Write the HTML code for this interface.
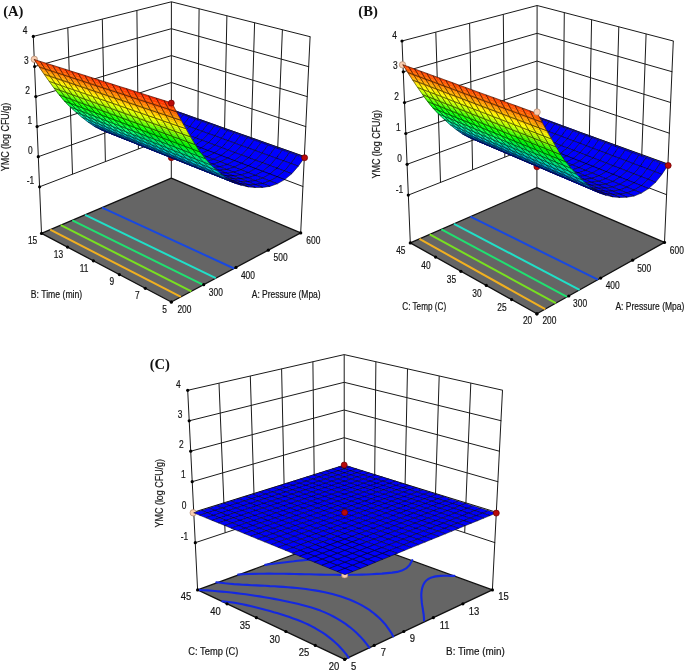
<!DOCTYPE html>
<html lang="en"><head><meta charset="utf-8"><title>Response surface plots</title>
<style>html,body{margin:0;padding:0;background:#fff}svg{display:block}</style></head>
<body>
<svg width="685" height="671" viewBox="0 0 685 671">
<rect width="685" height="671" fill="#fff"/>
<g id="plotA">
<polygon points="41.5,233.4 171.3,178.1 300.7,232.9 171.3,302" fill="#656565" stroke="#111" stroke-width="1.3" stroke-linejoin="round"/>
<line x1="50.2" y1="229.7" x2="180.9" y2="296.9" stroke="#f0b020" stroke-width="2.0"/>
<line x1="60.8" y1="225.2" x2="191.4" y2="291.3" stroke="#78e020" stroke-width="2.0"/>
<line x1="72.3" y1="220.3" x2="203.3" y2="284.9" stroke="#20e070" stroke-width="2.0"/>
<line x1="85.1" y1="214.8" x2="215.8" y2="278.2" stroke="#20e0c8" stroke-width="2.0"/>
<line x1="102.1" y1="207.6" x2="234.1" y2="268.5" stroke="#1848e0" stroke-width="2.0"/>
<path d="M171.3 109.9 L177.3 112 L183.3 114.2 L189.4 116.3 L195.5 118.5 L201.8 120.7 L208 122.9 L214.4 125.2 L220.8 127.5 L227.3 129.8 L233.9 132.1 L240.6 134.5 L247.3 136.9 L254.2 139.3 L261.1 141.8 L268 144.3 L275.1 146.8 L282.3 149.3 L289.5 151.9 L296.8 154.5 L304.3 157.1" fill="none" stroke="#0000ff" stroke-width="1.8" stroke-linecap="round" stroke-linejoin="round"/>
<path d="M33.3 36.4 L171.4 1.8 L310.1 36.7" fill="none" stroke="#1a1a1a" stroke-width="1.0" stroke-linecap="round" stroke-linejoin="round"/>
<path d="M34.6 66.5 L171.4 28.7 L308.7 66.7" fill="none" stroke="#1a1a1a" stroke-width="1.0" stroke-linecap="round" stroke-linejoin="round"/>
<path d="M35.8 96.6 L171.4 55.6 L307.2 96.6" fill="none" stroke="#1a1a1a" stroke-width="1.0" stroke-linecap="round" stroke-linejoin="round"/>
<path d="M37.1 126.6 L171.4 82.5 L305.8 126.6" fill="none" stroke="#1a1a1a" stroke-width="1.0" stroke-linecap="round" stroke-linejoin="round"/>
<path d="M38.3 156.7 L171.3 109.5 L304.4 156.5" fill="none" stroke="#1a1a1a" stroke-width="1.0" stroke-linecap="round" stroke-linejoin="round"/>
<path d="M39.6 186.8 L171.3 136.4 L302.9 186.5" fill="none" stroke="#1a1a1a" stroke-width="1.0" stroke-linecap="round" stroke-linejoin="round"/>
<line x1="41.5" y1="233.4" x2="33.3" y2="36.4" stroke="#1a1a1a" stroke-width="1.0"/>
<line x1="72.5" y1="174.2" x2="67.8" y2="27.8" stroke="#1a1a1a" stroke-width="1.0"/>
<line x1="105.4" y1="161.6" x2="102.3" y2="19.1" stroke="#1a1a1a" stroke-width="1.0"/>
<line x1="138.4" y1="149" x2="136.9" y2="10.4" stroke="#1a1a1a" stroke-width="1.0"/>
<line x1="171.3" y1="178.1" x2="171.4" y2="1.8" stroke="#1a1a1a" stroke-width="1.0"/>
<line x1="197.6" y1="146.4" x2="199.1" y2="8.8" stroke="#1a1a1a" stroke-width="1.0"/>
<line x1="224" y1="156.4" x2="226.9" y2="15.8" stroke="#1a1a1a" stroke-width="1.0"/>
<line x1="250.3" y1="166.4" x2="254.6" y2="22.7" stroke="#1a1a1a" stroke-width="1.0"/>
<line x1="276.6" y1="176.5" x2="282.4" y2="29.7" stroke="#1a1a1a" stroke-width="1.0"/>
<line x1="300.7" y1="232.9" x2="310.1" y2="36.7" stroke="#1a1a1a" stroke-width="1.0"/>
<circle cx="33.3" cy="36.4" r="1.6" fill="#000" stroke="none" stroke-width="0"/>
<circle cx="34.6" cy="66.5" r="1.6" fill="#000" stroke="none" stroke-width="0"/>
<circle cx="35.8" cy="96.6" r="1.6" fill="#000" stroke="none" stroke-width="0"/>
<circle cx="37.1" cy="126.6" r="1.6" fill="#000" stroke="none" stroke-width="0"/>
<circle cx="38.3" cy="156.7" r="1.6" fill="#000" stroke="none" stroke-width="0"/>
<circle cx="39.6" cy="186.8" r="1.6" fill="#000" stroke="none" stroke-width="0"/>
<circle cx="171.3" cy="302" r="1.6" fill="#000" stroke="none" stroke-width="0"/>
<circle cx="203.7" cy="284.7" r="1.6" fill="#000" stroke="none" stroke-width="0"/>
<circle cx="236" cy="267.4" r="1.6" fill="#000" stroke="none" stroke-width="0"/>
<circle cx="268.3" cy="250.2" r="1.6" fill="#000" stroke="none" stroke-width="0"/>
<circle cx="300.7" cy="232.9" r="1.6" fill="#000" stroke="none" stroke-width="0"/>
<circle cx="171.3" cy="302" r="1.6" fill="#000" stroke="none" stroke-width="0"/>
<circle cx="145.3" cy="288.3" r="1.6" fill="#000" stroke="none" stroke-width="0"/>
<circle cx="119.4" cy="274.6" r="1.6" fill="#000" stroke="none" stroke-width="0"/>
<circle cx="93.4" cy="260.8" r="1.6" fill="#000" stroke="none" stroke-width="0"/>
<circle cx="67.5" cy="247.1" r="1.6" fill="#000" stroke="none" stroke-width="0"/>
<circle cx="41.5" cy="233.4" r="1.6" fill="#000" stroke="none" stroke-width="0"/>
<circle cx="171.3" cy="157.7" r="3.0" fill="#b80a0a" stroke="#6a0000" stroke-width="0.7"/>
<circle cx="34.3" cy="59.3" r="3.2" fill="#f8cdb0" stroke="#a07860" stroke-width="0.6"/>
<g stroke-width="0.62" stroke-linejoin="round" stroke-opacity="0.8">
<polygon points="171.5,120.1 177.3,112.8 171.3,110.7 165.5,118" fill="#0000ff" stroke="#000"/>
<polygon points="165.1,126.6 171.5,120.1 165.5,118 159.1,124.4" fill="#0000ff" stroke="#000"/>
<polygon points="177.5,122.3 183.3,115 177.3,112.8 171.5,120.1" fill="#0000ff" stroke="#000"/>
<polygon points="158,131.6 165.1,126.6 159.1,124.4 152.1,129.3" fill="#0000ff" stroke="#000"/>
<polygon points="171.1,128.8 177.5,122.3 171.5,120.1 165.1,126.6" fill="#0000ff" stroke="#000"/>
<polygon points="183.6,124.5 189.4,117.1 183.3,115 177.5,122.3" fill="#0000ff" stroke="#000"/>
<polygon points="164,133.9 171.1,128.8 165.1,126.6 158,131.6" fill="#0000ff" stroke="#000"/>
<polygon points="177.1,131.1 183.6,124.5 177.5,122.3 171.1,128.8" fill="#0000ff" stroke="#000"/>
<polygon points="150.5,135 158,131.6 152.1,129.3 144.6,132.7" fill="#0000ff" stroke="#000"/>
<polygon points="189.7,126.7 195.5,119.3 189.4,117.1 183.6,124.5" fill="#0000ff" stroke="#000"/>
<polygon points="170,136.2 177.1,131.1 171.1,128.8 164,133.9" fill="#0000ff" stroke="#000"/>
<polygon points="183.2,133.3 189.7,126.7 183.6,124.5 177.1,131.1" fill="#0000ff" stroke="#000"/>
<polygon points="156.5,137.3 164,133.9 158,131.6 150.5,135" fill="#0000ff" stroke="#000"/>
<polygon points="195.9,129 201.8,121.5 195.5,119.3 189.7,126.7" fill="#0000ff" stroke="#000"/>
<polygon points="143,136.9 150.5,135 144.6,132.7 137.1,134.6" fill="#0000ff" stroke="#000"/>
<polygon points="176.2,138.5 183.2,133.3 177.1,131.1 170,136.2" fill="#0000ff" stroke="#000"/>
<polygon points="189.5,135.6 195.9,129 189.7,126.7 183.2,133.3" fill="#0000ff" stroke="#000"/>
<polygon points="162.6,139.6 170,136.2 164,133.9 156.5,137.3" fill="#0000ff" stroke="#000"/>
<polygon points="202.2,131.3 208,123.7 201.8,121.5 195.9,129" fill="#0000ff" stroke="#000"/>
<polygon points="149,139.3 156.5,137.3 150.5,135 143,136.9" fill="#0000ff" stroke="#000"/>
<polygon points="135.6,137.4 143,136.9 137.1,134.6 129.7,135.1" fill="#0000ff" stroke="#000"/>
<polygon points="182.4,140.8 189.5,135.6 183.2,133.3 176.2,138.5" fill="#0000ff" stroke="#000"/>
<polygon points="195.7,138 202.2,131.3 195.9,129 189.5,135.6" fill="#0000ff" stroke="#000"/>
<polygon points="168.7,142 176.2,138.5 170,136.2 162.6,139.6" fill="#0000ff" stroke="#000"/>
<polygon points="208.5,133.6 214.4,126 208,123.7 202.2,131.3" fill="#0000ff" stroke="#000"/>
<polygon points="155.1,141.6 162.6,139.6 156.5,137.3 149,139.3" fill="#0000ff" stroke="#000"/>
<polygon points="141.6,139.8 149,139.3 143,136.9 135.6,137.4" fill="#0000ff" stroke="#000"/>
<polygon points="188.6,143.2 195.7,138 189.5,135.6 182.4,140.8" fill="#0000ff" stroke="#000"/>
<polygon points="128.2,137.2 135.6,137.4 129.7,135.1 122.3,134.8" fill="#0000ff" stroke="#000"/>
<polygon points="202.1,140.3 208.5,133.6 202.2,131.3 195.7,138" fill="#0000ff" stroke="#000"/>
<polygon points="174.9,144.4 182.4,140.8 176.2,138.5 168.7,142" fill="#0000ff" stroke="#000"/>
<polygon points="215,135.9 220.8,128.3 214.4,126 208.5,133.6" fill="#0000ff" stroke="#000"/>
<polygon points="161.2,144 168.7,142 162.6,139.6 155.1,141.6" fill="#0000ff" stroke="#000"/>
<polygon points="147.6,142.2 155.1,141.6 149,139.3 141.6,139.8" fill="#0000ff" stroke="#000"/>
<polygon points="195,145.6 202.1,140.3 195.7,138 188.6,143.2" fill="#0000ff" stroke="#000"/>
<polygon points="134.2,139.5 141.6,139.8 135.6,137.4 128.2,137.2" fill="#0000ff" stroke="#000"/>
<polygon points="208.5,142.7 215,135.9 208.5,133.6 202.1,140.3" fill="#0000ff" stroke="#000"/>
<polygon points="181.2,146.8 188.6,143.2 182.4,140.8 174.9,144.4" fill="#0000ff" stroke="#000"/>
<polygon points="221.5,138.3 227.3,130.6 220.8,128.3 215,135.9" fill="#0000ff" stroke="#000"/>
<polygon points="167.4,146.4 174.9,144.4 168.7,142 161.2,144" fill="#0000ff" stroke="#000"/>
<polygon points="120.9,136.2 128.2,137.2 122.3,134.8 115,133.8" fill="#0000ff" stroke="#000"/>
<polygon points="153.8,144.6 161.2,144 155.1,141.6 147.6,142.2" fill="#0000ff" stroke="#000"/>
<polygon points="201.4,148 208.5,142.7 202.1,140.3 195,145.6" fill="#0000ff" stroke="#000"/>
<polygon points="140.3,141.9 147.6,142.2 141.6,139.8 134.2,139.5" fill="#0000ff" stroke="#000"/>
<polygon points="215,145.1 221.5,138.3 215,135.9 208.5,142.7" fill="#0000ff" stroke="#000"/>
<polygon points="187.5,149.3 195,145.6 188.6,143.2 181.2,146.8" fill="#0000ff" stroke="#000"/>
<polygon points="228,140.7 233.9,132.9 227.3,130.6 221.5,138.3" fill="#0000ff" stroke="#000"/>
<polygon points="173.7,148.9 181.2,146.8 174.9,144.4 167.4,146.4" fill="#0000ff" stroke="#000"/>
<polygon points="126.9,138.6 134.2,139.5 128.2,137.2 120.9,136.2" fill="#0000ff" stroke="#000"/>
<polygon points="160,147 167.4,146.4 161.2,144 153.8,144.6" fill="#0000ff" stroke="#000"/>
<polygon points="113.8,134.4 120.9,136.2 115,133.8 107.8,132" fill="#0000ff" stroke="#000"/>
<polygon points="207.9,150.5 215,145.1 208.5,142.7 201.4,148" fill="#0000ff" stroke="#000"/>
<polygon points="146.4,144.4 153.8,144.6 147.6,142.2 140.3,141.9" fill="#0000ff" stroke="#000"/>
<polygon points="221.6,147.6 228,140.7 221.5,138.3 215,145.1" fill="#0000ff" stroke="#000"/>
<polygon points="194,151.7 201.4,148 195,145.6 187.5,149.3" fill="#0000ff" stroke="#000"/>
<polygon points="234.7,143.1 240.6,135.3 233.9,132.9 228,140.7" fill="#0000ff" stroke="#000"/>
<polygon points="180,151.4 187.5,149.3 181.2,146.8 173.7,148.9" fill="#0000ff" stroke="#000"/>
<polygon points="133,141 140.3,141.9 134.2,139.5 126.9,138.6" fill="#0000ff" stroke="#000"/>
<polygon points="166.3,149.5 173.7,148.9 167.4,146.4 160,147" fill="#0000ff" stroke="#000"/>
<polygon points="119.8,136.7 126.9,138.6 120.9,136.2 113.8,134.4" fill="#0000ff" stroke="#000"/>
<polygon points="214.5,153 221.6,147.6 215,145.1 207.9,150.5" fill="#0000ff" stroke="#000"/>
<polygon points="152.6,146.8 160,147 153.8,144.6 146.4,144.4" fill="#0000ff" stroke="#000"/>
<polygon points="228.2,150.1 234.7,143.1 228,140.7 221.6,147.6" fill="#0000ff" stroke="#000"/>
<polygon points="106.8,132 109.1,132.9 103.2,130.5 100.8,129.6" fill="#0000ff" stroke="#0000ff" stroke-width="0.4"/>
<polygon points="109.1,132.9 111.5,133.6 105.5,131.3 103.2,130.5" fill="#0000ff" stroke="#0000ff" stroke-width="0.4"/>
<polygon points="111.5,133.6 113.8,134.4 107.8,132 105.5,131.3" fill="#0000ff" stroke="#0000ff" stroke-width="0.4"/>
<polygon points="106.8,132 113.8,134.4 107.8,132 100.8,129.6" fill="none" stroke="#000"/>
<polygon points="200.5,154.2 207.9,150.5 201.4,148 194,151.7" fill="#0000ff" stroke="#000"/>
<polygon points="241.4,145.6 247.3,137.7 240.6,135.3 234.7,143.1" fill="#0000ff" stroke="#000"/>
<polygon points="186.5,153.9 194,151.7 187.5,149.3 180,151.4" fill="#0000ff" stroke="#000"/>
<polygon points="139.1,143.4 146.4,144.4 140.3,141.9 133,141" fill="#0000ff" stroke="#000"/>
<polygon points="172.6,152 180,151.4 173.7,148.9 166.3,149.5" fill="#0000ff" stroke="#000"/>
<polygon points="125.9,139.2 133,141 126.9,138.6 119.8,136.7" fill="#0000ff" stroke="#000"/>
<polygon points="221.1,155.5 228.2,150.1 221.6,147.6 214.5,153" fill="#0000ff" stroke="#000"/>
<polygon points="158.9,149.3 166.3,149.5 160,147 152.6,146.8" fill="#0000ff" stroke="#000"/>
<polygon points="234.9,152.6 241.4,145.6 234.7,143.1 228.2,150.1" fill="#0000ff" stroke="#000"/>
<polygon points="112.8,134.4 115.1,135.3 109.1,132.9 106.8,132" fill="#0000ff" stroke="#0000ff" stroke-width="0.4"/>
<polygon points="115.1,135.3 117.5,136 111.5,133.6 109.1,132.9" fill="#0000ff" stroke="#0000ff" stroke-width="0.4"/>
<polygon points="117.5,136 119.8,136.7 113.8,134.4 111.5,133.6" fill="#0000ff" stroke="#0000ff" stroke-width="0.4"/>
<polygon points="112.8,134.4 119.8,136.7 113.8,134.4 106.8,132" fill="none" stroke="#000"/>
<polygon points="207,156.8 214.5,153 207.9,150.5 200.5,154.2" fill="#0000ff" stroke="#000"/>
<polygon points="248.2,148 254.2,140.1 247.3,137.7 241.4,145.6" fill="#0000ff" stroke="#000"/>
<polygon points="100.1,128.5 102.4,129.9 96.4,127.5 94.2,126.2" fill="#0043d4" stroke="#0043d4" stroke-width="0.4"/>
<polygon points="102.4,129.9 104.6,131 98.6,128.6 96.4,127.5" fill="#0027d4" stroke="#0027d4" stroke-width="0.4"/>
<polygon points="104.6,131 106.8,132 100.8,129.6 98.6,128.6" fill="#0011d4" stroke="#0011d4" stroke-width="0.4"/>
<polygon points="100.1,128.5 106.8,132 100.8,129.6 94.2,126.2" fill="none" stroke="#000"/>
<polygon points="193,156.4 200.5,154.2 194,151.7 186.5,153.9" fill="#0000ff" stroke="#000"/>
<polygon points="145.3,145.9 152.6,146.8 146.4,144.4 139.1,143.4" fill="#0000ff" stroke="#000"/>
<polygon points="179,154.5 186.5,153.9 180,151.4 172.6,152" fill="#0000ff" stroke="#000"/>
<polygon points="132,141.6 139.1,143.4 133,141 125.9,139.2" fill="#0000ff" stroke="#000"/>
<polygon points="227.8,158.1 234.9,152.6 228.2,150.1 221.1,155.5" fill="#0000ff" stroke="#000"/>
<polygon points="165.3,151.8 172.6,152 166.3,149.5 158.9,149.3" fill="#0000ff" stroke="#000"/>
<polygon points="241.7,155.1 248.2,148 241.4,145.6 234.9,152.6" fill="#0000ff" stroke="#000"/>
<polygon points="118.9,136.8 121.2,137.7 115.1,135.3 112.8,134.4" fill="#0000ff" stroke="#0000ff" stroke-width="0.4"/>
<polygon points="121.2,137.7 123.5,138.5 117.5,136 115.1,135.3" fill="#0000ff" stroke="#0000ff" stroke-width="0.4"/>
<polygon points="123.5,138.5 125.9,139.2 119.8,136.7 117.5,136" fill="#0000ff" stroke="#0000ff" stroke-width="0.4"/>
<polygon points="118.9,136.8 125.9,139.2 119.8,136.7 112.8,134.4" fill="none" stroke="#000"/>
<polygon points="213.7,159.3 221.1,155.5 214.5,153 207,156.8" fill="#0000ff" stroke="#000"/>
<polygon points="255.1,150.5 261.1,142.6 254.2,140.1 248.2,148" fill="#0000ff" stroke="#000"/>
<polygon points="106.2,130.9 108.4,132.3 102.4,129.9 100.1,128.5" fill="#0043d4" stroke="#0043d4" stroke-width="0.4"/>
<polygon points="108.4,132.3 110.6,133.4 104.6,131 102.4,129.9" fill="#0027d4" stroke="#0027d4" stroke-width="0.4"/>
<polygon points="110.6,133.4 112.8,134.4 106.8,132 104.6,131" fill="#0011d4" stroke="#0011d4" stroke-width="0.4"/>
<polygon points="106.2,130.9 112.8,134.4 106.8,132 100.1,128.5" fill="none" stroke="#000"/>
<polygon points="199.5,159 207,156.8 200.5,154.2 193,156.4" fill="#0000ff" stroke="#000"/>
<polygon points="151.6,148.4 158.9,149.3 152.6,146.8 145.3,145.9" fill="#0000ff" stroke="#000"/>
<polygon points="93.9,124.2 96,125.7 90,123.4 87.9,121.9" fill="#00a0d4" stroke="#00a0d4" stroke-width="0.4"/>
<polygon points="96,125.7 98.1,127.2 92.1,124.8 90,123.4" fill="#0083d4" stroke="#0083d4" stroke-width="0.4"/>
<polygon points="98.1,127.2 100.1,128.5 94.2,126.2 92.1,124.8" fill="#0063d4" stroke="#0063d4" stroke-width="0.4"/>
<polygon points="93.9,124.2 100.1,128.5 94.2,126.2 87.9,121.9" fill="none" stroke="#000"/>
<polygon points="185.6,157.1 193,156.4 186.5,153.9 179,154.5" fill="#0000ff" stroke="#000"/>
<polygon points="138.2,144.1 145.3,145.9 139.1,143.4 132,141.6" fill="#0000ff" stroke="#000"/>
<polygon points="234.6,160.7 241.7,155.1 234.9,152.6 227.8,158.1" fill="#0000ff" stroke="#000"/>
<polygon points="171.7,154.4 179,154.5 172.6,152 165.3,151.8" fill="#0000ff" stroke="#000"/>
<polygon points="248.6,157.7 255.1,150.5 248.2,148 241.7,155.1" fill="#0000ff" stroke="#000"/>
<polygon points="125,139.3 127.4,140.1 121.2,137.7 118.9,136.8" fill="#0000ff" stroke="#0000ff" stroke-width="0.4"/>
<polygon points="127.4,140.1 129.7,140.9 123.5,138.5 121.2,137.7" fill="#0000ff" stroke="#0000ff" stroke-width="0.4"/>
<polygon points="129.7,140.9 132,141.6 125.9,139.2 123.5,138.5" fill="#0000ff" stroke="#0000ff" stroke-width="0.4"/>
<polygon points="125,139.3 132,141.6 125.9,139.2 118.9,136.8" fill="none" stroke="#000"/>
<polygon points="220.4,161.9 227.8,158.1 221.1,155.5 213.7,159.3" fill="#0000ff" stroke="#000"/>
<polygon points="262.1,153.1 268,145.1 261.1,142.6 255.1,150.5" fill="#0000ff" stroke="#000"/>
<polygon points="112.3,133.4 114.5,134.7 108.4,132.3 106.2,130.9" fill="#0043d4" stroke="#0043d4" stroke-width="0.4"/>
<polygon points="114.5,134.7 116.7,135.8 110.6,133.4 108.4,132.3" fill="#0027d4" stroke="#0027d4" stroke-width="0.4"/>
<polygon points="116.7,135.8 118.9,136.8 112.8,134.4 110.6,133.4" fill="#0011d4" stroke="#0011d4" stroke-width="0.4"/>
<polygon points="112.3,133.4 118.9,136.8 112.8,134.4 106.2,130.9" fill="none" stroke="#000"/>
<polygon points="206.2,161.5 213.7,159.3 207,156.8 199.5,159" fill="#0000ff" stroke="#000"/>
<polygon points="158,150.9 165.3,151.8 158.9,149.3 151.6,148.4" fill="#0000ff" stroke="#000"/>
<polygon points="99.9,126.6 102,128.1 96,125.7 93.9,124.2" fill="#00a0d4" stroke="#00a0d4" stroke-width="0.4"/>
<polygon points="102,128.1 104.1,129.6 98.1,127.2 96,125.7" fill="#0083d4" stroke="#0083d4" stroke-width="0.4"/>
<polygon points="104.1,129.6 106.2,130.9 100.1,128.5 98.1,127.2" fill="#0063d4" stroke="#0063d4" stroke-width="0.4"/>
<polygon points="99.9,126.6 106.2,130.9 100.1,128.5 93.9,124.2" fill="none" stroke="#000"/>
<polygon points="192.1,159.7 199.5,159 193,156.4 185.6,157.1" fill="#0000ff" stroke="#000"/>
<polygon points="144.5,146.6 151.6,148.4 145.3,145.9 138.2,144.1" fill="#0000ff" stroke="#000"/>
<polygon points="87.7,119.5 89.8,121.2 83.8,118.8 81.8,117.2" fill="#00dfc4" stroke="#00dfc4" stroke-width="0.4"/>
<polygon points="89.8,121.2 91.8,122.8 85.9,120.4 83.8,118.8" fill="#00dad8" stroke="#00dad8" stroke-width="0.4"/>
<polygon points="91.8,122.8 93.9,124.2 87.9,121.9 85.9,120.4" fill="#00bcd5" stroke="#00bcd5" stroke-width="0.4"/>
<polygon points="87.7,119.5 93.9,124.2 87.9,121.9 81.8,117.2" fill="none" stroke="#000"/>
<polygon points="241.5,163.3 248.6,157.7 241.7,155.1 234.6,160.7" fill="#0000ff" stroke="#000"/>
<polygon points="178.2,156.9 185.6,157.1 179,154.5 171.7,154.4" fill="#0000ff" stroke="#000"/>
<polygon points="255.6,160.3 262.1,153.1 255.1,150.5 248.6,157.7" fill="#0000ff" stroke="#000"/>
<polygon points="131.3,141.7 133.6,142.6 127.4,140.1 125,139.3" fill="#0000ff" stroke="#0000ff" stroke-width="0.4"/>
<polygon points="133.6,142.6 135.9,143.4 129.7,140.9 127.4,140.1" fill="#0000ff" stroke="#0000ff" stroke-width="0.4"/>
<polygon points="135.9,143.4 138.2,144.1 132,141.6 129.7,140.9" fill="#0000ff" stroke="#0000ff" stroke-width="0.4"/>
<polygon points="131.3,141.7 138.2,144.1 132,141.6 125,139.3" fill="none" stroke="#000"/>
<polygon points="227.2,164.5 234.6,160.7 227.8,158.1 220.4,161.9" fill="#0000ff" stroke="#000"/>
<polygon points="269.2,155.7 275.1,147.6 268,145.1 262.1,153.1" fill="#0000ff" stroke="#000"/>
<polygon points="118.4,135.8 120.6,137.1 114.5,134.7 112.3,133.4" fill="#0043d4" stroke="#0043d4" stroke-width="0.4"/>
<polygon points="120.6,137.1 122.8,138.3 116.7,135.8 114.5,134.7" fill="#0027d4" stroke="#0027d4" stroke-width="0.4"/>
<polygon points="122.8,138.3 125,139.3 118.9,136.8 116.7,135.8" fill="#0011d4" stroke="#0011d4" stroke-width="0.4"/>
<polygon points="118.4,135.8 125,139.3 118.9,136.8 112.3,133.4" fill="none" stroke="#000"/>
<polygon points="212.9,164.2 220.4,161.9 213.7,159.3 206.2,161.5" fill="#0000ff" stroke="#000"/>
<polygon points="164.4,153.5 171.7,154.4 165.3,151.8 158,150.9" fill="#0000ff" stroke="#000"/>
<polygon points="106,129 108.1,130.5 102,128.1 99.9,126.6" fill="#00a0d4" stroke="#00a0d4" stroke-width="0.4"/>
<polygon points="108.1,130.5 110.2,132 104.1,129.6 102,128.1" fill="#0083d4" stroke="#0083d4" stroke-width="0.4"/>
<polygon points="110.2,132 112.3,133.4 106.2,130.9 104.1,129.6" fill="#0063d4" stroke="#0063d4" stroke-width="0.4"/>
<polygon points="106,129 112.3,133.4 106.2,130.9 99.9,126.6" fill="none" stroke="#000"/>
<polygon points="198.8,162.3 206.2,161.5 199.5,159 192.1,159.7" fill="#0000ff" stroke="#000"/>
<polygon points="150.9,149.2 158,150.9 151.6,148.4 144.5,146.6" fill="#0000ff" stroke="#000"/>
<polygon points="93.8,121.9 95.8,123.6 89.8,121.2 87.7,119.5" fill="#00dfc4" stroke="#00dfc4" stroke-width="0.4"/>
<polygon points="95.8,123.6 97.9,125.1 91.8,122.8 89.8,121.2" fill="#00dad8" stroke="#00dad8" stroke-width="0.4"/>
<polygon points="97.9,125.1 99.9,126.6 93.9,124.2 91.8,122.8" fill="#00bcd5" stroke="#00bcd5" stroke-width="0.4"/>
<polygon points="93.8,121.9 99.9,126.6 93.9,124.2 87.7,119.5" fill="none" stroke="#000"/>
<polygon points="248.5,165.9 255.6,160.3 248.6,157.7 241.5,163.3" fill="#0000ff" stroke="#000"/>
<polygon points="184.8,159.6 192.1,159.7 185.6,157.1 178.2,156.9" fill="#0000ff" stroke="#000"/>
<polygon points="262.7,162.9 269.2,155.7 262.1,153.1 255.6,160.3" fill="#0000ff" stroke="#000"/>
<polygon points="137.6,144.3 139.9,145.1 133.6,142.6 131.3,141.7" fill="#0000ff" stroke="#0000ff" stroke-width="0.4"/>
<polygon points="139.9,145.1 142.2,145.9 135.9,143.4 133.6,142.6" fill="#0000ff" stroke="#0000ff" stroke-width="0.4"/>
<polygon points="142.2,145.9 144.5,146.6 138.2,144.1 135.9,143.4" fill="#0000ff" stroke="#0000ff" stroke-width="0.4"/>
<polygon points="137.6,144.3 144.5,146.6 138.2,144.1 131.3,141.7" fill="none" stroke="#000"/>
<polygon points="234.1,167.2 241.5,163.3 234.6,160.7 227.2,164.5" fill="#0000ff" stroke="#000"/>
<polygon points="81.7,114.4 83.8,116.2 77.8,113.8 75.8,112.1" fill="#00ee92" stroke="#00ee92" stroke-width="0.4"/>
<polygon points="83.8,116.2 85.7,117.9 79.8,115.5 77.8,113.8" fill="#00e9a4" stroke="#00e9a4" stroke-width="0.4"/>
<polygon points="85.7,117.9 87.7,119.5 81.8,117.2 79.8,115.5" fill="#00e4b5" stroke="#00e4b5" stroke-width="0.4"/>
<polygon points="81.7,114.4 87.7,119.5 81.8,117.2 75.8,112.1" fill="none" stroke="#000"/>
<polygon points="276.3,158.3 282.3,150.1 275.1,147.6 269.2,155.7" fill="#0000ff" stroke="#000"/>
<polygon points="124.7,138.3 126.9,139.6 120.6,137.1 118.4,135.8" fill="#0043d4" stroke="#0043d4" stroke-width="0.4"/>
<polygon points="126.9,139.6 129.1,140.8 122.8,138.3 120.6,137.1" fill="#0027d4" stroke="#0027d4" stroke-width="0.4"/>
<polygon points="129.1,140.8 131.3,141.7 125,139.3 122.8,138.3" fill="#0011d4" stroke="#0011d4" stroke-width="0.4"/>
<polygon points="124.7,138.3 131.3,141.7 125,139.3 118.4,135.8" fill="none" stroke="#000"/>
<polygon points="219.8,166.8 227.2,164.5 220.4,161.9 212.9,164.2" fill="#0000ff" stroke="#000"/>
<polygon points="171,156.1 178.2,156.9 171.7,154.4 164.4,153.5" fill="#0000ff" stroke="#000"/>
<polygon points="112.2,131.5 114.3,133 108.1,130.5 106,129" fill="#00a0d4" stroke="#00a0d4" stroke-width="0.4"/>
<polygon points="114.3,133 116.4,134.4 110.2,132 108.1,130.5" fill="#0083d4" stroke="#0083d4" stroke-width="0.4"/>
<polygon points="116.4,134.4 118.4,135.8 112.3,133.4 110.2,132" fill="#0063d4" stroke="#0063d4" stroke-width="0.4"/>
<polygon points="112.2,131.5 118.4,135.8 112.3,133.4 106,129" fill="none" stroke="#000"/>
<polygon points="205.6,164.9 212.9,164.2 206.2,161.5 198.8,162.3" fill="#0000ff" stroke="#000"/>
<polygon points="157.4,151.7 164.4,153.5 158,150.9 150.9,149.2" fill="#0000ff" stroke="#000"/>
<polygon points="99.9,124.3 101.9,126 95.8,123.6 93.8,121.9" fill="#00dfc4" stroke="#00dfc4" stroke-width="0.4"/>
<polygon points="101.9,126 104,127.6 97.9,125.1 95.8,123.6" fill="#00dad8" stroke="#00dad8" stroke-width="0.4"/>
<polygon points="104,127.6 106,129 99.9,126.6 97.9,125.1" fill="#00bcd5" stroke="#00bcd5" stroke-width="0.4"/>
<polygon points="99.9,124.3 106,129 99.9,126.6 93.8,121.9" fill="none" stroke="#000"/>
<polygon points="255.6,168.6 262.7,162.9 255.6,160.3 248.5,165.9" fill="#0000ff" stroke="#000"/>
<polygon points="191.5,162.2 198.8,162.3 192.1,159.7 184.8,159.6" fill="#0000ff" stroke="#000"/>
<polygon points="269.8,165.5 276.3,158.3 269.2,155.7 262.7,162.9" fill="#0000ff" stroke="#000"/>
<polygon points="144,146.8 146.3,147.7 139.9,145.1 137.6,144.3" fill="#0000ff" stroke="#0000ff" stroke-width="0.4"/>
<polygon points="146.3,147.7 148.6,148.5 142.2,145.9 139.9,145.1" fill="#0000ff" stroke="#0000ff" stroke-width="0.4"/>
<polygon points="148.6,148.5 150.9,149.2 144.5,146.6 142.2,145.9" fill="#0000ff" stroke="#0000ff" stroke-width="0.4"/>
<polygon points="144,146.8 150.9,149.2 144.5,146.6 137.6,144.3" fill="none" stroke="#000"/>
<polygon points="241.1,169.9 248.5,165.9 241.5,163.3 234.1,167.2" fill="#0000ff" stroke="#000"/>
<polygon points="87.8,116.8 89.8,118.5 83.8,116.2 81.7,114.4" fill="#00ee92" stroke="#00ee92" stroke-width="0.4"/>
<polygon points="89.8,118.5 91.8,120.3 85.7,117.9 83.8,116.2" fill="#00e9a4" stroke="#00e9a4" stroke-width="0.4"/>
<polygon points="91.8,120.3 93.8,121.9 87.7,119.5 85.7,117.9" fill="#00e4b5" stroke="#00e4b5" stroke-width="0.4"/>
<polygon points="87.8,116.8 93.8,121.9 87.7,119.5 81.7,114.4" fill="none" stroke="#000"/>
<polygon points="283.6,160.9 289.5,152.7 282.3,150.1 276.3,158.3" fill="#0000ff" stroke="#000"/>
<polygon points="76,109.1 77.9,110.9 71.9,108.6 70,106.8" fill="#00fd57" stroke="#00fd57" stroke-width="0.4"/>
<polygon points="77.9,110.9 79.8,112.7 73.9,110.4 71.9,108.6" fill="#00f86c" stroke="#00f86c" stroke-width="0.4"/>
<polygon points="79.8,112.7 81.7,114.4 75.8,112.1 73.9,110.4" fill="#00f37f" stroke="#00f37f" stroke-width="0.4"/>
<polygon points="76,109.1 81.7,114.4 75.8,112.1 70,106.8" fill="none" stroke="#000"/>
<polygon points="131,140.8 133.2,142.2 126.9,139.6 124.7,138.3" fill="#0043d4" stroke="#0043d4" stroke-width="0.4"/>
<polygon points="133.2,142.2 135.4,143.3 129.1,140.8 126.9,139.6" fill="#0027d4" stroke="#0027d4" stroke-width="0.4"/>
<polygon points="135.4,143.3 137.6,144.3 131.3,141.7 129.1,140.8" fill="#0011d4" stroke="#0011d4" stroke-width="0.4"/>
<polygon points="131,140.8 137.6,144.3 131.3,141.7 124.7,138.3" fill="none" stroke="#000"/>
<polygon points="226.7,169.5 234.1,167.2 227.2,164.5 219.8,166.8" fill="#0000ff" stroke="#000"/>
<polygon points="177.6,158.7 184.8,159.6 178.2,156.9 171,156.1" fill="#0000ff" stroke="#000"/>
<polygon points="118.4,134 120.5,135.5 114.3,133 112.2,131.5" fill="#00a0d4" stroke="#00a0d4" stroke-width="0.4"/>
<polygon points="120.5,135.5 122.6,136.9 116.4,134.4 114.3,133" fill="#0083d4" stroke="#0083d4" stroke-width="0.4"/>
<polygon points="122.6,136.9 124.7,138.3 118.4,135.8 116.4,134.4" fill="#0063d4" stroke="#0063d4" stroke-width="0.4"/>
<polygon points="118.4,134 124.7,138.3 118.4,135.8 112.2,131.5" fill="none" stroke="#000"/>
<polygon points="212.4,167.6 219.8,166.8 212.9,164.2 205.6,164.9" fill="#0000ff" stroke="#000"/>
<polygon points="163.9,154.3 171,156.1 164.4,153.5 157.4,151.7" fill="#0000ff" stroke="#000"/>
<polygon points="106.1,126.8 108.1,128.4 101.9,126 99.9,124.3" fill="#00dfc4" stroke="#00dfc4" stroke-width="0.4"/>
<polygon points="108.1,128.4 110.2,130 104,127.6 101.9,126" fill="#00dad8" stroke="#00dad8" stroke-width="0.4"/>
<polygon points="110.2,130 112.2,131.5 106,129 104,127.6" fill="#00bcd5" stroke="#00bcd5" stroke-width="0.4"/>
<polygon points="106.1,126.8 112.2,131.5 106,129 99.9,124.3" fill="none" stroke="#000"/>
<polygon points="262.7,171.3 269.8,165.5 262.7,162.9 255.6,168.6" fill="#0000ff" stroke="#000"/>
<polygon points="198.3,164.9 205.6,164.9 198.8,162.3 191.5,162.2" fill="#0000ff" stroke="#000"/>
<polygon points="277,168.2 283.6,160.9 276.3,158.3 269.8,165.5" fill="#0000ff" stroke="#000"/>
<polygon points="150.4,149.4 152.8,150.3 146.3,147.7 144,146.8" fill="#0000ff" stroke="#0000ff" stroke-width="0.4"/>
<polygon points="152.8,150.3 155.1,151 148.6,148.5 146.3,147.7" fill="#0000ff" stroke="#0000ff" stroke-width="0.4"/>
<polygon points="155.1,151 157.4,151.7 150.9,149.2 148.6,148.5" fill="#0000ff" stroke="#0000ff" stroke-width="0.4"/>
<polygon points="150.4,149.4 157.4,151.7 150.9,149.2 144,146.8" fill="none" stroke="#000"/>
<polygon points="248.2,172.6 255.6,168.6 248.5,165.9 241.1,169.9" fill="#0000ff" stroke="#000"/>
<polygon points="93.9,119.2 95.9,120.9 89.8,118.5 87.8,116.8" fill="#00ee92" stroke="#00ee92" stroke-width="0.4"/>
<polygon points="95.9,120.9 97.9,122.7 91.8,120.3 89.8,118.5" fill="#00e9a4" stroke="#00e9a4" stroke-width="0.4"/>
<polygon points="97.9,122.7 99.9,124.3 93.8,121.9 91.8,120.3" fill="#00e4b5" stroke="#00e4b5" stroke-width="0.4"/>
<polygon points="93.9,119.2 99.9,124.3 93.8,121.9 87.8,116.8" fill="none" stroke="#000"/>
<polygon points="290.9,163.5 296.8,155.3 289.5,152.7 283.6,160.9" fill="#0000ff" stroke="#000"/>
<polygon points="82,111.4 84,113.2 77.9,110.9 76,109.1" fill="#00fd57" stroke="#00fd57" stroke-width="0.4"/>
<polygon points="84,113.2 85.9,115 79.8,112.7 77.9,110.9" fill="#00f86c" stroke="#00f86c" stroke-width="0.4"/>
<polygon points="85.9,115 87.8,116.8 81.7,114.4 79.8,112.7" fill="#00f37f" stroke="#00f37f" stroke-width="0.4"/>
<polygon points="82,111.4 87.8,116.8 81.7,114.4 76,109.1" fill="none" stroke="#000"/>
<polygon points="137.4,143.4 139.6,144.7 133.2,142.2 131,140.8" fill="#0043d4" stroke="#0043d4" stroke-width="0.4"/>
<polygon points="139.6,144.7 141.8,145.9 135.4,143.3 133.2,142.2" fill="#0027d4" stroke="#0027d4" stroke-width="0.4"/>
<polygon points="141.8,145.9 144,146.8 137.6,144.3 135.4,143.3" fill="#0011d4" stroke="#0011d4" stroke-width="0.4"/>
<polygon points="137.4,143.4 144,146.8 137.6,144.3 131,140.8" fill="none" stroke="#000"/>
<polygon points="233.7,172.2 241.1,169.9 234.1,167.2 226.7,169.5" fill="#0000ff" stroke="#000"/>
<polygon points="184.3,161.4 191.5,162.2 184.8,159.6 177.6,158.7" fill="#0000ff" stroke="#000"/>
<polygon points="70.4,103.3 72.3,105.3 66.3,103.1 64.4,101.1" fill="#00ff1a" stroke="#00ff1a" stroke-width="0.4"/>
<polygon points="72.3,105.3 74.1,107.2 68.1,105 66.3,103.1" fill="#00ff2e" stroke="#00ff2e" stroke-width="0.4"/>
<polygon points="74.1,107.2 76,109.1 70,106.8 68.1,105" fill="#00ff41" stroke="#00ff41" stroke-width="0.4"/>
<polygon points="70.4,103.3 76,109.1 70,106.8 64.4,101.1" fill="none" stroke="#000"/>
<polygon points="124.8,136.5 126.9,138 120.5,135.5 118.4,134" fill="#00a0d4" stroke="#00a0d4" stroke-width="0.4"/>
<polygon points="126.9,138 128.9,139.4 122.6,136.9 120.5,135.5" fill="#0083d4" stroke="#0083d4" stroke-width="0.4"/>
<polygon points="128.9,139.4 131,140.8 124.7,138.3 122.6,136.9" fill="#0063d4" stroke="#0063d4" stroke-width="0.4"/>
<polygon points="124.8,136.5 131,140.8 124.7,138.3 118.4,134" fill="none" stroke="#000"/>
<polygon points="219.3,170.3 226.7,169.5 219.8,166.8 212.4,167.6" fill="#0000ff" stroke="#000"/>
<polygon points="170.5,157 177.6,158.7 171,156.1 163.9,154.3" fill="#0000ff" stroke="#000"/>
<polygon points="112.3,129.2 114.4,130.9 108.1,128.4 106.1,126.8" fill="#00dfc4" stroke="#00dfc4" stroke-width="0.4"/>
<polygon points="114.4,130.9 116.4,132.5 110.2,130 108.1,128.4" fill="#00dad8" stroke="#00dad8" stroke-width="0.4"/>
<polygon points="116.4,132.5 118.4,134 112.2,131.5 110.2,130" fill="#00bcd5" stroke="#00bcd5" stroke-width="0.4"/>
<polygon points="112.3,129.2 118.4,134 112.2,131.5 106.1,126.8" fill="none" stroke="#000"/>
<polygon points="269.9,174 277,168.2 269.8,165.5 262.7,171.3" fill="#0000ff" stroke="#000"/>
<polygon points="205.1,167.6 212.4,167.6 205.6,164.9 198.3,164.9" fill="#0000ff" stroke="#000"/>
<polygon points="284.4,171 290.9,163.5 283.6,160.9 277,168.2" fill="#0000ff" stroke="#000"/>
<polygon points="157,152 159.3,152.9 152.8,150.3 150.4,149.4" fill="#0000ff" stroke="#0000ff" stroke-width="0.4"/>
<polygon points="159.3,152.9 161.6,153.6 155.1,151 152.8,150.3" fill="#0000ff" stroke="#0000ff" stroke-width="0.4"/>
<polygon points="161.6,153.6 163.9,154.3 157.4,151.7 155.1,151" fill="#0000ff" stroke="#0000ff" stroke-width="0.4"/>
<polygon points="157,152 163.9,154.3 157.4,151.7 150.4,149.4" fill="none" stroke="#000"/>
<polygon points="255.3,175.4 262.7,171.3 255.6,168.6 248.2,172.6" fill="#0000ff" stroke="#000"/>
<polygon points="100.1,121.6 102.1,123.4 95.9,120.9 93.9,119.2" fill="#00ee92" stroke="#00ee92" stroke-width="0.4"/>
<polygon points="102.1,123.4 104.1,125.1 97.9,122.7 95.9,120.9" fill="#00e9a4" stroke="#00e9a4" stroke-width="0.4"/>
<polygon points="104.1,125.1 106.1,126.8 99.9,124.3 97.9,122.7" fill="#00e4b5" stroke="#00e4b5" stroke-width="0.4"/>
<polygon points="100.1,121.6 106.1,126.8 99.9,124.3 93.9,119.2" fill="none" stroke="#000"/>
<polygon points="298.3,166.2 304.3,157.9 296.8,155.3 290.9,163.5" fill="#0000ff" stroke="#000"/>
<polygon points="88.2,113.7 90.1,115.6 84,113.2 82,111.4" fill="#00fd57" stroke="#00fd57" stroke-width="0.4"/>
<polygon points="90.1,115.6 92,117.4 85.9,115 84,113.2" fill="#00f86c" stroke="#00f86c" stroke-width="0.4"/>
<polygon points="92,117.4 93.9,119.2 87.8,116.8 85.9,115" fill="#00f37f" stroke="#00f37f" stroke-width="0.4"/>
<polygon points="88.2,113.7 93.9,119.2 87.8,116.8 82,111.4" fill="none" stroke="#000"/>
<polygon points="143.9,145.9 146.1,147.3 139.6,144.7 137.4,143.4" fill="#0043d4" stroke="#0043d4" stroke-width="0.4"/>
<polygon points="146.1,147.3 148.2,148.4 141.8,145.9 139.6,144.7" fill="#0027d4" stroke="#0027d4" stroke-width="0.4"/>
<polygon points="148.2,148.4 150.4,149.4 144,146.8 141.8,145.9" fill="#0011d4" stroke="#0011d4" stroke-width="0.4"/>
<polygon points="143.9,145.9 150.4,149.4 144,146.8 137.4,143.4" fill="none" stroke="#000"/>
<polygon points="240.7,175 248.2,172.6 241.1,169.9 233.7,172.2" fill="#0000ff" stroke="#000"/>
<polygon points="191,164.1 198.3,164.9 191.5,162.2 184.3,161.4" fill="#0000ff" stroke="#000"/>
<polygon points="76.4,105.6 78.3,107.6 72.3,105.3 70.4,103.3" fill="#00ff19" stroke="#00ff19" stroke-width="0.4"/>
<polygon points="78.3,107.6 80.2,109.5 74.1,107.2 72.3,105.3" fill="#00ff2d" stroke="#00ff2d" stroke-width="0.4"/>
<polygon points="80.2,109.5 82,111.4 76,109.1 74.1,107.2" fill="#00ff41" stroke="#00ff41" stroke-width="0.4"/>
<polygon points="76.4,105.6 82,111.4 76,109.1 70.4,103.3" fill="none" stroke="#000"/>
<polygon points="131.2,139 133.3,140.5 126.9,138 124.8,136.5" fill="#00a0d4" stroke="#00a0d4" stroke-width="0.4"/>
<polygon points="133.3,140.5 135.3,142 128.9,139.4 126.9,138" fill="#0083d4" stroke="#0083d4" stroke-width="0.4"/>
<polygon points="135.3,142 137.4,143.4 131,140.8 128.9,139.4" fill="#0063d4" stroke="#0063d4" stroke-width="0.4"/>
<polygon points="131.2,139 137.4,143.4 131,140.8 124.8,136.5" fill="none" stroke="#000"/>
<polygon points="65.1,97 66.9,99.3 60.9,97 59.1,94.8" fill="#23ff00" stroke="#23ff00" stroke-width="0.4"/>
<polygon points="66.9,99.3 68.6,101.3 62.6,99.1 60.9,97" fill="#0eff00" stroke="#0eff00" stroke-width="0.4"/>
<polygon points="68.6,101.3 70.4,103.3 64.4,101.1 62.6,99.1" fill="#00ff06" stroke="#00ff06" stroke-width="0.4"/>
<polygon points="65.1,97 70.4,103.3 64.4,101.1 59.1,94.8" fill="none" stroke="#000"/>
<polygon points="226.3,173.1 233.7,172.2 226.7,169.5 219.3,170.3" fill="#0000ff" stroke="#000"/>
<polygon points="177.2,159.6 184.3,161.4 177.6,158.7 170.5,157" fill="#0000ff" stroke="#000"/>
<polygon points="118.7,131.7 120.7,133.4 114.4,130.9 112.3,129.2" fill="#00dfc4" stroke="#00dfc4" stroke-width="0.4"/>
<polygon points="120.7,133.4 122.7,135 116.4,132.5 114.4,130.9" fill="#00dad8" stroke="#00dad8" stroke-width="0.4"/>
<polygon points="122.7,135 124.8,136.5 118.4,134 116.4,132.5" fill="#00bcd5" stroke="#00bcd5" stroke-width="0.4"/>
<polygon points="118.7,131.7 124.8,136.5 118.4,134 112.3,129.2" fill="none" stroke="#000"/>
<polygon points="277.3,176.8 284.4,171 277,168.2 269.9,174" fill="#0000ff" stroke="#000"/>
<polygon points="212,170.3 219.3,170.3 212.4,167.6 205.1,167.6" fill="#0000ff" stroke="#000"/>
<polygon points="291.8,173.7 298.3,166.2 290.9,163.5 284.4,171" fill="#0000ff" stroke="#000"/>
<polygon points="163.6,154.6 165.9,155.5 159.3,152.9 157,152" fill="#0000ff" stroke="#0000ff" stroke-width="0.4"/>
<polygon points="165.9,155.5 168.2,156.3 161.6,153.6 159.3,152.9" fill="#0000ff" stroke="#0000ff" stroke-width="0.4"/>
<polygon points="168.2,156.3 170.5,157 163.9,154.3 161.6,153.6" fill="#0000ff" stroke="#0000ff" stroke-width="0.4"/>
<polygon points="163.6,154.6 170.5,157 163.9,154.3 157,152" fill="none" stroke="#000"/>
<polygon points="262.6,178.1 269.9,174 262.7,171.3 255.3,175.4" fill="#0000ff" stroke="#000"/>
<polygon points="106.4,124 108.4,125.8 102.1,123.4 100.1,121.6" fill="#00ee92" stroke="#00ee92" stroke-width="0.4"/>
<polygon points="108.4,125.8 110.4,127.6 104.1,125.1 102.1,123.4" fill="#00e9a4" stroke="#00e9a4" stroke-width="0.4"/>
<polygon points="110.4,127.6 112.3,129.2 106.1,126.8 104.1,125.1" fill="#00e4b5" stroke="#00e4b5" stroke-width="0.4"/>
<polygon points="106.4,124 112.3,129.2 106.1,126.8 100.1,121.6" fill="none" stroke="#000"/>
<polygon points="94.4,116.1 96.3,118 90.1,115.6 88.2,113.7" fill="#00fd57" stroke="#00fd57" stroke-width="0.4"/>
<polygon points="96.3,118 98.2,119.8 92,117.4 90.1,115.6" fill="#00f86c" stroke="#00f86c" stroke-width="0.4"/>
<polygon points="98.2,119.8 100.1,121.6 93.9,119.2 92,117.4" fill="#00f37f" stroke="#00f37f" stroke-width="0.4"/>
<polygon points="94.4,116.1 100.1,121.6 93.9,119.2 88.2,113.7" fill="none" stroke="#000"/>
<polygon points="150.4,148.5 152.6,149.9 146.1,147.3 143.9,145.9" fill="#0043d4" stroke="#0043d4" stroke-width="0.4"/>
<polygon points="152.6,149.9 154.8,151 148.2,148.4 146.1,147.3" fill="#0027d4" stroke="#0027d4" stroke-width="0.4"/>
<polygon points="154.8,151 157,152 150.4,149.4 148.2,148.4" fill="#0011d4" stroke="#0011d4" stroke-width="0.4"/>
<polygon points="150.4,148.5 157,152 150.4,149.4 143.9,145.9" fill="none" stroke="#000"/>
<polygon points="247.9,177.8 255.3,175.4 248.2,172.6 240.7,175" fill="#0000ff" stroke="#000"/>
<polygon points="197.9,166.8 205.1,167.6 198.3,164.9 191,164.1" fill="#0000ff" stroke="#000"/>
<polygon points="82.6,107.9 84.4,109.9 78.3,107.6 76.4,105.6" fill="#00ff19" stroke="#00ff19" stroke-width="0.4"/>
<polygon points="84.4,109.9 86.3,111.9 80.2,109.5 78.3,107.6" fill="#00ff2d" stroke="#00ff2d" stroke-width="0.4"/>
<polygon points="86.3,111.9 88.2,113.7 82,111.4 80.2,109.5" fill="#00ff40" stroke="#00ff40" stroke-width="0.4"/>
<polygon points="82.6,107.9 88.2,113.7 82,111.4 76.4,105.6" fill="none" stroke="#000"/>
<polygon points="137.7,141.6 139.7,143.1 133.3,140.5 131.2,139" fill="#00a0d4" stroke="#00a0d4" stroke-width="0.4"/>
<polygon points="139.7,143.1 141.8,144.6 135.3,142 133.3,140.5" fill="#0083d4" stroke="#0083d4" stroke-width="0.4"/>
<polygon points="141.8,144.6 143.9,145.9 137.4,143.4 135.3,142" fill="#0063d4" stroke="#0063d4" stroke-width="0.4"/>
<polygon points="137.7,141.6 143.9,145.9 137.4,143.4 131.2,139" fill="none" stroke="#000"/>
<polygon points="71.2,99.2 72.9,101.5 66.9,99.3 65.1,97" fill="#24ff00" stroke="#24ff00" stroke-width="0.4"/>
<polygon points="72.9,101.5 74.7,103.6 68.6,101.3 66.9,99.3" fill="#0fff00" stroke="#0fff00" stroke-width="0.4"/>
<polygon points="74.7,103.6 76.4,105.6 70.4,103.3 68.6,101.3" fill="#00ff05" stroke="#00ff05" stroke-width="0.4"/>
<polygon points="71.2,99.2 76.4,105.6 70.4,103.3 65.1,97" fill="none" stroke="#000"/>
<polygon points="233.4,175.9 240.7,175 233.7,172.2 226.3,173.1" fill="#0000ff" stroke="#000"/>
<polygon points="184,162.3 191,164.1 184.3,161.4 177.2,159.6" fill="#0000ff" stroke="#000"/>
<polygon points="60.1,90.3 61.7,92.6 55.7,90.4 54,88.1" fill="#87ff00" stroke="#87ff00" stroke-width="0.4"/>
<polygon points="61.7,92.6 63.4,94.8 57.4,92.7 55.7,90.4" fill="#64ff00" stroke="#64ff00" stroke-width="0.4"/>
<polygon points="63.4,94.8 65.1,97 59.1,94.8 57.4,92.7" fill="#41ff00" stroke="#41ff00" stroke-width="0.4"/>
<polygon points="60.1,90.3 65.1,97 59.1,94.8 54,88.1" fill="none" stroke="#000"/>
<polygon points="125.1,134.3 127.1,135.9 120.7,133.4 118.7,131.7" fill="#00dfc4" stroke="#00dfc4" stroke-width="0.4"/>
<polygon points="127.1,135.9 129.2,137.5 122.7,135 120.7,133.4" fill="#00dad8" stroke="#00dad8" stroke-width="0.4"/>
<polygon points="129.2,137.5 131.2,139 124.8,136.5 122.7,135" fill="#00bcd5" stroke="#00bcd5" stroke-width="0.4"/>
<polygon points="125.1,134.3 131.2,139 124.8,136.5 118.7,131.7" fill="none" stroke="#000"/>
<polygon points="284.7,179.6 291.8,173.7 284.4,171 277.3,176.8" fill="#0000ff" stroke="#000"/>
<polygon points="219,173.1 226.3,173.1 219.3,170.3 212,170.3" fill="#0000ff" stroke="#000"/>
<polygon points="170.3,157.3 172.6,158.2 165.9,155.5 163.6,154.6" fill="#0000ff" stroke="#0000ff" stroke-width="0.4"/>
<polygon points="172.6,158.2 174.9,158.9 168.2,156.3 165.9,155.5" fill="#0000ff" stroke="#0000ff" stroke-width="0.4"/>
<polygon points="174.9,158.9 177.2,159.6 170.5,157 168.2,156.3" fill="#0000ff" stroke="#0000ff" stroke-width="0.4"/>
<polygon points="170.3,157.3 177.2,159.6 170.5,157 163.6,154.6" fill="none" stroke="#000"/>
<polygon points="269.9,181 277.3,176.8 269.9,174 262.6,178.1" fill="#0000ff" stroke="#000"/>
<polygon points="112.7,126.5 114.7,128.3 108.4,125.8 106.4,124" fill="#00ee92" stroke="#00ee92" stroke-width="0.4"/>
<polygon points="114.7,128.3 116.7,130.1 110.4,127.6 108.4,125.8" fill="#00e9a4" stroke="#00e9a4" stroke-width="0.4"/>
<polygon points="116.7,130.1 118.7,131.7 112.3,129.2 110.4,127.6" fill="#00e4b5" stroke="#00e4b5" stroke-width="0.4"/>
<polygon points="112.7,126.5 118.7,131.7 112.3,129.2 106.4,124" fill="none" stroke="#000"/>
<polygon points="100.6,118.5 102.6,120.4 96.3,118 94.4,116.1" fill="#00fd57" stroke="#00fd57" stroke-width="0.4"/>
<polygon points="102.6,120.4 104.5,122.3 98.2,119.8 96.3,118" fill="#00f86c" stroke="#00f86c" stroke-width="0.4"/>
<polygon points="104.5,122.3 106.4,124 100.1,121.6 98.2,119.8" fill="#00f37f" stroke="#00f37f" stroke-width="0.4"/>
<polygon points="100.6,118.5 106.4,124 100.1,121.6 94.4,116.1" fill="none" stroke="#000"/>
<polygon points="157.1,151.2 159.3,152.5 152.6,149.9 150.4,148.5" fill="#0043d4" stroke="#0043d4" stroke-width="0.4"/>
<polygon points="159.3,152.5 161.4,153.7 154.8,151 152.6,149.9" fill="#0027d4" stroke="#0027d4" stroke-width="0.4"/>
<polygon points="161.4,153.7 163.6,154.6 157,152 154.8,151" fill="#0011d4" stroke="#0011d4" stroke-width="0.4"/>
<polygon points="157.1,151.2 163.6,154.6 157,152 150.4,148.5" fill="none" stroke="#000"/>
<polygon points="255.2,180.6 262.6,178.1 255.3,175.4 247.9,177.8" fill="#0000ff" stroke="#000"/>
<polygon points="204.8,169.5 212,170.3 205.1,167.6 197.9,166.8" fill="#0000ff" stroke="#000"/>
<polygon points="88.8,110.2 90.7,112.3 84.4,109.9 82.6,107.9" fill="#00ff18" stroke="#00ff18" stroke-width="0.4"/>
<polygon points="90.7,112.3 92.5,114.2 86.3,111.9 84.4,109.9" fill="#00ff2d" stroke="#00ff2d" stroke-width="0.4"/>
<polygon points="92.5,114.2 94.4,116.1 88.2,113.7 86.3,111.9" fill="#00ff40" stroke="#00ff40" stroke-width="0.4"/>
<polygon points="88.8,110.2 94.4,116.1 88.2,113.7 82.6,107.9" fill="none" stroke="#000"/>
<polygon points="144.2,144.2 146.3,145.7 139.7,143.1 137.7,141.6" fill="#00a0d4" stroke="#00a0d4" stroke-width="0.4"/>
<polygon points="146.3,145.7 148.4,147.2 141.8,144.6 139.7,143.1" fill="#0083d4" stroke="#0083d4" stroke-width="0.4"/>
<polygon points="148.4,147.2 150.4,148.5 143.9,145.9 141.8,144.6" fill="#0063d4" stroke="#0063d4" stroke-width="0.4"/>
<polygon points="144.2,144.2 150.4,148.5 143.9,145.9 137.7,141.6" fill="none" stroke="#000"/>
<polygon points="77.3,101.5 79.1,103.8 72.9,101.5 71.2,99.2" fill="#25ff00" stroke="#25ff00" stroke-width="0.4"/>
<polygon points="79.1,103.8 80.8,105.9 74.7,103.6 72.9,101.5" fill="#0fff00" stroke="#0fff00" stroke-width="0.4"/>
<polygon points="80.8,105.9 82.6,107.9 76.4,105.6 74.7,103.6" fill="#00ff05" stroke="#00ff05" stroke-width="0.4"/>
<polygon points="77.3,101.5 82.6,107.9 76.4,105.6 71.2,99.2" fill="none" stroke="#000"/>
<polygon points="240.6,178.7 247.9,177.8 240.7,175 233.4,175.9" fill="#0000ff" stroke="#000"/>
<polygon points="190.9,165.1 197.9,166.8 191,164.1 184,162.3" fill="#0000ff" stroke="#000"/>
<polygon points="66.1,92.4 67.8,94.8 61.7,92.6 60.1,90.3" fill="#89ff00" stroke="#89ff00" stroke-width="0.4"/>
<polygon points="67.8,94.8 69.5,97.1 63.4,94.8 61.7,92.6" fill="#65ff00" stroke="#65ff00" stroke-width="0.4"/>
<polygon points="69.5,97.1 71.2,99.2 65.1,97 63.4,94.8" fill="#42ff00" stroke="#42ff00" stroke-width="0.4"/>
<polygon points="66.1,92.4 71.2,99.2 65.1,97 60.1,90.3" fill="none" stroke="#000"/>
<polygon points="55.1,83.3 56.7,85.7 50.7,83.6 49,81.2" fill="#e0ff00" stroke="#e0ff00" stroke-width="0.4"/>
<polygon points="56.7,85.7 58.4,88 52.4,85.9 50.7,83.6" fill="#c6ff00" stroke="#c6ff00" stroke-width="0.4"/>
<polygon points="58.4,88 60.1,90.3 54,88.1 52.4,85.9" fill="#abff00" stroke="#abff00" stroke-width="0.4"/>
<polygon points="55.1,83.3 60.1,90.3 54,88.1 49,81.2" fill="none" stroke="#000"/>
<polygon points="131.6,136.8 133.6,138.5 127.1,135.9 125.1,134.3" fill="#00dfc4" stroke="#00dfc4" stroke-width="0.4"/>
<polygon points="133.6,138.5 135.7,140.1 129.2,137.5 127.1,135.9" fill="#00dad8" stroke="#00dad8" stroke-width="0.4"/>
<polygon points="135.7,140.1 137.7,141.6 131.2,139 129.2,137.5" fill="#00bcd5" stroke="#00bcd5" stroke-width="0.4"/>
<polygon points="131.6,136.8 137.7,141.6 131.2,139 125.1,134.3" fill="none" stroke="#000"/>
<polygon points="226.1,175.9 233.4,175.9 226.3,173.1 219,173.1" fill="#0000ff" stroke="#000"/>
<polygon points="177.1,160 179.4,160.9 172.6,158.2 170.3,157.3" fill="#0000ff" stroke="#0000ff" stroke-width="0.4"/>
<polygon points="179.4,160.9 181.7,161.7 174.9,158.9 172.6,158.2" fill="#0000ff" stroke="#0000ff" stroke-width="0.4"/>
<polygon points="181.7,161.7 184,162.3 177.2,159.6 174.9,158.9" fill="#0000ff" stroke="#0000ff" stroke-width="0.4"/>
<polygon points="177.1,160 184,162.3 177.2,159.6 170.3,157.3" fill="none" stroke="#000"/>
<polygon points="277.3,183.8 284.7,179.6 277.3,176.8 269.9,181" fill="#0000ff" stroke="#000"/>
<polygon points="119.2,129 121.2,130.8 114.7,128.3 112.7,126.5" fill="#00ee92" stroke="#00ee92" stroke-width="0.4"/>
<polygon points="121.2,130.8 123.1,132.6 116.7,130.1 114.7,128.3" fill="#00e9a4" stroke="#00e9a4" stroke-width="0.4"/>
<polygon points="123.1,132.6 125.1,134.3 118.7,131.7 116.7,130.1" fill="#00e4b5" stroke="#00e4b5" stroke-width="0.4"/>
<polygon points="119.2,129 125.1,134.3 118.7,131.7 112.7,126.5" fill="none" stroke="#000"/>
<polygon points="107,121 108.9,122.9 102.6,120.4 100.6,118.5" fill="#00fd56" stroke="#00fd56" stroke-width="0.4"/>
<polygon points="108.9,122.9 110.8,124.7 104.5,122.3 102.6,120.4" fill="#00f86b" stroke="#00f86b" stroke-width="0.4"/>
<polygon points="110.8,124.7 112.7,126.5 106.4,124 104.5,122.3" fill="#00f37f" stroke="#00f37f" stroke-width="0.4"/>
<polygon points="107,121 112.7,126.5 106.4,124 100.6,118.5" fill="none" stroke="#000"/>
<polygon points="163.8,153.9 166,155.2 159.3,152.5 157.1,151.2" fill="#0043d4" stroke="#0043d4" stroke-width="0.4"/>
<polygon points="166,155.2 168.1,156.4 161.4,153.7 159.3,152.5" fill="#0027d4" stroke="#0027d4" stroke-width="0.4"/>
<polygon points="168.1,156.4 170.3,157.3 163.6,154.6 161.4,153.7" fill="#0011d4" stroke="#0011d4" stroke-width="0.4"/>
<polygon points="163.8,153.9 170.3,157.3 163.6,154.6 157.1,151.2" fill="none" stroke="#000"/>
<polygon points="262.5,183.5 269.9,181 262.6,178.1 255.2,180.6" fill="#0000ff" stroke="#000"/>
<polygon points="211.9,172.3 219,173.1 212,170.3 204.8,169.5" fill="#0000ff" stroke="#000"/>
<polygon points="95.1,112.6 97,114.6 90.7,112.3 88.8,110.2" fill="#00ff18" stroke="#00ff18" stroke-width="0.4"/>
<polygon points="97,114.6 98.8,116.6 92.5,114.2 90.7,112.3" fill="#00ff2c" stroke="#00ff2c" stroke-width="0.4"/>
<polygon points="98.8,116.6 100.6,118.5 94.4,116.1 92.5,114.2" fill="#00ff40" stroke="#00ff40" stroke-width="0.4"/>
<polygon points="95.1,112.6 100.6,118.5 94.4,116.1 88.8,110.2" fill="none" stroke="#000"/>
<polygon points="150.9,146.8 153,148.4 146.3,145.7 144.2,144.2" fill="#00a0d4" stroke="#00a0d4" stroke-width="0.4"/>
<polygon points="153,148.4 155,149.8 148.4,147.2 146.3,145.7" fill="#0083d4" stroke="#0083d4" stroke-width="0.4"/>
<polygon points="155,149.8 157.1,151.2 150.4,148.5 148.4,147.2" fill="#0063d4" stroke="#0063d4" stroke-width="0.4"/>
<polygon points="150.9,146.8 157.1,151.2 150.4,148.5 144.2,144.2" fill="none" stroke="#000"/>
<polygon points="83.5,103.8 85.3,106.1 79.1,103.8 77.3,101.5" fill="#25ff00" stroke="#25ff00" stroke-width="0.4"/>
<polygon points="85.3,106.1 87,108.2 80.8,105.9 79.1,103.8" fill="#10ff00" stroke="#10ff00" stroke-width="0.4"/>
<polygon points="87,108.2 88.8,110.2 82.6,107.9 80.8,105.9" fill="#00ff04" stroke="#00ff04" stroke-width="0.4"/>
<polygon points="83.5,103.8 88.8,110.2 82.6,107.9 77.3,101.5" fill="none" stroke="#000"/>
<polygon points="247.8,181.6 255.2,180.6 247.9,177.8 240.6,178.7" fill="#0000ff" stroke="#000"/>
<polygon points="197.8,167.8 204.8,169.5 197.9,166.8 190.9,165.1" fill="#0000ff" stroke="#000"/>
<polygon points="72.3,94.6 74,97 67.8,94.8 66.1,92.4" fill="#8aff00" stroke="#8aff00" stroke-width="0.4"/>
<polygon points="74,97 75.6,99.3 69.5,97.1 67.8,94.8" fill="#66ff00" stroke="#66ff00" stroke-width="0.4"/>
<polygon points="75.6,99.3 77.3,101.5 71.2,99.2 69.5,97.1" fill="#44ff00" stroke="#44ff00" stroke-width="0.4"/>
<polygon points="72.3,94.6 77.3,101.5 71.2,99.2 66.1,92.4" fill="none" stroke="#000"/>
<polygon points="61.1,85.4 62.8,87.8 56.7,85.7 55.1,83.3" fill="#e1ff00" stroke="#e1ff00" stroke-width="0.4"/>
<polygon points="62.8,87.8 64.5,90.1 58.4,88 56.7,85.7" fill="#c8ff00" stroke="#c8ff00" stroke-width="0.4"/>
<polygon points="64.5,90.1 66.1,92.4 60.1,90.3 58.4,88" fill="#acff00" stroke="#acff00" stroke-width="0.4"/>
<polygon points="61.1,85.4 66.1,92.4 60.1,90.3 55.1,83.3" fill="none" stroke="#000"/>
<polygon points="138.2,139.4 140.2,141.1 133.6,138.5 131.6,136.8" fill="#00dfc4" stroke="#00dfc4" stroke-width="0.4"/>
<polygon points="140.2,141.1 142.2,142.7 135.7,140.1 133.6,138.5" fill="#00dad8" stroke="#00dad8" stroke-width="0.4"/>
<polygon points="142.2,142.7 144.2,144.2 137.7,141.6 135.7,140.1" fill="#00bcd5" stroke="#00bcd5" stroke-width="0.4"/>
<polygon points="138.2,139.4 144.2,144.2 137.7,141.6 131.6,136.8" fill="none" stroke="#000"/>
<polygon points="50.1,76.2 51.7,78.6 45.7,76.6 44.1,74.2" fill="#ffce00" stroke="#ffce00" stroke-width="0.4"/>
<polygon points="51.7,78.6 53.4,81 47.4,78.9 45.7,76.6" fill="#ffea00" stroke="#ffea00" stroke-width="0.4"/>
<polygon points="53.4,81 55.1,83.3 49,81.2 47.4,78.9" fill="#faff00" stroke="#faff00" stroke-width="0.4"/>
<polygon points="50.1,76.2 55.1,83.3 49,81.2 44.1,74.2" fill="none" stroke="#000"/>
<polygon points="233.3,178.7 240.6,178.7 233.4,175.9 226.1,175.9" fill="#0000ff" stroke="#000"/>
<polygon points="184,162.8 186.3,163.6 179.4,160.9 177.1,160" fill="#0000ff" stroke="#0000ff" stroke-width="0.4"/>
<polygon points="186.3,163.6 188.6,164.4 181.7,161.7 179.4,160.9" fill="#0000ff" stroke="#0000ff" stroke-width="0.4"/>
<polygon points="188.6,164.4 190.9,165.1 184,162.3 181.7,161.7" fill="#0000ff" stroke="#0000ff" stroke-width="0.4"/>
<polygon points="184,162.8 190.9,165.1 184,162.3 177.1,160" fill="none" stroke="#000"/>
<polygon points="125.7,131.6 127.7,133.4 121.2,130.8 119.2,129" fill="#00ee92" stroke="#00ee92" stroke-width="0.4"/>
<polygon points="127.7,133.4 129.6,135.1 123.1,132.6 121.2,130.8" fill="#00e9a4" stroke="#00e9a4" stroke-width="0.4"/>
<polygon points="129.6,135.1 131.6,136.8 125.1,134.3 123.1,132.6" fill="#00e4b5" stroke="#00e4b5" stroke-width="0.4"/>
<polygon points="125.7,131.6 131.6,136.8 125.1,134.3 119.2,129" fill="none" stroke="#000"/>
<polygon points="113.5,123.4 115.4,125.4 108.9,122.9 107,121" fill="#00fd56" stroke="#00fd56" stroke-width="0.4"/>
<polygon points="115.4,125.4 117.3,127.2 110.8,124.7 108.9,122.9" fill="#00f86b" stroke="#00f86b" stroke-width="0.4"/>
<polygon points="117.3,127.2 119.2,129 112.7,126.5 110.8,124.7" fill="#00f37f" stroke="#00f37f" stroke-width="0.4"/>
<polygon points="113.5,123.4 119.2,129 112.7,126.5 107,121" fill="none" stroke="#000"/>
<polygon points="170.6,156.6 172.8,157.9 166,155.2 163.8,153.9" fill="#0043d4" stroke="#0043d4" stroke-width="0.4"/>
<polygon points="172.8,157.9 174.9,159.1 168.1,156.4 166,155.2" fill="#0027d4" stroke="#0027d4" stroke-width="0.4"/>
<polygon points="174.9,159.1 177.1,160 170.3,157.3 168.1,156.4" fill="#0011d4" stroke="#0011d4" stroke-width="0.4"/>
<polygon points="170.6,156.6 177.1,160 170.3,157.3 163.8,153.9" fill="none" stroke="#000"/>
<polygon points="269.9,186.4 277.3,183.8 269.9,181 262.5,183.5" fill="#0000ff" stroke="#000"/>
<polygon points="219,175.2 226.1,175.9 219,173.1 211.9,172.3" fill="#0000ff" stroke="#000"/>
<polygon points="101.5,115 103.3,117.1 97,114.6 95.1,112.6" fill="#00ff18" stroke="#00ff18" stroke-width="0.4"/>
<polygon points="103.3,117.1 105.2,119.1 98.8,116.6 97,114.6" fill="#00ff2c" stroke="#00ff2c" stroke-width="0.4"/>
<polygon points="105.2,119.1 107,121 100.6,118.5 98.8,116.6" fill="#00ff40" stroke="#00ff40" stroke-width="0.4"/>
<polygon points="101.5,115 107,121 100.6,118.5 95.1,112.6" fill="none" stroke="#000"/>
<polygon points="157.6,149.5 159.7,151 153,148.4 150.9,146.8" fill="#00a0d4" stroke="#00a0d4" stroke-width="0.4"/>
<polygon points="159.7,151 161.8,152.5 155,149.8 153,148.4" fill="#0083d4" stroke="#0083d4" stroke-width="0.4"/>
<polygon points="161.8,152.5 163.8,153.9 157.1,151.2 155,149.8" fill="#0063d4" stroke="#0063d4" stroke-width="0.4"/>
<polygon points="157.6,149.5 163.8,153.9 157.1,151.2 150.9,146.8" fill="none" stroke="#000"/>
<polygon points="89.8,106.1 91.6,108.4 85.3,106.1 83.5,103.8" fill="#26ff00" stroke="#26ff00" stroke-width="0.4"/>
<polygon points="91.6,108.4 93.3,110.5 87,108.2 85.3,106.1" fill="#11ff00" stroke="#11ff00" stroke-width="0.4"/>
<polygon points="93.3,110.5 95.1,112.6 88.8,110.2 87,108.2" fill="#00ff04" stroke="#00ff04" stroke-width="0.4"/>
<polygon points="89.8,106.1 95.1,112.6 88.8,110.2 83.5,103.8" fill="none" stroke="#000"/>
<polygon points="255.2,184.5 262.5,183.5 255.2,180.6 247.8,181.6" fill="#0000ff" stroke="#000"/>
<polygon points="204.9,170.7 211.9,172.3 204.8,169.5 197.8,167.8" fill="#0000ff" stroke="#000"/>
<polygon points="78.5,96.9 80.2,99.2 74,97 72.3,94.6" fill="#8bff00" stroke="#8bff00" stroke-width="0.4"/>
<polygon points="80.2,99.2 81.9,101.5 75.6,99.3 74,97" fill="#68ff00" stroke="#68ff00" stroke-width="0.4"/>
<polygon points="81.9,101.5 83.5,103.8 77.3,101.5 75.6,99.3" fill="#45ff00" stroke="#45ff00" stroke-width="0.4"/>
<polygon points="78.5,96.9 83.5,103.8 77.3,101.5 72.3,94.6" fill="none" stroke="#000"/>
<polygon points="67.3,87.6 69,89.9 62.8,87.8 61.1,85.4" fill="#e3ff00" stroke="#e3ff00" stroke-width="0.4"/>
<polygon points="69,89.9 70.6,92.3 64.5,90.1 62.8,87.8" fill="#c9ff00" stroke="#c9ff00" stroke-width="0.4"/>
<polygon points="70.6,92.3 72.3,94.6 66.1,92.4 64.5,90.1" fill="#aeff00" stroke="#aeff00" stroke-width="0.4"/>
<polygon points="67.3,87.6 72.3,94.6 66.1,92.4 61.1,85.4" fill="none" stroke="#000"/>
<polygon points="144.9,142 146.9,143.7 140.2,141.1 138.2,139.4" fill="#00dfc4" stroke="#00dfc4" stroke-width="0.4"/>
<polygon points="146.9,143.7 148.9,145.3 142.2,142.7 140.2,141.1" fill="#00dad8" stroke="#00dad8" stroke-width="0.4"/>
<polygon points="148.9,145.3 150.9,146.8 144.2,144.2 142.2,142.7" fill="#00bcd5" stroke="#00bcd5" stroke-width="0.4"/>
<polygon points="144.9,142 150.9,146.8 144.2,144.2 138.2,139.4" fill="none" stroke="#000"/>
<polygon points="56.2,78.3 57.8,80.7 51.7,78.6 50.1,76.2" fill="#ffcc00" stroke="#ffcc00" stroke-width="0.4"/>
<polygon points="57.8,80.7 59.5,83.1 53.4,81 51.7,78.6" fill="#ffe800" stroke="#ffe800" stroke-width="0.4"/>
<polygon points="59.5,83.1 61.1,85.4 55.1,83.3 53.4,81" fill="#fbff00" stroke="#fbff00" stroke-width="0.4"/>
<polygon points="56.2,78.3 61.1,85.4 55.1,83.3 50.1,76.2" fill="none" stroke="#000"/>
<polygon points="45.1,68.9 46.8,71.4 40.8,69.4 39.1,66.9" fill="#ff8100" stroke="#ff8100" stroke-width="0.4"/>
<polygon points="46.8,71.4 48.4,73.8 42.4,71.8 40.8,69.4" fill="#ff9900" stroke="#ff9900" stroke-width="0.4"/>
<polygon points="48.4,73.8 50.1,76.2 44.1,74.2 42.4,71.8" fill="#ffb200" stroke="#ffb200" stroke-width="0.4"/>
<polygon points="45.1,68.9 50.1,76.2 44.1,74.2 39.1,66.9" fill="none" stroke="#000"/>
<polygon points="240.6,181.6 247.8,181.6 240.6,178.7 233.3,178.7" fill="#0000ff" stroke="#000"/>
<polygon points="191,165.6 193.3,166.4 186.3,163.6 184,162.8" fill="#0000ff" stroke="#0000ff" stroke-width="0.4"/>
<polygon points="193.3,166.4 195.6,167.2 188.6,164.4 186.3,163.6" fill="#0000ff" stroke="#0000ff" stroke-width="0.4"/>
<polygon points="195.6,167.2 197.8,167.8 190.9,165.1 188.6,164.4" fill="#0000ff" stroke="#0000ff" stroke-width="0.4"/>
<polygon points="191,165.6 197.8,167.8 190.9,165.1 184,162.8" fill="none" stroke="#000"/>
<polygon points="132.3,134.2 134.3,136 127.7,133.4 125.7,131.6" fill="#00ee92" stroke="#00ee92" stroke-width="0.4"/>
<polygon points="134.3,136 136.2,137.7 129.6,135.1 127.7,133.4" fill="#00e9a4" stroke="#00e9a4" stroke-width="0.4"/>
<polygon points="136.2,137.7 138.2,139.4 131.6,136.8 129.6,135.1" fill="#00e4b5" stroke="#00e4b5" stroke-width="0.4"/>
<polygon points="132.3,134.2 138.2,139.4 131.6,136.8 125.7,131.6" fill="none" stroke="#000"/>
<polygon points="120,125.9 121.9,127.9 115.4,125.4 113.5,123.4" fill="#00fd56" stroke="#00fd56" stroke-width="0.4"/>
<polygon points="121.9,127.9 123.8,129.8 117.3,127.2 115.4,125.4" fill="#00f86b" stroke="#00f86b" stroke-width="0.4"/>
<polygon points="123.8,129.8 125.7,131.6 119.2,129 117.3,127.2" fill="#00f37f" stroke="#00f37f" stroke-width="0.4"/>
<polygon points="120,125.9 125.7,131.6 119.2,129 113.5,123.4" fill="none" stroke="#000"/>
<polygon points="177.5,159.3 179.7,160.7 172.8,157.9 170.6,156.6" fill="#0043d4" stroke="#0043d4" stroke-width="0.4"/>
<polygon points="179.7,160.7 181.8,161.8 174.9,159.1 172.8,157.9" fill="#0027d4" stroke="#0027d4" stroke-width="0.4"/>
<polygon points="181.8,161.8 184,162.8 177.1,160 174.9,159.1" fill="#0011d4" stroke="#0011d4" stroke-width="0.4"/>
<polygon points="177.5,159.3 184,162.8 177.1,160 170.6,156.6" fill="none" stroke="#000"/>
<polygon points="226.2,178 233.3,178.7 226.1,175.9 219,175.2" fill="#0000ff" stroke="#000"/>
<polygon points="107.9,117.4 109.8,119.5 103.3,117.1 101.5,115" fill="#00ff17" stroke="#00ff17" stroke-width="0.4"/>
<polygon points="109.8,119.5 111.6,121.5 105.2,119.1 103.3,117.1" fill="#00ff2c" stroke="#00ff2c" stroke-width="0.4"/>
<polygon points="111.6,121.5 113.5,123.4 107,121 105.2,119.1" fill="#00ff3f" stroke="#00ff3f" stroke-width="0.4"/>
<polygon points="107.9,117.4 113.5,123.4 107,121 101.5,115" fill="none" stroke="#000"/>
<polygon points="164.5,152.2 166.5,153.7 159.7,151 157.6,149.5" fill="#00a0d4" stroke="#00a0d4" stroke-width="0.4"/>
<polygon points="166.5,153.7 168.6,155.2 161.8,152.5 159.7,151" fill="#0083d4" stroke="#0083d4" stroke-width="0.4"/>
<polygon points="168.6,155.2 170.6,156.6 163.8,153.9 161.8,152.5" fill="#0063d4" stroke="#0063d4" stroke-width="0.4"/>
<polygon points="164.5,152.2 170.6,156.6 163.8,153.9 157.6,149.5" fill="none" stroke="#000"/>
<polygon points="96.2,108.4 98,110.7 91.6,108.4 89.8,106.1" fill="#26ff00" stroke="#26ff00" stroke-width="0.4"/>
<polygon points="98,110.7 99.7,112.9 93.3,110.5 91.6,108.4" fill="#11ff00" stroke="#11ff00" stroke-width="0.4"/>
<polygon points="99.7,112.9 101.5,115 95.1,112.6 93.3,110.5" fill="#00ff03" stroke="#00ff03" stroke-width="0.4"/>
<polygon points="96.2,108.4 101.5,115 95.1,112.6 89.8,106.1" fill="none" stroke="#000"/>
<polygon points="262.7,187.4 269.9,186.4 262.5,183.5 255.2,184.5" fill="#0000ff" stroke="#000"/>
<polygon points="212,173.5 219,175.2 211.9,172.3 204.9,170.7" fill="#0000ff" stroke="#000"/>
<polygon points="84.8,99.1 86.5,101.5 80.2,99.2 78.5,96.9" fill="#8dff00" stroke="#8dff00" stroke-width="0.4"/>
<polygon points="86.5,101.5 88.2,103.8 81.9,101.5 80.2,99.2" fill="#69ff00" stroke="#69ff00" stroke-width="0.4"/>
<polygon points="88.2,103.8 89.8,106.1 83.5,103.8 81.9,101.5" fill="#46ff00" stroke="#46ff00" stroke-width="0.4"/>
<polygon points="84.8,99.1 89.8,106.1 83.5,103.8 78.5,96.9" fill="none" stroke="#000"/>
<polygon points="73.6,89.7 75.2,92.1 69,89.9 67.3,87.6" fill="#e4ff00" stroke="#e4ff00" stroke-width="0.4"/>
<polygon points="75.2,92.1 76.9,94.5 70.6,92.3 69,89.9" fill="#caff00" stroke="#caff00" stroke-width="0.4"/>
<polygon points="76.9,94.5 78.5,96.9 72.3,94.6 70.6,92.3" fill="#afff00" stroke="#afff00" stroke-width="0.4"/>
<polygon points="73.6,89.7 78.5,96.9 72.3,94.6 67.3,87.6" fill="none" stroke="#000"/>
<polygon points="151.6,144.7 153.6,146.4 146.9,143.7 144.9,142" fill="#00dfc4" stroke="#00dfc4" stroke-width="0.4"/>
<polygon points="153.6,146.4 155.6,148 148.9,145.3 146.9,143.7" fill="#00dad8" stroke="#00dad8" stroke-width="0.4"/>
<polygon points="155.6,148 157.6,149.5 150.9,146.8 148.9,145.3" fill="#00bcd5" stroke="#00bcd5" stroke-width="0.4"/>
<polygon points="151.6,144.7 157.6,149.5 150.9,146.8 144.9,142" fill="none" stroke="#000"/>
<polygon points="62.3,80.3 64,82.8 57.8,80.7 56.2,78.3" fill="#ffca00" stroke="#ffca00" stroke-width="0.4"/>
<polygon points="64,82.8 65.7,85.2 59.5,83.1 57.8,80.7" fill="#ffe700" stroke="#ffe700" stroke-width="0.4"/>
<polygon points="65.7,85.2 67.3,87.6 61.1,85.4 59.5,83.1" fill="#fcff00" stroke="#fcff00" stroke-width="0.4"/>
<polygon points="62.3,80.3 67.3,87.6 61.1,85.4 56.2,78.3" fill="none" stroke="#000"/>
<polygon points="51.2,70.9 52.9,73.4 46.8,71.4 45.1,68.9" fill="#ff8000" stroke="#ff8000" stroke-width="0.4"/>
<polygon points="52.9,73.4 54.5,75.8 48.4,73.8 46.8,71.4" fill="#ff9800" stroke="#ff9800" stroke-width="0.4"/>
<polygon points="54.5,75.8 56.2,78.3 50.1,76.2 48.4,73.8" fill="#ffb000" stroke="#ffb000" stroke-width="0.4"/>
<polygon points="51.2,70.9 56.2,78.3 50.1,76.2 45.1,68.9" fill="none" stroke="#000"/>
<polygon points="248,184.6 255.2,184.5 247.8,181.6 240.6,181.6" fill="#0000ff" stroke="#000"/>
<polygon points="40.2,61.4 41.9,63.9 35.8,62 34.2,59.4" fill="#ff4300" stroke="#ff4300" stroke-width="0.4"/>
<polygon points="41.9,63.9 43.5,66.4 37.5,64.5 35.8,62" fill="#ff5600" stroke="#ff5600" stroke-width="0.4"/>
<polygon points="43.5,66.4 45.1,68.9 39.1,66.9 37.5,64.5" fill="#ff6a00" stroke="#ff6a00" stroke-width="0.4"/>
<polygon points="40.2,61.4 45.1,68.9 39.1,66.9 34.2,59.4" fill="none" stroke="#000"/>
<polygon points="198,168.4 200.3,169.2 193.3,166.4 191,165.6" fill="#0000ff" stroke="#0000ff" stroke-width="0.4"/>
<polygon points="200.3,169.2 202.6,170 195.6,167.2 193.3,166.4" fill="#0000ff" stroke="#0000ff" stroke-width="0.4"/>
<polygon points="202.6,170 204.9,170.7 197.8,167.8 195.6,167.2" fill="#0000ff" stroke="#0000ff" stroke-width="0.4"/>
<polygon points="198,168.4 204.9,170.7 197.8,167.8 191,165.6" fill="none" stroke="#000"/>
<polygon points="139,136.8 140.9,138.6 134.3,136 132.3,134.2" fill="#00ee92" stroke="#00ee92" stroke-width="0.4"/>
<polygon points="140.9,138.6 142.9,140.4 136.2,137.7 134.3,136" fill="#00e9a4" stroke="#00e9a4" stroke-width="0.4"/>
<polygon points="142.9,140.4 144.9,142 138.2,139.4 136.2,137.7" fill="#00e4b5" stroke="#00e4b5" stroke-width="0.4"/>
<polygon points="139,136.8 144.9,142 138.2,139.4 132.3,134.2" fill="none" stroke="#000"/>
<polygon points="126.6,128.5 128.5,130.4 121.9,127.9 120,125.9" fill="#00fd56" stroke="#00fd56" stroke-width="0.4"/>
<polygon points="128.5,130.4 130.4,132.4 123.8,129.8 121.9,127.9" fill="#00f86b" stroke="#00f86b" stroke-width="0.4"/>
<polygon points="130.4,132.4 132.3,134.2 125.7,131.6 123.8,129.8" fill="#00f37f" stroke="#00f37f" stroke-width="0.4"/>
<polygon points="126.6,128.5 132.3,134.2 125.7,131.6 120,125.9" fill="none" stroke="#000"/>
<polygon points="184.5,162.1 186.7,163.5 179.7,160.7 177.5,159.3" fill="#0043d4" stroke="#0043d4" stroke-width="0.4"/>
<polygon points="186.7,163.5 188.8,164.6 181.8,161.8 179.7,160.7" fill="#0027d4" stroke="#0027d4" stroke-width="0.4"/>
<polygon points="188.8,164.6 191,165.6 184,162.8 181.8,161.8" fill="#0011d4" stroke="#0011d4" stroke-width="0.4"/>
<polygon points="184.5,162.1 191,165.6 184,162.8 177.5,159.3" fill="none" stroke="#000"/>
<polygon points="233.5,180.9 240.6,181.6 233.3,178.7 226.2,178" fill="#0000ff" stroke="#000"/>
<polygon points="114.5,119.8 116.3,122 109.8,119.5 107.9,117.4" fill="#00ff17" stroke="#00ff17" stroke-width="0.4"/>
<polygon points="116.3,122 118.2,124 111.6,121.5 109.8,119.5" fill="#00ff2b" stroke="#00ff2b" stroke-width="0.4"/>
<polygon points="118.2,124 120,125.9 113.5,123.4 111.6,121.5" fill="#00ff3f" stroke="#00ff3f" stroke-width="0.4"/>
<polygon points="114.5,119.8 120,125.9 113.5,123.4 107.9,117.4" fill="none" stroke="#000"/>
<polygon points="171.4,155 173.4,156.5 166.5,153.7 164.5,152.2" fill="#00a0d4" stroke="#00a0d4" stroke-width="0.4"/>
<polygon points="173.4,156.5 175.5,157.9 168.6,155.2 166.5,153.7" fill="#0083d4" stroke="#0083d4" stroke-width="0.4"/>
<polygon points="175.5,157.9 177.5,159.3 170.6,156.6 168.6,155.2" fill="#0063d4" stroke="#0063d4" stroke-width="0.4"/>
<polygon points="171.4,155 177.5,159.3 170.6,156.6 164.5,152.2" fill="none" stroke="#000"/>
<polygon points="102.7,110.8 104.4,113.1 98,110.7 96.2,108.4" fill="#27ff00" stroke="#27ff00" stroke-width="0.4"/>
<polygon points="104.4,113.1 106.2,115.3 99.7,112.9 98,110.7" fill="#12ff00" stroke="#12ff00" stroke-width="0.4"/>
<polygon points="106.2,115.3 107.9,117.4 101.5,115 99.7,112.9" fill="#00ff03" stroke="#00ff03" stroke-width="0.4"/>
<polygon points="102.7,110.8 107.9,117.4 101.5,115 96.2,108.4" fill="none" stroke="#000"/>
<polygon points="219.3,176.4 226.2,178 219,175.2 212,173.5" fill="#0000ff" stroke="#000"/>
<polygon points="91.2,101.4 92.9,103.8 86.5,101.5 84.8,99.1" fill="#8eff00" stroke="#8eff00" stroke-width="0.4"/>
<polygon points="92.9,103.8 94.6,106.1 88.2,103.8 86.5,101.5" fill="#6aff00" stroke="#6aff00" stroke-width="0.4"/>
<polygon points="94.6,106.1 96.2,108.4 89.8,106.1 88.2,103.8" fill="#47ff00" stroke="#47ff00" stroke-width="0.4"/>
<polygon points="91.2,101.4 96.2,108.4 89.8,106.1 84.8,99.1" fill="none" stroke="#000"/>
<polygon points="79.9,91.9 81.6,94.3 75.2,92.1 73.6,89.7" fill="#e5ff00" stroke="#e5ff00" stroke-width="0.4"/>
<polygon points="81.6,94.3 83.2,96.7 76.9,94.5 75.2,92.1" fill="#cbff00" stroke="#cbff00" stroke-width="0.4"/>
<polygon points="83.2,96.7 84.8,99.1 78.5,96.9 76.9,94.5" fill="#b1ff00" stroke="#b1ff00" stroke-width="0.4"/>
<polygon points="79.9,91.9 84.8,99.1 78.5,96.9 73.6,89.7" fill="none" stroke="#000"/>
<polygon points="158.5,147.4 160.5,149.1 153.6,146.4 151.6,144.7" fill="#00dfc4" stroke="#00dfc4" stroke-width="0.4"/>
<polygon points="160.5,149.1 162.5,150.7 155.6,148 153.6,146.4" fill="#00dad8" stroke="#00dad8" stroke-width="0.4"/>
<polygon points="162.5,150.7 164.5,152.2 157.6,149.5 155.6,148" fill="#00bcd5" stroke="#00bcd5" stroke-width="0.4"/>
<polygon points="158.5,147.4 164.5,152.2 157.6,149.5 151.6,144.7" fill="none" stroke="#000"/>
<polygon points="68.6,82.4 70.3,84.9 64,82.8 62.3,80.3" fill="#ffc900" stroke="#ffc900" stroke-width="0.4"/>
<polygon points="70.3,84.9 71.9,87.3 65.7,85.2 64,82.8" fill="#ffe500" stroke="#ffe500" stroke-width="0.4"/>
<polygon points="71.9,87.3 73.6,89.7 67.3,87.6 65.7,85.2" fill="#feff00" stroke="#feff00" stroke-width="0.4"/>
<polygon points="68.6,82.4 73.6,89.7 67.3,87.6 62.3,80.3" fill="none" stroke="#000"/>
<polygon points="57.4,72.9 59.1,75.4 52.9,73.4 51.2,70.9" fill="#ff7e00" stroke="#ff7e00" stroke-width="0.4"/>
<polygon points="59.1,75.4 60.7,77.9 54.5,75.8 52.9,73.4" fill="#ff9600" stroke="#ff9600" stroke-width="0.4"/>
<polygon points="60.7,77.9 62.3,80.3 56.2,78.3 54.5,75.8" fill="#ffae00" stroke="#ffae00" stroke-width="0.4"/>
<polygon points="57.4,72.9 62.3,80.3 56.2,78.3 51.2,70.9" fill="none" stroke="#000"/>
<polygon points="255.5,187.5 262.7,187.4 255.2,184.5 248,184.6" fill="#0000ff" stroke="#000"/>
<polygon points="46.3,63.3 48,65.9 41.9,63.9 40.2,61.4" fill="#ff4100" stroke="#ff4100" stroke-width="0.4"/>
<polygon points="48,65.9 49.6,68.4 43.5,66.4 41.9,63.9" fill="#ff5500" stroke="#ff5500" stroke-width="0.4"/>
<polygon points="49.6,68.4 51.2,70.9 45.1,68.9 43.5,66.4" fill="#ff6900" stroke="#ff6900" stroke-width="0.4"/>
<polygon points="46.3,63.3 51.2,70.9 45.1,68.9 40.2,61.4" fill="none" stroke="#000"/>
<polygon points="205.2,171.2 207.5,172.1 200.3,169.2 198,168.4" fill="#0000ff" stroke="#0000ff" stroke-width="0.4"/>
<polygon points="207.5,172.1 209.8,172.8 202.6,170 200.3,169.2" fill="#0000ff" stroke="#0000ff" stroke-width="0.4"/>
<polygon points="209.8,172.8 212,173.5 204.9,170.7 202.6,170" fill="#0000ff" stroke="#0000ff" stroke-width="0.4"/>
<polygon points="205.2,171.2 212,173.5 204.9,170.7 198,168.4" fill="none" stroke="#000"/>
<polygon points="145.7,139.4 147.7,141.3 140.9,138.6 139,136.8" fill="#00ee92" stroke="#00ee92" stroke-width="0.4"/>
<polygon points="147.7,141.3 149.7,143 142.9,140.4 140.9,138.6" fill="#00e9a4" stroke="#00e9a4" stroke-width="0.4"/>
<polygon points="149.7,143 151.6,144.7 144.9,142 142.9,140.4" fill="#00e4b5" stroke="#00e4b5" stroke-width="0.4"/>
<polygon points="145.7,139.4 151.6,144.7 144.9,142 139,136.8" fill="none" stroke="#000"/>
<polygon points="133.3,131 135.2,133 128.5,130.4 126.6,128.5" fill="#00fd56" stroke="#00fd56" stroke-width="0.4"/>
<polygon points="135.2,133 137.1,135 130.4,132.4 128.5,130.4" fill="#00f86b" stroke="#00f86b" stroke-width="0.4"/>
<polygon points="137.1,135 139,136.8 132.3,134.2 130.4,132.4" fill="#00f37f" stroke="#00f37f" stroke-width="0.4"/>
<polygon points="133.3,131 139,136.8 132.3,134.2 126.6,128.5" fill="none" stroke="#000"/>
<polygon points="191.6,164.9 193.7,166.3 186.7,163.5 184.5,162.1" fill="#0043d4" stroke="#0043d4" stroke-width="0.4"/>
<polygon points="193.7,166.3 195.9,167.4 188.8,164.6 186.7,163.5" fill="#0027d4" stroke="#0027d4" stroke-width="0.4"/>
<polygon points="195.9,167.4 198,168.4 191,165.6 188.8,164.6" fill="#0011d4" stroke="#0011d4" stroke-width="0.4"/>
<polygon points="191.6,164.9 198,168.4 191,165.6 184.5,162.1" fill="none" stroke="#000"/>
<polygon points="240.9,183.9 248,184.6 240.6,181.6 233.5,180.9" fill="#0000ff" stroke="#000"/>
<polygon points="121.1,122.3 122.9,124.5 116.3,122 114.5,119.8" fill="#00ff16" stroke="#00ff16" stroke-width="0.4"/>
<polygon points="122.9,124.5 124.8,126.5 118.2,124 116.3,122" fill="#00ff2b" stroke="#00ff2b" stroke-width="0.4"/>
<polygon points="124.8,126.5 126.6,128.5 120,125.9 118.2,124" fill="#00ff3f" stroke="#00ff3f" stroke-width="0.4"/>
<polygon points="121.1,122.3 126.6,128.5 120,125.9 114.5,119.8" fill="none" stroke="#000"/>
<polygon points="178.4,157.7 180.4,159.3 173.4,156.5 171.4,155" fill="#00a0d4" stroke="#00a0d4" stroke-width="0.4"/>
<polygon points="180.4,159.3 182.5,160.7 175.5,157.9 173.4,156.5" fill="#0083d4" stroke="#0083d4" stroke-width="0.4"/>
<polygon points="182.5,160.7 184.5,162.1 177.5,159.3 175.5,157.9" fill="#0063d4" stroke="#0063d4" stroke-width="0.4"/>
<polygon points="178.4,157.7 184.5,162.1 177.5,159.3 171.4,155" fill="none" stroke="#000"/>
<polygon points="109.2,113.2 111,115.5 104.4,113.1 102.7,110.8" fill="#28ff00" stroke="#28ff00" stroke-width="0.4"/>
<polygon points="111,115.5 112.7,117.8 106.2,115.3 104.4,113.1" fill="#12ff00" stroke="#12ff00" stroke-width="0.4"/>
<polygon points="112.7,117.8 114.5,119.8 107.9,117.4 106.2,115.3" fill="#00ff02" stroke="#00ff02" stroke-width="0.4"/>
<polygon points="109.2,113.2 114.5,119.8 107.9,117.4 102.7,110.8" fill="none" stroke="#000"/>
<polygon points="226.6,179.3 233.5,180.9 226.2,178 219.3,176.4" fill="#0000ff" stroke="#000"/>
<polygon points="97.7,103.7 99.4,106.1 92.9,103.8 91.2,101.4" fill="#8fff00" stroke="#8fff00" stroke-width="0.4"/>
<polygon points="99.4,106.1 101,108.5 94.6,106.1 92.9,103.8" fill="#6cff00" stroke="#6cff00" stroke-width="0.4"/>
<polygon points="101,108.5 102.7,110.8 96.2,108.4 94.6,106.1" fill="#48ff00" stroke="#48ff00" stroke-width="0.4"/>
<polygon points="97.7,103.7 102.7,110.8 96.2,108.4 91.2,101.4" fill="none" stroke="#000"/>
<polygon points="86.3,94.2 88,96.6 81.6,94.3 79.9,91.9" fill="#e6ff00" stroke="#e6ff00" stroke-width="0.4"/>
<polygon points="88,96.6 89.6,99 83.2,96.7 81.6,94.3" fill="#ccff00" stroke="#ccff00" stroke-width="0.4"/>
<polygon points="89.6,99 91.2,101.4 84.8,99.1 83.2,96.7" fill="#b2ff00" stroke="#b2ff00" stroke-width="0.4"/>
<polygon points="86.3,94.2 91.2,101.4 84.8,99.1 79.9,91.9" fill="none" stroke="#000"/>
<polygon points="165.4,150.1 167.4,151.8 160.5,149.1 158.5,147.4" fill="#00dfc4" stroke="#00dfc4" stroke-width="0.4"/>
<polygon points="167.4,151.8 169.4,153.4 162.5,150.7 160.5,149.1" fill="#00dad8" stroke="#00dad8" stroke-width="0.4"/>
<polygon points="169.4,153.4 171.4,155 164.5,152.2 162.5,150.7" fill="#00bcd5" stroke="#00bcd5" stroke-width="0.4"/>
<polygon points="165.4,150.1 171.4,155 164.5,152.2 158.5,147.4" fill="none" stroke="#000"/>
<polygon points="74.9,84.6 76.6,87.1 70.3,84.9 68.6,82.4" fill="#ffc700" stroke="#ffc700" stroke-width="0.4"/>
<polygon points="76.6,87.1 78.3,89.5 71.9,87.3 70.3,84.9" fill="#ffe400" stroke="#ffe400" stroke-width="0.4"/>
<polygon points="78.3,89.5 79.9,91.9 73.6,89.7 71.9,87.3" fill="#ffff00" stroke="#ffff00" stroke-width="0.4"/>
<polygon points="74.9,84.6 79.9,91.9 73.6,89.7 68.6,82.4" fill="none" stroke="#000"/>
<polygon points="63.7,74.9 65.3,77.5 59.1,75.4 57.4,72.9" fill="#ff7d00" stroke="#ff7d00" stroke-width="0.4"/>
<polygon points="65.3,77.5 67,80 60.7,77.9 59.1,75.4" fill="#ff9500" stroke="#ff9500" stroke-width="0.4"/>
<polygon points="67,80 68.6,82.4 62.3,80.3 60.7,77.9" fill="#ffad00" stroke="#ffad00" stroke-width="0.4"/>
<polygon points="63.7,74.9 68.6,82.4 62.3,80.3 57.4,72.9" fill="none" stroke="#000"/>
<polygon points="212.4,174.1 214.7,175 207.5,172.1 205.2,171.2" fill="#0000ff" stroke="#0000ff" stroke-width="0.4"/>
<polygon points="214.7,175 217,175.7 209.8,172.8 207.5,172.1" fill="#0000ff" stroke="#0000ff" stroke-width="0.4"/>
<polygon points="217,175.7 219.3,176.4 212,173.5 209.8,172.8" fill="#0000ff" stroke="#0000ff" stroke-width="0.4"/>
<polygon points="212.4,174.1 219.3,176.4 212,173.5 205.2,171.2" fill="none" stroke="#000"/>
<polygon points="52.5,65.2 54.2,67.8 48,65.9 46.3,63.3" fill="#ff4000" stroke="#ff4000" stroke-width="0.4"/>
<polygon points="54.2,67.8 55.8,70.4 49.6,68.4 48,65.9" fill="#ff5400" stroke="#ff5400" stroke-width="0.4"/>
<polygon points="55.8,70.4 57.4,72.9 51.2,70.9 49.6,68.4" fill="#ff6700" stroke="#ff6700" stroke-width="0.4"/>
<polygon points="52.5,65.2 57.4,72.9 51.2,70.9 46.3,63.3" fill="none" stroke="#000"/>
<polygon points="152.6,142.1 154.6,143.9 147.7,141.3 145.7,139.4" fill="#00ee92" stroke="#00ee92" stroke-width="0.4"/>
<polygon points="154.6,143.9 156.5,145.7 149.7,143 147.7,141.3" fill="#00e9a4" stroke="#00e9a4" stroke-width="0.4"/>
<polygon points="156.5,145.7 158.5,147.4 151.6,144.7 149.7,143" fill="#00e4b5" stroke="#00e4b5" stroke-width="0.4"/>
<polygon points="152.6,142.1 158.5,147.4 151.6,144.7 145.7,139.4" fill="none" stroke="#000"/>
<polygon points="140.1,133.6 142,135.6 135.2,133 133.3,131" fill="#00fd55" stroke="#00fd55" stroke-width="0.4"/>
<polygon points="142,135.6 143.9,137.6 137.1,135 135.2,133" fill="#00f86b" stroke="#00f86b" stroke-width="0.4"/>
<polygon points="143.9,137.6 145.7,139.4 139,136.8 137.1,135" fill="#00f37f" stroke="#00f37f" stroke-width="0.4"/>
<polygon points="140.1,133.6 145.7,139.4 139,136.8 133.3,131" fill="none" stroke="#000"/>
<polygon points="198.7,167.8 200.9,169.1 193.7,166.3 191.6,164.9" fill="#0043d4" stroke="#0043d4" stroke-width="0.4"/>
<polygon points="200.9,169.1 203,170.3 195.9,167.4 193.7,166.3" fill="#0027d4" stroke="#0027d4" stroke-width="0.4"/>
<polygon points="203,170.3 205.2,171.2 198,168.4 195.9,167.4" fill="#0011d4" stroke="#0011d4" stroke-width="0.4"/>
<polygon points="198.7,167.8 205.2,171.2 198,168.4 191.6,164.9" fill="none" stroke="#000"/>
<polygon points="248.4,186.9 255.5,187.5 248,184.6 240.9,183.9" fill="#0000ff" stroke="#000"/>
<polygon points="127.8,124.8 129.6,127 122.9,124.5 121.1,122.3" fill="#00ff16" stroke="#00ff16" stroke-width="0.4"/>
<polygon points="129.6,127 131.5,129.1 124.8,126.5 122.9,124.5" fill="#00ff2b" stroke="#00ff2b" stroke-width="0.4"/>
<polygon points="131.5,129.1 133.3,131 126.6,128.5 124.8,126.5" fill="#00ff3e" stroke="#00ff3e" stroke-width="0.4"/>
<polygon points="127.8,124.8 133.3,131 126.6,128.5 121.1,122.3" fill="none" stroke="#000"/>
<polygon points="185.5,160.5 187.5,162.1 180.4,159.3 178.4,157.7" fill="#00a0d4" stroke="#00a0d4" stroke-width="0.4"/>
<polygon points="187.5,162.1 189.6,163.5 182.5,160.7 180.4,159.3" fill="#0083d4" stroke="#0083d4" stroke-width="0.4"/>
<polygon points="189.6,163.5 191.6,164.9 184.5,162.1 182.5,160.7" fill="#0063d4" stroke="#0063d4" stroke-width="0.4"/>
<polygon points="185.5,160.5 191.6,164.9 184.5,162.1 178.4,157.7" fill="none" stroke="#000"/>
<polygon points="115.9,115.6 117.6,118 111,115.5 109.2,113.2" fill="#28ff00" stroke="#28ff00" stroke-width="0.4"/>
<polygon points="117.6,118 119.4,120.2 112.7,117.8 111,115.5" fill="#13ff00" stroke="#13ff00" stroke-width="0.4"/>
<polygon points="119.4,120.2 121.1,122.3 114.5,119.8 112.7,117.8" fill="#00ff02" stroke="#00ff02" stroke-width="0.4"/>
<polygon points="115.9,115.6 121.1,122.3 114.5,119.8 109.2,113.2" fill="none" stroke="#000"/>
<polygon points="234,182.2 240.9,183.9 233.5,180.9 226.6,179.3" fill="#0000ff" stroke="#000"/>
<polygon points="104.3,106 106,108.5 99.4,106.1 97.7,103.7" fill="#91ff00" stroke="#91ff00" stroke-width="0.4"/>
<polygon points="106,108.5 107.6,110.9 101,108.5 99.4,106.1" fill="#6dff00" stroke="#6dff00" stroke-width="0.4"/>
<polygon points="107.6,110.9 109.2,113.2 102.7,110.8 101,108.5" fill="#49ff00" stroke="#49ff00" stroke-width="0.4"/>
<polygon points="104.3,106 109.2,113.2 102.7,110.8 97.7,103.7" fill="none" stroke="#000"/>
<polygon points="92.8,96.4 94.5,98.9 88,96.6 86.3,94.2" fill="#e8ff00" stroke="#e8ff00" stroke-width="0.4"/>
<polygon points="94.5,98.9 96.1,101.3 89.6,99 88,96.6" fill="#cdff00" stroke="#cdff00" stroke-width="0.4"/>
<polygon points="96.1,101.3 97.7,103.7 91.2,101.4 89.6,99" fill="#b3ff00" stroke="#b3ff00" stroke-width="0.4"/>
<polygon points="92.8,96.4 97.7,103.7 91.2,101.4 86.3,94.2" fill="none" stroke="#000"/>
<polygon points="172.4,152.9 174.4,154.6 167.4,151.8 165.4,150.1" fill="#00dfc4" stroke="#00dfc4" stroke-width="0.4"/>
<polygon points="174.4,154.6 176.4,156.2 169.4,153.4 167.4,151.8" fill="#00dad8" stroke="#00dad8" stroke-width="0.4"/>
<polygon points="176.4,156.2 178.4,157.7 171.4,155 169.4,153.4" fill="#00bcd5" stroke="#00bcd5" stroke-width="0.4"/>
<polygon points="172.4,152.9 178.4,157.7 171.4,155 165.4,150.1" fill="none" stroke="#000"/>
<polygon points="81.4,86.7 83,89.3 76.6,87.1 74.9,84.6" fill="#ffc600" stroke="#ffc600" stroke-width="0.4"/>
<polygon points="83,89.3 84.7,91.7 78.3,89.5 76.6,87.1" fill="#ffe200" stroke="#ffe200" stroke-width="0.4"/>
<polygon points="84.7,91.7 86.3,94.2 79.9,91.9 78.3,89.5" fill="#fffe00" stroke="#fffe00" stroke-width="0.4"/>
<polygon points="81.4,86.7 86.3,94.2 79.9,91.9 74.9,84.6" fill="none" stroke="#000"/>
<polygon points="70,77 71.7,79.6 65.3,77.5 63.7,74.9" fill="#ff7b00" stroke="#ff7b00" stroke-width="0.4"/>
<polygon points="71.7,79.6 73.3,82.1 67,80 65.3,77.5" fill="#ff9300" stroke="#ff9300" stroke-width="0.4"/>
<polygon points="73.3,82.1 74.9,84.6 68.6,82.4 67,80" fill="#ffab00" stroke="#ffab00" stroke-width="0.4"/>
<polygon points="70,77 74.9,84.6 68.6,82.4 63.7,74.9" fill="none" stroke="#000"/>
<polygon points="219.8,177 222,177.9 214.7,175 212.4,174.1" fill="#0000ff" stroke="#0000ff" stroke-width="0.4"/>
<polygon points="222,177.9 224.3,178.6 217,175.7 214.7,175" fill="#0000ff" stroke="#0000ff" stroke-width="0.4"/>
<polygon points="224.3,178.6 226.6,179.3 219.3,176.4 217,175.7" fill="#0000ff" stroke="#0000ff" stroke-width="0.4"/>
<polygon points="219.8,177 226.6,179.3 219.3,176.4 212.4,174.1" fill="none" stroke="#000"/>
<polygon points="58.8,67.2 60.4,69.8 54.2,67.8 52.5,65.2" fill="#ff3e00" stroke="#ff3e00" stroke-width="0.4"/>
<polygon points="60.4,69.8 62.1,72.4 55.8,70.4 54.2,67.8" fill="#ff5200" stroke="#ff5200" stroke-width="0.4"/>
<polygon points="62.1,72.4 63.7,74.9 57.4,72.9 55.8,70.4" fill="#ff6600" stroke="#ff6600" stroke-width="0.4"/>
<polygon points="58.8,67.2 63.7,74.9 57.4,72.9 52.5,65.2" fill="none" stroke="#000"/>
<polygon points="159.6,144.8 161.5,146.7 154.6,143.9 152.6,142.1" fill="#00ee92" stroke="#00ee92" stroke-width="0.4"/>
<polygon points="161.5,146.7 163.5,148.4 156.5,145.7 154.6,143.9" fill="#00e9a4" stroke="#00e9a4" stroke-width="0.4"/>
<polygon points="163.5,148.4 165.4,150.1 158.5,147.4 156.5,145.7" fill="#00e4b5" stroke="#00e4b5" stroke-width="0.4"/>
<polygon points="159.6,144.8 165.4,150.1 158.5,147.4 152.6,142.1" fill="none" stroke="#000"/>
<polygon points="147,136.3 148.9,138.3 142,135.6 140.1,133.6" fill="#00fd55" stroke="#00fd55" stroke-width="0.4"/>
<polygon points="148.9,138.3 150.7,140.3 143.9,137.6 142,135.6" fill="#00f86b" stroke="#00f86b" stroke-width="0.4"/>
<polygon points="150.7,140.3 152.6,142.1 145.7,139.4 143.9,137.6" fill="#00f37f" stroke="#00f37f" stroke-width="0.4"/>
<polygon points="147,136.3 152.6,142.1 145.7,139.4 140.1,133.6" fill="none" stroke="#000"/>
<polygon points="206,170.7 208.2,172 200.9,169.1 198.7,167.8" fill="#0043d4" stroke="#0043d4" stroke-width="0.4"/>
<polygon points="208.2,172 210.3,173.2 203,170.3 200.9,169.1" fill="#0027d4" stroke="#0027d4" stroke-width="0.4"/>
<polygon points="210.3,173.2 212.4,174.1 205.2,171.2 203,170.3" fill="#0011d4" stroke="#0011d4" stroke-width="0.4"/>
<polygon points="206,170.7 212.4,174.1 205.2,171.2 198.7,167.8" fill="none" stroke="#000"/>
<polygon points="134.6,127.4 136.4,129.6 129.6,127 127.8,124.8" fill="#00ff15" stroke="#00ff15" stroke-width="0.4"/>
<polygon points="136.4,129.6 138.3,131.6 131.5,129.1 129.6,127" fill="#00ff2a" stroke="#00ff2a" stroke-width="0.4"/>
<polygon points="138.3,131.6 140.1,133.6 133.3,131 131.5,129.1" fill="#00ff3e" stroke="#00ff3e" stroke-width="0.4"/>
<polygon points="134.6,127.4 140.1,133.6 133.3,131 127.8,124.8" fill="none" stroke="#000"/>
<polygon points="192.7,163.4 194.7,164.9 187.5,162.1 185.5,160.5" fill="#00a0d4" stroke="#00a0d4" stroke-width="0.4"/>
<polygon points="194.7,164.9 196.7,166.4 189.6,163.5 187.5,162.1" fill="#0083d4" stroke="#0083d4" stroke-width="0.4"/>
<polygon points="196.7,166.4 198.7,167.8 191.6,164.9 189.6,163.5" fill="#0063d4" stroke="#0063d4" stroke-width="0.4"/>
<polygon points="192.7,163.4 198.7,167.8 191.6,164.9 185.5,160.5" fill="none" stroke="#000"/>
<polygon points="122.6,118.1 124.4,120.5 117.6,118 115.9,115.6" fill="#29ff00" stroke="#29ff00" stroke-width="0.4"/>
<polygon points="124.4,120.5 126.1,122.7 119.4,120.2 117.6,118" fill="#13ff00" stroke="#13ff00" stroke-width="0.4"/>
<polygon points="126.1,122.7 127.8,124.8 121.1,122.3 119.4,120.2" fill="#00ff01" stroke="#00ff01" stroke-width="0.4"/>
<polygon points="122.6,118.1 127.8,124.8 121.1,122.3 115.9,115.6" fill="none" stroke="#000"/>
<polygon points="241.5,185.2 248.4,186.9 240.9,183.9 234,182.2" fill="#0000ff" stroke="#000"/>
<polygon points="111,108.4 112.6,110.9 106,108.5 104.3,106" fill="#92ff00" stroke="#92ff00" stroke-width="0.4"/>
<polygon points="112.6,110.9 114.3,113.3 107.6,110.9 106,108.5" fill="#6eff00" stroke="#6eff00" stroke-width="0.4"/>
<polygon points="114.3,113.3 115.9,115.6 109.2,113.2 107.6,110.9" fill="#4bff00" stroke="#4bff00" stroke-width="0.4"/>
<polygon points="111,108.4 115.9,115.6 109.2,113.2 104.3,106" fill="none" stroke="#000"/>
<polygon points="99.4,98.7 101,101.2 94.5,98.9 92.8,96.4" fill="#e9ff00" stroke="#e9ff00" stroke-width="0.4"/>
<polygon points="101,101.2 102.7,103.6 96.1,101.3 94.5,98.9" fill="#cfff00" stroke="#cfff00" stroke-width="0.4"/>
<polygon points="102.7,103.6 104.3,106 97.7,103.7 96.1,101.3" fill="#b4ff00" stroke="#b4ff00" stroke-width="0.4"/>
<polygon points="99.4,98.7 104.3,106 97.7,103.7 92.8,96.4" fill="none" stroke="#000"/>
<polygon points="179.5,155.7 181.5,157.4 174.4,154.6 172.4,152.9" fill="#00dfc4" stroke="#00dfc4" stroke-width="0.4"/>
<polygon points="181.5,157.4 183.5,159 176.4,156.2 174.4,154.6" fill="#00dad8" stroke="#00dad8" stroke-width="0.4"/>
<polygon points="183.5,159 185.5,160.5 178.4,157.7 176.4,156.2" fill="#00bcd5" stroke="#00bcd5" stroke-width="0.4"/>
<polygon points="179.5,155.7 185.5,160.5 178.4,157.7 172.4,152.9" fill="none" stroke="#000"/>
<polygon points="87.9,88.9 89.5,91.5 83,89.3 81.4,86.7" fill="#ffc400" stroke="#ffc400" stroke-width="0.4"/>
<polygon points="89.5,91.5 91.2,94 84.7,91.7 83,89.3" fill="#ffe100" stroke="#ffe100" stroke-width="0.4"/>
<polygon points="91.2,94 92.8,96.4 86.3,94.2 84.7,91.7" fill="#fffc00" stroke="#fffc00" stroke-width="0.4"/>
<polygon points="87.9,88.9 92.8,96.4 86.3,94.2 81.4,86.7" fill="none" stroke="#000"/>
<polygon points="76.5,79.1 78.1,81.7 71.7,79.6 70,77" fill="#ff7a00" stroke="#ff7a00" stroke-width="0.4"/>
<polygon points="78.1,81.7 79.7,84.2 73.3,82.1 71.7,79.6" fill="#ff9200" stroke="#ff9200" stroke-width="0.4"/>
<polygon points="79.7,84.2 81.4,86.7 74.9,84.6 73.3,82.1" fill="#ffa900" stroke="#ffa900" stroke-width="0.4"/>
<polygon points="76.5,79.1 81.4,86.7 74.9,84.6 70,77" fill="none" stroke="#000"/>
<polygon points="227.2,180 229.5,180.9 222,177.9 219.8,177" fill="#0000ff" stroke="#0000ff" stroke-width="0.4"/>
<polygon points="229.5,180.9 231.7,181.6 224.3,178.6 222,177.9" fill="#0000ff" stroke="#0000ff" stroke-width="0.4"/>
<polygon points="231.7,181.6 234,182.2 226.6,179.3 224.3,178.6" fill="#0000ff" stroke="#0000ff" stroke-width="0.4"/>
<polygon points="227.2,180 234,182.2 226.6,179.3 219.8,177" fill="none" stroke="#000"/>
<polygon points="65.2,69.2 66.8,71.9 60.4,69.8 58.8,67.2" fill="#ff3d00" stroke="#ff3d00" stroke-width="0.4"/>
<polygon points="66.8,71.9 68.4,74.5 62.1,72.4 60.4,69.8" fill="#ff5100" stroke="#ff5100" stroke-width="0.4"/>
<polygon points="68.4,74.5 70,77 63.7,74.9 62.1,72.4" fill="#ff6500" stroke="#ff6500" stroke-width="0.4"/>
<polygon points="65.2,69.2 70,77 63.7,74.9 58.8,67.2" fill="none" stroke="#000"/>
<polygon points="166.6,147.6 168.5,149.4 161.5,146.7 159.6,144.8" fill="#00ee92" stroke="#00ee92" stroke-width="0.4"/>
<polygon points="168.5,149.4 170.5,151.2 163.5,148.4 161.5,146.7" fill="#00e9a4" stroke="#00e9a4" stroke-width="0.4"/>
<polygon points="170.5,151.2 172.4,152.9 165.4,150.1 163.5,148.4" fill="#00e4b5" stroke="#00e4b5" stroke-width="0.4"/>
<polygon points="166.6,147.6 172.4,152.9 165.4,150.1 159.6,144.8" fill="none" stroke="#000"/>
<polygon points="153.9,138.9 155.8,141 148.9,138.3 147,136.3" fill="#00fd55" stroke="#00fd55" stroke-width="0.4"/>
<polygon points="155.8,141 157.7,143 150.7,140.3 148.9,138.3" fill="#00f86b" stroke="#00f86b" stroke-width="0.4"/>
<polygon points="157.7,143 159.6,144.8 152.6,142.1 150.7,140.3" fill="#00f37f" stroke="#00f37f" stroke-width="0.4"/>
<polygon points="153.9,138.9 159.6,144.8 152.6,142.1 147,136.3" fill="none" stroke="#000"/>
<polygon points="213.4,173.6 215.5,175 208.2,172 206,170.7" fill="#0043d4" stroke="#0043d4" stroke-width="0.4"/>
<polygon points="215.5,175 217.6,176.1 210.3,173.2 208.2,172" fill="#0027d4" stroke="#0027d4" stroke-width="0.4"/>
<polygon points="217.6,176.1 219.8,177 212.4,174.1 210.3,173.2" fill="#0011d4" stroke="#0011d4" stroke-width="0.4"/>
<polygon points="213.4,173.6 219.8,177 212.4,174.1 206,170.7" fill="none" stroke="#000"/>
<polygon points="141.5,130 143.3,132.2 136.4,129.6 134.6,127.4" fill="#00ff15" stroke="#00ff15" stroke-width="0.4"/>
<polygon points="143.3,132.2 145.2,134.3 138.3,131.6 136.4,129.6" fill="#00ff2a" stroke="#00ff2a" stroke-width="0.4"/>
<polygon points="145.2,134.3 147,136.3 140.1,133.6 138.3,131.6" fill="#00ff3e" stroke="#00ff3e" stroke-width="0.4"/>
<polygon points="141.5,130 147,136.3 140.1,133.6 134.6,127.4" fill="none" stroke="#000"/>
<polygon points="200,166.3 202,167.8 194.7,164.9 192.7,163.4" fill="#00a0d4" stroke="#00a0d4" stroke-width="0.4"/>
<polygon points="202,167.8 204,169.3 196.7,166.4 194.7,164.9" fill="#0083d4" stroke="#0083d4" stroke-width="0.4"/>
<polygon points="204,169.3 206,170.7 198.7,167.8 196.7,166.4" fill="#0063d4" stroke="#0063d4" stroke-width="0.4"/>
<polygon points="200,166.3 206,170.7 198.7,167.8 192.7,163.4" fill="none" stroke="#000"/>
<polygon points="129.4,120.6 131.2,123 124.4,120.5 122.6,118.1" fill="#2aff00" stroke="#2aff00" stroke-width="0.4"/>
<polygon points="131.2,123 132.9,125.3 126.1,122.7 124.4,120.5" fill="#14ff00" stroke="#14ff00" stroke-width="0.4"/>
<polygon points="132.9,125.3 134.6,127.4 127.8,124.8 126.1,122.7" fill="#00ff01" stroke="#00ff01" stroke-width="0.4"/>
<polygon points="129.4,120.6 134.6,127.4 127.8,124.8 122.6,118.1" fill="none" stroke="#000"/>
<polygon points="117.7,110.8 119.4,113.3 112.6,110.9 111,108.4" fill="#94ff00" stroke="#94ff00" stroke-width="0.4"/>
<polygon points="119.4,113.3 121,115.7 114.3,113.3 112.6,110.9" fill="#6fff00" stroke="#6fff00" stroke-width="0.4"/>
<polygon points="121,115.7 122.6,118.1 115.9,115.6 114.3,113.3" fill="#4cff00" stroke="#4cff00" stroke-width="0.4"/>
<polygon points="117.7,110.8 122.6,118.1 115.9,115.6 111,108.4" fill="none" stroke="#000"/>
<polygon points="106.1,101 107.7,103.5 101,101.2 99.4,98.7" fill="#eaff00" stroke="#eaff00" stroke-width="0.4"/>
<polygon points="107.7,103.5 109.3,106 102.7,103.6 101,101.2" fill="#d0ff00" stroke="#d0ff00" stroke-width="0.4"/>
<polygon points="109.3,106 111,108.4 104.3,106 102.7,103.6" fill="#b5ff00" stroke="#b5ff00" stroke-width="0.4"/>
<polygon points="106.1,101 111,108.4 104.3,106 99.4,98.7" fill="none" stroke="#000"/>
<polygon points="186.7,158.5 188.7,160.2 181.5,157.4 179.5,155.7" fill="#00dfc4" stroke="#00dfc4" stroke-width="0.4"/>
<polygon points="188.7,160.2 190.7,161.9 183.5,159 181.5,157.4" fill="#00dad8" stroke="#00dad8" stroke-width="0.4"/>
<polygon points="190.7,161.9 192.7,163.4 185.5,160.5 183.5,159" fill="#00bcd5" stroke="#00bcd5" stroke-width="0.4"/>
<polygon points="186.7,158.5 192.7,163.4 185.5,160.5 179.5,155.7" fill="none" stroke="#000"/>
<polygon points="94.5,91.2 96.1,93.7 89.5,91.5 87.9,88.9" fill="#ffc200" stroke="#ffc200" stroke-width="0.4"/>
<polygon points="96.1,93.7 97.8,96.2 91.2,94 89.5,91.5" fill="#ffdf00" stroke="#ffdf00" stroke-width="0.4"/>
<polygon points="97.8,96.2 99.4,98.7 92.8,96.4 91.2,94" fill="#fffb00" stroke="#fffb00" stroke-width="0.4"/>
<polygon points="94.5,91.2 99.4,98.7 92.8,96.4 87.9,88.9" fill="none" stroke="#000"/>
<polygon points="83,81.2 84.6,83.8 78.1,81.7 76.5,79.1" fill="#ff7800" stroke="#ff7800" stroke-width="0.4"/>
<polygon points="84.6,83.8 86.3,86.4 79.7,84.2 78.1,81.7" fill="#ff9000" stroke="#ff9000" stroke-width="0.4"/>
<polygon points="86.3,86.4 87.9,88.9 81.4,86.7 79.7,84.2" fill="#ffa800" stroke="#ffa800" stroke-width="0.4"/>
<polygon points="83,81.2 87.9,88.9 81.4,86.7 76.5,79.1" fill="none" stroke="#000"/>
<polygon points="234.7,183 237,183.9 229.5,180.9 227.2,180" fill="#0000ff" stroke="#0000ff" stroke-width="0.4"/>
<polygon points="237,183.9 239.3,184.6 231.7,181.6 229.5,180.9" fill="#0000ff" stroke="#0000ff" stroke-width="0.4"/>
<polygon points="239.3,184.6 241.5,185.2 234,182.2 231.7,181.6" fill="#0000ff" stroke="#0000ff" stroke-width="0.4"/>
<polygon points="234.7,183 241.5,185.2 234,182.2 227.2,180" fill="none" stroke="#000"/>
<polygon points="71.6,71.3 73.2,73.9 66.8,71.9 65.2,69.2" fill="#ff3b00" stroke="#ff3b00" stroke-width="0.4"/>
<polygon points="73.2,73.9 74.9,76.5 68.4,74.5 66.8,71.9" fill="#ff4f00" stroke="#ff4f00" stroke-width="0.4"/>
<polygon points="74.9,76.5 76.5,79.1 70,77 68.4,74.5" fill="#ff6300" stroke="#ff6300" stroke-width="0.4"/>
<polygon points="71.6,71.3 76.5,79.1 70,77 65.2,69.2" fill="none" stroke="#000"/>
<polygon points="173.7,150.4 175.7,152.2 168.5,149.4 166.6,147.6" fill="#00ee92" stroke="#00ee92" stroke-width="0.4"/>
<polygon points="175.7,152.2 177.6,154 170.5,151.2 168.5,149.4" fill="#00e9a4" stroke="#00e9a4" stroke-width="0.4"/>
<polygon points="177.6,154 179.5,155.7 172.4,152.9 170.5,151.2" fill="#00e4b5" stroke="#00e4b5" stroke-width="0.4"/>
<polygon points="173.7,150.4 179.5,155.7 172.4,152.9 166.6,147.6" fill="none" stroke="#000"/>
<polygon points="161,141.7 162.9,143.7 155.8,141 153.9,138.9" fill="#00fd55" stroke="#00fd55" stroke-width="0.4"/>
<polygon points="162.9,143.7 164.7,145.7 157.7,143 155.8,141" fill="#00f86b" stroke="#00f86b" stroke-width="0.4"/>
<polygon points="164.7,145.7 166.6,147.6 159.6,144.8 157.7,143" fill="#00f37f" stroke="#00f37f" stroke-width="0.4"/>
<polygon points="161,141.7 166.6,147.6 159.6,144.8 153.9,138.9" fill="none" stroke="#000"/>
<polygon points="220.8,176.6 223,177.9 215.5,175 213.4,173.6" fill="#0043d4" stroke="#0043d4" stroke-width="0.4"/>
<polygon points="223,177.9 225.1,179.1 217.6,176.1 215.5,175" fill="#0027d4" stroke="#0027d4" stroke-width="0.4"/>
<polygon points="225.1,179.1 227.2,180 219.8,177 217.6,176.1" fill="#0011d4" stroke="#0011d4" stroke-width="0.4"/>
<polygon points="220.8,176.6 227.2,180 219.8,177 213.4,173.6" fill="none" stroke="#000"/>
<polygon points="148.5,132.6 150.3,134.8 143.3,132.2 141.5,130" fill="#00ff15" stroke="#00ff15" stroke-width="0.4"/>
<polygon points="150.3,134.8 152.1,136.9 145.2,134.3 143.3,132.2" fill="#00ff2a" stroke="#00ff2a" stroke-width="0.4"/>
<polygon points="152.1,136.9 153.9,138.9 147,136.3 145.2,134.3" fill="#00ff3e" stroke="#00ff3e" stroke-width="0.4"/>
<polygon points="148.5,132.6 153.9,138.9 147,136.3 141.5,130" fill="none" stroke="#000"/>
<polygon points="207.4,169.2 209.4,170.7 202,167.8 200,166.3" fill="#00a0d4" stroke="#00a0d4" stroke-width="0.4"/>
<polygon points="209.4,170.7 211.4,172.2 204,169.3 202,167.8" fill="#0083d4" stroke="#0083d4" stroke-width="0.4"/>
<polygon points="211.4,172.2 213.4,173.6 206,170.7 204,169.3" fill="#0063d4" stroke="#0063d4" stroke-width="0.4"/>
<polygon points="207.4,169.2 213.4,173.6 206,170.7 200,166.3" fill="none" stroke="#000"/>
<polygon points="136.4,123.1 138.1,125.5 131.2,123 129.4,120.6" fill="#2aff00" stroke="#2aff00" stroke-width="0.4"/>
<polygon points="138.1,125.5 139.8,127.8 132.9,125.3 131.2,123" fill="#14ff00" stroke="#14ff00" stroke-width="0.4"/>
<polygon points="139.8,127.8 141.5,130 134.6,127.4 132.9,125.3" fill="#00ff00" stroke="#00ff00" stroke-width="0.4"/>
<polygon points="136.4,123.1 141.5,130 134.6,127.4 129.4,120.6" fill="none" stroke="#000"/>
<polygon points="124.5,113.3 126.2,115.8 119.4,113.3 117.7,110.8" fill="#95ff00" stroke="#95ff00" stroke-width="0.4"/>
<polygon points="126.2,115.8 127.8,118.2 121,115.7 119.4,113.3" fill="#71ff00" stroke="#71ff00" stroke-width="0.4"/>
<polygon points="127.8,118.2 129.4,120.6 122.6,118.1 121,115.7" fill="#4dff00" stroke="#4dff00" stroke-width="0.4"/>
<polygon points="124.5,113.3 129.4,120.6 122.6,118.1 117.7,110.8" fill="none" stroke="#000"/>
<polygon points="194.1,161.4 196,163.1 188.7,160.2 186.7,158.5" fill="#00dfc4" stroke="#00dfc4" stroke-width="0.4"/>
<polygon points="196,163.1 198,164.7 190.7,161.9 188.7,160.2" fill="#00dad8" stroke="#00dad8" stroke-width="0.4"/>
<polygon points="198,164.7 200,166.3 192.7,163.4 190.7,161.9" fill="#00bcd5" stroke="#00bcd5" stroke-width="0.4"/>
<polygon points="194.1,161.4 200,166.3 192.7,163.4 186.7,158.5" fill="none" stroke="#000"/>
<polygon points="112.8,103.3 114.5,105.9 107.7,103.5 106.1,101" fill="#ebff00" stroke="#ebff00" stroke-width="0.4"/>
<polygon points="114.5,105.9 116.1,108.3 109.3,106 107.7,103.5" fill="#d1ff00" stroke="#d1ff00" stroke-width="0.4"/>
<polygon points="116.1,108.3 117.7,110.8 111,108.4 109.3,106" fill="#b7ff00" stroke="#b7ff00" stroke-width="0.4"/>
<polygon points="112.8,103.3 117.7,110.8 111,108.4 106.1,101" fill="none" stroke="#000"/>
<polygon points="101.2,93.4 102.8,96 96.1,93.7 94.5,91.2" fill="#ffc100" stroke="#ffc100" stroke-width="0.4"/>
<polygon points="102.8,96 104.4,98.5 97.8,96.2 96.1,93.7" fill="#ffde00" stroke="#ffde00" stroke-width="0.4"/>
<polygon points="104.4,98.5 106.1,101 99.4,98.7 97.8,96.2" fill="#fffa00" stroke="#fffa00" stroke-width="0.4"/>
<polygon points="101.2,93.4 106.1,101 99.4,98.7 94.5,91.2" fill="none" stroke="#000"/>
<polygon points="89.6,83.4 91.2,86 84.6,83.8 83,81.2" fill="#ff7700" stroke="#ff7700" stroke-width="0.4"/>
<polygon points="91.2,86 92.9,88.6 86.3,86.4 84.6,83.8" fill="#ff8f00" stroke="#ff8f00" stroke-width="0.4"/>
<polygon points="92.9,88.6 94.5,91.2 87.9,88.9 86.3,86.4" fill="#ffa700" stroke="#ffa700" stroke-width="0.4"/>
<polygon points="89.6,83.4 94.5,91.2 87.9,88.9 83,81.2" fill="none" stroke="#000"/>
<polygon points="78.1,73.3 79.8,76 73.2,73.9 71.6,71.3" fill="#ff3a00" stroke="#ff3a00" stroke-width="0.4"/>
<polygon points="79.8,76 81.4,78.7 74.9,76.5 73.2,73.9" fill="#ff4e00" stroke="#ff4e00" stroke-width="0.4"/>
<polygon points="81.4,78.7 83,81.2 76.5,79.1 74.9,76.5" fill="#ff6200" stroke="#ff6200" stroke-width="0.4"/>
<polygon points="78.1,73.3 83,81.2 76.5,79.1 71.6,71.3" fill="none" stroke="#000"/>
<polygon points="181,153.2 182.9,155.1 175.7,152.2 173.7,150.4" fill="#00ee92" stroke="#00ee92" stroke-width="0.4"/>
<polygon points="182.9,155.1 184.8,156.8 177.6,154 175.7,152.2" fill="#00e9a4" stroke="#00e9a4" stroke-width="0.4"/>
<polygon points="184.8,156.8 186.7,158.5 179.5,155.7 177.6,154" fill="#00e4b5" stroke="#00e4b5" stroke-width="0.4"/>
<polygon points="181,153.2 186.7,158.5 179.5,155.7 173.7,150.4" fill="none" stroke="#000"/>
<polygon points="168.2,144.4 170,146.5 162.9,143.7 161,141.7" fill="#00fd55" stroke="#00fd55" stroke-width="0.4"/>
<polygon points="170,146.5 171.9,148.5 164.7,145.7 162.9,143.7" fill="#00f86b" stroke="#00f86b" stroke-width="0.4"/>
<polygon points="171.9,148.5 173.7,150.4 166.6,147.6 164.7,145.7" fill="#00f37f" stroke="#00f37f" stroke-width="0.4"/>
<polygon points="168.2,144.4 173.7,150.4 166.6,147.6 161,141.7" fill="none" stroke="#000"/>
<polygon points="228.4,179.6 230.5,180.9 223,177.9 220.8,176.6" fill="#0043d4" stroke="#0043d4" stroke-width="0.4"/>
<polygon points="230.5,180.9 232.6,182.1 225.1,179.1 223,177.9" fill="#0027d4" stroke="#0027d4" stroke-width="0.4"/>
<polygon points="232.6,182.1 234.7,183 227.2,180 225.1,179.1" fill="#0011d4" stroke="#0011d4" stroke-width="0.4"/>
<polygon points="228.4,179.6 234.7,183 227.2,180 220.8,176.6" fill="none" stroke="#000"/>
<polygon points="155.6,135.2 157.4,137.5 150.3,134.8 148.5,132.6" fill="#00ff14" stroke="#00ff14" stroke-width="0.4"/>
<polygon points="157.4,137.5 159.2,139.6 152.1,136.9 150.3,134.8" fill="#00ff29" stroke="#00ff29" stroke-width="0.4"/>
<polygon points="159.2,139.6 161,141.7 153.9,138.9 152.1,136.9" fill="#00ff3d" stroke="#00ff3d" stroke-width="0.4"/>
<polygon points="155.6,135.2 161,141.7 153.9,138.9 148.5,132.6" fill="none" stroke="#000"/>
<polygon points="214.8,172.2 216.8,173.7 209.4,170.7 207.4,169.2" fill="#00a0d4" stroke="#00a0d4" stroke-width="0.4"/>
<polygon points="216.8,173.7 218.8,175.2 211.4,172.2 209.4,170.7" fill="#0083d4" stroke="#0083d4" stroke-width="0.4"/>
<polygon points="218.8,175.2 220.8,176.6 213.4,173.6 211.4,172.2" fill="#0063d4" stroke="#0063d4" stroke-width="0.4"/>
<polygon points="214.8,172.2 220.8,176.6 213.4,173.6 207.4,169.2" fill="none" stroke="#000"/>
<polygon points="143.4,125.7 145.1,128.1 138.1,125.5 136.4,123.1" fill="#2bff00" stroke="#2bff00" stroke-width="0.4"/>
<polygon points="145.1,128.1 146.8,130.4 139.8,127.8 138.1,125.5" fill="#15ff00" stroke="#15ff00" stroke-width="0.4"/>
<polygon points="146.8,130.4 148.5,132.6 141.5,130 139.8,127.8" fill="#00ff00" stroke="#00ff00" stroke-width="0.4"/>
<polygon points="143.4,125.7 148.5,132.6 141.5,130 136.4,123.1" fill="none" stroke="#000"/>
<polygon points="131.5,115.7 133.1,118.3 126.2,115.8 124.5,113.3" fill="#96ff00" stroke="#96ff00" stroke-width="0.4"/>
<polygon points="133.1,118.3 134.7,120.7 127.8,118.2 126.2,115.8" fill="#72ff00" stroke="#72ff00" stroke-width="0.4"/>
<polygon points="134.7,120.7 136.4,123.1 129.4,120.6 127.8,118.2" fill="#4eff00" stroke="#4eff00" stroke-width="0.4"/>
<polygon points="131.5,115.7 136.4,123.1 129.4,120.6 124.5,113.3" fill="none" stroke="#000"/>
<polygon points="201.5,164.3 203.4,166 196,163.1 194.1,161.4" fill="#00dfc4" stroke="#00dfc4" stroke-width="0.4"/>
<polygon points="203.4,166 205.4,167.7 198,164.7 196,163.1" fill="#00dad8" stroke="#00dad8" stroke-width="0.4"/>
<polygon points="205.4,167.7 207.4,169.2 200,166.3 198,164.7" fill="#00bcd5" stroke="#00bcd5" stroke-width="0.4"/>
<polygon points="201.5,164.3 207.4,169.2 200,166.3 194.1,161.4" fill="none" stroke="#000"/>
<polygon points="119.7,105.7 121.3,108.3 114.5,105.9 112.8,103.3" fill="#edff00" stroke="#edff00" stroke-width="0.4"/>
<polygon points="121.3,108.3 122.9,110.8 116.1,108.3 114.5,105.9" fill="#d2ff00" stroke="#d2ff00" stroke-width="0.4"/>
<polygon points="122.9,110.8 124.5,113.3 117.7,110.8 116.1,108.3" fill="#b8ff00" stroke="#b8ff00" stroke-width="0.4"/>
<polygon points="119.7,105.7 124.5,113.3 117.7,110.8 112.8,103.3" fill="none" stroke="#000"/>
<polygon points="107.9,95.7 109.6,98.3 102.8,96 101.2,93.4" fill="#ffbf00" stroke="#ffbf00" stroke-width="0.4"/>
<polygon points="109.6,98.3 111.2,100.8 104.4,98.5 102.8,96" fill="#ffdc00" stroke="#ffdc00" stroke-width="0.4"/>
<polygon points="111.2,100.8 112.8,103.3 106.1,101 104.4,98.5" fill="#fff800" stroke="#fff800" stroke-width="0.4"/>
<polygon points="107.9,95.7 112.8,103.3 106.1,101 101.2,93.4" fill="none" stroke="#000"/>
<polygon points="96.3,85.6 97.9,88.2 91.2,86 89.6,83.4" fill="#ff7500" stroke="#ff7500" stroke-width="0.4"/>
<polygon points="97.9,88.2 99.5,90.8 92.9,88.6 91.2,86" fill="#ff8d00" stroke="#ff8d00" stroke-width="0.4"/>
<polygon points="99.5,90.8 101.2,93.4 94.5,91.2 92.9,88.6" fill="#ffa500" stroke="#ffa500" stroke-width="0.4"/>
<polygon points="96.3,85.6 101.2,93.4 94.5,91.2 89.6,83.4" fill="none" stroke="#000"/>
<polygon points="84.8,75.4 86.4,78.1 79.8,76 78.1,73.3" fill="#ff3800" stroke="#ff3800" stroke-width="0.4"/>
<polygon points="86.4,78.1 88,80.8 81.4,78.7 79.8,76" fill="#ff4d00" stroke="#ff4d00" stroke-width="0.4"/>
<polygon points="88,80.8 89.6,83.4 83,81.2 81.4,78.7" fill="#ff6100" stroke="#ff6100" stroke-width="0.4"/>
<polygon points="84.8,75.4 89.6,83.4 83,81.2 78.1,73.3" fill="none" stroke="#000"/>
<polygon points="188.3,156.1 190.2,157.9 182.9,155.1 181,153.2" fill="#00ee92" stroke="#00ee92" stroke-width="0.4"/>
<polygon points="190.2,157.9 192.1,159.7 184.8,156.8 182.9,155.1" fill="#00e9a4" stroke="#00e9a4" stroke-width="0.4"/>
<polygon points="192.1,159.7 194.1,161.4 186.7,158.5 184.8,156.8" fill="#00e4b5" stroke="#00e4b5" stroke-width="0.4"/>
<polygon points="188.3,156.1 194.1,161.4 186.7,158.5 181,153.2" fill="none" stroke="#000"/>
<polygon points="175.4,147.2 177.3,149.3 170,146.5 168.2,144.4" fill="#00fd54" stroke="#00fd54" stroke-width="0.4"/>
<polygon points="177.3,149.3 179.1,151.3 171.9,148.5 170,146.5" fill="#00f86a" stroke="#00f86a" stroke-width="0.4"/>
<polygon points="179.1,151.3 181,153.2 173.7,150.4 171.9,148.5" fill="#00f37f" stroke="#00f37f" stroke-width="0.4"/>
<polygon points="175.4,147.2 181,153.2 173.7,150.4 168.2,144.4" fill="none" stroke="#000"/>
<polygon points="162.7,137.9 164.6,140.2 157.4,137.5 155.6,135.2" fill="#00ff14" stroke="#00ff14" stroke-width="0.4"/>
<polygon points="164.6,140.2 166.4,142.3 159.2,139.6 157.4,137.5" fill="#00ff29" stroke="#00ff29" stroke-width="0.4"/>
<polygon points="166.4,142.3 168.2,144.4 161,141.7 159.2,139.6" fill="#00ff3d" stroke="#00ff3d" stroke-width="0.4"/>
<polygon points="162.7,137.9 168.2,144.4 161,141.7 155.6,135.2" fill="none" stroke="#000"/>
<polygon points="222.4,175.2 224.4,176.7 216.8,173.7 214.8,172.2" fill="#00a0d4" stroke="#00a0d4" stroke-width="0.4"/>
<polygon points="224.4,176.7 226.4,178.2 218.8,175.2 216.8,173.7" fill="#0083d4" stroke="#0083d4" stroke-width="0.4"/>
<polygon points="226.4,178.2 228.4,179.6 220.8,176.6 218.8,175.2" fill="#0063d4" stroke="#0063d4" stroke-width="0.4"/>
<polygon points="222.4,175.2 228.4,179.6 220.8,176.6 214.8,172.2" fill="none" stroke="#000"/>
<polygon points="150.5,128.3 152.2,130.7 145.1,128.1 143.4,125.7" fill="#2cff00" stroke="#2cff00" stroke-width="0.4"/>
<polygon points="152.2,130.7 153.9,133.1 146.8,130.4 145.1,128.1" fill="#16ff00" stroke="#16ff00" stroke-width="0.4"/>
<polygon points="153.9,133.1 155.6,135.2 148.5,132.6 146.8,130.4" fill="#01ff00" stroke="#01ff00" stroke-width="0.4"/>
<polygon points="150.5,128.3 155.6,135.2 148.5,132.6 143.4,125.7" fill="none" stroke="#000"/>
<polygon points="138.5,118.2 140.1,120.8 133.1,118.3 131.5,115.7" fill="#98ff00" stroke="#98ff00" stroke-width="0.4"/>
<polygon points="140.1,120.8 141.7,123.3 134.7,120.7 133.1,118.3" fill="#73ff00" stroke="#73ff00" stroke-width="0.4"/>
<polygon points="141.7,123.3 143.4,125.7 136.4,123.1 134.7,120.7" fill="#4fff00" stroke="#4fff00" stroke-width="0.4"/>
<polygon points="138.5,118.2 143.4,125.7 136.4,123.1 131.5,115.7" fill="none" stroke="#000"/>
<polygon points="209,167.3 210.9,169 203.4,166 201.5,164.3" fill="#00dfc4" stroke="#00dfc4" stroke-width="0.4"/>
<polygon points="210.9,169 212.9,170.6 205.4,167.7 203.4,166" fill="#00dad8" stroke="#00dad8" stroke-width="0.4"/>
<polygon points="212.9,170.6 214.8,172.2 207.4,169.2 205.4,167.7" fill="#00bcd5" stroke="#00bcd5" stroke-width="0.4"/>
<polygon points="209,167.3 214.8,172.2 207.4,169.2 201.5,164.3" fill="none" stroke="#000"/>
<polygon points="126.6,108.1 128.2,110.7 121.3,108.3 119.7,105.7" fill="#eeff00" stroke="#eeff00" stroke-width="0.4"/>
<polygon points="128.2,110.7 129.9,113.2 122.9,110.8 121.3,108.3" fill="#d3ff00" stroke="#d3ff00" stroke-width="0.4"/>
<polygon points="129.9,113.2 131.5,115.7 124.5,113.3 122.9,110.8" fill="#b9ff00" stroke="#b9ff00" stroke-width="0.4"/>
<polygon points="126.6,108.1 131.5,115.7 124.5,113.3 119.7,105.7" fill="none" stroke="#000"/>
<polygon points="114.8,98 116.4,100.6 109.6,98.3 107.9,95.7" fill="#ffbe00" stroke="#ffbe00" stroke-width="0.4"/>
<polygon points="116.4,100.6 118.1,103.2 111.2,100.8 109.6,98.3" fill="#ffda00" stroke="#ffda00" stroke-width="0.4"/>
<polygon points="118.1,103.2 119.7,105.7 112.8,103.3 111.2,100.8" fill="#fff700" stroke="#fff700" stroke-width="0.4"/>
<polygon points="114.8,98 119.7,105.7 112.8,103.3 107.9,95.7" fill="none" stroke="#000"/>
<polygon points="103.1,87.8 104.7,90.5 97.9,88.2 96.3,85.6" fill="#ff7400" stroke="#ff7400" stroke-width="0.4"/>
<polygon points="104.7,90.5 106.3,93.1 99.5,90.8 97.9,88.2" fill="#ff8c00" stroke="#ff8c00" stroke-width="0.4"/>
<polygon points="106.3,93.1 107.9,95.7 101.2,93.4 99.5,90.8" fill="#ffa400" stroke="#ffa400" stroke-width="0.4"/>
<polygon points="103.1,87.8 107.9,95.7 101.2,93.4 96.3,85.6" fill="none" stroke="#000"/>
<polygon points="91.5,77.6 93.1,80.3 86.4,78.1 84.8,75.4" fill="#ff3700" stroke="#ff3700" stroke-width="0.4"/>
<polygon points="93.1,80.3 94.7,83 88,80.8 86.4,78.1" fill="#ff4b00" stroke="#ff4b00" stroke-width="0.4"/>
<polygon points="94.7,83 96.3,85.6 89.6,83.4 88,80.8" fill="#ff5f00" stroke="#ff5f00" stroke-width="0.4"/>
<polygon points="91.5,77.6 96.3,85.6 89.6,83.4 84.8,75.4" fill="none" stroke="#000"/>
<polygon points="195.7,159 197.6,160.8 190.2,157.9 188.3,156.1" fill="#00ee92" stroke="#00ee92" stroke-width="0.4"/>
<polygon points="197.6,160.8 199.6,162.6 192.1,159.7 190.2,157.9" fill="#00e9a4" stroke="#00e9a4" stroke-width="0.4"/>
<polygon points="199.6,162.6 201.5,164.3 194.1,161.4 192.1,159.7" fill="#00e4b5" stroke="#00e4b5" stroke-width="0.4"/>
<polygon points="195.7,159 201.5,164.3 194.1,161.4 188.3,156.1" fill="none" stroke="#000"/>
<polygon points="182.8,150 184.6,152.1 177.3,149.3 175.4,147.2" fill="#00fe54" stroke="#00fe54" stroke-width="0.4"/>
<polygon points="184.6,152.1 186.5,154.2 179.1,151.3 177.3,149.3" fill="#00f86a" stroke="#00f86a" stroke-width="0.4"/>
<polygon points="186.5,154.2 188.3,156.1 181,153.2 179.1,151.3" fill="#00f37f" stroke="#00f37f" stroke-width="0.4"/>
<polygon points="182.8,150 188.3,156.1 181,153.2 175.4,147.2" fill="none" stroke="#000"/>
<polygon points="170,140.7 171.8,142.9 164.6,140.2 162.7,137.9" fill="#00ff13" stroke="#00ff13" stroke-width="0.4"/>
<polygon points="171.8,142.9 173.6,145.1 166.4,142.3 164.6,140.2" fill="#00ff29" stroke="#00ff29" stroke-width="0.4"/>
<polygon points="173.6,145.1 175.4,147.2 168.2,144.4 166.4,142.3" fill="#00ff3d" stroke="#00ff3d" stroke-width="0.4"/>
<polygon points="170,140.7 175.4,147.2 168.2,144.4 162.7,137.9" fill="none" stroke="#000"/>
<polygon points="157.7,130.9 159.4,133.4 152.2,130.7 150.5,128.3" fill="#2dff00" stroke="#2dff00" stroke-width="0.4"/>
<polygon points="159.4,133.4 161.1,135.7 153.9,133.1 152.2,130.7" fill="#16ff00" stroke="#16ff00" stroke-width="0.4"/>
<polygon points="161.1,135.7 162.7,137.9 155.6,135.2 153.9,133.1" fill="#01ff00" stroke="#01ff00" stroke-width="0.4"/>
<polygon points="157.7,130.9 162.7,137.9 155.6,135.2 150.5,128.3" fill="none" stroke="#000"/>
<polygon points="145.6,120.8 147.2,123.3 140.1,120.8 138.5,118.2" fill="#99ff00" stroke="#99ff00" stroke-width="0.4"/>
<polygon points="147.2,123.3 148.9,125.8 141.7,123.3 140.1,120.8" fill="#74ff00" stroke="#74ff00" stroke-width="0.4"/>
<polygon points="148.9,125.8 150.5,128.3 143.4,125.7 141.7,123.3" fill="#50ff00" stroke="#50ff00" stroke-width="0.4"/>
<polygon points="145.6,120.8 150.5,128.3 143.4,125.7 138.5,118.2" fill="none" stroke="#000"/>
<polygon points="216.6,170.3 218.5,172 210.9,169 209,167.3" fill="#00dfc4" stroke="#00dfc4" stroke-width="0.4"/>
<polygon points="218.5,172 220.5,173.6 212.9,170.6 210.9,169" fill="#00dad8" stroke="#00dad8" stroke-width="0.4"/>
<polygon points="220.5,173.6 222.4,175.2 214.8,172.2 212.9,170.6" fill="#00bcd5" stroke="#00bcd5" stroke-width="0.4"/>
<polygon points="216.6,170.3 222.4,175.2 214.8,172.2 209,167.3" fill="none" stroke="#000"/>
<polygon points="133.7,110.6 135.3,113.1 128.2,110.7 126.6,108.1" fill="#efff00" stroke="#efff00" stroke-width="0.4"/>
<polygon points="135.3,113.1 136.9,115.7 129.9,113.2 128.2,110.7" fill="#d4ff00" stroke="#d4ff00" stroke-width="0.4"/>
<polygon points="136.9,115.7 138.5,118.2 131.5,115.7 129.9,113.2" fill="#baff00" stroke="#baff00" stroke-width="0.4"/>
<polygon points="133.7,110.6 138.5,118.2 131.5,115.7 126.6,108.1" fill="none" stroke="#000"/>
<polygon points="121.8,100.3 123.4,103 116.4,100.6 114.8,98" fill="#ffbc00" stroke="#ffbc00" stroke-width="0.4"/>
<polygon points="123.4,103 125,105.6 118.1,103.2 116.4,100.6" fill="#ffd900" stroke="#ffd900" stroke-width="0.4"/>
<polygon points="125,105.6 126.6,108.1 119.7,105.7 118.1,103.2" fill="#fff600" stroke="#fff600" stroke-width="0.4"/>
<polygon points="121.8,100.3 126.6,108.1 119.7,105.7 114.8,98" fill="none" stroke="#000"/>
<polygon points="110,90.1 111.6,92.7 104.7,90.5 103.1,87.8" fill="#ff7200" stroke="#ff7200" stroke-width="0.4"/>
<polygon points="111.6,92.7 113.2,95.4 106.3,93.1 104.7,90.5" fill="#ff8a00" stroke="#ff8a00" stroke-width="0.4"/>
<polygon points="113.2,95.4 114.8,98 107.9,95.7 106.3,93.1" fill="#ffa200" stroke="#ffa200" stroke-width="0.4"/>
<polygon points="110,90.1 114.8,98 107.9,95.7 103.1,87.8" fill="none" stroke="#000"/>
<polygon points="98.3,79.7 99.9,82.5 93.1,80.3 91.5,77.6" fill="#ff3500" stroke="#ff3500" stroke-width="0.4"/>
<polygon points="99.9,82.5 101.5,85.2 94.7,83 93.1,80.3" fill="#ff4a00" stroke="#ff4a00" stroke-width="0.4"/>
<polygon points="101.5,85.2 103.1,87.8 96.3,85.6 94.7,83" fill="#ff5e00" stroke="#ff5e00" stroke-width="0.4"/>
<polygon points="98.3,79.7 103.1,87.8 96.3,85.6 91.5,77.6" fill="none" stroke="#000"/>
<polygon points="203.3,161.9 205.2,163.8 197.6,160.8 195.7,159" fill="#00ee92" stroke="#00ee92" stroke-width="0.4"/>
<polygon points="205.2,163.8 207.1,165.6 199.6,162.6 197.6,160.8" fill="#00e9a4" stroke="#00e9a4" stroke-width="0.4"/>
<polygon points="207.1,165.6 209,167.3 201.5,164.3 199.6,162.6" fill="#00e4b5" stroke="#00e4b5" stroke-width="0.4"/>
<polygon points="203.3,161.9 209,167.3 201.5,164.3 195.7,159" fill="none" stroke="#000"/>
<polygon points="190.2,152.9 192.1,155 184.6,152.1 182.8,150" fill="#00fe54" stroke="#00fe54" stroke-width="0.4"/>
<polygon points="192.1,155 193.9,157.1 186.5,154.2 184.6,152.1" fill="#00f86a" stroke="#00f86a" stroke-width="0.4"/>
<polygon points="193.9,157.1 195.7,159 188.3,156.1 186.5,154.2" fill="#00f37f" stroke="#00f37f" stroke-width="0.4"/>
<polygon points="190.2,152.9 195.7,159 188.3,156.1 182.8,150" fill="none" stroke="#000"/>
<polygon points="177.4,143.4 179.2,145.7 171.8,142.9 170,140.7" fill="#00ff13" stroke="#00ff13" stroke-width="0.4"/>
<polygon points="179.2,145.7 181,147.9 173.6,145.1 171.8,142.9" fill="#00ff28" stroke="#00ff28" stroke-width="0.4"/>
<polygon points="181,147.9 182.8,150 175.4,147.2 173.6,145.1" fill="#00ff3d" stroke="#00ff3d" stroke-width="0.4"/>
<polygon points="177.4,143.4 182.8,150 175.4,147.2 170,140.7" fill="none" stroke="#000"/>
<polygon points="165,133.6 166.7,136.1 159.4,133.4 157.7,130.9" fill="#2eff00" stroke="#2eff00" stroke-width="0.4"/>
<polygon points="166.7,136.1 168.3,138.4 161.1,135.7 159.4,133.4" fill="#17ff00" stroke="#17ff00" stroke-width="0.4"/>
<polygon points="168.3,138.4 170,140.7 162.7,137.9 161.1,135.7" fill="#02ff00" stroke="#02ff00" stroke-width="0.4"/>
<polygon points="165,133.6 170,140.7 162.7,137.9 157.7,130.9" fill="none" stroke="#000"/>
<polygon points="152.8,123.3 154.4,125.9 147.2,123.3 145.6,120.8" fill="#9bff00" stroke="#9bff00" stroke-width="0.4"/>
<polygon points="154.4,125.9 156.1,128.4 148.9,125.8 147.2,123.3" fill="#76ff00" stroke="#76ff00" stroke-width="0.4"/>
<polygon points="156.1,128.4 157.7,130.9 150.5,128.3 148.9,125.8" fill="#52ff00" stroke="#52ff00" stroke-width="0.4"/>
<polygon points="152.8,123.3 157.7,130.9 150.5,128.3 145.6,120.8" fill="none" stroke="#000"/>
<polygon points="140.8,113 142.4,115.6 135.3,113.1 133.7,110.6" fill="#f0ff00" stroke="#f0ff00" stroke-width="0.4"/>
<polygon points="142.4,115.6 144,118.2 136.9,115.7 135.3,113.1" fill="#d6ff00" stroke="#d6ff00" stroke-width="0.4"/>
<polygon points="144,118.2 145.6,120.8 138.5,118.2 136.9,115.7" fill="#bbff00" stroke="#bbff00" stroke-width="0.4"/>
<polygon points="140.8,113 145.6,120.8 138.5,118.2 133.7,110.6" fill="none" stroke="#000"/>
<polygon points="128.8,102.7 130.5,105.4 123.4,103 121.8,100.3" fill="#ffba00" stroke="#ffba00" stroke-width="0.4"/>
<polygon points="130.5,105.4 132.1,108 125,105.6 123.4,103" fill="#ffd700" stroke="#ffd700" stroke-width="0.4"/>
<polygon points="132.1,108 133.7,110.6 126.6,108.1 125,105.6" fill="#fff400" stroke="#fff400" stroke-width="0.4"/>
<polygon points="128.8,102.7 133.7,110.6 126.6,108.1 121.8,100.3" fill="none" stroke="#000"/>
<polygon points="117,92.3 118.6,95 111.6,92.7 110,90.1" fill="#ff7000" stroke="#ff7000" stroke-width="0.4"/>
<polygon points="118.6,95 120.2,97.7 113.2,95.4 111.6,92.7" fill="#ff8900" stroke="#ff8900" stroke-width="0.4"/>
<polygon points="120.2,97.7 121.8,100.3 114.8,98 113.2,95.4" fill="#ffa100" stroke="#ffa100" stroke-width="0.4"/>
<polygon points="117,92.3 121.8,100.3 114.8,98 110,90.1" fill="none" stroke="#000"/>
<polygon points="105.2,81.9 106.8,84.7 99.9,82.5 98.3,79.7" fill="#ff3400" stroke="#ff3400" stroke-width="0.4"/>
<polygon points="106.8,84.7 108.4,87.4 101.5,85.2 99.9,82.5" fill="#ff4800" stroke="#ff4800" stroke-width="0.4"/>
<polygon points="108.4,87.4 110,90.1 103.1,87.8 101.5,85.2" fill="#ff5d00" stroke="#ff5d00" stroke-width="0.4"/>
<polygon points="105.2,81.9 110,90.1 103.1,87.8 98.3,79.7" fill="none" stroke="#000"/>
<polygon points="210.9,164.9 212.8,166.8 205.2,163.8 203.3,161.9" fill="#00ee92" stroke="#00ee92" stroke-width="0.4"/>
<polygon points="212.8,166.8 214.7,168.6 207.1,165.6 205.2,163.8" fill="#00e9a4" stroke="#00e9a4" stroke-width="0.4"/>
<polygon points="214.7,168.6 216.6,170.3 209,167.3 207.1,165.6" fill="#00e4b5" stroke="#00e4b5" stroke-width="0.4"/>
<polygon points="210.9,164.9 216.6,170.3 209,167.3 203.3,161.9" fill="none" stroke="#000"/>
<polygon points="197.8,155.8 199.6,157.9 192.1,155 190.2,152.9" fill="#00fe54" stroke="#00fe54" stroke-width="0.4"/>
<polygon points="199.6,157.9 201.4,160 193.9,157.1 192.1,155" fill="#00f86a" stroke="#00f86a" stroke-width="0.4"/>
<polygon points="201.4,160 203.3,161.9 195.7,159 193.9,157.1" fill="#00f37f" stroke="#00f37f" stroke-width="0.4"/>
<polygon points="197.8,155.8 203.3,161.9 195.7,159 190.2,152.9" fill="none" stroke="#000"/>
<polygon points="184.9,146.2 186.7,148.5 179.2,145.7 177.4,143.4" fill="#00ff13" stroke="#00ff13" stroke-width="0.4"/>
<polygon points="186.7,148.5 188.4,150.7 181,147.9 179.2,145.7" fill="#00ff28" stroke="#00ff28" stroke-width="0.4"/>
<polygon points="188.4,150.7 190.2,152.9 182.8,150 181,147.9" fill="#00ff3c" stroke="#00ff3c" stroke-width="0.4"/>
<polygon points="184.9,146.2 190.2,152.9 182.8,150 177.4,143.4" fill="none" stroke="#000"/>
<polygon points="172.4,136.3 174,138.8 166.7,136.1 165,133.6" fill="#2fff00" stroke="#2fff00" stroke-width="0.4"/>
<polygon points="174,138.8 175.7,141.2 168.3,138.4 166.7,136.1" fill="#17ff00" stroke="#17ff00" stroke-width="0.4"/>
<polygon points="175.7,141.2 177.4,143.4 170,140.7 168.3,138.4" fill="#02ff00" stroke="#02ff00" stroke-width="0.4"/>
<polygon points="172.4,136.3 177.4,143.4 170,140.7 165,133.6" fill="none" stroke="#000"/>
<polygon points="160.2,125.9 161.8,128.6 154.4,125.9 152.8,123.3" fill="#9cff00" stroke="#9cff00" stroke-width="0.4"/>
<polygon points="161.8,128.6 163.4,131.1 156.1,128.4 154.4,125.9" fill="#77ff00" stroke="#77ff00" stroke-width="0.4"/>
<polygon points="163.4,131.1 165,133.6 157.7,130.9 156.1,128.4" fill="#53ff00" stroke="#53ff00" stroke-width="0.4"/>
<polygon points="160.2,125.9 165,133.6 157.7,130.9 152.8,123.3" fill="none" stroke="#000"/>
<polygon points="148,115.6 149.6,118.2 142.4,115.6 140.8,113" fill="#f2ff00" stroke="#f2ff00" stroke-width="0.4"/>
<polygon points="149.6,118.2 151.2,120.8 144,118.2 142.4,115.6" fill="#d7ff00" stroke="#d7ff00" stroke-width="0.4"/>
<polygon points="151.2,120.8 152.8,123.3 145.6,120.8 144,118.2" fill="#bcff00" stroke="#bcff00" stroke-width="0.4"/>
<polygon points="148,115.6 152.8,123.3 145.6,120.8 140.8,113" fill="none" stroke="#000"/>
<polygon points="136,105.1 137.6,107.8 130.5,105.4 128.8,102.7" fill="#ffb900" stroke="#ffb900" stroke-width="0.4"/>
<polygon points="137.6,107.8 139.2,110.5 132.1,108 130.5,105.4" fill="#ffd600" stroke="#ffd600" stroke-width="0.4"/>
<polygon points="139.2,110.5 140.8,113 133.7,110.6 132.1,108" fill="#fff300" stroke="#fff300" stroke-width="0.4"/>
<polygon points="136,105.1 140.8,113 133.7,110.6 128.8,102.7" fill="none" stroke="#000"/>
<polygon points="124,94.6 125.6,97.4 118.6,95 117,92.3" fill="#ff6f00" stroke="#ff6f00" stroke-width="0.4"/>
<polygon points="125.6,97.4 127.2,100.1 120.2,97.7 118.6,95" fill="#ff8700" stroke="#ff8700" stroke-width="0.4"/>
<polygon points="127.2,100.1 128.8,102.7 121.8,100.3 120.2,97.7" fill="#ff9f00" stroke="#ff9f00" stroke-width="0.4"/>
<polygon points="124,94.6 128.8,102.7 121.8,100.3 117,92.3" fill="none" stroke="#000"/>
<polygon points="112.2,84.1 113.8,86.9 106.8,84.7 105.2,81.9" fill="#ff3300" stroke="#ff3300" stroke-width="0.4"/>
<polygon points="113.8,86.9 115.4,89.6 108.4,87.4 106.8,84.7" fill="#ff4700" stroke="#ff4700" stroke-width="0.4"/>
<polygon points="115.4,89.6 117,92.3 110,90.1 108.4,87.4" fill="#ff5b00" stroke="#ff5b00" stroke-width="0.4"/>
<polygon points="112.2,84.1 117,92.3 110,90.1 105.2,81.9" fill="none" stroke="#000"/>
<polygon points="205.4,158.7 207.3,160.9 199.6,157.9 197.8,155.8" fill="#00fe54" stroke="#00fe54" stroke-width="0.4"/>
<polygon points="207.3,160.9 209.1,163 201.4,160 199.6,157.9" fill="#00f86a" stroke="#00f86a" stroke-width="0.4"/>
<polygon points="209.1,163 210.9,164.9 203.3,161.9 201.4,160" fill="#00f37f" stroke="#00f37f" stroke-width="0.4"/>
<polygon points="205.4,158.7 210.9,164.9 203.3,161.9 197.8,155.8" fill="none" stroke="#000"/>
<polygon points="192.5,149.1 194.2,151.4 186.7,148.5 184.9,146.2" fill="#00ff12" stroke="#00ff12" stroke-width="0.4"/>
<polygon points="194.2,151.4 196,153.6 188.4,150.7 186.7,148.5" fill="#00ff27" stroke="#00ff27" stroke-width="0.4"/>
<polygon points="196,153.6 197.8,155.8 190.2,152.9 188.4,150.7" fill="#00ff3c" stroke="#00ff3c" stroke-width="0.4"/>
<polygon points="192.5,149.1 197.8,155.8 190.2,152.9 184.9,146.2" fill="none" stroke="#000"/>
<polygon points="179.9,139 181.5,141.6 174,138.8 172.4,136.3" fill="#30ff00" stroke="#30ff00" stroke-width="0.4"/>
<polygon points="181.5,141.6 183.2,144 175.7,141.2 174,138.8" fill="#18ff00" stroke="#18ff00" stroke-width="0.4"/>
<polygon points="183.2,144 184.9,146.2 177.4,143.4 175.7,141.2" fill="#03ff00" stroke="#03ff00" stroke-width="0.4"/>
<polygon points="179.9,139 184.9,146.2 177.4,143.4 172.4,136.3" fill="none" stroke="#000"/>
<polygon points="167.6,128.6 169.2,131.2 161.8,128.6 160.2,125.9" fill="#9dff00" stroke="#9dff00" stroke-width="0.4"/>
<polygon points="169.2,131.2 170.8,133.8 163.4,131.1 161.8,128.6" fill="#78ff00" stroke="#78ff00" stroke-width="0.4"/>
<polygon points="170.8,133.8 172.4,136.3 165,133.6 163.4,131.1" fill="#54ff00" stroke="#54ff00" stroke-width="0.4"/>
<polygon points="167.6,128.6 172.4,136.3 165,133.6 160.2,125.9" fill="none" stroke="#000"/>
<polygon points="155.4,118.1 157,120.7 149.6,118.2 148,115.6" fill="#f3ff00" stroke="#f3ff00" stroke-width="0.4"/>
<polygon points="157,120.7 158.6,123.4 151.2,120.8 149.6,118.2" fill="#d8ff00" stroke="#d8ff00" stroke-width="0.4"/>
<polygon points="158.6,123.4 160.2,125.9 152.8,123.3 151.2,120.8" fill="#bdff00" stroke="#bdff00" stroke-width="0.4"/>
<polygon points="155.4,118.1 160.2,125.9 152.8,123.3 148,115.6" fill="none" stroke="#000"/>
<polygon points="143.3,107.6 144.9,110.3 137.6,107.8 136,105.1" fill="#ffb700" stroke="#ffb700" stroke-width="0.4"/>
<polygon points="144.9,110.3 146.5,112.9 139.2,110.5 137.6,107.8" fill="#ffd400" stroke="#ffd400" stroke-width="0.4"/>
<polygon points="146.5,112.9 148,115.6 140.8,113 139.2,110.5" fill="#fff100" stroke="#fff100" stroke-width="0.4"/>
<polygon points="143.3,107.6 148,115.6 140.8,113 136,105.1" fill="none" stroke="#000"/>
<polygon points="131.2,97 132.8,99.8 125.6,97.4 124,94.6" fill="#ff6d00" stroke="#ff6d00" stroke-width="0.4"/>
<polygon points="132.8,99.8 134.4,102.5 127.2,100.1 125.6,97.4" fill="#ff8600" stroke="#ff8600" stroke-width="0.4"/>
<polygon points="134.4,102.5 136,105.1 128.8,102.7 127.2,100.1" fill="#ff9e00" stroke="#ff9e00" stroke-width="0.4"/>
<polygon points="131.2,97 136,105.1 128.8,102.7 124,94.6" fill="none" stroke="#000"/>
<polygon points="119.3,86.4 120.9,89.2 113.8,86.9 112.2,84.1" fill="#ff3100" stroke="#ff3100" stroke-width="0.4"/>
<polygon points="120.9,89.2 122.5,91.9 115.4,89.6 113.8,86.9" fill="#ff4600" stroke="#ff4600" stroke-width="0.4"/>
<polygon points="122.5,91.9 124,94.6 117,92.3 115.4,89.6" fill="#ff5a00" stroke="#ff5a00" stroke-width="0.4"/>
<polygon points="119.3,86.4 124,94.6 117,92.3 112.2,84.1" fill="none" stroke="#000"/>
<polygon points="200.1,152 201.9,154.3 194.2,151.4 192.5,149.1" fill="#00ff12" stroke="#00ff12" stroke-width="0.4"/>
<polygon points="201.9,154.3 203.7,156.5 196,153.6 194.2,151.4" fill="#00ff27" stroke="#00ff27" stroke-width="0.4"/>
<polygon points="203.7,156.5 205.4,158.7 197.8,155.8 196,153.6" fill="#00ff3c" stroke="#00ff3c" stroke-width="0.4"/>
<polygon points="200.1,152 205.4,158.7 197.8,155.8 192.5,149.1" fill="none" stroke="#000"/>
<polygon points="187.5,141.8 189.1,144.4 181.5,141.6 179.9,139" fill="#31ff00" stroke="#31ff00" stroke-width="0.4"/>
<polygon points="189.1,144.4 190.8,146.8 183.2,144 181.5,141.6" fill="#18ff00" stroke="#18ff00" stroke-width="0.4"/>
<polygon points="190.8,146.8 192.5,149.1 184.9,146.2 183.2,144" fill="#03ff00" stroke="#03ff00" stroke-width="0.4"/>
<polygon points="187.5,141.8 192.5,149.1 184.9,146.2 179.9,139" fill="none" stroke="#000"/>
<polygon points="175.1,131.3 176.7,133.9 169.2,131.2 167.6,128.6" fill="#9fff00" stroke="#9fff00" stroke-width="0.4"/>
<polygon points="176.7,133.9 178.3,136.5 170.8,133.8 169.2,131.2" fill="#7aff00" stroke="#7aff00" stroke-width="0.4"/>
<polygon points="178.3,136.5 179.9,139 172.4,136.3 170.8,133.8" fill="#55ff00" stroke="#55ff00" stroke-width="0.4"/>
<polygon points="175.1,131.3 179.9,139 172.4,136.3 167.6,128.6" fill="none" stroke="#000"/>
<polygon points="162.8,120.7 164.4,123.3 157,120.7 155.4,118.1" fill="#f4ff00" stroke="#f4ff00" stroke-width="0.4"/>
<polygon points="164.4,123.3 166,126 158.6,123.4 157,120.7" fill="#d9ff00" stroke="#d9ff00" stroke-width="0.4"/>
<polygon points="166,126 167.6,128.6 160.2,125.9 158.6,123.4" fill="#beff00" stroke="#beff00" stroke-width="0.4"/>
<polygon points="162.8,120.7 167.6,128.6 160.2,125.9 155.4,118.1" fill="none" stroke="#000"/>
<polygon points="150.6,110.1 152.2,112.8 144.9,110.3 143.3,107.6" fill="#ffb600" stroke="#ffb600" stroke-width="0.4"/>
<polygon points="152.2,112.8 153.8,115.5 146.5,112.9 144.9,110.3" fill="#ffd300" stroke="#ffd300" stroke-width="0.4"/>
<polygon points="153.8,115.5 155.4,118.1 148,115.6 146.5,112.9" fill="#fff000" stroke="#fff000" stroke-width="0.4"/>
<polygon points="150.6,110.1 155.4,118.1 148,115.6 143.3,107.6" fill="none" stroke="#000"/>
<polygon points="138.5,99.4 140.1,102.2 132.8,99.8 131.2,97" fill="#ff6c00" stroke="#ff6c00" stroke-width="0.4"/>
<polygon points="140.1,102.2 141.7,104.9 134.4,102.5 132.8,99.8" fill="#ff8400" stroke="#ff8400" stroke-width="0.4"/>
<polygon points="141.7,104.9 143.3,107.6 136,105.1 134.4,102.5" fill="#ff9d00" stroke="#ff9d00" stroke-width="0.4"/>
<polygon points="138.5,99.4 143.3,107.6 136,105.1 131.2,97" fill="none" stroke="#000"/>
<polygon points="126.5,88.6 128.1,91.5 120.9,89.2 119.3,86.4" fill="#ff3000" stroke="#ff3000" stroke-width="0.4"/>
<polygon points="128.1,91.5 129.7,94.2 122.5,91.9 120.9,89.2" fill="#ff4400" stroke="#ff4400" stroke-width="0.4"/>
<polygon points="129.7,94.2 131.2,97 124,94.6 122.5,91.9" fill="#ff5800" stroke="#ff5800" stroke-width="0.4"/>
<polygon points="126.5,88.6 131.2,97 124,94.6 119.3,86.4" fill="none" stroke="#000"/>
<polygon points="195.2,144.6 196.8,147.2 189.1,144.4 187.5,141.8" fill="#32ff00" stroke="#32ff00" stroke-width="0.4"/>
<polygon points="196.8,147.2 198.5,149.7 190.8,146.8 189.1,144.4" fill="#19ff00" stroke="#19ff00" stroke-width="0.4"/>
<polygon points="198.5,149.7 200.1,152 192.5,149.1 190.8,146.8" fill="#04ff00" stroke="#04ff00" stroke-width="0.4"/>
<polygon points="195.2,144.6 200.1,152 192.5,149.1 187.5,141.8" fill="none" stroke="#000"/>
<polygon points="182.7,134 184.3,136.7 176.7,133.9 175.1,131.3" fill="#a0ff00" stroke="#a0ff00" stroke-width="0.4"/>
<polygon points="184.3,136.7 185.9,139.3 178.3,136.5 176.7,133.9" fill="#7bff00" stroke="#7bff00" stroke-width="0.4"/>
<polygon points="185.9,139.3 187.5,141.8 179.9,139 178.3,136.5" fill="#56ff00" stroke="#56ff00" stroke-width="0.4"/>
<polygon points="182.7,134 187.5,141.8 179.9,139 175.1,131.3" fill="none" stroke="#000"/>
<polygon points="170.4,123.3 172,126 164.4,123.3 162.8,120.7" fill="#f5ff00" stroke="#f5ff00" stroke-width="0.4"/>
<polygon points="172,126 173.5,128.6 166,126 164.4,123.3" fill="#daff00" stroke="#daff00" stroke-width="0.4"/>
<polygon points="173.5,128.6 175.1,131.3 167.6,128.6 166,126" fill="#bfff00" stroke="#bfff00" stroke-width="0.4"/>
<polygon points="170.4,123.3 175.1,131.3 167.6,128.6 162.8,120.7" fill="none" stroke="#000"/>
<polygon points="158.1,112.6 159.7,115.3 152.2,112.8 150.6,110.1" fill="#ffb400" stroke="#ffb400" stroke-width="0.4"/>
<polygon points="159.7,115.3 161.3,118 153.8,115.5 152.2,112.8" fill="#ffd100" stroke="#ffd100" stroke-width="0.4"/>
<polygon points="161.3,118 162.8,120.7 155.4,118.1 153.8,115.5" fill="#ffee00" stroke="#ffee00" stroke-width="0.4"/>
<polygon points="158.1,112.6 162.8,120.7 155.4,118.1 150.6,110.1" fill="none" stroke="#000"/>
<polygon points="145.9,101.8 147.5,104.6 140.1,102.2 138.5,99.4" fill="#ff6a00" stroke="#ff6a00" stroke-width="0.4"/>
<polygon points="147.5,104.6 149.1,107.3 141.7,104.9 140.1,102.2" fill="#ff8300" stroke="#ff8300" stroke-width="0.4"/>
<polygon points="149.1,107.3 150.6,110.1 143.3,107.6 141.7,104.9" fill="#ff9b00" stroke="#ff9b00" stroke-width="0.4"/>
<polygon points="145.9,101.8 150.6,110.1 143.3,107.6 138.5,99.4" fill="none" stroke="#000"/>
<polygon points="133.8,90.9 135.4,93.8 128.1,91.5 126.5,88.6" fill="#ff2e00" stroke="#ff2e00" stroke-width="0.4"/>
<polygon points="135.4,93.8 136.9,96.6 129.7,94.2 128.1,91.5" fill="#ff4300" stroke="#ff4300" stroke-width="0.4"/>
<polygon points="136.9,96.6 138.5,99.4 131.2,97 129.7,94.2" fill="#ff5700" stroke="#ff5700" stroke-width="0.4"/>
<polygon points="133.8,90.9 138.5,99.4 131.2,97 126.5,88.6" fill="none" stroke="#000"/>
<polygon points="190.5,136.8 192.1,139.4 184.3,136.7 182.7,134" fill="#a2ff00" stroke="#a2ff00" stroke-width="0.4"/>
<polygon points="192.1,139.4 193.6,142.1 185.9,139.3 184.3,136.7" fill="#7cff00" stroke="#7cff00" stroke-width="0.4"/>
<polygon points="193.6,142.1 195.2,144.6 187.5,141.8 185.9,139.3" fill="#57ff00" stroke="#57ff00" stroke-width="0.4"/>
<polygon points="190.5,136.8 195.2,144.6 187.5,141.8 182.7,134" fill="none" stroke="#000"/>
<polygon points="178,126 179.6,128.7 172,126 170.4,123.3" fill="#f7ff00" stroke="#f7ff00" stroke-width="0.4"/>
<polygon points="179.6,128.7 181.2,131.3 173.5,128.6 172,126" fill="#dbff00" stroke="#dbff00" stroke-width="0.4"/>
<polygon points="181.2,131.3 182.7,134 175.1,131.3 173.5,128.6" fill="#c0ff00" stroke="#c0ff00" stroke-width="0.4"/>
<polygon points="178,126 182.7,134 175.1,131.3 170.4,123.3" fill="none" stroke="#000"/>
<polygon points="165.7,115.1 167.2,117.9 159.7,115.3 158.1,112.6" fill="#ffb200" stroke="#ffb200" stroke-width="0.4"/>
<polygon points="167.2,117.9 168.8,120.6 161.3,118 159.7,115.3" fill="#ffd000" stroke="#ffd000" stroke-width="0.4"/>
<polygon points="168.8,120.6 170.4,123.3 162.8,120.7 161.3,118" fill="#ffed00" stroke="#ffed00" stroke-width="0.4"/>
<polygon points="165.7,115.1 170.4,123.3 162.8,120.7 158.1,112.6" fill="none" stroke="#000"/>
<polygon points="153.4,104.2 155,107.1 147.5,104.6 145.9,101.8" fill="#ff6900" stroke="#ff6900" stroke-width="0.4"/>
<polygon points="155,107.1 156.5,109.8 149.1,107.3 147.5,104.6" fill="#ff8100" stroke="#ff8100" stroke-width="0.4"/>
<polygon points="156.5,109.8 158.1,112.6 150.6,110.1 149.1,107.3" fill="#ff9a00" stroke="#ff9a00" stroke-width="0.4"/>
<polygon points="153.4,104.2 158.1,112.6 150.6,110.1 145.9,101.8" fill="none" stroke="#000"/>
<polygon points="141.2,93.3 142.8,96.2 135.4,93.8 133.8,90.9" fill="#ff2d00" stroke="#ff2d00" stroke-width="0.4"/>
<polygon points="142.8,96.2 144.3,99 136.9,96.6 135.4,93.8" fill="#ff4100" stroke="#ff4100" stroke-width="0.4"/>
<polygon points="144.3,99 145.9,101.8 138.5,99.4 136.9,96.6" fill="#ff5600" stroke="#ff5600" stroke-width="0.4"/>
<polygon points="141.2,93.3 145.9,101.8 138.5,99.4 133.8,90.9" fill="none" stroke="#000"/>
<polygon points="185.8,128.6 187.4,131.4 179.6,128.7 178,126" fill="#f8ff00" stroke="#f8ff00" stroke-width="0.4"/>
<polygon points="187.4,131.4 188.9,134.1 181.2,131.3 179.6,128.7" fill="#ddff00" stroke="#ddff00" stroke-width="0.4"/>
<polygon points="188.9,134.1 190.5,136.8 182.7,134 181.2,131.3" fill="#c1ff00" stroke="#c1ff00" stroke-width="0.4"/>
<polygon points="185.8,128.6 190.5,136.8 182.7,134 178,126" fill="none" stroke="#000"/>
<polygon points="173.4,117.7 174.9,120.5 167.2,117.9 165.7,115.1" fill="#ffb100" stroke="#ffb100" stroke-width="0.4"/>
<polygon points="174.9,120.5 176.5,123.3 168.8,120.6 167.2,117.9" fill="#ffce00" stroke="#ffce00" stroke-width="0.4"/>
<polygon points="176.5,123.3 178,126 170.4,123.3 168.8,120.6" fill="#ffec00" stroke="#ffec00" stroke-width="0.4"/>
<polygon points="173.4,117.7 178,126 170.4,123.3 165.7,115.1" fill="none" stroke="#000"/>
<polygon points="161,106.7 162.6,109.6 155,107.1 153.4,104.2" fill="#ff6800" stroke="#ff6800" stroke-width="0.4"/>
<polygon points="162.6,109.6 164.1,112.4 156.5,109.8 155,107.1" fill="#ff8000" stroke="#ff8000" stroke-width="0.4"/>
<polygon points="164.1,112.4 165.7,115.1 158.1,112.6 156.5,109.8" fill="#ff9800" stroke="#ff9800" stroke-width="0.4"/>
<polygon points="161,106.7 165.7,115.1 158.1,112.6 153.4,104.2" fill="none" stroke="#000"/>
<polygon points="148.7,95.7 150.3,98.6 142.8,96.2 141.2,93.3" fill="#ff2b00" stroke="#ff2b00" stroke-width="0.4"/>
<polygon points="150.3,98.6 151.8,101.4 144.3,99 142.8,96.2" fill="#ff4000" stroke="#ff4000" stroke-width="0.4"/>
<polygon points="151.8,101.4 153.4,104.2 145.9,101.8 144.3,99" fill="#ff5400" stroke="#ff5400" stroke-width="0.4"/>
<polygon points="148.7,95.7 153.4,104.2 145.9,101.8 141.2,93.3" fill="none" stroke="#000"/>
<polygon points="181.2,120.3 182.7,123.2 174.9,120.5 173.4,117.7" fill="#ffaf00" stroke="#ffaf00" stroke-width="0.4"/>
<polygon points="182.7,123.2 184.3,125.9 176.5,123.3 174.9,120.5" fill="#ffcd00" stroke="#ffcd00" stroke-width="0.4"/>
<polygon points="184.3,125.9 185.8,128.6 178,126 176.5,123.3" fill="#ffea00" stroke="#ffea00" stroke-width="0.4"/>
<polygon points="181.2,120.3 185.8,128.6 178,126 173.4,117.7" fill="none" stroke="#000"/>
<polygon points="168.7,109.2 170.3,112.1 162.6,109.6 161,106.7" fill="#ff6600" stroke="#ff6600" stroke-width="0.4"/>
<polygon points="170.3,112.1 171.8,114.9 164.1,112.4 162.6,109.6" fill="#ff7e00" stroke="#ff7e00" stroke-width="0.4"/>
<polygon points="171.8,114.9 173.4,117.7 165.7,115.1 164.1,112.4" fill="#ff9700" stroke="#ff9700" stroke-width="0.4"/>
<polygon points="168.7,109.2 173.4,117.7 165.7,115.1 161,106.7" fill="none" stroke="#000"/>
<polygon points="156.3,98.1 157.9,101 150.3,98.6 148.7,95.7" fill="#ff2a00" stroke="#ff2a00" stroke-width="0.4"/>
<polygon points="157.9,101 159.4,103.9 151.8,101.4 150.3,98.6" fill="#ff3f00" stroke="#ff3f00" stroke-width="0.4"/>
<polygon points="159.4,103.9 161,106.7 153.4,104.2 151.8,101.4" fill="#ff5300" stroke="#ff5300" stroke-width="0.4"/>
<polygon points="156.3,98.1 161,106.7 153.4,104.2 148.7,95.7" fill="none" stroke="#000"/>
<polygon points="176.5,111.8 178.1,114.7 170.3,112.1 168.7,109.2" fill="#ff6500" stroke="#ff6500" stroke-width="0.4"/>
<polygon points="178.1,114.7 179.6,117.5 171.8,114.9 170.3,112.1" fill="#ff7d00" stroke="#ff7d00" stroke-width="0.4"/>
<polygon points="179.6,117.5 181.2,120.3 173.4,117.7 171.8,114.9" fill="#ff9600" stroke="#ff9600" stroke-width="0.4"/>
<polygon points="176.5,111.8 181.2,120.3 173.4,117.7 168.7,109.2" fill="none" stroke="#000"/>
<polygon points="164.1,100.5 165.6,103.5 157.9,101 156.3,98.1" fill="#ff2a00" stroke="#ff2a00" stroke-width="0.4"/>
<polygon points="165.6,103.5 167.2,106.4 159.4,103.9 157.9,101" fill="#ff3d00" stroke="#ff3d00" stroke-width="0.4"/>
<polygon points="167.2,106.4 168.7,109.2 161,106.7 159.4,103.9" fill="#ff5200" stroke="#ff5200" stroke-width="0.4"/>
<polygon points="164.1,100.5 168.7,109.2 161,106.7 156.3,98.1" fill="none" stroke="#000"/>
<polygon points="171.9,103 173.5,106 165.6,103.5 164.1,100.5" fill="#ff2a00" stroke="#ff2a00" stroke-width="0.4"/>
<polygon points="173.5,106 175,108.9 167.2,106.4 165.6,103.5" fill="#ff3c00" stroke="#ff3c00" stroke-width="0.4"/>
<polygon points="175,108.9 176.5,111.8 168.7,109.2 167.2,106.4" fill="#ff5000" stroke="#ff5000" stroke-width="0.4"/>
<polygon points="171.9,103 176.5,111.8 168.7,109.2 164.1,100.5" fill="none" stroke="#000"/>
</g>
<circle cx="171.3" cy="103.1" r="3.0" fill="#b80a0a" stroke="#6a0000" stroke-width="0.7"/>
<circle cx="304.6" cy="157.7" r="3.0" fill="#b80a0a" stroke="#6a0000" stroke-width="0.7"/>
</g>
<g id="plotB">
<polygon points="410.3,242.9 536.9,187.6 664.5,242.4 536.9,313.8" fill="#656565" stroke="#111" stroke-width="1.3" stroke-linejoin="round"/>
<line x1="419.5" y1="238.9" x2="545.2" y2="309.2" stroke="#f0b020" stroke-width="2.0"/>
<line x1="429.7" y1="234.4" x2="555.8" y2="303.2" stroke="#78e020" stroke-width="2.0"/>
<line x1="441.4" y1="229.3" x2="567" y2="296.9" stroke="#20e070" stroke-width="2.0"/>
<line x1="454" y1="223.8" x2="579.6" y2="289.9" stroke="#20e0c8" stroke-width="2.0"/>
<line x1="470.4" y1="216.6" x2="597.9" y2="279.7" stroke="#1848e0" stroke-width="2.0"/>
<path d="M537.1 116.9 L542.9 119.1 L548.8 121.2 L554.8 123.4 L560.8 125.7 L566.9 127.9 L573.1 130.2 L579.3 132.5 L585.7 134.8 L592.1 137.1 L598.5 139.5 L605.1 141.9 L611.7 144.3 L618.4 146.8 L625.2 149.3 L632 151.8 L639 154.4 L646 157 L653.2 159.6 L660.4 162.2 L667.7 164.9" fill="none" stroke="#0000ff" stroke-width="1.8" stroke-linecap="round" stroke-linejoin="round"/>
<path d="M402 41 L537.1 5.5 L673.3 41" fill="none" stroke="#1a1a1a" stroke-width="1.0" stroke-linecap="round" stroke-linejoin="round"/>
<path d="M403.3 71.8 L537.1 33.3 L672 71.7" fill="none" stroke="#1a1a1a" stroke-width="1.0" stroke-linecap="round" stroke-linejoin="round"/>
<path d="M404.5 102.6 L537 61.1 L670.6 102.5" fill="none" stroke="#1a1a1a" stroke-width="1.0" stroke-linecap="round" stroke-linejoin="round"/>
<path d="M405.8 133.5 L537 88.9 L669.3 133.2" fill="none" stroke="#1a1a1a" stroke-width="1.0" stroke-linecap="round" stroke-linejoin="round"/>
<path d="M407.1 164.3 L537 116.7 L667.9 164" fill="none" stroke="#1a1a1a" stroke-width="1.0" stroke-linecap="round" stroke-linejoin="round"/>
<path d="M408.3 195.1 L536.9 144.5 L666.6 194.7" fill="none" stroke="#1a1a1a" stroke-width="1.0" stroke-linecap="round" stroke-linejoin="round"/>
<line x1="410.3" y1="242.9" x2="402" y2="41" stroke="#1a1a1a" stroke-width="1.0"/>
<line x1="440.5" y1="182.5" x2="435.8" y2="32.1" stroke="#1a1a1a" stroke-width="1.0"/>
<line x1="472.6" y1="169.8" x2="469.6" y2="23.2" stroke="#1a1a1a" stroke-width="1.0"/>
<line x1="504.8" y1="157.2" x2="503.3" y2="14.4" stroke="#1a1a1a" stroke-width="1.0"/>
<line x1="536.9" y1="187.6" x2="537.1" y2="5.5" stroke="#1a1a1a" stroke-width="1.0"/>
<line x1="562.9" y1="154.6" x2="564.3" y2="12.6" stroke="#1a1a1a" stroke-width="1.0"/>
<line x1="588.8" y1="164.6" x2="591.6" y2="19.7" stroke="#1a1a1a" stroke-width="1.0"/>
<line x1="614.7" y1="174.6" x2="618.8" y2="26.8" stroke="#1a1a1a" stroke-width="1.0"/>
<line x1="640.7" y1="184.7" x2="646.1" y2="33.9" stroke="#1a1a1a" stroke-width="1.0"/>
<line x1="664.5" y1="242.4" x2="673.3" y2="41" stroke="#1a1a1a" stroke-width="1.0"/>
<circle cx="402" cy="41" r="1.6" fill="#000" stroke="none" stroke-width="0"/>
<circle cx="403.3" cy="71.8" r="1.6" fill="#000" stroke="none" stroke-width="0"/>
<circle cx="404.5" cy="102.6" r="1.6" fill="#000" stroke="none" stroke-width="0"/>
<circle cx="405.8" cy="133.5" r="1.6" fill="#000" stroke="none" stroke-width="0"/>
<circle cx="407.1" cy="164.3" r="1.6" fill="#000" stroke="none" stroke-width="0"/>
<circle cx="408.3" cy="195.1" r="1.6" fill="#000" stroke="none" stroke-width="0"/>
<circle cx="536.9" cy="313.8" r="1.6" fill="#000" stroke="none" stroke-width="0"/>
<circle cx="568.8" cy="296" r="1.6" fill="#000" stroke="none" stroke-width="0"/>
<circle cx="600.7" cy="278.1" r="1.6" fill="#000" stroke="none" stroke-width="0"/>
<circle cx="632.6" cy="260.2" r="1.6" fill="#000" stroke="none" stroke-width="0"/>
<circle cx="664.5" cy="242.4" r="1.6" fill="#000" stroke="none" stroke-width="0"/>
<circle cx="536.9" cy="313.8" r="1.6" fill="#000" stroke="none" stroke-width="0"/>
<circle cx="511.6" cy="299.6" r="1.6" fill="#000" stroke="none" stroke-width="0"/>
<circle cx="486.3" cy="285.4" r="1.6" fill="#000" stroke="none" stroke-width="0"/>
<circle cx="460.9" cy="271.3" r="1.6" fill="#000" stroke="none" stroke-width="0"/>
<circle cx="435.6" cy="257.1" r="1.6" fill="#000" stroke="none" stroke-width="0"/>
<circle cx="410.3" cy="242.9" r="1.6" fill="#000" stroke="none" stroke-width="0"/>
<circle cx="536.9" cy="166.8" r="3.0" fill="#b80a0a" stroke="#6a0000" stroke-width="0.7"/>
<circle cx="402.5" cy="64.8" r="3.2" fill="#f8cdb0" stroke="#a07860" stroke-width="0.6"/>
<g stroke-width="0.62" stroke-linejoin="round" stroke-opacity="0.8">
<polygon points="537.3,127.3 542.9,119.9 537.1,117.7 531.5,125.1" fill="#0000ff" stroke="#000"/>
<polygon points="531.1,133.9 537.3,127.3 531.5,125.1 525.3,131.6" fill="#0000ff" stroke="#000"/>
<polygon points="543.2,129.5 548.8,122 542.9,119.9 537.3,127.3" fill="#0000ff" stroke="#000"/>
<polygon points="524.2,139 531.1,133.9 525.3,131.6 518.4,136.7" fill="#0000ff" stroke="#000"/>
<polygon points="537,136.1 543.2,129.5 537.3,127.3 531.1,133.9" fill="#0000ff" stroke="#000"/>
<polygon points="549.1,131.8 554.8,124.2 548.8,122 543.2,129.5" fill="#0000ff" stroke="#000"/>
<polygon points="530.1,141.3 537,136.1 531.1,133.9 524.2,139" fill="#0000ff" stroke="#000"/>
<polygon points="517,142.5 524.2,139 518.4,136.7 511.2,140.2" fill="#0000ff" stroke="#000"/>
<polygon points="542.9,138.5 549.1,131.8 543.2,129.5 537,136.1" fill="#0000ff" stroke="#000"/>
<polygon points="555.2,134 560.8,126.5 554.8,124.2 549.1,131.8" fill="#0000ff" stroke="#000"/>
<polygon points="536,143.7 542.9,138.5 537,136.1 530.1,141.3" fill="#0000ff" stroke="#000"/>
<polygon points="522.9,144.9 530.1,141.3 524.2,139 517,142.5" fill="#0000ff" stroke="#000"/>
<polygon points="548.9,140.8 555.2,134 549.1,131.8 542.9,138.5" fill="#0000ff" stroke="#000"/>
<polygon points="509.7,144.6 517,142.5 511.2,140.2 503.9,142.2" fill="#0000ff" stroke="#000"/>
<polygon points="561.3,136.3 566.9,128.7 560.8,126.5 555.2,134" fill="#0000ff" stroke="#000"/>
<polygon points="542,146.1 548.9,140.8 542.9,138.5 536,143.7" fill="#0000ff" stroke="#000"/>
<polygon points="528.8,147.3 536,143.7 530.1,141.3 522.9,144.9" fill="#0000ff" stroke="#000"/>
<polygon points="555,143.2 561.3,136.3 555.2,134 548.9,140.8" fill="#0000ff" stroke="#000"/>
<polygon points="515.5,147 522.9,144.9 517,142.5 509.7,144.6" fill="#0000ff" stroke="#000"/>
<polygon points="567.4,138.7 573.1,131 566.9,128.7 561.3,136.3" fill="#0000ff" stroke="#000"/>
<polygon points="502.4,145.1 509.7,144.6 503.9,142.2 496.6,142.7" fill="#0000ff" stroke="#000"/>
<polygon points="548.1,148.5 555,143.2 548.9,140.8 542,146.1" fill="#0000ff" stroke="#000"/>
<polygon points="534.8,149.8 542,146.1 536,143.7 528.8,147.3" fill="#0000ff" stroke="#000"/>
<polygon points="561.2,145.6 567.4,138.7 561.3,136.3 555,143.2" fill="#0000ff" stroke="#000"/>
<polygon points="521.5,149.4 528.8,147.3 522.9,144.9 515.5,147" fill="#0000ff" stroke="#000"/>
<polygon points="573.6,141 579.3,133.3 573.1,131 567.4,138.7" fill="#0000ff" stroke="#000"/>
<polygon points="508.3,147.6 515.5,147 509.7,144.6 502.4,145.1" fill="#0000ff" stroke="#000"/>
<polygon points="495.2,144.8 502.4,145.1 496.6,142.7 489.4,142.4" fill="#0000ff" stroke="#000"/>
<polygon points="554.3,151 561.2,145.6 555,143.2 548.1,148.5" fill="#0000ff" stroke="#000"/>
<polygon points="540.9,152.2 548.1,148.5 542,146.1 534.8,149.8" fill="#0000ff" stroke="#000"/>
<polygon points="567.4,148 573.6,141 567.4,138.7 561.2,145.6" fill="#0000ff" stroke="#000"/>
<polygon points="527.5,151.9 534.8,149.8 528.8,147.3 521.5,149.4" fill="#0000ff" stroke="#000"/>
<polygon points="580,143.4 585.7,135.6 579.3,133.3 573.6,141" fill="#0000ff" stroke="#000"/>
<polygon points="514.2,150 521.5,149.4 515.5,147 508.3,147.6" fill="#0000ff" stroke="#000"/>
<polygon points="501.1,147.3 508.3,147.6 502.4,145.1 495.2,144.8" fill="#0000ff" stroke="#000"/>
<polygon points="560.5,153.4 567.4,148 561.2,145.6 554.3,151" fill="#0000ff" stroke="#000"/>
<polygon points="547,154.7 554.3,151 548.1,148.5 540.9,152.2" fill="#0000ff" stroke="#000"/>
<polygon points="573.7,150.4 580,143.4 573.6,141 567.4,148" fill="#0000ff" stroke="#000"/>
<polygon points="488.1,143.8 495.2,144.8 489.4,142.4 482.2,141.4" fill="#0000ff" stroke="#000"/>
<polygon points="533.6,154.4 540.9,152.2 534.8,149.8 527.5,151.9" fill="#0000ff" stroke="#000"/>
<polygon points="586.3,145.8 592.1,137.9 585.7,135.6 580,143.4" fill="#0000ff" stroke="#000"/>
<polygon points="520.2,152.6 527.5,151.9 521.5,149.4 514.2,150" fill="#0000ff" stroke="#000"/>
<polygon points="507,149.8 514.2,150 508.3,147.6 501.1,147.3" fill="#0000ff" stroke="#000"/>
<polygon points="566.8,156 573.7,150.4 567.4,148 560.5,153.4" fill="#0000ff" stroke="#000"/>
<polygon points="553.3,157.3 560.5,153.4 554.3,151 547,154.7" fill="#0000ff" stroke="#000"/>
<polygon points="580.1,152.9 586.3,145.8 580,143.4 573.7,150.4" fill="#0000ff" stroke="#000"/>
<polygon points="493.9,146.3 501.1,147.3 495.2,144.8 488.1,143.8" fill="#0000ff" stroke="#000"/>
<polygon points="539.7,157 547,154.7 540.9,152.2 533.6,154.4" fill="#0000ff" stroke="#000"/>
<polygon points="592.8,148.3 598.5,140.3 592.1,137.9 586.3,145.8" fill="#0000ff" stroke="#000"/>
<polygon points="481.1,142 488.1,143.8 482.2,141.4 475.3,139.5" fill="#0000ff" stroke="#000"/>
<polygon points="526.3,155.1 533.6,154.4 527.5,151.9 520.2,152.6" fill="#0000ff" stroke="#000"/>
<polygon points="513,152.3 520.2,152.6 514.2,150 507,149.8" fill="#0000ff" stroke="#000"/>
<polygon points="573.2,158.5 580.1,152.9 573.7,150.4 566.8,156" fill="#0000ff" stroke="#000"/>
<polygon points="559.6,159.8 566.8,156 560.5,153.4 553.3,157.3" fill="#0000ff" stroke="#000"/>
<polygon points="586.5,155.4 592.8,148.3 586.3,145.8 580.1,152.9" fill="#0000ff" stroke="#000"/>
<polygon points="499.9,148.9 507,149.8 501.1,147.3 493.9,146.3" fill="#0000ff" stroke="#000"/>
<polygon points="545.9,159.5 553.3,157.3 547,154.7 539.7,157" fill="#0000ff" stroke="#000"/>
<polygon points="599.3,150.7 605.1,142.7 598.5,140.3 592.8,148.3" fill="#0000ff" stroke="#000"/>
<polygon points="487,144.5 493.9,146.3 488.1,143.8 481.1,142" fill="#0000ff" stroke="#000"/>
<polygon points="532.4,157.7 539.7,157 533.6,154.4 526.3,155.1" fill="#0000ff" stroke="#000"/>
<polygon points="474.3,139.6 476.6,140.5 470.7,138 468.4,137.1" fill="#0000ff" stroke="#0000ff" stroke-width="0.4"/>
<polygon points="476.6,140.5 478.8,141.2 473,138.8 470.7,138" fill="#0000ff" stroke="#0000ff" stroke-width="0.4"/>
<polygon points="478.8,141.2 481.1,142 475.3,139.5 473,138.8" fill="#0000ff" stroke="#0000ff" stroke-width="0.4"/>
<polygon points="474.3,139.6 481.1,142 475.3,139.5 468.4,137.1" fill="none" stroke="#000"/>
<polygon points="519.1,154.9 526.3,155.1 520.2,152.6 513,152.3" fill="#0000ff" stroke="#000"/>
<polygon points="579.6,161.1 586.5,155.4 580.1,152.9 573.2,158.5" fill="#0000ff" stroke="#000"/>
<polygon points="565.9,162.4 573.2,158.5 566.8,156 559.6,159.8" fill="#0000ff" stroke="#000"/>
<polygon points="593.1,158 599.3,150.7 592.8,148.3 586.5,155.4" fill="#0000ff" stroke="#000"/>
<polygon points="505.9,151.4 513,152.3 507,149.8 499.9,148.9" fill="#0000ff" stroke="#000"/>
<polygon points="552.2,162.1 559.6,159.8 553.3,157.3 545.9,159.5" fill="#0000ff" stroke="#000"/>
<polygon points="605.9,153.2 611.7,145.1 605.1,142.7 599.3,150.7" fill="#0000ff" stroke="#000"/>
<polygon points="492.9,147 499.9,148.9 493.9,146.3 487,144.5" fill="#0000ff" stroke="#000"/>
<polygon points="538.7,160.3 545.9,159.5 539.7,157 532.4,157.7" fill="#0000ff" stroke="#000"/>
<polygon points="480.1,142.1 482.4,143 476.6,140.5 474.3,139.6" fill="#0000ff" stroke="#0000ff" stroke-width="0.4"/>
<polygon points="482.4,143 484.7,143.8 478.8,141.2 476.6,140.5" fill="#0000ff" stroke="#0000ff" stroke-width="0.4"/>
<polygon points="484.7,143.8 487,144.5 481.1,142 478.8,141.2" fill="#0000ff" stroke="#0000ff" stroke-width="0.4"/>
<polygon points="480.1,142.1 487,144.5 481.1,142 474.3,139.6" fill="none" stroke="#000"/>
<polygon points="525.3,157.5 532.4,157.7 526.3,155.1 519.1,154.9" fill="#0000ff" stroke="#000"/>
<polygon points="467.8,136.1 470,137.4 464.1,135 462,133.6" fill="#003cd4" stroke="#003cd4" stroke-width="0.4"/>
<polygon points="470,137.4 472.1,138.6 466.3,136.1 464.1,135" fill="#0023d4" stroke="#0023d4" stroke-width="0.4"/>
<polygon points="472.1,138.6 474.3,139.6 468.4,137.1 466.3,136.1" fill="#000dd4" stroke="#000dd4" stroke-width="0.4"/>
<polygon points="467.8,136.1 474.3,139.6 468.4,137.1 462,133.6" fill="none" stroke="#000"/>
<polygon points="586.1,163.7 593.1,158 586.5,155.4 579.6,161.1" fill="#0000ff" stroke="#000"/>
<polygon points="572.4,165 579.6,161.1 573.2,158.5 565.9,162.4" fill="#0000ff" stroke="#000"/>
<polygon points="599.7,160.5 605.9,153.2 599.3,150.7 593.1,158" fill="#0000ff" stroke="#000"/>
<polygon points="512,154 519.1,154.9 513,152.3 505.9,151.4" fill="#0000ff" stroke="#000"/>
<polygon points="558.6,164.8 565.9,162.4 559.6,159.8 552.2,162.1" fill="#0000ff" stroke="#000"/>
<polygon points="612.6,155.8 618.4,147.6 611.7,145.1 605.9,153.2" fill="#0000ff" stroke="#000"/>
<polygon points="499,149.6 505.9,151.4 499.9,148.9 492.9,147" fill="#0000ff" stroke="#000"/>
<polygon points="545,162.9 552.2,162.1 545.9,159.5 538.7,160.3" fill="#0000ff" stroke="#000"/>
<polygon points="486.1,144.6 488.4,145.5 482.4,143 480.1,142.1" fill="#0000ff" stroke="#0000ff" stroke-width="0.4"/>
<polygon points="488.4,145.5 490.7,146.3 484.7,143.8 482.4,143" fill="#0000ff" stroke="#0000ff" stroke-width="0.4"/>
<polygon points="490.7,146.3 492.9,147 487,144.5 484.7,143.8" fill="#0000ff" stroke="#0000ff" stroke-width="0.4"/>
<polygon points="486.1,144.6 492.9,147 487,144.5 480.1,142.1" fill="none" stroke="#000"/>
<polygon points="531.5,160.1 538.7,160.3 532.4,157.7 525.3,157.5" fill="#0000ff" stroke="#000"/>
<polygon points="473.7,138.6 475.9,140 470,137.4 467.8,136.1" fill="#003bd4" stroke="#003bd4" stroke-width="0.4"/>
<polygon points="475.9,140 478,141.1 472.1,138.6 470,137.4" fill="#0022d4" stroke="#0022d4" stroke-width="0.4"/>
<polygon points="478,141.1 480.1,142.1 474.3,139.6 472.1,138.6" fill="#000cd4" stroke="#000cd4" stroke-width="0.4"/>
<polygon points="473.7,138.6 480.1,142.1 474.3,139.6 467.8,136.1" fill="none" stroke="#000"/>
<polygon points="592.8,166.3 599.7,160.5 593.1,158 586.1,163.7" fill="#0000ff" stroke="#000"/>
<polygon points="578.9,167.7 586.1,163.7 579.6,161.1 572.4,165" fill="#0000ff" stroke="#000"/>
<polygon points="606.3,163.1 612.6,155.8 605.9,153.2 599.7,160.5" fill="#0000ff" stroke="#000"/>
<polygon points="518.1,156.6 525.3,157.5 519.1,154.9 512,154" fill="#0000ff" stroke="#000"/>
<polygon points="461.7,131.7 463.7,133.3 457.9,130.8 455.9,129.3" fill="#009ad4" stroke="#009ad4" stroke-width="0.4"/>
<polygon points="463.7,133.3 465.8,134.7 459.9,132.3 457.9,130.8" fill="#007cd4" stroke="#007cd4" stroke-width="0.4"/>
<polygon points="465.8,134.7 467.8,136.1 462,133.6 459.9,132.3" fill="#005cd4" stroke="#005cd4" stroke-width="0.4"/>
<polygon points="461.7,131.7 467.8,136.1 462,133.6 455.9,129.3" fill="none" stroke="#000"/>
<polygon points="565.1,167.4 572.4,165 565.9,162.4 558.6,164.8" fill="#0000ff" stroke="#000"/>
<polygon points="619.4,158.3 625.2,150.1 618.4,147.6 612.6,155.8" fill="#0000ff" stroke="#000"/>
<polygon points="505.1,152.2 512,154 505.9,151.4 499,149.6" fill="#0000ff" stroke="#000"/>
<polygon points="551.4,165.6 558.6,164.8 552.2,162.1 545,162.9" fill="#0000ff" stroke="#000"/>
<polygon points="492.1,147.2 494.4,148.1 488.4,145.5 486.1,144.6" fill="#0000ff" stroke="#0000ff" stroke-width="0.4"/>
<polygon points="494.4,148.1 496.7,148.8 490.7,146.3 488.4,145.5" fill="#0000ff" stroke="#0000ff" stroke-width="0.4"/>
<polygon points="496.7,148.8 499,149.6 492.9,147 490.7,146.3" fill="#0000ff" stroke="#0000ff" stroke-width="0.4"/>
<polygon points="492.1,147.2 499,149.6 492.9,147 486.1,144.6" fill="none" stroke="#000"/>
<polygon points="537.8,162.8 545,162.9 538.7,160.3 531.5,160.1" fill="#0000ff" stroke="#000"/>
<polygon points="479.6,141.1 481.8,142.5 475.9,140 473.7,138.6" fill="#003ad4" stroke="#003ad4" stroke-width="0.4"/>
<polygon points="481.8,142.5 484,143.6 478,141.1 475.9,140" fill="#0021d4" stroke="#0021d4" stroke-width="0.4"/>
<polygon points="484,143.6 486.1,144.6 480.1,142.1 478,141.1" fill="#000bd4" stroke="#000bd4" stroke-width="0.4"/>
<polygon points="479.6,141.1 486.1,144.6 480.1,142.1 473.7,138.6" fill="none" stroke="#000"/>
<polygon points="599.4,169 606.3,163.1 599.7,160.5 592.8,166.3" fill="#0000ff" stroke="#000"/>
<polygon points="585.5,170.4 592.8,166.3 586.1,163.7 578.9,167.7" fill="#0000ff" stroke="#000"/>
<polygon points="613.1,165.8 619.4,158.3 612.6,155.8 606.3,163.1" fill="#0000ff" stroke="#000"/>
<polygon points="524.4,159.2 531.5,160.1 525.3,157.5 518.1,156.6" fill="#0000ff" stroke="#000"/>
<polygon points="467.6,134.2 469.6,135.8 463.7,133.3 461.7,131.7" fill="#0099d4" stroke="#0099d4" stroke-width="0.4"/>
<polygon points="469.6,135.8 471.7,137.2 465.8,134.7 463.7,133.3" fill="#007bd4" stroke="#007bd4" stroke-width="0.4"/>
<polygon points="471.7,137.2 473.7,138.6 467.8,136.1 465.8,134.7" fill="#005bd4" stroke="#005bd4" stroke-width="0.4"/>
<polygon points="467.6,134.2 473.7,138.6 467.8,136.1 461.7,131.7" fill="none" stroke="#000"/>
<polygon points="571.6,170.1 578.9,167.7 572.4,165 565.1,167.4" fill="#0000ff" stroke="#000"/>
<polygon points="626.3,160.9 632,152.6 625.2,150.1 619.4,158.3" fill="#0000ff" stroke="#000"/>
<polygon points="511.2,154.8 518.1,156.6 512,154 505.1,152.2" fill="#0000ff" stroke="#000"/>
<polygon points="455.7,126.9 457.7,128.6 451.9,126.2 449.9,124.5" fill="#00dec8" stroke="#00dec8" stroke-width="0.4"/>
<polygon points="457.7,128.6 459.7,130.2 453.9,127.8 451.9,126.2" fill="#00d4d9" stroke="#00d4d9" stroke-width="0.4"/>
<polygon points="459.7,130.2 461.7,131.7 455.9,129.3 453.9,127.8" fill="#00b5d4" stroke="#00b5d4" stroke-width="0.4"/>
<polygon points="455.7,126.9 461.7,131.7 455.9,129.3 449.9,124.5" fill="none" stroke="#000"/>
<polygon points="557.8,168.3 565.1,167.4 558.6,164.8 551.4,165.6" fill="#0000ff" stroke="#000"/>
<polygon points="498.2,149.8 500.5,150.7 494.4,148.1 492.1,147.2" fill="#0000ff" stroke="#0000ff" stroke-width="0.4"/>
<polygon points="500.5,150.7 502.8,151.4 496.7,148.8 494.4,148.1" fill="#0000ff" stroke="#0000ff" stroke-width="0.4"/>
<polygon points="502.8,151.4 505.1,152.2 499,149.6 496.7,148.8" fill="#0000ff" stroke="#0000ff" stroke-width="0.4"/>
<polygon points="498.2,149.8 505.1,152.2 499,149.6 492.1,147.2" fill="none" stroke="#000"/>
<polygon points="544.2,165.5 551.4,165.6 545,162.9 537.8,162.8" fill="#0000ff" stroke="#000"/>
<polygon points="485.7,143.7 487.8,145.1 481.8,142.5 479.6,141.1" fill="#0039d4" stroke="#0039d4" stroke-width="0.4"/>
<polygon points="487.8,145.1 490,146.2 484,143.6 481.8,142.5" fill="#0020d4" stroke="#0020d4" stroke-width="0.4"/>
<polygon points="490,146.2 492.1,147.2 486.1,144.6 484,143.6" fill="#000ad4" stroke="#000ad4" stroke-width="0.4"/>
<polygon points="485.7,143.7 492.1,147.2 486.1,144.6 479.6,141.1" fill="none" stroke="#000"/>
<polygon points="606.2,171.7 613.1,165.8 606.3,163.1 599.4,169" fill="#0000ff" stroke="#000"/>
<polygon points="592.2,173.1 599.4,169 592.8,166.3 585.5,170.4" fill="#0000ff" stroke="#000"/>
<polygon points="620,168.4 626.3,160.9 619.4,158.3 613.1,165.8" fill="#0000ff" stroke="#000"/>
<polygon points="530.7,161.9 537.8,162.8 531.5,160.1 524.4,159.2" fill="#0000ff" stroke="#000"/>
<polygon points="473.6,136.7 475.6,138.3 469.6,135.8 467.6,134.2" fill="#0098d4" stroke="#0098d4" stroke-width="0.4"/>
<polygon points="475.6,138.3 477.6,139.8 471.7,137.2 469.6,135.8" fill="#007ad4" stroke="#007ad4" stroke-width="0.4"/>
<polygon points="477.6,139.8 479.6,141.1 473.7,138.6 471.7,137.2" fill="#005ad4" stroke="#005ad4" stroke-width="0.4"/>
<polygon points="473.6,136.7 479.6,141.1 473.7,138.6 467.6,134.2" fill="none" stroke="#000"/>
<polygon points="578.2,172.9 585.5,170.4 578.9,167.7 571.6,170.1" fill="#0000ff" stroke="#000"/>
<polygon points="633.2,163.6 639,155.2 632,152.6 626.3,160.9" fill="#0000ff" stroke="#000"/>
<polygon points="517.5,157.5 524.4,159.2 518.1,156.6 511.2,154.8" fill="#0000ff" stroke="#000"/>
<polygon points="461.6,129.4 463.6,131.1 457.7,128.6 455.7,126.9" fill="#00dec8" stroke="#00dec8" stroke-width="0.4"/>
<polygon points="463.6,131.1 465.6,132.7 459.7,130.2 457.7,128.6" fill="#00d3d9" stroke="#00d3d9" stroke-width="0.4"/>
<polygon points="465.6,132.7 467.6,134.2 461.7,131.7 459.7,130.2" fill="#00b4d4" stroke="#00b4d4" stroke-width="0.4"/>
<polygon points="461.6,129.4 467.6,134.2 461.7,131.7 455.7,126.9" fill="none" stroke="#000"/>
<polygon points="564.4,171 571.6,170.1 565.1,167.4 557.8,168.3" fill="#0000ff" stroke="#000"/>
<polygon points="449.9,121.7 451.9,123.5 446,121.1 444.1,119.3" fill="#00ec97" stroke="#00ec97" stroke-width="0.4"/>
<polygon points="451.9,123.5 453.8,125.3 448,122.8 446,121.1" fill="#00e7a9" stroke="#00e7a9" stroke-width="0.4"/>
<polygon points="453.8,125.3 455.7,126.9 449.9,124.5 448,122.8" fill="#00e3b9" stroke="#00e3b9" stroke-width="0.4"/>
<polygon points="449.9,121.7 455.7,126.9 449.9,124.5 444.1,119.3" fill="none" stroke="#000"/>
<polygon points="504.4,152.4 506.7,153.3 500.5,150.7 498.2,149.8" fill="#0000ff" stroke="#0000ff" stroke-width="0.4"/>
<polygon points="506.7,153.3 509,154.1 502.8,151.4 500.5,150.7" fill="#0000ff" stroke="#0000ff" stroke-width="0.4"/>
<polygon points="509,154.1 511.2,154.8 505.1,152.2 502.8,151.4" fill="#0000ff" stroke="#0000ff" stroke-width="0.4"/>
<polygon points="504.4,152.4 511.2,154.8 505.1,152.2 498.2,149.8" fill="none" stroke="#000"/>
<polygon points="550.7,168.2 557.8,168.3 551.4,165.6 544.2,165.5" fill="#0000ff" stroke="#000"/>
<polygon points="491.8,146.3 494,147.6 487.8,145.1 485.7,143.7" fill="#0038d4" stroke="#0038d4" stroke-width="0.4"/>
<polygon points="494,147.6 496.1,148.8 490,146.2 487.8,145.1" fill="#001fd4" stroke="#001fd4" stroke-width="0.4"/>
<polygon points="496.1,148.8 498.2,149.8 492.1,147.2 490,146.2" fill="#0009d4" stroke="#0009d4" stroke-width="0.4"/>
<polygon points="491.8,146.3 498.2,149.8 492.1,147.2 485.7,143.7" fill="none" stroke="#000"/>
<polygon points="613.1,174.4 620,168.4 613.1,165.8 606.2,171.7" fill="#0000ff" stroke="#000"/>
<polygon points="599,175.9 606.2,171.7 599.4,169 592.2,173.1" fill="#0000ff" stroke="#000"/>
<polygon points="626.9,171.1 633.2,163.6 626.3,160.9 620,168.4" fill="#0000ff" stroke="#000"/>
<polygon points="537.1,164.6 544.2,165.5 537.8,162.8 530.7,161.9" fill="#0000ff" stroke="#000"/>
<polygon points="479.6,139.3 481.6,140.8 475.6,138.3 473.6,136.7" fill="#0097d4" stroke="#0097d4" stroke-width="0.4"/>
<polygon points="481.6,140.8 483.7,142.3 477.6,139.8 475.6,138.3" fill="#0079d4" stroke="#0079d4" stroke-width="0.4"/>
<polygon points="483.7,142.3 485.7,143.7 479.6,141.1 477.6,139.8" fill="#0059d4" stroke="#0059d4" stroke-width="0.4"/>
<polygon points="479.6,139.3 485.7,143.7 479.6,141.1 473.6,136.7" fill="none" stroke="#000"/>
<polygon points="584.9,175.6 592.2,173.1 585.5,170.4 578.2,172.9" fill="#0000ff" stroke="#000"/>
<polygon points="640.3,166.2 646,157.8 639,155.2 633.2,163.6" fill="#0000ff" stroke="#000"/>
<polygon points="523.8,160.1 530.7,161.9 524.4,159.2 517.5,157.5" fill="#0000ff" stroke="#000"/>
<polygon points="467.6,131.9 469.6,133.6 463.6,131.1 461.6,129.4" fill="#00ddc9" stroke="#00ddc9" stroke-width="0.4"/>
<polygon points="469.6,133.6 471.6,135.2 465.6,132.7 463.6,131.1" fill="#00d2d9" stroke="#00d2d9" stroke-width="0.4"/>
<polygon points="471.6,135.2 473.6,136.7 467.6,134.2 465.6,132.7" fill="#00b3d4" stroke="#00b3d4" stroke-width="0.4"/>
<polygon points="467.6,131.9 473.6,136.7 467.6,134.2 461.6,129.4" fill="none" stroke="#000"/>
<polygon points="571,173.8 578.2,172.9 571.6,170.1 564.4,171" fill="#0000ff" stroke="#000"/>
<polygon points="455.8,124.2 457.8,126 451.9,123.5 449.9,121.7" fill="#00ec98" stroke="#00ec98" stroke-width="0.4"/>
<polygon points="457.8,126 459.7,127.7 453.8,125.3 451.9,123.5" fill="#00e7a9" stroke="#00e7a9" stroke-width="0.4"/>
<polygon points="459.7,127.7 461.6,129.4 455.7,126.9 453.8,125.3" fill="#00e2b9" stroke="#00e2b9" stroke-width="0.4"/>
<polygon points="455.8,124.2 461.6,129.4 455.7,126.9 449.9,121.7" fill="none" stroke="#000"/>
<polygon points="510.7,155.1 513,156 506.7,153.3 504.4,152.4" fill="#0000ff" stroke="#0000ff" stroke-width="0.4"/>
<polygon points="513,156 515.2,156.7 509,154.1 506.7,153.3" fill="#0000ff" stroke="#0000ff" stroke-width="0.4"/>
<polygon points="515.2,156.7 517.5,157.5 511.2,154.8 509,154.1" fill="#0000ff" stroke="#0000ff" stroke-width="0.4"/>
<polygon points="510.7,155.1 517.5,157.5 511.2,154.8 504.4,152.4" fill="none" stroke="#000"/>
<polygon points="557.2,171 564.4,171 557.8,168.3 550.7,168.2" fill="#0000ff" stroke="#000"/>
<polygon points="444.2,116.2 446.1,118.1 440.3,115.7 438.3,113.8" fill="#00fb5d" stroke="#00fb5d" stroke-width="0.4"/>
<polygon points="446.1,118.1 448,119.9 442.2,117.5 440.3,115.7" fill="#00f671" stroke="#00f671" stroke-width="0.4"/>
<polygon points="448,119.9 449.9,121.7 444.1,119.3 442.2,117.5" fill="#00f185" stroke="#00f185" stroke-width="0.4"/>
<polygon points="444.2,116.2 449.9,121.7 444.1,119.3 438.3,113.8" fill="none" stroke="#000"/>
<polygon points="498,148.9 500.1,150.3 494,147.6 491.8,146.3" fill="#0037d4" stroke="#0037d4" stroke-width="0.4"/>
<polygon points="500.1,150.3 502.3,151.4 496.1,148.8 494,147.6" fill="#001ed4" stroke="#001ed4" stroke-width="0.4"/>
<polygon points="502.3,151.4 504.4,152.4 498.2,149.8 496.1,148.8" fill="#0008d4" stroke="#0008d4" stroke-width="0.4"/>
<polygon points="498,148.9 504.4,152.4 498.2,149.8 491.8,146.3" fill="none" stroke="#000"/>
<polygon points="620,177.2 626.9,171.1 620,168.4 613.1,174.4" fill="#0000ff" stroke="#000"/>
<polygon points="605.8,178.6 613.1,174.4 606.2,171.7 599,175.9" fill="#0000ff" stroke="#000"/>
<polygon points="633.9,173.9 640.3,166.2 633.2,163.6 626.9,171.1" fill="#0000ff" stroke="#000"/>
<polygon points="543.6,167.4 550.7,168.2 544.2,165.5 537.1,164.6" fill="#0000ff" stroke="#000"/>
<polygon points="485.7,141.9 487.8,143.4 481.6,140.8 479.6,139.3" fill="#0097d4" stroke="#0097d4" stroke-width="0.4"/>
<polygon points="487.8,143.4 489.8,144.9 483.7,142.3 481.6,140.8" fill="#0078d4" stroke="#0078d4" stroke-width="0.4"/>
<polygon points="489.8,144.9 491.8,146.3 485.7,143.7 483.7,142.3" fill="#0058d4" stroke="#0058d4" stroke-width="0.4"/>
<polygon points="485.7,141.9 491.8,146.3 485.7,143.7 479.6,139.3" fill="none" stroke="#000"/>
<polygon points="591.7,178.4 599,175.9 592.2,173.1 584.9,175.6" fill="#0000ff" stroke="#000"/>
<polygon points="647.4,168.9 653.2,160.4 646,157.8 640.3,166.2" fill="#0000ff" stroke="#000"/>
<polygon points="530.2,162.9 537.1,164.6 530.7,161.9 523.8,160.1" fill="#0000ff" stroke="#000"/>
<polygon points="473.7,134.5 475.7,136.2 469.6,133.6 467.6,131.9" fill="#00ddc9" stroke="#00ddc9" stroke-width="0.4"/>
<polygon points="475.7,136.2 477.6,137.8 471.6,135.2 469.6,133.6" fill="#00d1d9" stroke="#00d1d9" stroke-width="0.4"/>
<polygon points="477.6,137.8 479.6,139.3 473.6,136.7 471.6,135.2" fill="#00b2d4" stroke="#00b2d4" stroke-width="0.4"/>
<polygon points="473.7,134.5 479.6,139.3 473.6,136.7 467.6,131.9" fill="none" stroke="#000"/>
<polygon points="577.7,176.6 584.9,175.6 578.2,172.9 571,173.8" fill="#0000ff" stroke="#000"/>
<polygon points="461.8,126.7 463.7,128.5 457.8,126 455.8,124.2" fill="#00ec98" stroke="#00ec98" stroke-width="0.4"/>
<polygon points="463.7,128.5 465.7,130.2 459.7,127.7 457.8,126" fill="#00e7a9" stroke="#00e7a9" stroke-width="0.4"/>
<polygon points="465.7,130.2 467.6,131.9 461.6,129.4 459.7,127.7" fill="#00e2ba" stroke="#00e2ba" stroke-width="0.4"/>
<polygon points="461.8,126.7 467.6,131.9 461.6,129.4 455.8,124.2" fill="none" stroke="#000"/>
<polygon points="517,157.8 519.3,158.7 513,156 510.7,155.1" fill="#0000ff" stroke="#0000ff" stroke-width="0.4"/>
<polygon points="519.3,158.7 521.5,159.4 515.2,156.7 513,156" fill="#0000ff" stroke="#0000ff" stroke-width="0.4"/>
<polygon points="521.5,159.4 523.8,160.1 517.5,157.5 515.2,156.7" fill="#0000ff" stroke="#0000ff" stroke-width="0.4"/>
<polygon points="517,157.8 523.8,160.1 517.5,157.5 510.7,155.1" fill="none" stroke="#000"/>
<polygon points="563.8,173.8 571,173.8 564.4,171 557.2,171" fill="#0000ff" stroke="#000"/>
<polygon points="450.1,118.6 452,120.5 446.1,118.1 444.2,116.2" fill="#00fb5d" stroke="#00fb5d" stroke-width="0.4"/>
<polygon points="452,120.5 453.9,122.4 448,119.9 446.1,118.1" fill="#00f672" stroke="#00f672" stroke-width="0.4"/>
<polygon points="453.9,122.4 455.8,124.2 449.9,121.7 448,119.9" fill="#00f185" stroke="#00f185" stroke-width="0.4"/>
<polygon points="450.1,118.6 455.8,124.2 449.9,121.7 444.2,116.2" fill="none" stroke="#000"/>
<polygon points="438.6,110.3 440.5,112.3 434.6,110 432.8,107.9" fill="#00ff1e" stroke="#00ff1e" stroke-width="0.4"/>
<polygon points="440.5,112.3 442.3,114.3 436.5,111.9 434.6,110" fill="#00ff32" stroke="#00ff32" stroke-width="0.4"/>
<polygon points="442.3,114.3 444.2,116.2 438.3,113.8 436.5,111.9" fill="#00ff47" stroke="#00ff47" stroke-width="0.4"/>
<polygon points="438.6,110.3 444.2,116.2 438.3,113.8 432.8,107.9" fill="none" stroke="#000"/>
<polygon points="504.2,151.6 506.4,152.9 500.1,150.3 498,148.9" fill="#0036d4" stroke="#0036d4" stroke-width="0.4"/>
<polygon points="506.4,152.9 508.5,154.1 502.3,151.4 500.1,150.3" fill="#001dd4" stroke="#001dd4" stroke-width="0.4"/>
<polygon points="508.5,154.1 510.7,155.1 504.4,152.4 502.3,151.4" fill="#0007d4" stroke="#0007d4" stroke-width="0.4"/>
<polygon points="504.2,151.6 510.7,155.1 504.4,152.4 498,148.9" fill="none" stroke="#000"/>
<polygon points="627,180 633.9,173.9 626.9,171.1 620,177.2" fill="#0000ff" stroke="#000"/>
<polygon points="612.8,181.5 620,177.2 613.1,174.4 605.8,178.6" fill="#0000ff" stroke="#000"/>
<polygon points="641.1,176.6 647.4,168.9 640.3,166.2 633.9,173.9" fill="#0000ff" stroke="#000"/>
<polygon points="550.1,170.2 557.2,171 550.7,168.2 543.6,167.4" fill="#0000ff" stroke="#000"/>
<polygon points="491.9,144.5 494,146 487.8,143.4 485.7,141.9" fill="#0096d4" stroke="#0096d4" stroke-width="0.4"/>
<polygon points="494,146 496,147.5 489.8,144.9 487.8,143.4" fill="#0077d4" stroke="#0077d4" stroke-width="0.4"/>
<polygon points="496,147.5 498,148.9 491.8,146.3 489.8,144.9" fill="#0057d4" stroke="#0057d4" stroke-width="0.4"/>
<polygon points="491.9,144.5 498,148.9 491.8,146.3 485.7,141.9" fill="none" stroke="#000"/>
<polygon points="598.5,181.3 605.8,178.6 599,175.9 591.7,178.4" fill="#0000ff" stroke="#000"/>
<polygon points="654.6,171.6 660.4,163 653.2,160.4 647.4,168.9" fill="#0000ff" stroke="#000"/>
<polygon points="536.7,165.6 543.6,167.4 537.1,164.6 530.2,162.9" fill="#0000ff" stroke="#000"/>
<polygon points="479.8,137 481.8,138.7 475.7,136.2 473.7,134.5" fill="#00ddca" stroke="#00ddca" stroke-width="0.4"/>
<polygon points="481.8,138.7 483.8,140.3 477.6,137.8 475.7,136.2" fill="#00d0d8" stroke="#00d0d8" stroke-width="0.4"/>
<polygon points="483.8,140.3 485.7,141.9 479.6,139.3 477.6,137.8" fill="#00b1d4" stroke="#00b1d4" stroke-width="0.4"/>
<polygon points="479.8,137 485.7,141.9 479.6,139.3 473.7,134.5" fill="none" stroke="#000"/>
<polygon points="584.5,179.4 591.7,178.4 584.9,175.6 577.7,176.6" fill="#0000ff" stroke="#000"/>
<polygon points="467.9,129.2 469.8,131 463.7,128.5 461.8,126.7" fill="#00ec98" stroke="#00ec98" stroke-width="0.4"/>
<polygon points="469.8,131 471.7,132.8 465.7,130.2 463.7,128.5" fill="#00e7aa" stroke="#00e7aa" stroke-width="0.4"/>
<polygon points="471.7,132.8 473.7,134.5 467.6,131.9 465.7,130.2" fill="#00e2ba" stroke="#00e2ba" stroke-width="0.4"/>
<polygon points="467.9,129.2 473.7,134.5 467.6,131.9 461.8,126.7" fill="none" stroke="#000"/>
<polygon points="523.4,160.5 525.7,161.4 519.3,158.7 517,157.8" fill="#0000ff" stroke="#0000ff" stroke-width="0.4"/>
<polygon points="525.7,161.4 528,162.2 521.5,159.4 519.3,158.7" fill="#0000ff" stroke="#0000ff" stroke-width="0.4"/>
<polygon points="528,162.2 530.2,162.9 523.8,160.1 521.5,159.4" fill="#0000ff" stroke="#0000ff" stroke-width="0.4"/>
<polygon points="523.4,160.5 530.2,162.9 523.8,160.1 517,157.8" fill="none" stroke="#000"/>
<polygon points="570.5,176.6 577.7,176.6 571,173.8 563.8,173.8" fill="#0000ff" stroke="#000"/>
<polygon points="456.1,121.1 458,123 452,120.5 450.1,118.6" fill="#00fb5e" stroke="#00fb5e" stroke-width="0.4"/>
<polygon points="458,123 459.9,124.9 453.9,122.4 452,120.5" fill="#00f672" stroke="#00f672" stroke-width="0.4"/>
<polygon points="459.9,124.9 461.8,126.7 455.8,124.2 453.9,122.4" fill="#00f186" stroke="#00f186" stroke-width="0.4"/>
<polygon points="456.1,121.1 461.8,126.7 455.8,124.2 450.1,118.6" fill="none" stroke="#000"/>
<polygon points="444.5,112.7 446.4,114.8 440.5,112.3 438.6,110.3" fill="#00ff1f" stroke="#00ff1f" stroke-width="0.4"/>
<polygon points="446.4,114.8 448.3,116.7 442.3,114.3 440.5,112.3" fill="#00ff33" stroke="#00ff33" stroke-width="0.4"/>
<polygon points="448.3,116.7 450.1,118.6 444.2,116.2 442.3,114.3" fill="#00ff47" stroke="#00ff47" stroke-width="0.4"/>
<polygon points="444.5,112.7 450.1,118.6 444.2,116.2 438.6,110.3" fill="none" stroke="#000"/>
<polygon points="510.6,154.3 512.7,155.6 506.4,152.9 504.2,151.6" fill="#0035d4" stroke="#0035d4" stroke-width="0.4"/>
<polygon points="512.7,155.6 514.9,156.8 508.5,154.1 506.4,152.9" fill="#001dd4" stroke="#001dd4" stroke-width="0.4"/>
<polygon points="514.9,156.8 517,157.8 510.7,155.1 508.5,154.1" fill="#0007d4" stroke="#0007d4" stroke-width="0.4"/>
<polygon points="510.6,154.3 517,157.8 510.7,155.1 504.2,151.6" fill="none" stroke="#000"/>
<polygon points="634.1,182.8 641.1,176.6 633.9,173.9 627,180" fill="#0000ff" stroke="#000"/>
<polygon points="619.8,184.3 627,180 620,177.2 612.8,181.5" fill="#0000ff" stroke="#000"/>
<polygon points="648.3,179.4 654.6,171.6 647.4,168.9 641.1,176.6" fill="#0000ff" stroke="#000"/>
<polygon points="433.3,103.8 435.1,106.1 429.3,103.7 427.5,101.4" fill="#1fff00" stroke="#1fff00" stroke-width="0.4"/>
<polygon points="435.1,106.1 436.9,108.2 431,105.9 429.3,103.7" fill="#0aff00" stroke="#0aff00" stroke-width="0.4"/>
<polygon points="436.9,108.2 438.6,110.3 432.8,107.9 431,105.9" fill="#00ff0a" stroke="#00ff0a" stroke-width="0.4"/>
<polygon points="433.3,103.8 438.6,110.3 432.8,107.9 427.5,101.4" fill="none" stroke="#000"/>
<polygon points="556.8,173 563.8,173.8 557.2,171 550.1,170.2" fill="#0000ff" stroke="#000"/>
<polygon points="498.2,147.1 500.2,148.7 494,146 491.9,144.5" fill="#0095d4" stroke="#0095d4" stroke-width="0.4"/>
<polygon points="500.2,148.7 502.2,150.2 496,147.5 494,146" fill="#0076d4" stroke="#0076d4" stroke-width="0.4"/>
<polygon points="502.2,150.2 504.2,151.6 498,148.9 496,147.5" fill="#0056d4" stroke="#0056d4" stroke-width="0.4"/>
<polygon points="498.2,147.1 504.2,151.6 498,148.9 491.9,144.5" fill="none" stroke="#000"/>
<polygon points="605.5,184.2 612.8,181.5 605.8,178.6 598.5,181.3" fill="#0000ff" stroke="#000"/>
<polygon points="543.3,168.4 550.1,170.2 543.6,167.4 536.7,165.6" fill="#0000ff" stroke="#000"/>
<polygon points="661.9,174.4 667.7,165.7 660.4,163 654.6,171.6" fill="#0000ff" stroke="#000"/>
<polygon points="486,139.6 488,141.3 481.8,138.7 479.8,137" fill="#00ddca" stroke="#00ddca" stroke-width="0.4"/>
<polygon points="488,141.3 490,143 483.8,140.3 481.8,138.7" fill="#00cfd8" stroke="#00cfd8" stroke-width="0.4"/>
<polygon points="490,143 491.9,144.5 485.7,141.9 483.8,140.3" fill="#00b0d4" stroke="#00b0d4" stroke-width="0.4"/>
<polygon points="486,139.6 491.9,144.5 485.7,141.9 479.8,137" fill="none" stroke="#000"/>
<polygon points="591.3,182.3 598.5,181.3 591.7,178.4 584.5,179.4" fill="#0000ff" stroke="#000"/>
<polygon points="474,131.7 475.9,133.6 469.8,131 467.9,129.2" fill="#00ec99" stroke="#00ec99" stroke-width="0.4"/>
<polygon points="475.9,133.6 477.9,135.3 471.7,132.8 469.8,131" fill="#00e7aa" stroke="#00e7aa" stroke-width="0.4"/>
<polygon points="477.9,135.3 479.8,137 473.7,134.5 471.7,132.8" fill="#00e2ba" stroke="#00e2ba" stroke-width="0.4"/>
<polygon points="474,131.7 479.8,137 473.7,134.5 467.9,129.2" fill="none" stroke="#000"/>
<polygon points="529.9,163.3 532.2,164.1 525.7,161.4 523.4,160.5" fill="#0000ff" stroke="#0000ff" stroke-width="0.4"/>
<polygon points="532.2,164.1 534.4,164.9 528,162.2 525.7,161.4" fill="#0000ff" stroke="#0000ff" stroke-width="0.4"/>
<polygon points="534.4,164.9 536.7,165.6 530.2,162.9 528,162.2" fill="#0000ff" stroke="#0000ff" stroke-width="0.4"/>
<polygon points="529.9,163.3 536.7,165.6 530.2,162.9 523.4,160.5" fill="none" stroke="#000"/>
<polygon points="577.3,179.5 584.5,179.4 577.7,176.6 570.5,176.6" fill="#0000ff" stroke="#000"/>
<polygon points="462.2,123.6 464.1,125.5 458,123 456.1,121.1" fill="#00fb5e" stroke="#00fb5e" stroke-width="0.4"/>
<polygon points="464.1,125.5 466,127.4 459.9,124.9 458,123" fill="#00f673" stroke="#00f673" stroke-width="0.4"/>
<polygon points="466,127.4 467.9,129.2 461.8,126.7 459.9,124.9" fill="#00f186" stroke="#00f186" stroke-width="0.4"/>
<polygon points="462.2,123.6 467.9,129.2 461.8,126.7 456.1,121.1" fill="none" stroke="#000"/>
<polygon points="450.5,115.1 452.4,117.2 446.4,114.8 444.5,112.7" fill="#00ff1f" stroke="#00ff1f" stroke-width="0.4"/>
<polygon points="452.4,117.2 454.3,119.2 448.3,116.7 446.4,114.8" fill="#00ff33" stroke="#00ff33" stroke-width="0.4"/>
<polygon points="454.3,119.2 456.1,121.1 450.1,118.6 448.3,116.7" fill="#00ff48" stroke="#00ff48" stroke-width="0.4"/>
<polygon points="450.5,115.1 456.1,121.1 450.1,118.6 444.5,112.7" fill="none" stroke="#000"/>
<polygon points="517,157 519.2,158.4 512.7,155.6 510.6,154.3" fill="#0034d4" stroke="#0034d4" stroke-width="0.4"/>
<polygon points="519.2,158.4 521.3,159.5 514.9,156.8 512.7,155.6" fill="#001cd4" stroke="#001cd4" stroke-width="0.4"/>
<polygon points="521.3,159.5 523.4,160.5 517,157.8 514.9,156.8" fill="#0006d4" stroke="#0006d4" stroke-width="0.4"/>
<polygon points="517,157 523.4,160.5 517,157.8 510.6,154.3" fill="none" stroke="#000"/>
<polygon points="641.3,185.7 648.3,179.4 641.1,176.6 634.1,182.8" fill="#0000ff" stroke="#000"/>
<polygon points="626.9,187.2 634.1,182.8 627,180 619.8,184.3" fill="#0000ff" stroke="#000"/>
<polygon points="655.6,182.3 661.9,174.4 654.6,171.6 648.3,179.4" fill="#0000ff" stroke="#000"/>
<polygon points="439.3,106.1 441,108.5 435.1,106.1 433.3,103.8" fill="#1fff00" stroke="#1fff00" stroke-width="0.4"/>
<polygon points="441,108.5 442.8,110.6 436.9,108.2 435.1,106.1" fill="#0aff00" stroke="#0aff00" stroke-width="0.4"/>
<polygon points="442.8,110.6 444.5,112.7 438.6,110.3 436.9,108.2" fill="#00ff0a" stroke="#00ff0a" stroke-width="0.4"/>
<polygon points="439.3,106.1 444.5,112.7 438.6,110.3 433.3,103.8" fill="none" stroke="#000"/>
<polygon points="563.5,175.8 570.5,176.6 563.8,173.8 556.8,173" fill="#0000ff" stroke="#000"/>
<polygon points="428.4,96.8 430,99.2 424.2,96.9 422.5,94.5" fill="#81ff00" stroke="#81ff00" stroke-width="0.4"/>
<polygon points="430,99.2 431.7,101.5 425.8,99.2 424.2,96.9" fill="#5eff00" stroke="#5eff00" stroke-width="0.4"/>
<polygon points="431.7,101.5 433.3,103.8 427.5,101.4 425.8,99.2" fill="#3bff00" stroke="#3bff00" stroke-width="0.4"/>
<polygon points="428.4,96.8 433.3,103.8 427.5,101.4 422.5,94.5" fill="none" stroke="#000"/>
<polygon points="504.6,149.8 506.6,151.4 500.2,148.7 498.2,147.1" fill="#0094d4" stroke="#0094d4" stroke-width="0.4"/>
<polygon points="506.6,151.4 508.6,152.9 502.2,150.2 500.2,148.7" fill="#0075d4" stroke="#0075d4" stroke-width="0.4"/>
<polygon points="508.6,152.9 510.6,154.3 504.2,151.6 502.2,150.2" fill="#0055d4" stroke="#0055d4" stroke-width="0.4"/>
<polygon points="504.6,149.8 510.6,154.3 504.2,151.6 498.2,147.1" fill="none" stroke="#000"/>
<polygon points="612.5,187.1 619.8,184.3 612.8,181.5 605.5,184.2" fill="#0000ff" stroke="#000"/>
<polygon points="549.9,171.3 556.8,173 550.1,170.2 543.3,168.4" fill="#0000ff" stroke="#000"/>
<polygon points="492.3,142.3 494.3,144 488,141.3 486,139.6" fill="#00ddca" stroke="#00ddca" stroke-width="0.4"/>
<polygon points="494.3,144 496.2,145.6 490,143 488,141.3" fill="#00ced8" stroke="#00ced8" stroke-width="0.4"/>
<polygon points="496.2,145.6 498.2,147.1 491.9,144.5 490,143" fill="#00afd4" stroke="#00afd4" stroke-width="0.4"/>
<polygon points="492.3,142.3 498.2,147.1 491.9,144.5 486,139.6" fill="none" stroke="#000"/>
<polygon points="598.3,185.2 605.5,184.2 598.5,181.3 591.3,182.3" fill="#0000ff" stroke="#000"/>
<polygon points="480.2,134.3 482.2,136.2 475.9,133.6 474,131.7" fill="#00ec99" stroke="#00ec99" stroke-width="0.4"/>
<polygon points="482.2,136.2 484.1,137.9 477.9,135.3 475.9,133.6" fill="#00e7ab" stroke="#00e7ab" stroke-width="0.4"/>
<polygon points="484.1,137.9 486,139.6 479.8,137 477.9,135.3" fill="#00e2bb" stroke="#00e2bb" stroke-width="0.4"/>
<polygon points="480.2,134.3 486,139.6 479.8,137 474,131.7" fill="none" stroke="#000"/>
<polygon points="536.5,166.1 538.8,166.9 532.2,164.1 529.9,163.3" fill="#0000ff" stroke="#0000ff" stroke-width="0.4"/>
<polygon points="538.8,166.9 541,167.7 534.4,164.9 532.2,164.1" fill="#0000ff" stroke="#0000ff" stroke-width="0.4"/>
<polygon points="541,167.7 543.3,168.4 536.7,165.6 534.4,164.9" fill="#0000ff" stroke="#0000ff" stroke-width="0.4"/>
<polygon points="536.5,166.1 543.3,168.4 536.7,165.6 529.9,163.3" fill="none" stroke="#000"/>
<polygon points="584.2,182.4 591.3,182.3 584.5,179.4 577.3,179.5" fill="#0000ff" stroke="#000"/>
<polygon points="468.3,126.1 470.2,128 464.1,125.5 462.2,123.6" fill="#00fb5f" stroke="#00fb5f" stroke-width="0.4"/>
<polygon points="470.2,128 472.1,129.9 466,127.4 464.1,125.5" fill="#00f673" stroke="#00f673" stroke-width="0.4"/>
<polygon points="472.1,129.9 474,131.7 467.9,129.2 466,127.4" fill="#00f186" stroke="#00f186" stroke-width="0.4"/>
<polygon points="468.3,126.1 474,131.7 467.9,129.2 462.2,123.6" fill="none" stroke="#000"/>
<polygon points="523.5,159.8 525.7,161.1 519.2,158.4 517,157" fill="#0033d4" stroke="#0033d4" stroke-width="0.4"/>
<polygon points="525.7,161.1 527.8,162.3 521.3,159.5 519.2,158.4" fill="#001bd4" stroke="#001bd4" stroke-width="0.4"/>
<polygon points="527.8,162.3 529.9,163.3 523.4,160.5 521.3,159.5" fill="#0005d4" stroke="#0005d4" stroke-width="0.4"/>
<polygon points="523.5,159.8 529.9,163.3 523.4,160.5 517,157" fill="none" stroke="#000"/>
<polygon points="456.6,117.6 458.5,119.7 452.4,117.2 450.5,115.1" fill="#00ff1f" stroke="#00ff1f" stroke-width="0.4"/>
<polygon points="458.5,119.7 460.3,121.7 454.3,119.2 452.4,117.2" fill="#00ff33" stroke="#00ff33" stroke-width="0.4"/>
<polygon points="460.3,121.7 462.2,123.6 456.1,121.1 454.3,119.2" fill="#00ff48" stroke="#00ff48" stroke-width="0.4"/>
<polygon points="456.6,117.6 462.2,123.6 456.1,121.1 450.5,115.1" fill="none" stroke="#000"/>
<polygon points="648.6,188.6 655.6,182.3 648.3,179.4 641.3,185.7" fill="#0000ff" stroke="#000"/>
<polygon points="634.1,190.2 641.3,185.7 634.1,182.8 626.9,187.2" fill="#0000ff" stroke="#000"/>
<polygon points="445.3,108.5 447.1,110.9 441,108.5 439.3,106.1" fill="#1fff00" stroke="#1fff00" stroke-width="0.4"/>
<polygon points="447.1,110.9 448.8,113 442.8,110.6 441,108.5" fill="#09ff00" stroke="#09ff00" stroke-width="0.4"/>
<polygon points="448.8,113 450.5,115.1 444.5,112.7 442.8,110.6" fill="#00ff0b" stroke="#00ff0b" stroke-width="0.4"/>
<polygon points="445.3,108.5 450.5,115.1 444.5,112.7 439.3,106.1" fill="none" stroke="#000"/>
<polygon points="570.3,178.7 577.3,179.5 570.5,176.6 563.5,175.8" fill="#0000ff" stroke="#000"/>
<polygon points="434.3,99.1 436,101.5 430,99.2 428.4,96.8" fill="#81ff00" stroke="#81ff00" stroke-width="0.4"/>
<polygon points="436,101.5 437.6,103.9 431.7,101.5 430,99.2" fill="#5dff00" stroke="#5dff00" stroke-width="0.4"/>
<polygon points="437.6,103.9 439.3,106.1 433.3,103.8 431.7,101.5" fill="#3bff00" stroke="#3bff00" stroke-width="0.4"/>
<polygon points="434.3,99.1 439.3,106.1 433.3,103.8 428.4,96.8" fill="none" stroke="#000"/>
<polygon points="511,152.5 513,154.1 506.6,151.4 504.6,149.8" fill="#0093d4" stroke="#0093d4" stroke-width="0.4"/>
<polygon points="513,154.1 515,155.6 508.6,152.9 506.6,151.4" fill="#0074d4" stroke="#0074d4" stroke-width="0.4"/>
<polygon points="515,155.6 517,157 510.6,154.3 508.6,152.9" fill="#0054d4" stroke="#0054d4" stroke-width="0.4"/>
<polygon points="511,152.5 517,157 510.6,154.3 504.6,149.8" fill="none" stroke="#000"/>
<polygon points="619.7,190 626.9,187.2 619.8,184.3 612.5,187.1" fill="#0000ff" stroke="#000"/>
<polygon points="423.4,89.6 425.1,92 419.2,89.7 417.5,87.3" fill="#ddff00" stroke="#ddff00" stroke-width="0.4"/>
<polygon points="425.1,92 426.7,94.4 420.9,92.1 419.2,89.7" fill="#c3ff00" stroke="#c3ff00" stroke-width="0.4"/>
<polygon points="426.7,94.4 428.4,96.8 422.5,94.5 420.9,92.1" fill="#a5ff00" stroke="#a5ff00" stroke-width="0.4"/>
<polygon points="423.4,89.6 428.4,96.8 422.5,94.5 417.5,87.3" fill="none" stroke="#000"/>
<polygon points="556.6,174.1 563.5,175.8 556.8,173 549.9,171.3" fill="#0000ff" stroke="#000"/>
<polygon points="498.6,144.9 500.6,146.6 494.3,144 492.3,142.3" fill="#00ddcb" stroke="#00ddcb" stroke-width="0.4"/>
<polygon points="500.6,146.6 502.6,148.3 496.2,145.6 494.3,144" fill="#00cdd8" stroke="#00cdd8" stroke-width="0.4"/>
<polygon points="502.6,148.3 504.6,149.8 498.2,147.1 496.2,145.6" fill="#00afd4" stroke="#00afd4" stroke-width="0.4"/>
<polygon points="498.6,144.9 504.6,149.8 498.2,147.1 492.3,142.3" fill="none" stroke="#000"/>
<polygon points="605.4,188.1 612.5,187.1 605.5,184.2 598.3,185.2" fill="#0000ff" stroke="#000"/>
<polygon points="486.5,136.9 488.4,138.8 482.2,136.2 480.2,134.3" fill="#00ec9a" stroke="#00ec9a" stroke-width="0.4"/>
<polygon points="488.4,138.8 490.4,140.5 484.1,137.9 482.2,136.2" fill="#00e7ab" stroke="#00e7ab" stroke-width="0.4"/>
<polygon points="490.4,140.5 492.3,142.3 486,139.6 484.1,137.9" fill="#00e2bb" stroke="#00e2bb" stroke-width="0.4"/>
<polygon points="486.5,136.9 492.3,142.3 486,139.6 480.2,134.3" fill="none" stroke="#000"/>
<polygon points="543.2,168.9 545.4,169.8 538.8,166.9 536.5,166.1" fill="#0000ff" stroke="#0000ff" stroke-width="0.4"/>
<polygon points="545.4,169.8 547.7,170.5 541,167.7 538.8,166.9" fill="#0000ff" stroke="#0000ff" stroke-width="0.4"/>
<polygon points="547.7,170.5 549.9,171.3 543.3,168.4 541,167.7" fill="#0000ff" stroke="#0000ff" stroke-width="0.4"/>
<polygon points="543.2,168.9 549.9,171.3 543.3,168.4 536.5,166.1" fill="none" stroke="#000"/>
<polygon points="591.2,185.3 598.3,185.2 591.3,182.3 584.2,182.4" fill="#0000ff" stroke="#000"/>
<polygon points="474.5,128.7 476.4,130.6 470.2,128 468.3,126.1" fill="#00fb5f" stroke="#00fb5f" stroke-width="0.4"/>
<polygon points="476.4,130.6 478.3,132.5 472.1,129.9 470.2,128" fill="#00f674" stroke="#00f674" stroke-width="0.4"/>
<polygon points="478.3,132.5 480.2,134.3 474,131.7 472.1,129.9" fill="#00f187" stroke="#00f187" stroke-width="0.4"/>
<polygon points="474.5,128.7 480.2,134.3 474,131.7 468.3,126.1" fill="none" stroke="#000"/>
<polygon points="530.1,162.6 532.2,163.9 525.7,161.1 523.5,159.8" fill="#0032d4" stroke="#0032d4" stroke-width="0.4"/>
<polygon points="532.2,163.9 534.4,165.1 527.8,162.3 525.7,161.1" fill="#001ad4" stroke="#001ad4" stroke-width="0.4"/>
<polygon points="534.4,165.1 536.5,166.1 529.9,163.3 527.8,162.3" fill="#0004d4" stroke="#0004d4" stroke-width="0.4"/>
<polygon points="530.1,162.6 536.5,166.1 529.9,163.3 523.5,159.8" fill="none" stroke="#000"/>
<polygon points="462.8,120.1 464.6,122.2 458.5,119.7 456.6,117.6" fill="#00ff20" stroke="#00ff20" stroke-width="0.4"/>
<polygon points="464.6,122.2 466.5,124.2 460.3,121.7 458.5,119.7" fill="#00ff34" stroke="#00ff34" stroke-width="0.4"/>
<polygon points="466.5,124.2 468.3,126.1 462.2,123.6 460.3,121.7" fill="#00ff49" stroke="#00ff49" stroke-width="0.4"/>
<polygon points="462.8,120.1 468.3,126.1 462.2,123.6 456.6,117.6" fill="none" stroke="#000"/>
<polygon points="641.4,193.1 648.6,188.6 641.3,185.7 634.1,190.2" fill="#0000ff" stroke="#000"/>
<polygon points="451.4,111 453.1,113.3 447.1,110.9 445.3,108.5" fill="#1eff00" stroke="#1eff00" stroke-width="0.4"/>
<polygon points="453.1,113.3 454.9,115.5 448.8,113 447.1,110.9" fill="#09ff00" stroke="#09ff00" stroke-width="0.4"/>
<polygon points="454.9,115.5 456.6,117.6 450.5,115.1 448.8,113" fill="#00ff0b" stroke="#00ff0b" stroke-width="0.4"/>
<polygon points="451.4,111 456.6,117.6 450.5,115.1 445.3,108.5" fill="none" stroke="#000"/>
<polygon points="577.2,181.7 584.2,182.4 577.3,179.5 570.3,178.7" fill="#0000ff" stroke="#000"/>
<polygon points="440.3,101.5 442,103.9 436,101.5 434.3,99.1" fill="#81ff00" stroke="#81ff00" stroke-width="0.4"/>
<polygon points="442,103.9 443.6,106.3 437.6,103.9 436,101.5" fill="#5dff00" stroke="#5dff00" stroke-width="0.4"/>
<polygon points="443.6,106.3 445.3,108.5 439.3,106.1 437.6,103.9" fill="#3aff00" stroke="#3aff00" stroke-width="0.4"/>
<polygon points="440.3,101.5 445.3,108.5 439.3,106.1 434.3,99.1" fill="none" stroke="#000"/>
<polygon points="517.5,155.3 519.5,156.9 513,154.1 511,152.5" fill="#0093d4" stroke="#0093d4" stroke-width="0.4"/>
<polygon points="519.5,156.9 521.5,158.4 515,155.6 513,154.1" fill="#0073d4" stroke="#0073d4" stroke-width="0.4"/>
<polygon points="521.5,158.4 523.5,159.8 517,157 515,155.6" fill="#0053d4" stroke="#0053d4" stroke-width="0.4"/>
<polygon points="517.5,155.3 523.5,159.8 517,157 511,152.5" fill="none" stroke="#000"/>
<polygon points="626.9,193 634.1,190.2 626.9,187.2 619.7,190" fill="#0000ff" stroke="#000"/>
<polygon points="429.4,91.9 431,94.3 425.1,92 423.4,89.6" fill="#dcff00" stroke="#dcff00" stroke-width="0.4"/>
<polygon points="431,94.3 432.7,96.7 426.7,94.4 425.1,92" fill="#c2ff00" stroke="#c2ff00" stroke-width="0.4"/>
<polygon points="432.7,96.7 434.3,99.1 428.4,96.8 426.7,94.4" fill="#a5ff00" stroke="#a5ff00" stroke-width="0.4"/>
<polygon points="429.4,91.9 434.3,99.1 428.4,96.8 423.4,89.6" fill="none" stroke="#000"/>
<polygon points="418.5,82.2 420.1,84.7 414.3,82.4 412.6,80" fill="#ffd000" stroke="#ffd000" stroke-width="0.4"/>
<polygon points="420.1,84.7 421.8,87.2 415.9,84.9 414.3,82.4" fill="#ffed00" stroke="#ffed00" stroke-width="0.4"/>
<polygon points="421.8,87.2 423.4,89.6 417.5,87.3 415.9,84.9" fill="#f7ff00" stroke="#f7ff00" stroke-width="0.4"/>
<polygon points="418.5,82.2 423.4,89.6 417.5,87.3 412.6,80" fill="none" stroke="#000"/>
<polygon points="563.5,177 570.3,178.7 563.5,175.8 556.6,174.1" fill="#0000ff" stroke="#000"/>
<polygon points="505.1,147.6 507.1,149.3 500.6,146.6 498.6,144.9" fill="#00ddcc" stroke="#00ddcc" stroke-width="0.4"/>
<polygon points="507.1,149.3 509,151 502.6,148.3 500.6,146.6" fill="#00ccd8" stroke="#00ccd8" stroke-width="0.4"/>
<polygon points="509,151 511,152.5 504.6,149.8 502.6,148.3" fill="#00aed4" stroke="#00aed4" stroke-width="0.4"/>
<polygon points="505.1,147.6 511,152.5 504.6,149.8 498.6,144.9" fill="none" stroke="#000"/>
<polygon points="612.5,191.1 619.7,190 612.5,187.1 605.4,188.1" fill="#0000ff" stroke="#000"/>
<polygon points="492.9,139.6 494.8,141.4 488.4,138.8 486.5,136.9" fill="#00ec9a" stroke="#00ec9a" stroke-width="0.4"/>
<polygon points="494.8,141.4 496.7,143.2 490.4,140.5 488.4,138.8" fill="#00e7ab" stroke="#00e7ab" stroke-width="0.4"/>
<polygon points="496.7,143.2 498.6,144.9 492.3,142.3 490.4,140.5" fill="#00e2bc" stroke="#00e2bc" stroke-width="0.4"/>
<polygon points="492.9,139.6 498.6,144.9 492.3,142.3 486.5,136.9" fill="none" stroke="#000"/>
<polygon points="549.9,171.8 552.2,172.7 545.4,169.8 543.2,168.9" fill="#0000ff" stroke="#0000ff" stroke-width="0.4"/>
<polygon points="552.2,172.7 554.4,173.4 547.7,170.5 545.4,169.8" fill="#0000ff" stroke="#0000ff" stroke-width="0.4"/>
<polygon points="554.4,173.4 556.6,174.1 549.9,171.3 547.7,170.5" fill="#0000ff" stroke="#0000ff" stroke-width="0.4"/>
<polygon points="549.9,171.8 556.6,174.1 549.9,171.3 543.2,168.9" fill="none" stroke="#000"/>
<polygon points="598.3,188.3 605.4,188.1 598.3,185.2 591.2,185.3" fill="#0000ff" stroke="#000"/>
<polygon points="480.8,131.3 482.7,133.2 476.4,130.6 474.5,128.7" fill="#00fb5f" stroke="#00fb5f" stroke-width="0.4"/>
<polygon points="482.7,133.2 484.6,135.1 478.3,132.5 476.4,130.6" fill="#00f674" stroke="#00f674" stroke-width="0.4"/>
<polygon points="484.6,135.1 486.5,136.9 480.2,134.3 478.3,132.5" fill="#00f187" stroke="#00f187" stroke-width="0.4"/>
<polygon points="480.8,131.3 486.5,136.9 480.2,134.3 474.5,128.7" fill="none" stroke="#000"/>
<polygon points="536.8,165.4 538.9,166.8 532.2,163.9 530.1,162.6" fill="#0032d4" stroke="#0032d4" stroke-width="0.4"/>
<polygon points="538.9,166.8 541,167.9 534.4,165.1 532.2,163.9" fill="#0019d4" stroke="#0019d4" stroke-width="0.4"/>
<polygon points="541,167.9 543.2,168.9 536.5,166.1 534.4,165.1" fill="#0003d4" stroke="#0003d4" stroke-width="0.4"/>
<polygon points="536.8,165.4 543.2,168.9 536.5,166.1 530.1,162.6" fill="none" stroke="#000"/>
<polygon points="469,122.6 470.9,124.7 464.6,122.2 462.8,120.1" fill="#00ff20" stroke="#00ff20" stroke-width="0.4"/>
<polygon points="470.9,124.7 472.7,126.7 466.5,124.2 464.6,122.2" fill="#00ff34" stroke="#00ff34" stroke-width="0.4"/>
<polygon points="472.7,126.7 474.5,128.7 468.3,126.1 466.5,124.2" fill="#00ff49" stroke="#00ff49" stroke-width="0.4"/>
<polygon points="469,122.6 474.5,128.7 468.3,126.1 462.8,120.1" fill="none" stroke="#000"/>
<polygon points="457.5,113.4 459.3,115.8 453.1,113.3 451.4,111" fill="#1eff00" stroke="#1eff00" stroke-width="0.4"/>
<polygon points="459.3,115.8 461,118 454.9,115.5 453.1,113.3" fill="#09ff00" stroke="#09ff00" stroke-width="0.4"/>
<polygon points="461,118 462.8,120.1 456.6,117.6 454.9,115.5" fill="#00ff0b" stroke="#00ff0b" stroke-width="0.4"/>
<polygon points="457.5,113.4 462.8,120.1 456.6,117.6 451.4,111" fill="none" stroke="#000"/>
<polygon points="584.2,184.6 591.2,185.3 584.2,182.4 577.2,181.7" fill="#0000ff" stroke="#000"/>
<polygon points="446.4,103.9 448.1,106.3 442,103.9 440.3,101.5" fill="#80ff00" stroke="#80ff00" stroke-width="0.4"/>
<polygon points="448.1,106.3 449.7,108.7 443.6,106.3 442,103.9" fill="#5dff00" stroke="#5dff00" stroke-width="0.4"/>
<polygon points="449.7,108.7 451.4,111 445.3,108.5 443.6,106.3" fill="#3aff00" stroke="#3aff00" stroke-width="0.4"/>
<polygon points="446.4,103.9 451.4,111 445.3,108.5 440.3,101.5" fill="none" stroke="#000"/>
<polygon points="524.1,158.1 526.1,159.6 519.5,156.9 517.5,155.3" fill="#0092d4" stroke="#0092d4" stroke-width="0.4"/>
<polygon points="526.1,159.6 528.1,161.2 521.5,158.4 519.5,156.9" fill="#0072d4" stroke="#0072d4" stroke-width="0.4"/>
<polygon points="528.1,161.2 530.1,162.6 523.5,159.8 521.5,158.4" fill="#0052d4" stroke="#0052d4" stroke-width="0.4"/>
<polygon points="524.1,158.1 530.1,162.6 523.5,159.8 517.5,155.3" fill="none" stroke="#000"/>
<polygon points="634.2,196 641.4,193.1 634.1,190.2 626.9,193" fill="#0000ff" stroke="#000"/>
<polygon points="435.4,94.2 437.1,96.6 431,94.3 429.4,91.9" fill="#dcff00" stroke="#dcff00" stroke-width="0.4"/>
<polygon points="437.1,96.6 438.7,99.1 432.7,96.7 431,94.3" fill="#c2ff00" stroke="#c2ff00" stroke-width="0.4"/>
<polygon points="438.7,99.1 440.3,101.5 434.3,99.1 432.7,96.7" fill="#a5ff00" stroke="#a5ff00" stroke-width="0.4"/>
<polygon points="435.4,94.2 440.3,101.5 434.3,99.1 429.4,91.9" fill="none" stroke="#000"/>
<polygon points="424.5,84.4 426.1,87 420.1,84.7 418.5,82.2" fill="#ffd100" stroke="#ffd100" stroke-width="0.4"/>
<polygon points="426.1,87 427.7,89.4 421.8,87.2 420.1,84.7" fill="#ffed00" stroke="#ffed00" stroke-width="0.4"/>
<polygon points="427.7,89.4 429.4,91.9 423.4,89.6 421.8,87.2" fill="#f6ff00" stroke="#f6ff00" stroke-width="0.4"/>
<polygon points="424.5,84.4 429.4,91.9 423.4,89.6 418.5,82.2" fill="none" stroke="#000"/>
<polygon points="413.6,74.6 415.2,77.2 409.3,75 407.7,72.4" fill="#ff8300" stroke="#ff8300" stroke-width="0.4"/>
<polygon points="415.2,77.2 416.9,79.7 411,77.5 409.3,75" fill="#ff9b00" stroke="#ff9b00" stroke-width="0.4"/>
<polygon points="416.9,79.7 418.5,82.2 412.6,80 411,77.5" fill="#ffb400" stroke="#ffb400" stroke-width="0.4"/>
<polygon points="413.6,74.6 418.5,82.2 412.6,80 407.7,72.4" fill="none" stroke="#000"/>
<polygon points="570.4,180 577.2,181.7 570.3,178.7 563.5,177" fill="#0000ff" stroke="#000"/>
<polygon points="511.6,150.4 513.6,152.1 507.1,149.3 505.1,147.6" fill="#00ddcc" stroke="#00ddcc" stroke-width="0.4"/>
<polygon points="513.6,152.1 515.6,153.7 509,151 507.1,149.3" fill="#00ccd8" stroke="#00ccd8" stroke-width="0.4"/>
<polygon points="515.6,153.7 517.5,155.3 511,152.5 509,151" fill="#00add4" stroke="#00add4" stroke-width="0.4"/>
<polygon points="511.6,150.4 517.5,155.3 511,152.5 505.1,147.6" fill="none" stroke="#000"/>
<polygon points="619.7,194.2 626.9,193 619.7,190 612.5,191.1" fill="#0000ff" stroke="#000"/>
<polygon points="499.3,142.3 501.3,144.1 494.8,141.4 492.9,139.6" fill="#00eb9b" stroke="#00eb9b" stroke-width="0.4"/>
<polygon points="501.3,144.1 503.2,145.9 496.7,143.2 494.8,141.4" fill="#00e6ac" stroke="#00e6ac" stroke-width="0.4"/>
<polygon points="503.2,145.9 505.1,147.6 498.6,144.9 496.7,143.2" fill="#00e2bc" stroke="#00e2bc" stroke-width="0.4"/>
<polygon points="499.3,142.3 505.1,147.6 498.6,144.9 492.9,139.6" fill="none" stroke="#000"/>
<polygon points="556.7,174.7 559,175.6 552.2,172.7 549.9,171.8" fill="#0000ff" stroke="#0000ff" stroke-width="0.4"/>
<polygon points="559,175.6 561.2,176.3 554.4,173.4 552.2,172.7" fill="#0000ff" stroke="#0000ff" stroke-width="0.4"/>
<polygon points="561.2,176.3 563.5,177 556.6,174.1 554.4,173.4" fill="#0000ff" stroke="#0000ff" stroke-width="0.4"/>
<polygon points="556.7,174.7 563.5,177 556.6,174.1 549.9,171.8" fill="none" stroke="#000"/>
<polygon points="605.4,191.3 612.5,191.1 605.4,188.1 598.3,188.3" fill="#0000ff" stroke="#000"/>
<polygon points="487.2,133.9 489.1,135.8 482.7,133.2 480.8,131.3" fill="#00fb60" stroke="#00fb60" stroke-width="0.4"/>
<polygon points="489.1,135.8 491,137.7 484.6,135.1 482.7,133.2" fill="#00f674" stroke="#00f674" stroke-width="0.4"/>
<polygon points="491,137.7 492.9,139.6 486.5,136.9 484.6,135.1" fill="#00f188" stroke="#00f188" stroke-width="0.4"/>
<polygon points="487.2,133.9 492.9,139.6 486.5,136.9 480.8,131.3" fill="none" stroke="#000"/>
<polygon points="543.5,168.3 545.7,169.6 538.9,166.8 536.8,165.4" fill="#0031d4" stroke="#0031d4" stroke-width="0.4"/>
<polygon points="545.7,169.6 547.8,170.8 541,167.9 538.9,166.8" fill="#0018d4" stroke="#0018d4" stroke-width="0.4"/>
<polygon points="547.8,170.8 549.9,171.8 543.2,168.9 541,167.9" fill="#0002d4" stroke="#0002d4" stroke-width="0.4"/>
<polygon points="543.5,168.3 549.9,171.8 543.2,168.9 536.8,165.4" fill="none" stroke="#000"/>
<polygon points="475.3,125.1 477.2,127.3 470.9,124.7 469,122.6" fill="#00ff20" stroke="#00ff20" stroke-width="0.4"/>
<polygon points="477.2,127.3 479,129.3 472.7,126.7 470.9,124.7" fill="#00ff34" stroke="#00ff34" stroke-width="0.4"/>
<polygon points="479,129.3 480.8,131.3 474.5,128.7 472.7,126.7" fill="#00ff4a" stroke="#00ff4a" stroke-width="0.4"/>
<polygon points="475.3,125.1 480.8,131.3 474.5,128.7 469,122.6" fill="none" stroke="#000"/>
<polygon points="463.8,115.9 465.5,118.3 459.3,115.8 457.5,113.4" fill="#1eff00" stroke="#1eff00" stroke-width="0.4"/>
<polygon points="465.5,118.3 467.3,120.5 461,118 459.3,115.8" fill="#08ff00" stroke="#08ff00" stroke-width="0.4"/>
<polygon points="467.3,120.5 469,122.6 462.8,120.1 461,118" fill="#00ff0c" stroke="#00ff0c" stroke-width="0.4"/>
<polygon points="463.8,115.9 469,122.6 462.8,120.1 457.5,113.4" fill="none" stroke="#000"/>
<polygon points="591.3,187.6 598.3,188.3 591.2,185.3 584.2,184.6" fill="#0000ff" stroke="#000"/>
<polygon points="452.6,106.3 454.3,108.8 448.1,106.3 446.4,103.9" fill="#80ff00" stroke="#80ff00" stroke-width="0.4"/>
<polygon points="454.3,108.8 455.9,111.1 449.7,108.7 448.1,106.3" fill="#5cff00" stroke="#5cff00" stroke-width="0.4"/>
<polygon points="455.9,111.1 457.5,113.4 451.4,111 449.7,108.7" fill="#39ff00" stroke="#39ff00" stroke-width="0.4"/>
<polygon points="452.6,106.3 457.5,113.4 451.4,111 446.4,103.9" fill="none" stroke="#000"/>
<polygon points="530.8,160.9 532.8,162.5 526.1,159.6 524.1,158.1" fill="#0091d4" stroke="#0091d4" stroke-width="0.4"/>
<polygon points="532.8,162.5 534.8,164 528.1,161.2 526.1,159.6" fill="#0071d4" stroke="#0071d4" stroke-width="0.4"/>
<polygon points="534.8,164 536.8,165.4 530.1,162.6 528.1,161.2" fill="#0051d4" stroke="#0051d4" stroke-width="0.4"/>
<polygon points="530.8,160.9 536.8,165.4 530.1,162.6 524.1,158.1" fill="none" stroke="#000"/>
<polygon points="441.5,96.5 443.2,99 437.1,96.6 435.4,94.2" fill="#dcff00" stroke="#dcff00" stroke-width="0.4"/>
<polygon points="443.2,99 444.8,101.5 438.7,99.1 437.1,96.6" fill="#c2ff00" stroke="#c2ff00" stroke-width="0.4"/>
<polygon points="444.8,101.5 446.4,103.9 440.3,101.5 438.7,99.1" fill="#a4ff00" stroke="#a4ff00" stroke-width="0.4"/>
<polygon points="441.5,96.5 446.4,103.9 440.3,101.5 435.4,94.2" fill="none" stroke="#000"/>
<polygon points="430.5,86.7 432.1,89.3 426.1,87 424.5,84.4" fill="#ffd100" stroke="#ffd100" stroke-width="0.4"/>
<polygon points="432.1,89.3 433.8,91.7 427.7,89.4 426.1,87" fill="#ffed00" stroke="#ffed00" stroke-width="0.4"/>
<polygon points="433.8,91.7 435.4,94.2 429.4,91.9 427.7,89.4" fill="#f6ff00" stroke="#f6ff00" stroke-width="0.4"/>
<polygon points="430.5,86.7 435.4,94.2 429.4,91.9 424.5,84.4" fill="none" stroke="#000"/>
<polygon points="419.6,76.8 421.2,79.4 415.2,77.2 413.6,74.6" fill="#ff8300" stroke="#ff8300" stroke-width="0.4"/>
<polygon points="421.2,79.4 422.8,81.9 416.9,79.7 415.2,77.2" fill="#ff9b00" stroke="#ff9b00" stroke-width="0.4"/>
<polygon points="422.8,81.9 424.5,84.4 418.5,82.2 416.9,79.7" fill="#ffb400" stroke="#ffb400" stroke-width="0.4"/>
<polygon points="419.6,76.8 424.5,84.4 418.5,82.2 413.6,74.6" fill="none" stroke="#000"/>
<polygon points="577.4,182.9 584.2,184.6 577.2,181.7 570.4,180" fill="#0000ff" stroke="#000"/>
<polygon points="408.7,66.8 410.4,69.4 404.5,67.3 402.8,64.7" fill="#ff4300" stroke="#ff4300" stroke-width="0.4"/>
<polygon points="410.4,69.4 412,72 406.1,69.9 404.5,67.3" fill="#ff5700" stroke="#ff5700" stroke-width="0.4"/>
<polygon points="412,72 413.6,74.6 407.7,72.4 406.1,69.9" fill="#ff6b00" stroke="#ff6b00" stroke-width="0.4"/>
<polygon points="408.7,66.8 413.6,74.6 407.7,72.4 402.8,64.7" fill="none" stroke="#000"/>
<polygon points="518.2,153.1 520.2,154.9 513.6,152.1 511.6,150.4" fill="#00dccd" stroke="#00dccd" stroke-width="0.4"/>
<polygon points="520.2,154.9 522.2,156.5 515.6,153.7 513.6,152.1" fill="#00cbd8" stroke="#00cbd8" stroke-width="0.4"/>
<polygon points="522.2,156.5 524.1,158.1 517.5,155.3 515.6,153.7" fill="#00acd4" stroke="#00acd4" stroke-width="0.4"/>
<polygon points="518.2,153.1 524.1,158.1 517.5,155.3 511.6,150.4" fill="none" stroke="#000"/>
<polygon points="627.1,197.2 634.2,196 626.9,193 619.7,194.2" fill="#0000ff" stroke="#000"/>
<polygon points="505.9,145 507.8,146.8 501.3,144.1 499.3,142.3" fill="#00eb9b" stroke="#00eb9b" stroke-width="0.4"/>
<polygon points="507.8,146.8 509.7,148.6 503.2,145.9 501.3,144.1" fill="#00e6ac" stroke="#00e6ac" stroke-width="0.4"/>
<polygon points="509.7,148.6 511.6,150.4 505.1,147.6 503.2,145.9" fill="#00e1bc" stroke="#00e1bc" stroke-width="0.4"/>
<polygon points="505.9,145 511.6,150.4 505.1,147.6 499.3,142.3" fill="none" stroke="#000"/>
<polygon points="563.7,177.6 565.9,178.5 559,175.6 556.7,174.7" fill="#0000ff" stroke="#0000ff" stroke-width="0.4"/>
<polygon points="565.9,178.5 568.2,179.3 561.2,176.3 559,175.6" fill="#0000ff" stroke="#0000ff" stroke-width="0.4"/>
<polygon points="568.2,179.3 570.4,180 563.5,177 561.2,176.3" fill="#0000ff" stroke="#0000ff" stroke-width="0.4"/>
<polygon points="563.7,177.6 570.4,180 563.5,177 556.7,174.7" fill="none" stroke="#000"/>
<polygon points="612.7,194.4 619.7,194.2 612.5,191.1 605.4,191.3" fill="#0000ff" stroke="#000"/>
<polygon points="493.7,136.5 495.6,138.5 489.1,135.8 487.2,133.9" fill="#00fb60" stroke="#00fb60" stroke-width="0.4"/>
<polygon points="495.6,138.5 497.5,140.4 491,137.7 489.1,135.8" fill="#00f575" stroke="#00f575" stroke-width="0.4"/>
<polygon points="497.5,140.4 499.3,142.3 492.9,139.6 491,137.7" fill="#00f088" stroke="#00f088" stroke-width="0.4"/>
<polygon points="493.7,136.5 499.3,142.3 492.9,139.6 487.2,133.9" fill="none" stroke="#000"/>
<polygon points="550.4,171.2 552.5,172.6 545.7,169.6 543.5,168.3" fill="#0030d4" stroke="#0030d4" stroke-width="0.4"/>
<polygon points="552.5,172.6 554.6,173.7 547.8,170.8 545.7,169.6" fill="#0017d4" stroke="#0017d4" stroke-width="0.4"/>
<polygon points="554.6,173.7 556.7,174.7 549.9,171.8 547.8,170.8" fill="#0001d4" stroke="#0001d4" stroke-width="0.4"/>
<polygon points="550.4,171.2 556.7,174.7 549.9,171.8 543.5,168.3" fill="none" stroke="#000"/>
<polygon points="481.7,127.7 483.6,129.9 477.2,127.3 475.3,125.1" fill="#00ff21" stroke="#00ff21" stroke-width="0.4"/>
<polygon points="483.6,129.9 485.4,131.9 479,129.3 477.2,127.3" fill="#00ff35" stroke="#00ff35" stroke-width="0.4"/>
<polygon points="485.4,131.9 487.2,133.9 480.8,131.3 479,129.3" fill="#00ff4a" stroke="#00ff4a" stroke-width="0.4"/>
<polygon points="481.7,127.7 487.2,133.9 480.8,131.3 475.3,125.1" fill="none" stroke="#000"/>
<polygon points="598.4,190.7 605.4,191.3 598.3,188.3 591.3,187.6" fill="#0000ff" stroke="#000"/>
<polygon points="470.1,118.5 471.9,120.8 465.5,118.3 463.8,115.9" fill="#1dff00" stroke="#1dff00" stroke-width="0.4"/>
<polygon points="471.9,120.8 473.6,123.1 467.3,120.5 465.5,118.3" fill="#08ff00" stroke="#08ff00" stroke-width="0.4"/>
<polygon points="473.6,123.1 475.3,125.1 469,122.6 467.3,120.5" fill="#00ff0c" stroke="#00ff0c" stroke-width="0.4"/>
<polygon points="470.1,118.5 475.3,125.1 469,122.6 463.8,115.9" fill="none" stroke="#000"/>
<polygon points="458.9,108.8 460.5,111.2 454.3,108.8 452.6,106.3" fill="#80ff00" stroke="#80ff00" stroke-width="0.4"/>
<polygon points="460.5,111.2 462.2,113.6 455.9,111.1 454.3,108.8" fill="#5cff00" stroke="#5cff00" stroke-width="0.4"/>
<polygon points="462.2,113.6 463.8,115.9 457.5,113.4 455.9,111.1" fill="#39ff00" stroke="#39ff00" stroke-width="0.4"/>
<polygon points="458.9,108.8 463.8,115.9 457.5,113.4 452.6,106.3" fill="none" stroke="#000"/>
<polygon points="537.6,163.8 539.6,165.3 532.8,162.5 530.8,160.9" fill="#0090d4" stroke="#0090d4" stroke-width="0.4"/>
<polygon points="539.6,165.3 541.6,166.9 534.8,164 532.8,162.5" fill="#0070d4" stroke="#0070d4" stroke-width="0.4"/>
<polygon points="541.6,166.9 543.5,168.3 536.8,165.4 534.8,164" fill="#0050d4" stroke="#0050d4" stroke-width="0.4"/>
<polygon points="537.6,163.8 543.5,168.3 536.8,165.4 530.8,160.9" fill="none" stroke="#000"/>
<polygon points="447.7,98.9 449.3,101.4 443.2,99 441.5,96.5" fill="#dcff00" stroke="#dcff00" stroke-width="0.4"/>
<polygon points="449.3,101.4 451,103.9 444.8,101.5 443.2,99" fill="#c2ff00" stroke="#c2ff00" stroke-width="0.4"/>
<polygon points="451,103.9 452.6,106.3 446.4,103.9 444.8,101.5" fill="#a4ff00" stroke="#a4ff00" stroke-width="0.4"/>
<polygon points="447.7,98.9 452.6,106.3 446.4,103.9 441.5,96.5" fill="none" stroke="#000"/>
<polygon points="436.6,89 438.2,91.6 432.1,89.3 430.5,86.7" fill="#ffd100" stroke="#ffd100" stroke-width="0.4"/>
<polygon points="438.2,91.6 439.9,94.1 433.8,91.7 432.1,89.3" fill="#ffed00" stroke="#ffed00" stroke-width="0.4"/>
<polygon points="439.9,94.1 441.5,96.5 435.4,94.2 433.8,91.7" fill="#f6ff00" stroke="#f6ff00" stroke-width="0.4"/>
<polygon points="436.6,89 441.5,96.5 435.4,94.2 430.5,86.7" fill="none" stroke="#000"/>
<polygon points="425.6,79.1 427.2,81.7 421.2,79.4 419.6,76.8" fill="#ff8300" stroke="#ff8300" stroke-width="0.4"/>
<polygon points="427.2,81.7 428.9,84.2 422.8,81.9 421.2,79.4" fill="#ff9b00" stroke="#ff9b00" stroke-width="0.4"/>
<polygon points="428.9,84.2 430.5,86.7 424.5,84.4 422.8,81.9" fill="#ffb400" stroke="#ffb400" stroke-width="0.4"/>
<polygon points="425.6,79.1 430.5,86.7 424.5,84.4 419.6,76.8" fill="none" stroke="#000"/>
<polygon points="584.5,186 591.3,187.6 584.2,184.6 577.4,182.9" fill="#0000ff" stroke="#000"/>
<polygon points="414.7,69 416.3,71.6 410.4,69.4 408.7,66.8" fill="#ff4300" stroke="#ff4300" stroke-width="0.4"/>
<polygon points="416.3,71.6 418,74.2 412,72 410.4,69.4" fill="#ff5700" stroke="#ff5700" stroke-width="0.4"/>
<polygon points="418,74.2 419.6,76.8 413.6,74.6 412,72" fill="#ff6b00" stroke="#ff6b00" stroke-width="0.4"/>
<polygon points="414.7,69 419.6,76.8 413.6,74.6 408.7,66.8" fill="none" stroke="#000"/>
<polygon points="524.9,155.9 526.9,157.7 520.2,154.9 518.2,153.1" fill="#00dcce" stroke="#00dcce" stroke-width="0.4"/>
<polygon points="526.9,157.7 528.9,159.3 522.2,156.5 520.2,154.9" fill="#00cad7" stroke="#00cad7" stroke-width="0.4"/>
<polygon points="528.9,159.3 530.8,160.9 524.1,158.1 522.2,156.5" fill="#00abd4" stroke="#00abd4" stroke-width="0.4"/>
<polygon points="524.9,155.9 530.8,160.9 524.1,158.1 518.2,153.1" fill="none" stroke="#000"/>
<polygon points="512.5,147.7 514.4,149.6 507.8,146.8 505.9,145" fill="#00eb9b" stroke="#00eb9b" stroke-width="0.4"/>
<polygon points="514.4,149.6 516.3,151.4 509.7,148.6 507.8,146.8" fill="#00e6ad" stroke="#00e6ad" stroke-width="0.4"/>
<polygon points="516.3,151.4 518.2,153.1 511.6,150.4 509.7,148.6" fill="#00e1bd" stroke="#00e1bd" stroke-width="0.4"/>
<polygon points="512.5,147.7 518.2,153.1 511.6,150.4 505.9,145" fill="none" stroke="#000"/>
<polygon points="570.7,180.6 572.9,181.5 565.9,178.5 563.7,177.6" fill="#0000ff" stroke="#0000ff" stroke-width="0.4"/>
<polygon points="572.9,181.5 575.2,182.3 568.2,179.3 565.9,178.5" fill="#0000ff" stroke="#0000ff" stroke-width="0.4"/>
<polygon points="575.2,182.3 577.4,182.9 570.4,180 568.2,179.3" fill="#0000ff" stroke="#0000ff" stroke-width="0.4"/>
<polygon points="570.7,180.6 577.4,182.9 570.4,180 563.7,177.6" fill="none" stroke="#000"/>
<polygon points="620,197.5 627.1,197.2 619.7,194.2 612.7,194.4" fill="#0000ff" stroke="#000"/>
<polygon points="500.3,139.2 502.1,141.2 495.6,138.5 493.7,136.5" fill="#00fb61" stroke="#00fb61" stroke-width="0.4"/>
<polygon points="502.1,141.2 504,143.1 497.5,140.4 495.6,138.5" fill="#00f575" stroke="#00f575" stroke-width="0.4"/>
<polygon points="504,143.1 505.9,145 499.3,142.3 497.5,140.4" fill="#00f089" stroke="#00f089" stroke-width="0.4"/>
<polygon points="500.3,139.2 505.9,145 499.3,142.3 493.7,136.5" fill="none" stroke="#000"/>
<polygon points="557.3,174.1 559.5,175.5 552.5,172.6 550.4,171.2" fill="#002fd4" stroke="#002fd4" stroke-width="0.4"/>
<polygon points="559.5,175.5 561.6,176.7 554.6,173.7 552.5,172.6" fill="#0017d4" stroke="#0017d4" stroke-width="0.4"/>
<polygon points="561.6,176.7 563.7,177.6 556.7,174.7 554.6,173.7" fill="#0000d4" stroke="#0000d4" stroke-width="0.4"/>
<polygon points="557.3,174.1 563.7,177.6 556.7,174.7 550.4,171.2" fill="none" stroke="#000"/>
<polygon points="488.2,130.4 490.1,132.5 483.6,129.9 481.7,127.7" fill="#00ff21" stroke="#00ff21" stroke-width="0.4"/>
<polygon points="490.1,132.5 491.9,134.6 485.4,131.9 483.6,129.9" fill="#00ff35" stroke="#00ff35" stroke-width="0.4"/>
<polygon points="491.9,134.6 493.7,136.5 487.2,133.9 485.4,131.9" fill="#00ff4b" stroke="#00ff4b" stroke-width="0.4"/>
<polygon points="488.2,130.4 493.7,136.5 487.2,133.9 481.7,127.7" fill="none" stroke="#000"/>
<polygon points="605.7,193.7 612.7,194.4 605.4,191.3 598.4,190.7" fill="#0000ff" stroke="#000"/>
<polygon points="476.5,121 478.3,123.4 471.9,120.8 470.1,118.5" fill="#1dff00" stroke="#1dff00" stroke-width="0.4"/>
<polygon points="478.3,123.4 480,125.6 473.6,123.1 471.9,120.8" fill="#08ff00" stroke="#08ff00" stroke-width="0.4"/>
<polygon points="480,125.6 481.7,127.7 475.3,125.1 473.6,123.1" fill="#00ff0c" stroke="#00ff0c" stroke-width="0.4"/>
<polygon points="476.5,121 481.7,127.7 475.3,125.1 470.1,118.5" fill="none" stroke="#000"/>
<polygon points="465.2,111.2 466.8,113.7 460.5,111.2 458.9,108.8" fill="#7fff00" stroke="#7fff00" stroke-width="0.4"/>
<polygon points="466.8,113.7 468.5,116.1 462.2,113.6 460.5,111.2" fill="#5bff00" stroke="#5bff00" stroke-width="0.4"/>
<polygon points="468.5,116.1 470.1,118.5 463.8,115.9 462.2,113.6" fill="#38ff00" stroke="#38ff00" stroke-width="0.4"/>
<polygon points="465.2,111.2 470.1,118.5 463.8,115.9 458.9,108.8" fill="none" stroke="#000"/>
<polygon points="544.4,166.7 546.4,168.2 539.6,165.3 537.6,163.8" fill="#008fd4" stroke="#008fd4" stroke-width="0.4"/>
<polygon points="546.4,168.2 548.4,169.8 541.6,166.9 539.6,165.3" fill="#006fd4" stroke="#006fd4" stroke-width="0.4"/>
<polygon points="548.4,169.8 550.4,171.2 543.5,168.3 541.6,166.9" fill="#004fd4" stroke="#004fd4" stroke-width="0.4"/>
<polygon points="544.4,166.7 550.4,171.2 543.5,168.3 537.6,163.8" fill="none" stroke="#000"/>
<polygon points="454,101.4 455.6,103.8 449.3,101.4 447.7,98.9" fill="#dcff00" stroke="#dcff00" stroke-width="0.4"/>
<polygon points="455.6,103.8 457.2,106.3 451,103.9 449.3,101.4" fill="#c2ff00" stroke="#c2ff00" stroke-width="0.4"/>
<polygon points="457.2,106.3 458.9,108.8 452.6,106.3 451,103.9" fill="#a3ff00" stroke="#a3ff00" stroke-width="0.4"/>
<polygon points="454,101.4 458.9,108.8 452.6,106.3 447.7,98.9" fill="none" stroke="#000"/>
<polygon points="442.8,91.4 444.4,93.9 438.2,91.6 436.6,89" fill="#ffd100" stroke="#ffd100" stroke-width="0.4"/>
<polygon points="444.4,93.9 446.1,96.5 439.9,94.1 438.2,91.6" fill="#ffee00" stroke="#ffee00" stroke-width="0.4"/>
<polygon points="446.1,96.5 447.7,98.9 441.5,96.5 439.9,94.1" fill="#f6ff00" stroke="#f6ff00" stroke-width="0.4"/>
<polygon points="442.8,91.4 447.7,98.9 441.5,96.5 436.6,89" fill="none" stroke="#000"/>
<polygon points="431.7,81.3 433.4,83.9 427.2,81.7 425.6,79.1" fill="#ff8300" stroke="#ff8300" stroke-width="0.4"/>
<polygon points="433.4,83.9 435,86.5 428.9,84.2 427.2,81.7" fill="#ff9b00" stroke="#ff9b00" stroke-width="0.4"/>
<polygon points="435,86.5 436.6,89 430.5,86.7 428.9,84.2" fill="#ffb500" stroke="#ffb500" stroke-width="0.4"/>
<polygon points="431.7,81.3 436.6,89 430.5,86.7 425.6,79.1" fill="none" stroke="#000"/>
<polygon points="591.7,189 598.4,190.7 591.3,187.6 584.5,186" fill="#0000ff" stroke="#000"/>
<polygon points="420.8,71.2 422.4,73.8 416.3,71.6 414.7,69" fill="#ff4300" stroke="#ff4300" stroke-width="0.4"/>
<polygon points="422.4,73.8 424,76.5 418,74.2 416.3,71.6" fill="#ff5700" stroke="#ff5700" stroke-width="0.4"/>
<polygon points="424,76.5 425.6,79.1 419.6,76.8 418,74.2" fill="#ff6b00" stroke="#ff6b00" stroke-width="0.4"/>
<polygon points="420.8,71.2 425.6,79.1 419.6,76.8 414.7,69" fill="none" stroke="#000"/>
<polygon points="531.7,158.8 533.7,160.5 526.9,157.7 524.9,155.9" fill="#00dcce" stroke="#00dcce" stroke-width="0.4"/>
<polygon points="533.7,160.5 535.6,162.2 528.9,159.3 526.9,157.7" fill="#00c9d7" stroke="#00c9d7" stroke-width="0.4"/>
<polygon points="535.6,162.2 537.6,163.8 530.8,160.9 528.9,159.3" fill="#00abd4" stroke="#00abd4" stroke-width="0.4"/>
<polygon points="531.7,158.8 537.6,163.8 530.8,160.9 524.9,155.9" fill="none" stroke="#000"/>
<polygon points="519.2,150.5 521.2,152.4 514.4,149.6 512.5,147.7" fill="#00eb9c" stroke="#00eb9c" stroke-width="0.4"/>
<polygon points="521.2,152.4 523.1,154.2 516.3,151.4 514.4,149.6" fill="#00e6ad" stroke="#00e6ad" stroke-width="0.4"/>
<polygon points="523.1,154.2 524.9,155.9 518.2,153.1 516.3,151.4" fill="#00e1bd" stroke="#00e1bd" stroke-width="0.4"/>
<polygon points="519.2,150.5 524.9,155.9 518.2,153.1 512.5,147.7" fill="none" stroke="#000"/>
<polygon points="577.8,183.6 580,184.5 572.9,181.5 570.7,180.6" fill="#0000ff" stroke="#0000ff" stroke-width="0.4"/>
<polygon points="580,184.5 582.3,185.3 575.2,182.3 572.9,181.5" fill="#0000ff" stroke="#0000ff" stroke-width="0.4"/>
<polygon points="582.3,185.3 584.5,186 577.4,182.9 575.2,182.3" fill="#0000ff" stroke="#0000ff" stroke-width="0.4"/>
<polygon points="577.8,183.6 584.5,186 577.4,182.9 570.7,180.6" fill="none" stroke="#000"/>
<polygon points="506.9,141.9 508.8,143.9 502.1,141.2 500.3,139.2" fill="#00fa61" stroke="#00fa61" stroke-width="0.4"/>
<polygon points="508.8,143.9 510.7,145.9 504,143.1 502.1,141.2" fill="#00f576" stroke="#00f576" stroke-width="0.4"/>
<polygon points="510.7,145.9 512.5,147.7 505.9,145 504,143.1" fill="#00f089" stroke="#00f089" stroke-width="0.4"/>
<polygon points="506.9,141.9 512.5,147.7 505.9,145 500.3,139.2" fill="none" stroke="#000"/>
<polygon points="564.4,177.1 566.5,178.5 559.5,175.5 557.3,174.1" fill="#002ed4" stroke="#002ed4" stroke-width="0.4"/>
<polygon points="566.5,178.5 568.6,179.7 561.6,176.7 559.5,175.5" fill="#0016d4" stroke="#0016d4" stroke-width="0.4"/>
<polygon points="568.6,179.7 570.7,180.6 563.7,177.6 561.6,176.7" fill="#0000ff" stroke="#0000ff" stroke-width="0.4"/>
<polygon points="564.4,177.1 570.7,180.6 563.7,177.6 557.3,174.1" fill="none" stroke="#000"/>
<polygon points="494.8,133 496.6,135.2 490.1,132.5 488.2,130.4" fill="#00ff21" stroke="#00ff21" stroke-width="0.4"/>
<polygon points="496.6,135.2 498.4,137.3 491.9,134.6 490.1,132.5" fill="#00ff36" stroke="#00ff36" stroke-width="0.4"/>
<polygon points="498.4,137.3 500.3,139.2 493.7,136.5 491.9,134.6" fill="#00ff4b" stroke="#00ff4b" stroke-width="0.4"/>
<polygon points="494.8,133 500.3,139.2 493.7,136.5 488.2,130.4" fill="none" stroke="#000"/>
<polygon points="613.1,196.9 620,197.5 612.7,194.4 605.7,193.7" fill="#0000ff" stroke="#000"/>
<polygon points="483,123.6 484.8,126 478.3,123.4 476.5,121" fill="#1dff00" stroke="#1dff00" stroke-width="0.4"/>
<polygon points="484.8,126 486.5,128.3 480,125.6 478.3,123.4" fill="#08ff00" stroke="#08ff00" stroke-width="0.4"/>
<polygon points="486.5,128.3 488.2,130.4 481.7,127.7 480,125.6" fill="#00ff0d" stroke="#00ff0d" stroke-width="0.4"/>
<polygon points="483,123.6 488.2,130.4 481.7,127.7 476.5,121" fill="none" stroke="#000"/>
<polygon points="471.6,113.8 473.3,116.3 466.8,113.7 465.2,111.2" fill="#7fff00" stroke="#7fff00" stroke-width="0.4"/>
<polygon points="473.3,116.3 474.9,118.7 468.5,116.1 466.8,113.7" fill="#5bff00" stroke="#5bff00" stroke-width="0.4"/>
<polygon points="474.9,118.7 476.5,121 470.1,118.5 468.5,116.1" fill="#38ff00" stroke="#38ff00" stroke-width="0.4"/>
<polygon points="471.6,113.8 476.5,121 470.1,118.5 465.2,111.2" fill="none" stroke="#000"/>
<polygon points="551.4,169.6 553.4,171.2 546.4,168.2 544.4,166.7" fill="#008fd4" stroke="#008fd4" stroke-width="0.4"/>
<polygon points="553.4,171.2 555.4,172.7 548.4,169.8 546.4,168.2" fill="#006ed4" stroke="#006ed4" stroke-width="0.4"/>
<polygon points="555.4,172.7 557.3,174.1 550.4,171.2 548.4,169.8" fill="#004dd4" stroke="#004dd4" stroke-width="0.4"/>
<polygon points="551.4,169.6 557.3,174.1 550.4,171.2 544.4,166.7" fill="none" stroke="#000"/>
<polygon points="460.3,103.8 462,106.3 455.6,103.8 454,101.4" fill="#dbff00" stroke="#dbff00" stroke-width="0.4"/>
<polygon points="462,106.3 463.6,108.8 457.2,106.3 455.6,103.8" fill="#c1ff00" stroke="#c1ff00" stroke-width="0.4"/>
<polygon points="463.6,108.8 465.2,111.2 458.9,108.8 457.2,106.3" fill="#a3ff00" stroke="#a3ff00" stroke-width="0.4"/>
<polygon points="460.3,103.8 465.2,111.2 458.9,108.8 454,101.4" fill="none" stroke="#000"/>
<polygon points="449.1,93.8 450.7,96.3 444.4,93.9 442.8,91.4" fill="#ffd100" stroke="#ffd100" stroke-width="0.4"/>
<polygon points="450.7,96.3 452.3,98.9 446.1,96.5 444.4,93.9" fill="#ffee00" stroke="#ffee00" stroke-width="0.4"/>
<polygon points="452.3,98.9 454,101.4 447.7,98.9 446.1,96.5" fill="#f6ff00" stroke="#f6ff00" stroke-width="0.4"/>
<polygon points="449.1,93.8 454,101.4 447.7,98.9 442.8,91.4" fill="none" stroke="#000"/>
<polygon points="437.9,83.6 439.6,86.3 433.4,83.9 431.7,81.3" fill="#ff8300" stroke="#ff8300" stroke-width="0.4"/>
<polygon points="439.6,86.3 441.2,88.8 435,86.5 433.4,83.9" fill="#ff9b00" stroke="#ff9b00" stroke-width="0.4"/>
<polygon points="441.2,88.8 442.8,91.4 436.6,89 435,86.5" fill="#ffb500" stroke="#ffb500" stroke-width="0.4"/>
<polygon points="437.9,83.6 442.8,91.4 436.6,89 431.7,81.3" fill="none" stroke="#000"/>
<polygon points="598.9,192.1 605.7,193.7 598.4,190.7 591.7,189" fill="#0000ff" stroke="#000"/>
<polygon points="426.9,73.4 428.5,76.1 422.4,73.8 420.8,71.2" fill="#ff4300" stroke="#ff4300" stroke-width="0.4"/>
<polygon points="428.5,76.1 430.1,78.7 424,76.5 422.4,73.8" fill="#ff5700" stroke="#ff5700" stroke-width="0.4"/>
<polygon points="430.1,78.7 431.7,81.3 425.6,79.1 424,76.5" fill="#ff6c00" stroke="#ff6c00" stroke-width="0.4"/>
<polygon points="426.9,73.4 431.7,81.3 425.6,79.1 420.8,71.2" fill="none" stroke="#000"/>
<polygon points="538.6,161.7 540.6,163.4 533.7,160.5 531.7,158.8" fill="#00dccf" stroke="#00dccf" stroke-width="0.4"/>
<polygon points="540.6,163.4 542.5,165.1 535.6,162.2 533.7,160.5" fill="#00c8d7" stroke="#00c8d7" stroke-width="0.4"/>
<polygon points="542.5,165.1 544.4,166.7 537.6,163.8 535.6,162.2" fill="#00aad4" stroke="#00aad4" stroke-width="0.4"/>
<polygon points="538.6,161.7 544.4,166.7 537.6,163.8 531.7,158.8" fill="none" stroke="#000"/>
<polygon points="526.1,153.3 528,155.2 521.2,152.4 519.2,150.5" fill="#00eb9c" stroke="#00eb9c" stroke-width="0.4"/>
<polygon points="528,155.2 529.9,157 523.1,154.2 521.2,152.4" fill="#00e6ae" stroke="#00e6ae" stroke-width="0.4"/>
<polygon points="529.9,157 531.7,158.8 524.9,155.9 523.1,154.2" fill="#00e1be" stroke="#00e1be" stroke-width="0.4"/>
<polygon points="526.1,153.3 531.7,158.8 524.9,155.9 519.2,150.5" fill="none" stroke="#000"/>
<polygon points="585,186.7 587.2,187.6 580,184.5 577.8,183.6" fill="#0000ff" stroke="#0000ff" stroke-width="0.4"/>
<polygon points="587.2,187.6 589.5,188.3 582.3,185.3 580,184.5" fill="#0000ff" stroke="#0000ff" stroke-width="0.4"/>
<polygon points="589.5,188.3 591.7,189 584.5,186 582.3,185.3" fill="#0000ff" stroke="#0000ff" stroke-width="0.4"/>
<polygon points="585,186.7 591.7,189 584.5,186 577.8,183.6" fill="none" stroke="#000"/>
<polygon points="513.6,144.7 515.5,146.7 508.8,143.9 506.9,141.9" fill="#00fa62" stroke="#00fa62" stroke-width="0.4"/>
<polygon points="515.5,146.7 517.4,148.6 510.7,145.9 508.8,143.9" fill="#00f576" stroke="#00f576" stroke-width="0.4"/>
<polygon points="517.4,148.6 519.2,150.5 512.5,147.7 510.7,145.9" fill="#00f089" stroke="#00f089" stroke-width="0.4"/>
<polygon points="513.6,144.7 519.2,150.5 512.5,147.7 506.9,141.9" fill="none" stroke="#000"/>
<polygon points="571.5,180.1 573.6,181.5 566.5,178.5 564.4,177.1" fill="#002dd4" stroke="#002dd4" stroke-width="0.4"/>
<polygon points="573.6,181.5 575.7,182.7 568.6,179.7 566.5,178.5" fill="#0015d4" stroke="#0015d4" stroke-width="0.4"/>
<polygon points="575.7,182.7 577.8,183.6 570.7,180.6 568.6,179.7" fill="#0000ff" stroke="#0000ff" stroke-width="0.4"/>
<polygon points="571.5,180.1 577.8,183.6 570.7,180.6 564.4,177.1" fill="none" stroke="#000"/>
<polygon points="501.4,135.7 503.3,137.9 496.6,135.2 494.8,133" fill="#00ff22" stroke="#00ff22" stroke-width="0.4"/>
<polygon points="503.3,137.9 505.1,140 498.4,137.3 496.6,135.2" fill="#00ff36" stroke="#00ff36" stroke-width="0.4"/>
<polygon points="505.1,140 506.9,141.9 500.3,139.2 498.4,137.3" fill="#00ff4c" stroke="#00ff4c" stroke-width="0.4"/>
<polygon points="501.4,135.7 506.9,141.9 500.3,139.2 494.8,133" fill="none" stroke="#000"/>
<polygon points="489.6,126.2 491.4,128.7 484.8,126 483,123.6" fill="#1dff00" stroke="#1dff00" stroke-width="0.4"/>
<polygon points="491.4,128.7 493.1,130.9 486.5,128.3 484.8,126" fill="#07ff00" stroke="#07ff00" stroke-width="0.4"/>
<polygon points="493.1,130.9 494.8,133 488.2,130.4 486.5,128.3" fill="#00ff0d" stroke="#00ff0d" stroke-width="0.4"/>
<polygon points="489.6,126.2 494.8,133 488.2,130.4 483,123.6" fill="none" stroke="#000"/>
<polygon points="478.1,116.3 479.8,118.8 473.3,116.3 471.6,113.8" fill="#7eff00" stroke="#7eff00" stroke-width="0.4"/>
<polygon points="479.8,118.8 481.4,121.3 474.9,118.7 473.3,116.3" fill="#5bff00" stroke="#5bff00" stroke-width="0.4"/>
<polygon points="481.4,121.3 483,123.6 476.5,121 474.9,118.7" fill="#37ff00" stroke="#37ff00" stroke-width="0.4"/>
<polygon points="478.1,116.3 483,123.6 476.5,121 471.6,113.8" fill="none" stroke="#000"/>
<polygon points="558.5,172.6 560.4,174.2 553.4,171.2 551.4,169.6" fill="#008ed4" stroke="#008ed4" stroke-width="0.4"/>
<polygon points="560.4,174.2 562.4,175.7 555.4,172.7 553.4,171.2" fill="#006dd4" stroke="#006dd4" stroke-width="0.4"/>
<polygon points="562.4,175.7 564.4,177.1 557.3,174.1 555.4,172.7" fill="#004cd4" stroke="#004cd4" stroke-width="0.4"/>
<polygon points="558.5,172.6 564.4,177.1 557.3,174.1 551.4,169.6" fill="none" stroke="#000"/>
<polygon points="466.8,106.3 468.4,108.8 462,106.3 460.3,103.8" fill="#dbff00" stroke="#dbff00" stroke-width="0.4"/>
<polygon points="468.4,108.8 470,111.3 463.6,108.8 462,106.3" fill="#c1ff00" stroke="#c1ff00" stroke-width="0.4"/>
<polygon points="470,111.3 471.6,113.8 465.2,111.2 463.6,108.8" fill="#a3ff00" stroke="#a3ff00" stroke-width="0.4"/>
<polygon points="466.8,106.3 471.6,113.8 465.2,111.2 460.3,103.8" fill="none" stroke="#000"/>
<polygon points="455.5,96.2 457.1,98.8 450.7,96.3 449.1,93.8" fill="#ffd100" stroke="#ffd100" stroke-width="0.4"/>
<polygon points="457.1,98.8 458.7,101.3 452.3,98.9 450.7,96.3" fill="#ffee00" stroke="#ffee00" stroke-width="0.4"/>
<polygon points="458.7,101.3 460.3,103.8 454,101.4 452.3,98.9" fill="#f5ff00" stroke="#f5ff00" stroke-width="0.4"/>
<polygon points="455.5,96.2 460.3,103.8 454,101.4 449.1,93.8" fill="none" stroke="#000"/>
<polygon points="444.2,86 445.9,88.6 439.6,86.3 437.9,83.6" fill="#ff8300" stroke="#ff8300" stroke-width="0.4"/>
<polygon points="445.9,88.6 447.5,91.2 441.2,88.8 439.6,86.3" fill="#ff9b00" stroke="#ff9b00" stroke-width="0.4"/>
<polygon points="447.5,91.2 449.1,93.8 442.8,91.4 441.2,88.8" fill="#ffb500" stroke="#ffb500" stroke-width="0.4"/>
<polygon points="444.2,86 449.1,93.8 442.8,91.4 437.9,83.6" fill="none" stroke="#000"/>
<polygon points="606.3,195.3 613.1,196.9 605.7,193.7 598.9,192.1" fill="#0000ff" stroke="#000"/>
<polygon points="433.1,75.7 434.7,78.4 428.5,76.1 426.9,73.4" fill="#ff4300" stroke="#ff4300" stroke-width="0.4"/>
<polygon points="434.7,78.4 436.3,81 430.1,78.7 428.5,76.1" fill="#ff5800" stroke="#ff5800" stroke-width="0.4"/>
<polygon points="436.3,81 437.9,83.6 431.7,81.3 430.1,78.7" fill="#ff6c00" stroke="#ff6c00" stroke-width="0.4"/>
<polygon points="433.1,75.7 437.9,83.6 431.7,81.3 426.9,73.4" fill="none" stroke="#000"/>
<polygon points="545.6,164.6 547.5,166.3 540.6,163.4 538.6,161.7" fill="#00dcd0" stroke="#00dcd0" stroke-width="0.4"/>
<polygon points="547.5,166.3 549.5,168 542.5,165.1 540.6,163.4" fill="#00c7d7" stroke="#00c7d7" stroke-width="0.4"/>
<polygon points="549.5,168 551.4,169.6 544.4,166.7 542.5,165.1" fill="#00a9d4" stroke="#00a9d4" stroke-width="0.4"/>
<polygon points="545.6,164.6 551.4,169.6 544.4,166.7 538.6,161.7" fill="none" stroke="#000"/>
<polygon points="533,156.2 534.9,158.1 528,155.2 526.1,153.3" fill="#00eb9d" stroke="#00eb9d" stroke-width="0.4"/>
<polygon points="534.9,158.1 536.7,159.9 529.9,157 528,155.2" fill="#00e6ae" stroke="#00e6ae" stroke-width="0.4"/>
<polygon points="536.7,159.9 538.6,161.7 531.7,158.8 529.9,157" fill="#00e1be" stroke="#00e1be" stroke-width="0.4"/>
<polygon points="533,156.2 538.6,161.7 531.7,158.8 526.1,153.3" fill="none" stroke="#000"/>
<polygon points="592.3,189.8 594.5,190.7 587.2,187.6 585,186.7" fill="#0000ff" stroke="#0000ff" stroke-width="0.4"/>
<polygon points="594.5,190.7 596.7,191.4 589.5,188.3 587.2,187.6" fill="#0000ff" stroke="#0000ff" stroke-width="0.4"/>
<polygon points="596.7,191.4 598.9,192.1 591.7,189 589.5,188.3" fill="#0000ff" stroke="#0000ff" stroke-width="0.4"/>
<polygon points="592.3,189.8 598.9,192.1 591.7,189 585,186.7" fill="none" stroke="#000"/>
<polygon points="520.5,147.5 522.3,149.5 515.5,146.7 513.6,144.7" fill="#00fa62" stroke="#00fa62" stroke-width="0.4"/>
<polygon points="522.3,149.5 524.2,151.5 517.4,148.6 515.5,146.7" fill="#00f577" stroke="#00f577" stroke-width="0.4"/>
<polygon points="524.2,151.5 526.1,153.3 519.2,150.5 517.4,148.6" fill="#00f08a" stroke="#00f08a" stroke-width="0.4"/>
<polygon points="520.5,147.5 526.1,153.3 519.2,150.5 513.6,144.7" fill="none" stroke="#000"/>
<polygon points="578.7,183.2 580.8,184.6 573.6,181.5 571.5,180.1" fill="#002dd4" stroke="#002dd4" stroke-width="0.4"/>
<polygon points="580.8,184.6 582.9,185.8 575.7,182.7 573.6,181.5" fill="#0014d4" stroke="#0014d4" stroke-width="0.4"/>
<polygon points="582.9,185.8 585,186.7 577.8,183.6 575.7,182.7" fill="#0000ff" stroke="#0000ff" stroke-width="0.4"/>
<polygon points="578.7,183.2 585,186.7 577.8,183.6 571.5,180.1" fill="none" stroke="#000"/>
<polygon points="508.2,138.5 510,140.7 503.3,137.9 501.4,135.7" fill="#00ff22" stroke="#00ff22" stroke-width="0.4"/>
<polygon points="510,140.7 511.8,142.7 505.1,140 503.3,137.9" fill="#00ff36" stroke="#00ff36" stroke-width="0.4"/>
<polygon points="511.8,142.7 513.6,144.7 506.9,141.9 505.1,140" fill="#00ff4c" stroke="#00ff4c" stroke-width="0.4"/>
<polygon points="508.2,138.5 513.6,144.7 506.9,141.9 501.4,135.7" fill="none" stroke="#000"/>
<polygon points="496.3,128.9 498,131.3 491.4,128.7 489.6,126.2" fill="#1cff00" stroke="#1cff00" stroke-width="0.4"/>
<polygon points="498,131.3 499.7,133.6 493.1,130.9 491.4,128.7" fill="#07ff00" stroke="#07ff00" stroke-width="0.4"/>
<polygon points="499.7,133.6 501.4,135.7 494.8,133 493.1,130.9" fill="#00ff0d" stroke="#00ff0d" stroke-width="0.4"/>
<polygon points="496.3,128.9 501.4,135.7 494.8,133 489.6,126.2" fill="none" stroke="#000"/>
<polygon points="484.7,118.9 486.4,121.4 479.8,118.8 478.1,116.3" fill="#7eff00" stroke="#7eff00" stroke-width="0.4"/>
<polygon points="486.4,121.4 488,123.9 481.4,121.3 479.8,118.8" fill="#5aff00" stroke="#5aff00" stroke-width="0.4"/>
<polygon points="488,123.9 489.6,126.2 483,123.6 481.4,121.3" fill="#37ff00" stroke="#37ff00" stroke-width="0.4"/>
<polygon points="484.7,118.9 489.6,126.2 483,123.6 478.1,116.3" fill="none" stroke="#000"/>
<polygon points="565.6,175.6 567.6,177.2 560.4,174.2 558.5,172.6" fill="#008dd4" stroke="#008dd4" stroke-width="0.4"/>
<polygon points="567.6,177.2 569.5,178.7 562.4,175.7 560.4,174.2" fill="#006cd4" stroke="#006cd4" stroke-width="0.4"/>
<polygon points="569.5,178.7 571.5,180.1 564.4,177.1 562.4,175.7" fill="#004bd4" stroke="#004bd4" stroke-width="0.4"/>
<polygon points="565.6,175.6 571.5,180.1 564.4,177.1 558.5,172.6" fill="none" stroke="#000"/>
<polygon points="473.3,108.8 474.9,111.3 468.4,108.8 466.8,106.3" fill="#dbff00" stroke="#dbff00" stroke-width="0.4"/>
<polygon points="474.9,111.3 476.5,113.8 470,111.3 468.4,108.8" fill="#c1ff00" stroke="#c1ff00" stroke-width="0.4"/>
<polygon points="476.5,113.8 478.1,116.3 471.6,113.8 470,111.3" fill="#a2ff00" stroke="#a2ff00" stroke-width="0.4"/>
<polygon points="473.3,108.8 478.1,116.3 471.6,113.8 466.8,106.3" fill="none" stroke="#000"/>
<polygon points="461.9,98.6 463.5,101.2 457.1,98.8 455.5,96.2" fill="#ffd200" stroke="#ffd200" stroke-width="0.4"/>
<polygon points="463.5,101.2 465.2,103.8 458.7,101.3 457.1,98.8" fill="#ffee00" stroke="#ffee00" stroke-width="0.4"/>
<polygon points="465.2,103.8 466.8,106.3 460.3,103.8 458.7,101.3" fill="#f5ff00" stroke="#f5ff00" stroke-width="0.4"/>
<polygon points="461.9,98.6 466.8,106.3 460.3,103.8 455.5,96.2" fill="none" stroke="#000"/>
<polygon points="450.6,88.3 452.2,91 445.9,88.6 444.2,86" fill="#ff8400" stroke="#ff8400" stroke-width="0.4"/>
<polygon points="452.2,91 453.8,93.6 447.5,91.2 445.9,88.6" fill="#ff9b00" stroke="#ff9b00" stroke-width="0.4"/>
<polygon points="453.8,93.6 455.5,96.2 449.1,93.8 447.5,91.2" fill="#ffb500" stroke="#ffb500" stroke-width="0.4"/>
<polygon points="450.6,88.3 455.5,96.2 449.1,93.8 444.2,86" fill="none" stroke="#000"/>
<polygon points="439.4,77.9 441,80.7 434.7,78.4 433.1,75.7" fill="#ff4300" stroke="#ff4300" stroke-width="0.4"/>
<polygon points="441,80.7 442.6,83.3 436.3,81 434.7,78.4" fill="#ff5800" stroke="#ff5800" stroke-width="0.4"/>
<polygon points="442.6,83.3 444.2,86 437.9,83.6 436.3,81" fill="#ff6c00" stroke="#ff6c00" stroke-width="0.4"/>
<polygon points="439.4,77.9 444.2,86 437.9,83.6 433.1,75.7" fill="none" stroke="#000"/>
<polygon points="552.7,167.6 554.6,169.3 547.5,166.3 545.6,164.6" fill="#00dcd0" stroke="#00dcd0" stroke-width="0.4"/>
<polygon points="554.6,169.3 556.5,171 549.5,168 547.5,166.3" fill="#00c6d7" stroke="#00c6d7" stroke-width="0.4"/>
<polygon points="556.5,171 558.5,172.6 551.4,169.6 549.5,168" fill="#00a8d4" stroke="#00a8d4" stroke-width="0.4"/>
<polygon points="552.7,167.6 558.5,172.6 551.4,169.6 545.6,164.6" fill="none" stroke="#000"/>
<polygon points="540,159.1 541.8,161 534.9,158.1 533,156.2" fill="#00eb9d" stroke="#00eb9d" stroke-width="0.4"/>
<polygon points="541.8,161 543.7,162.8 536.7,159.9 534.9,158.1" fill="#00e6ae" stroke="#00e6ae" stroke-width="0.4"/>
<polygon points="543.7,162.8 545.6,164.6 538.6,161.7 536.7,159.9" fill="#00e1be" stroke="#00e1be" stroke-width="0.4"/>
<polygon points="540,159.1 545.6,164.6 538.6,161.7 533,156.2" fill="none" stroke="#000"/>
<polygon points="599.7,193 601.9,193.8 594.5,190.7 592.3,189.8" fill="#0000ff" stroke="#0000ff" stroke-width="0.4"/>
<polygon points="601.9,193.8 604.1,194.6 596.7,191.4 594.5,190.7" fill="#0000ff" stroke="#0000ff" stroke-width="0.4"/>
<polygon points="604.1,194.6 606.3,195.3 598.9,192.1 596.7,191.4" fill="#0000ff" stroke="#0000ff" stroke-width="0.4"/>
<polygon points="599.7,193 606.3,195.3 598.9,192.1 592.3,189.8" fill="none" stroke="#000"/>
<polygon points="527.4,150.4 529.3,152.4 522.3,149.5 520.5,147.5" fill="#00fa62" stroke="#00fa62" stroke-width="0.4"/>
<polygon points="529.3,152.4 531.1,154.3 524.2,151.5 522.3,149.5" fill="#00f577" stroke="#00f577" stroke-width="0.4"/>
<polygon points="531.1,154.3 533,156.2 526.1,153.3 524.2,151.5" fill="#00f08a" stroke="#00f08a" stroke-width="0.4"/>
<polygon points="527.4,150.4 533,156.2 526.1,153.3 520.5,147.5" fill="none" stroke="#000"/>
<polygon points="586.1,186.3 588.1,187.7 580.8,184.6 578.7,183.2" fill="#002cd4" stroke="#002cd4" stroke-width="0.4"/>
<polygon points="588.1,187.7 590.2,188.9 582.9,185.8 580.8,184.6" fill="#0013d4" stroke="#0013d4" stroke-width="0.4"/>
<polygon points="590.2,188.9 592.3,189.8 585,186.7 582.9,185.8" fill="#0000ff" stroke="#0000ff" stroke-width="0.4"/>
<polygon points="586.1,186.3 592.3,189.8 585,186.7 578.7,183.2" fill="none" stroke="#000"/>
<polygon points="515,141.2 516.9,143.4 510,140.7 508.2,138.5" fill="#00ff22" stroke="#00ff22" stroke-width="0.4"/>
<polygon points="516.9,143.4 518.7,145.5 511.8,142.7 510,140.7" fill="#00ff37" stroke="#00ff37" stroke-width="0.4"/>
<polygon points="518.7,145.5 520.5,147.5 513.6,144.7 511.8,142.7" fill="#00ff4c" stroke="#00ff4c" stroke-width="0.4"/>
<polygon points="515,141.2 520.5,147.5 513.6,144.7 508.2,138.5" fill="none" stroke="#000"/>
<polygon points="503.1,131.6 504.8,134 498,131.3 496.3,128.9" fill="#1cff00" stroke="#1cff00" stroke-width="0.4"/>
<polygon points="504.8,134 506.5,136.3 499.7,133.6 498,131.3" fill="#07ff00" stroke="#07ff00" stroke-width="0.4"/>
<polygon points="506.5,136.3 508.2,138.5 501.4,135.7 499.7,133.6" fill="#00ff0e" stroke="#00ff0e" stroke-width="0.4"/>
<polygon points="503.1,131.6 508.2,138.5 501.4,135.7 496.3,128.9" fill="none" stroke="#000"/>
<polygon points="491.4,121.6 493.1,124.1 486.4,121.4 484.7,118.9" fill="#7eff00" stroke="#7eff00" stroke-width="0.4"/>
<polygon points="493.1,124.1 494.7,126.5 488,123.9 486.4,121.4" fill="#5aff00" stroke="#5aff00" stroke-width="0.4"/>
<polygon points="494.7,126.5 496.3,128.9 489.6,126.2 488,123.9" fill="#37ff00" stroke="#37ff00" stroke-width="0.4"/>
<polygon points="491.4,121.6 496.3,128.9 489.6,126.2 484.7,118.9" fill="none" stroke="#000"/>
<polygon points="572.9,178.6 574.8,180.2 567.6,177.2 565.6,175.6" fill="#008cd4" stroke="#008cd4" stroke-width="0.4"/>
<polygon points="574.8,180.2 576.8,181.8 569.5,178.7 567.6,177.2" fill="#006bd4" stroke="#006bd4" stroke-width="0.4"/>
<polygon points="576.8,181.8 578.7,183.2 571.5,180.1 569.5,178.7" fill="#004ad4" stroke="#004ad4" stroke-width="0.4"/>
<polygon points="572.9,178.6 578.7,183.2 571.5,180.1 565.6,175.6" fill="none" stroke="#000"/>
<polygon points="479.9,111.4 481.5,113.9 474.9,111.3 473.3,108.8" fill="#dbff00" stroke="#dbff00" stroke-width="0.4"/>
<polygon points="481.5,113.9 483.1,116.4 476.5,113.8 474.9,111.3" fill="#c1ff00" stroke="#c1ff00" stroke-width="0.4"/>
<polygon points="483.1,116.4 484.7,118.9 478.1,116.3 476.5,113.8" fill="#a2ff00" stroke="#a2ff00" stroke-width="0.4"/>
<polygon points="479.9,111.4 484.7,118.9 478.1,116.3 473.3,108.8" fill="none" stroke="#000"/>
<polygon points="468.4,101.1 470.1,103.7 463.5,101.2 461.9,98.6" fill="#ffd200" stroke="#ffd200" stroke-width="0.4"/>
<polygon points="470.1,103.7 471.7,106.3 465.2,103.8 463.5,101.2" fill="#ffee00" stroke="#ffee00" stroke-width="0.4"/>
<polygon points="471.7,106.3 473.3,108.8 466.8,106.3 465.2,103.8" fill="#f5ff00" stroke="#f5ff00" stroke-width="0.4"/>
<polygon points="468.4,101.1 473.3,108.8 466.8,106.3 461.9,98.6" fill="none" stroke="#000"/>
<polygon points="457.1,90.7 458.7,93.4 452.2,91 450.6,88.3" fill="#ff8400" stroke="#ff8400" stroke-width="0.4"/>
<polygon points="458.7,93.4 460.3,96 453.8,93.6 452.2,91" fill="#ff9c00" stroke="#ff9c00" stroke-width="0.4"/>
<polygon points="460.3,96 461.9,98.6 455.5,96.2 453.8,93.6" fill="#ffb500" stroke="#ffb500" stroke-width="0.4"/>
<polygon points="457.1,90.7 461.9,98.6 455.5,96.2 450.6,88.3" fill="none" stroke="#000"/>
<polygon points="445.8,80.3 447.4,83 441,80.7 439.4,77.9" fill="#ff4300" stroke="#ff4300" stroke-width="0.4"/>
<polygon points="447.4,83 449,85.7 442.6,83.3 441,80.7" fill="#ff5800" stroke="#ff5800" stroke-width="0.4"/>
<polygon points="449,85.7 450.6,88.3 444.2,86 442.6,83.3" fill="#ff6c00" stroke="#ff6c00" stroke-width="0.4"/>
<polygon points="445.8,80.3 450.6,88.3 444.2,86 439.4,77.9" fill="none" stroke="#000"/>
<polygon points="559.8,170.6 561.8,172.3 554.6,169.3 552.7,167.6" fill="#00dcd1" stroke="#00dcd1" stroke-width="0.4"/>
<polygon points="561.8,172.3 563.7,174 556.5,171 554.6,169.3" fill="#00c5d7" stroke="#00c5d7" stroke-width="0.4"/>
<polygon points="563.7,174 565.6,175.6 558.5,172.6 556.5,171" fill="#00a8d4" stroke="#00a8d4" stroke-width="0.4"/>
<polygon points="559.8,170.6 565.6,175.6 558.5,172.6 552.7,167.6" fill="none" stroke="#000"/>
<polygon points="547,162 548.9,164 541.8,161 540,159.1" fill="#00eb9d" stroke="#00eb9d" stroke-width="0.4"/>
<polygon points="548.9,164 550.8,165.8 543.7,162.8 541.8,161" fill="#00e6af" stroke="#00e6af" stroke-width="0.4"/>
<polygon points="550.8,165.8 552.7,167.6 545.6,164.6 543.7,162.8" fill="#00e1bf" stroke="#00e1bf" stroke-width="0.4"/>
<polygon points="547,162 552.7,167.6 545.6,164.6 540,159.1" fill="none" stroke="#000"/>
<polygon points="534.4,153.2 536.3,155.3 529.3,152.4 527.4,150.4" fill="#00fa63" stroke="#00fa63" stroke-width="0.4"/>
<polygon points="536.3,155.3 538.1,157.2 531.1,154.3 529.3,152.4" fill="#00f577" stroke="#00f577" stroke-width="0.4"/>
<polygon points="538.1,157.2 540,159.1 533,156.2 531.1,154.3" fill="#00f08b" stroke="#00f08b" stroke-width="0.4"/>
<polygon points="534.4,153.2 540,159.1 533,156.2 527.4,150.4" fill="none" stroke="#000"/>
<polygon points="593.5,189.5 595.6,190.9 588.1,187.7 586.1,186.3" fill="#002bd4" stroke="#002bd4" stroke-width="0.4"/>
<polygon points="595.6,190.9 597.6,192 590.2,188.9 588.1,187.7" fill="#0012d4" stroke="#0012d4" stroke-width="0.4"/>
<polygon points="597.6,192 599.7,193 592.3,189.8 590.2,188.9" fill="#0000ff" stroke="#0000ff" stroke-width="0.4"/>
<polygon points="593.5,189.5 599.7,193 592.3,189.8 586.1,186.3" fill="none" stroke="#000"/>
<polygon points="522,144.1 523.8,146.3 516.9,143.4 515,141.2" fill="#00ff23" stroke="#00ff23" stroke-width="0.4"/>
<polygon points="523.8,146.3 525.6,148.4 518.7,145.5 516.9,143.4" fill="#00ff37" stroke="#00ff37" stroke-width="0.4"/>
<polygon points="525.6,148.4 527.4,150.4 520.5,147.5 518.7,145.5" fill="#00ff4d" stroke="#00ff4d" stroke-width="0.4"/>
<polygon points="522,144.1 527.4,150.4 520.5,147.5 515,141.2" fill="none" stroke="#000"/>
<polygon points="509.9,134.4 511.6,136.8 504.8,134 503.1,131.6" fill="#1cff00" stroke="#1cff00" stroke-width="0.4"/>
<polygon points="511.6,136.8 513.3,139.1 506.5,136.3 504.8,134" fill="#06ff00" stroke="#06ff00" stroke-width="0.4"/>
<polygon points="513.3,139.1 515,141.2 508.2,138.5 506.5,136.3" fill="#00ff0e" stroke="#00ff0e" stroke-width="0.4"/>
<polygon points="509.9,134.4 515,141.2 508.2,138.5 503.1,131.6" fill="none" stroke="#000"/>
<polygon points="498.2,124.2 499.8,126.8 493.1,124.1 491.4,121.6" fill="#7dff00" stroke="#7dff00" stroke-width="0.4"/>
<polygon points="499.8,126.8 501.5,129.2 494.7,126.5 493.1,124.1" fill="#59ff00" stroke="#59ff00" stroke-width="0.4"/>
<polygon points="501.5,129.2 503.1,131.6 496.3,128.9 494.7,126.5" fill="#36ff00" stroke="#36ff00" stroke-width="0.4"/>
<polygon points="498.2,124.2 503.1,131.6 496.3,128.9 491.4,121.6" fill="none" stroke="#000"/>
<polygon points="580.2,181.7 582.2,183.3 574.8,180.2 572.9,178.6" fill="#008bd4" stroke="#008bd4" stroke-width="0.4"/>
<polygon points="582.2,183.3 584.1,184.9 576.8,181.8 574.8,180.2" fill="#006ad4" stroke="#006ad4" stroke-width="0.4"/>
<polygon points="584.1,184.9 586.1,186.3 578.7,183.2 576.8,181.8" fill="#0049d4" stroke="#0049d4" stroke-width="0.4"/>
<polygon points="580.2,181.7 586.1,186.3 578.7,183.2 572.9,178.6" fill="none" stroke="#000"/>
<polygon points="486.6,113.9 488.2,116.5 481.5,113.9 479.9,111.4" fill="#dbff00" stroke="#dbff00" stroke-width="0.4"/>
<polygon points="488.2,116.5 489.8,119 483.1,116.4 481.5,113.9" fill="#c0ff00" stroke="#c0ff00" stroke-width="0.4"/>
<polygon points="489.8,119 491.4,121.6 484.7,118.9 483.1,116.4" fill="#a2ff00" stroke="#a2ff00" stroke-width="0.4"/>
<polygon points="486.6,113.9 491.4,121.6 484.7,118.9 479.9,111.4" fill="none" stroke="#000"/>
<polygon points="475.1,103.6 476.7,106.2 470.1,103.7 468.4,101.1" fill="#ffd200" stroke="#ffd200" stroke-width="0.4"/>
<polygon points="476.7,106.2 478.3,108.8 471.7,106.3 470.1,103.7" fill="#ffee00" stroke="#ffee00" stroke-width="0.4"/>
<polygon points="478.3,108.8 479.9,111.4 473.3,108.8 471.7,106.3" fill="#f5ff00" stroke="#f5ff00" stroke-width="0.4"/>
<polygon points="475.1,103.6 479.9,111.4 473.3,108.8 468.4,101.1" fill="none" stroke="#000"/>
<polygon points="463.6,93.2 465.2,95.9 458.7,93.4 457.1,90.7" fill="#ff8400" stroke="#ff8400" stroke-width="0.4"/>
<polygon points="465.2,95.9 466.9,98.5 460.3,96 458.7,93.4" fill="#ff9c00" stroke="#ff9c00" stroke-width="0.4"/>
<polygon points="466.9,98.5 468.4,101.1 461.9,98.6 460.3,96" fill="#ffb500" stroke="#ffb500" stroke-width="0.4"/>
<polygon points="463.6,93.2 468.4,101.1 461.9,98.6 457.1,90.7" fill="none" stroke="#000"/>
<polygon points="452.3,82.6 453.9,85.4 447.4,83 445.8,80.3" fill="#ff4300" stroke="#ff4300" stroke-width="0.4"/>
<polygon points="453.9,85.4 455.5,88.1 449,85.7 447.4,83" fill="#ff5800" stroke="#ff5800" stroke-width="0.4"/>
<polygon points="455.5,88.1 457.1,90.7 450.6,88.3 449,85.7" fill="#ff6c00" stroke="#ff6c00" stroke-width="0.4"/>
<polygon points="452.3,82.6 457.1,90.7 450.6,88.3 445.8,80.3" fill="none" stroke="#000"/>
<polygon points="567.1,173.6 569,175.4 561.8,172.3 559.8,170.6" fill="#00dcd2" stroke="#00dcd2" stroke-width="0.4"/>
<polygon points="569,175.4 570.9,177.1 563.7,174 561.8,172.3" fill="#00c4d7" stroke="#00c4d7" stroke-width="0.4"/>
<polygon points="570.9,177.1 572.9,178.6 565.6,175.6 563.7,174" fill="#00a7d4" stroke="#00a7d4" stroke-width="0.4"/>
<polygon points="567.1,173.6 572.9,178.6 565.6,175.6 559.8,170.6" fill="none" stroke="#000"/>
<polygon points="554.2,165 556.1,166.9 548.9,164 547,162" fill="#00eb9e" stroke="#00eb9e" stroke-width="0.4"/>
<polygon points="556.1,166.9 558,168.8 550.8,165.8 548.9,164" fill="#00e5af" stroke="#00e5af" stroke-width="0.4"/>
<polygon points="558,168.8 559.8,170.6 552.7,167.6 550.8,165.8" fill="#00e1bf" stroke="#00e1bf" stroke-width="0.4"/>
<polygon points="554.2,165 559.8,170.6 552.7,167.6 547,162" fill="none" stroke="#000"/>
<polygon points="541.5,156.1 543.4,158.2 536.3,155.3 534.4,153.2" fill="#00fa63" stroke="#00fa63" stroke-width="0.4"/>
<polygon points="543.4,158.2 545.2,160.1 538.1,157.2 536.3,155.3" fill="#00f578" stroke="#00f578" stroke-width="0.4"/>
<polygon points="545.2,160.1 547,162 540,159.1 538.1,157.2" fill="#00f08b" stroke="#00f08b" stroke-width="0.4"/>
<polygon points="541.5,156.1 547,162 540,159.1 534.4,153.2" fill="none" stroke="#000"/>
<polygon points="529,146.9 530.8,149.1 523.8,146.3 522,144.1" fill="#00ff23" stroke="#00ff23" stroke-width="0.4"/>
<polygon points="530.8,149.1 532.6,151.2 525.6,148.4 523.8,146.3" fill="#00ff37" stroke="#00ff37" stroke-width="0.4"/>
<polygon points="532.6,151.2 534.4,153.2 527.4,150.4 525.6,148.4" fill="#00ff4d" stroke="#00ff4d" stroke-width="0.4"/>
<polygon points="529,146.9 534.4,153.2 527.4,150.4 522,144.1" fill="none" stroke="#000"/>
<polygon points="516.9,137.1 518.6,139.6 511.6,136.8 509.9,134.4" fill="#1bff00" stroke="#1bff00" stroke-width="0.4"/>
<polygon points="518.6,139.6 520.3,141.9 513.3,139.1 511.6,136.8" fill="#06ff00" stroke="#06ff00" stroke-width="0.4"/>
<polygon points="520.3,141.9 522,144.1 515,141.2 513.3,139.1" fill="#00ff0e" stroke="#00ff0e" stroke-width="0.4"/>
<polygon points="516.9,137.1 522,144.1 515,141.2 509.9,134.4" fill="none" stroke="#000"/>
<polygon points="505.1,126.9 506.7,129.5 499.8,126.8 498.2,124.2" fill="#7dff00" stroke="#7dff00" stroke-width="0.4"/>
<polygon points="506.7,129.5 508.3,132 501.5,129.2 499.8,126.8" fill="#59ff00" stroke="#59ff00" stroke-width="0.4"/>
<polygon points="508.3,132 509.9,134.4 503.1,131.6 501.5,129.2" fill="#36ff00" stroke="#36ff00" stroke-width="0.4"/>
<polygon points="505.1,126.9 509.9,134.4 503.1,131.6 498.2,124.2" fill="none" stroke="#000"/>
<polygon points="587.6,184.9 589.6,186.5 582.2,183.3 580.2,181.7" fill="#008ad4" stroke="#008ad4" stroke-width="0.4"/>
<polygon points="589.6,186.5 591.5,188 584.1,184.9 582.2,183.3" fill="#0069d4" stroke="#0069d4" stroke-width="0.4"/>
<polygon points="591.5,188 593.5,189.5 586.1,186.3 584.1,184.9" fill="#0048d4" stroke="#0048d4" stroke-width="0.4"/>
<polygon points="587.6,184.9 593.5,189.5 586.1,186.3 580.2,181.7" fill="none" stroke="#000"/>
<polygon points="493.4,116.6 495,119.1 488.2,116.5 486.6,113.9" fill="#daff00" stroke="#daff00" stroke-width="0.4"/>
<polygon points="495,119.1 496.6,121.7 489.8,119 488.2,116.5" fill="#c0ff00" stroke="#c0ff00" stroke-width="0.4"/>
<polygon points="496.6,121.7 498.2,124.2 491.4,121.6 489.8,119" fill="#a1ff00" stroke="#a1ff00" stroke-width="0.4"/>
<polygon points="493.4,116.6 498.2,124.2 491.4,121.6 486.6,113.9" fill="none" stroke="#000"/>
<polygon points="481.8,106.2 483.4,108.8 476.7,106.2 475.1,103.6" fill="#ffd200" stroke="#ffd200" stroke-width="0.4"/>
<polygon points="483.4,108.8 485,111.4 478.3,108.8 476.7,106.2" fill="#ffef00" stroke="#ffef00" stroke-width="0.4"/>
<polygon points="485,111.4 486.6,113.9 479.9,111.4 478.3,108.8" fill="#f5ff00" stroke="#f5ff00" stroke-width="0.4"/>
<polygon points="481.8,106.2 486.6,113.9 479.9,111.4 475.1,103.6" fill="none" stroke="#000"/>
<polygon points="470.3,95.6 471.9,98.3 465.2,95.9 463.6,93.2" fill="#ff8400" stroke="#ff8400" stroke-width="0.4"/>
<polygon points="471.9,98.3 473.5,101 466.9,98.5 465.2,95.9" fill="#ff9c00" stroke="#ff9c00" stroke-width="0.4"/>
<polygon points="473.5,101 475.1,103.6 468.4,101.1 466.9,98.5" fill="#ffb500" stroke="#ffb500" stroke-width="0.4"/>
<polygon points="470.3,95.6 475.1,103.6 468.4,101.1 463.6,93.2" fill="none" stroke="#000"/>
<polygon points="458.9,85 460.5,87.8 453.9,85.4 452.3,82.6" fill="#ff4400" stroke="#ff4400" stroke-width="0.4"/>
<polygon points="460.5,87.8 462.1,90.5 455.5,88.1 453.9,85.4" fill="#ff5800" stroke="#ff5800" stroke-width="0.4"/>
<polygon points="462.1,90.5 463.6,93.2 457.1,90.7 455.5,88.1" fill="#ff6c00" stroke="#ff6c00" stroke-width="0.4"/>
<polygon points="458.9,85 463.6,93.2 457.1,90.7 452.3,82.6" fill="none" stroke="#000"/>
<polygon points="574.5,176.7 576.4,178.5 569,175.4 567.1,173.6" fill="#00dbd2" stroke="#00dbd2" stroke-width="0.4"/>
<polygon points="576.4,178.5 578.3,180.2 570.9,177.1 569,175.4" fill="#00c3d7" stroke="#00c3d7" stroke-width="0.4"/>
<polygon points="578.3,180.2 580.2,181.7 572.9,178.6 570.9,177.1" fill="#00a6d4" stroke="#00a6d4" stroke-width="0.4"/>
<polygon points="574.5,176.7 580.2,181.7 572.9,178.6 567.1,173.6" fill="none" stroke="#000"/>
<polygon points="561.5,168 563.4,170 556.1,166.9 554.2,165" fill="#00ea9e" stroke="#00ea9e" stroke-width="0.4"/>
<polygon points="563.4,170 565.3,171.8 558,168.8 556.1,166.9" fill="#00e5b0" stroke="#00e5b0" stroke-width="0.4"/>
<polygon points="565.3,171.8 567.1,173.6 559.8,170.6 558,168.8" fill="#00e0c0" stroke="#00e0c0" stroke-width="0.4"/>
<polygon points="561.5,168 567.1,173.6 559.8,170.6 554.2,165" fill="none" stroke="#000"/>
<polygon points="548.7,159.1 550.6,161.1 543.4,158.2 541.5,156.1" fill="#00fa64" stroke="#00fa64" stroke-width="0.4"/>
<polygon points="550.6,161.1 552.4,163.1 545.2,160.1 543.4,158.2" fill="#00f578" stroke="#00f578" stroke-width="0.4"/>
<polygon points="552.4,163.1 554.2,165 547,162 545.2,160.1" fill="#00f08c" stroke="#00f08c" stroke-width="0.4"/>
<polygon points="548.7,159.1 554.2,165 547,162 541.5,156.1" fill="none" stroke="#000"/>
<polygon points="536.1,149.8 537.9,152 530.8,149.1 529,146.9" fill="#00ff23" stroke="#00ff23" stroke-width="0.4"/>
<polygon points="537.9,152 539.7,154.1 532.6,151.2 530.8,149.1" fill="#00ff38" stroke="#00ff38" stroke-width="0.4"/>
<polygon points="539.7,154.1 541.5,156.1 534.4,153.2 532.6,151.2" fill="#00ff4e" stroke="#00ff4e" stroke-width="0.4"/>
<polygon points="536.1,149.8 541.5,156.1 534.4,153.2 529,146.9" fill="none" stroke="#000"/>
<polygon points="523.9,139.9 525.6,142.4 518.6,139.6 516.9,137.1" fill="#1bff00" stroke="#1bff00" stroke-width="0.4"/>
<polygon points="525.6,142.4 527.3,144.7 520.3,141.9 518.6,139.6" fill="#06ff00" stroke="#06ff00" stroke-width="0.4"/>
<polygon points="527.3,144.7 529,146.9 522,144.1 520.3,141.9" fill="#00ff0f" stroke="#00ff0f" stroke-width="0.4"/>
<polygon points="523.9,139.9 529,146.9 522,144.1 516.9,137.1" fill="none" stroke="#000"/>
<polygon points="512.1,129.7 513.7,132.2 506.7,129.5 505.1,126.9" fill="#7cff00" stroke="#7cff00" stroke-width="0.4"/>
<polygon points="513.7,132.2 515.3,134.7 508.3,132 506.7,129.5" fill="#58ff00" stroke="#58ff00" stroke-width="0.4"/>
<polygon points="515.3,134.7 516.9,137.1 509.9,134.4 508.3,132" fill="#35ff00" stroke="#35ff00" stroke-width="0.4"/>
<polygon points="512.1,129.7 516.9,137.1 509.9,134.4 505.1,126.9" fill="none" stroke="#000"/>
<polygon points="500.3,119.2 501.9,121.8 495,119.1 493.4,116.6" fill="#daff00" stroke="#daff00" stroke-width="0.4"/>
<polygon points="501.9,121.8 503.5,124.4 496.6,121.7 495,119.1" fill="#c0ff00" stroke="#c0ff00" stroke-width="0.4"/>
<polygon points="503.5,124.4 505.1,126.9 498.2,124.2 496.6,121.7" fill="#a1ff00" stroke="#a1ff00" stroke-width="0.4"/>
<polygon points="500.3,119.2 505.1,126.9 498.2,124.2 493.4,116.6" fill="none" stroke="#000"/>
<polygon points="488.6,108.7 490.2,111.4 483.4,108.8 481.8,106.2" fill="#ffd200" stroke="#ffd200" stroke-width="0.4"/>
<polygon points="490.2,111.4 491.8,114 485,111.4 483.4,108.8" fill="#ffef00" stroke="#ffef00" stroke-width="0.4"/>
<polygon points="491.8,114 493.4,116.6 486.6,113.9 485,111.4" fill="#f4ff00" stroke="#f4ff00" stroke-width="0.4"/>
<polygon points="488.6,108.7 493.4,116.6 486.6,113.9 481.8,106.2" fill="none" stroke="#000"/>
<polygon points="477,98.1 478.6,100.8 471.9,98.3 470.3,95.6" fill="#ff8400" stroke="#ff8400" stroke-width="0.4"/>
<polygon points="478.6,100.8 480.2,103.5 473.5,101 471.9,98.3" fill="#ff9c00" stroke="#ff9c00" stroke-width="0.4"/>
<polygon points="480.2,103.5 481.8,106.2 475.1,103.6 473.5,101" fill="#ffb600" stroke="#ffb600" stroke-width="0.4"/>
<polygon points="477,98.1 481.8,106.2 475.1,103.6 470.3,95.6" fill="none" stroke="#000"/>
<polygon points="465.5,87.4 467.1,90.2 460.5,87.8 458.9,85" fill="#ff4400" stroke="#ff4400" stroke-width="0.4"/>
<polygon points="467.1,90.2 468.7,92.9 462.1,90.5 460.5,87.8" fill="#ff5800" stroke="#ff5800" stroke-width="0.4"/>
<polygon points="468.7,92.9 470.3,95.6 463.6,93.2 462.1,90.5" fill="#ff6c00" stroke="#ff6c00" stroke-width="0.4"/>
<polygon points="465.5,87.4 470.3,95.6 463.6,93.2 458.9,85" fill="none" stroke="#000"/>
<polygon points="581.9,179.8 583.8,181.6 576.4,178.5 574.5,176.7" fill="#00dbd3" stroke="#00dbd3" stroke-width="0.4"/>
<polygon points="583.8,181.6 585.7,183.3 578.3,180.2 576.4,178.5" fill="#00c3d6" stroke="#00c3d6" stroke-width="0.4"/>
<polygon points="585.7,183.3 587.6,184.9 580.2,181.7 578.3,180.2" fill="#00a5d4" stroke="#00a5d4" stroke-width="0.4"/>
<polygon points="581.9,179.8 587.6,184.9 580.2,181.7 574.5,176.7" fill="none" stroke="#000"/>
<polygon points="568.9,171.1 570.8,173 563.4,170 561.5,168" fill="#00ea9f" stroke="#00ea9f" stroke-width="0.4"/>
<polygon points="570.8,173 572.6,174.9 565.3,171.8 563.4,170" fill="#00e5b0" stroke="#00e5b0" stroke-width="0.4"/>
<polygon points="572.6,174.9 574.5,176.7 567.1,173.6 565.3,171.8" fill="#00e0c0" stroke="#00e0c0" stroke-width="0.4"/>
<polygon points="568.9,171.1 574.5,176.7 567.1,173.6 561.5,168" fill="none" stroke="#000"/>
<polygon points="556,162.1 557.9,164.2 550.6,161.1 548.7,159.1" fill="#00fa64" stroke="#00fa64" stroke-width="0.4"/>
<polygon points="557.9,164.2 559.7,166.1 552.4,163.1 550.6,161.1" fill="#00f579" stroke="#00f579" stroke-width="0.4"/>
<polygon points="559.7,166.1 561.5,168 554.2,165 552.4,163.1" fill="#00ef8c" stroke="#00ef8c" stroke-width="0.4"/>
<polygon points="556,162.1 561.5,168 554.2,165 548.7,159.1" fill="none" stroke="#000"/>
<polygon points="543.4,152.7 545.2,155 537.9,152 536.1,149.8" fill="#00ff24" stroke="#00ff24" stroke-width="0.4"/>
<polygon points="545.2,155 546.9,157.1 539.7,154.1 537.9,152" fill="#00ff38" stroke="#00ff38" stroke-width="0.4"/>
<polygon points="546.9,157.1 548.7,159.1 541.5,156.1 539.7,154.1" fill="#00ff4e" stroke="#00ff4e" stroke-width="0.4"/>
<polygon points="543.4,152.7 548.7,159.1 541.5,156.1 536.1,149.8" fill="none" stroke="#000"/>
<polygon points="531.1,142.8 532.8,145.3 525.6,142.4 523.9,139.9" fill="#1bff00" stroke="#1bff00" stroke-width="0.4"/>
<polygon points="532.8,145.3 534.5,147.6 527.3,144.7 525.6,142.4" fill="#05ff00" stroke="#05ff00" stroke-width="0.4"/>
<polygon points="534.5,147.6 536.1,149.8 529,146.9 527.3,144.7" fill="#00ff0f" stroke="#00ff0f" stroke-width="0.4"/>
<polygon points="531.1,142.8 536.1,149.8 529,146.9 523.9,139.9" fill="none" stroke="#000"/>
<polygon points="519.1,132.4 520.7,135 513.7,132.2 512.1,129.7" fill="#7cff00" stroke="#7cff00" stroke-width="0.4"/>
<polygon points="520.7,135 522.3,137.5 515.3,134.7 513.7,132.2" fill="#58ff00" stroke="#58ff00" stroke-width="0.4"/>
<polygon points="522.3,137.5 523.9,139.9 516.9,137.1 515.3,134.7" fill="#35ff00" stroke="#35ff00" stroke-width="0.4"/>
<polygon points="519.1,132.4 523.9,139.9 516.9,137.1 512.1,129.7" fill="none" stroke="#000"/>
<polygon points="507.3,121.9 508.9,124.5 501.9,121.8 500.3,119.2" fill="#daff00" stroke="#daff00" stroke-width="0.4"/>
<polygon points="508.9,124.5 510.5,127.1 503.5,124.4 501.9,121.8" fill="#c0ff00" stroke="#c0ff00" stroke-width="0.4"/>
<polygon points="510.5,127.1 512.1,129.7 505.1,126.9 503.5,124.4" fill="#a1ff00" stroke="#a1ff00" stroke-width="0.4"/>
<polygon points="507.3,121.9 512.1,129.7 505.1,126.9 500.3,119.2" fill="none" stroke="#000"/>
<polygon points="495.5,111.3 497.1,114 490.2,111.4 488.6,108.7" fill="#ffd200" stroke="#ffd200" stroke-width="0.4"/>
<polygon points="497.1,114 498.7,116.7 491.8,114 490.2,111.4" fill="#ffef00" stroke="#ffef00" stroke-width="0.4"/>
<polygon points="498.7,116.7 500.3,119.2 493.4,116.6 491.8,114" fill="#f4ff00" stroke="#f4ff00" stroke-width="0.4"/>
<polygon points="495.5,111.3 500.3,119.2 493.4,116.6 488.6,108.7" fill="none" stroke="#000"/>
<polygon points="483.9,100.7 485.4,103.4 478.6,100.8 477,98.1" fill="#ff8400" stroke="#ff8400" stroke-width="0.4"/>
<polygon points="485.4,103.4 487,106.1 480.2,103.5 478.6,100.8" fill="#ff9c00" stroke="#ff9c00" stroke-width="0.4"/>
<polygon points="487,106.1 488.6,108.7 481.8,106.2 480.2,103.5" fill="#ffb600" stroke="#ffb600" stroke-width="0.4"/>
<polygon points="483.9,100.7 488.6,108.7 481.8,106.2 477,98.1" fill="none" stroke="#000"/>
<polygon points="472.3,89.9 473.9,92.7 467.1,90.2 465.5,87.4" fill="#ff4400" stroke="#ff4400" stroke-width="0.4"/>
<polygon points="473.9,92.7 475.4,95.4 468.7,92.9 467.1,90.2" fill="#ff5800" stroke="#ff5800" stroke-width="0.4"/>
<polygon points="475.4,95.4 477,98.1 470.3,95.6 468.7,92.9" fill="#ff6c00" stroke="#ff6c00" stroke-width="0.4"/>
<polygon points="472.3,89.9 477,98.1 470.3,95.6 465.5,87.4" fill="none" stroke="#000"/>
<polygon points="576.4,174.2 578.3,176.2 570.8,173 568.9,171.1" fill="#00ea9f" stroke="#00ea9f" stroke-width="0.4"/>
<polygon points="578.3,176.2 580.1,178 572.6,174.9 570.8,173" fill="#00e5b0" stroke="#00e5b0" stroke-width="0.4"/>
<polygon points="580.1,178 581.9,179.8 574.5,176.7 572.6,174.9" fill="#00e0c0" stroke="#00e0c0" stroke-width="0.4"/>
<polygon points="576.4,174.2 581.9,179.8 574.5,176.7 568.9,171.1" fill="none" stroke="#000"/>
<polygon points="563.4,165.1 565.3,167.2 557.9,164.2 556,162.1" fill="#00fa65" stroke="#00fa65" stroke-width="0.4"/>
<polygon points="565.3,167.2 567.1,169.2 559.7,166.1 557.9,164.2" fill="#00f479" stroke="#00f479" stroke-width="0.4"/>
<polygon points="567.1,169.2 568.9,171.1 561.5,168 559.7,166.1" fill="#00ef8c" stroke="#00ef8c" stroke-width="0.4"/>
<polygon points="563.4,165.1 568.9,171.1 561.5,168 556,162.1" fill="none" stroke="#000"/>
<polygon points="550.7,155.7 552.5,157.9 545.2,155 543.4,152.7" fill="#00ff24" stroke="#00ff24" stroke-width="0.4"/>
<polygon points="552.5,157.9 554.3,160.1 546.9,157.1 545.2,155" fill="#00ff38" stroke="#00ff38" stroke-width="0.4"/>
<polygon points="554.3,160.1 556,162.1 548.7,159.1 546.9,157.1" fill="#00ff4f" stroke="#00ff4f" stroke-width="0.4"/>
<polygon points="550.7,155.7 556,162.1 548.7,159.1 543.4,152.7" fill="none" stroke="#000"/>
<polygon points="538.3,145.7 540,148.2 532.8,145.3 531.1,142.8" fill="#1bff00" stroke="#1bff00" stroke-width="0.4"/>
<polygon points="540,148.2 541.7,150.5 534.5,147.6 532.8,145.3" fill="#05ff00" stroke="#05ff00" stroke-width="0.4"/>
<polygon points="541.7,150.5 543.4,152.7 536.1,149.8 534.5,147.6" fill="#00ff0f" stroke="#00ff0f" stroke-width="0.4"/>
<polygon points="538.3,145.7 543.4,152.7 536.1,149.8 531.1,142.8" fill="none" stroke="#000"/>
<polygon points="526.3,135.2 527.9,137.8 520.7,135 519.1,132.4" fill="#7cff00" stroke="#7cff00" stroke-width="0.4"/>
<polygon points="527.9,137.8 529.5,140.4 522.3,137.5 520.7,135" fill="#58ff00" stroke="#58ff00" stroke-width="0.4"/>
<polygon points="529.5,140.4 531.1,142.8 523.9,139.9 522.3,137.5" fill="#34ff00" stroke="#34ff00" stroke-width="0.4"/>
<polygon points="526.3,135.2 531.1,142.8 523.9,139.9 519.1,132.4" fill="none" stroke="#000"/>
<polygon points="514.4,124.7 516,127.3 508.9,124.5 507.3,121.9" fill="#daff00" stroke="#daff00" stroke-width="0.4"/>
<polygon points="516,127.3 517.6,129.9 510.5,127.1 508.9,124.5" fill="#bfff00" stroke="#bfff00" stroke-width="0.4"/>
<polygon points="517.6,129.9 519.1,132.4 512.1,129.7 510.5,127.1" fill="#a0ff00" stroke="#a0ff00" stroke-width="0.4"/>
<polygon points="514.4,124.7 519.1,132.4 512.1,129.7 507.3,121.9" fill="none" stroke="#000"/>
<polygon points="502.5,114 504.1,116.7 497.1,114 495.5,111.3" fill="#ffd300" stroke="#ffd300" stroke-width="0.4"/>
<polygon points="504.1,116.7 505.7,119.3 498.7,116.7 497.1,114" fill="#ffef00" stroke="#ffef00" stroke-width="0.4"/>
<polygon points="505.7,119.3 507.3,121.9 500.3,119.2 498.7,116.7" fill="#f4ff00" stroke="#f4ff00" stroke-width="0.4"/>
<polygon points="502.5,114 507.3,121.9 500.3,119.2 495.5,111.3" fill="none" stroke="#000"/>
<polygon points="490.8,103.2 492.4,106 485.4,103.4 483.9,100.7" fill="#ff8400" stroke="#ff8400" stroke-width="0.4"/>
<polygon points="492.4,106 493.9,108.7 487,106.1 485.4,103.4" fill="#ff9c00" stroke="#ff9c00" stroke-width="0.4"/>
<polygon points="493.9,108.7 495.5,111.3 488.6,108.7 487,106.1" fill="#ffb600" stroke="#ffb600" stroke-width="0.4"/>
<polygon points="490.8,103.2 495.5,111.3 488.6,108.7 483.9,100.7" fill="none" stroke="#000"/>
<polygon points="479.1,92.4 480.7,95.2 473.9,92.7 472.3,89.9" fill="#ff4400" stroke="#ff4400" stroke-width="0.4"/>
<polygon points="480.7,95.2 482.3,97.9 475.4,95.4 473.9,92.7" fill="#ff5800" stroke="#ff5800" stroke-width="0.4"/>
<polygon points="482.3,97.9 483.9,100.7 477,98.1 475.4,95.4" fill="#ff6c00" stroke="#ff6c00" stroke-width="0.4"/>
<polygon points="479.1,92.4 483.9,100.7 477,98.1 472.3,89.9" fill="none" stroke="#000"/>
<polygon points="570.9,168.2 572.8,170.3 565.3,167.2 563.4,165.1" fill="#00f965" stroke="#00f965" stroke-width="0.4"/>
<polygon points="572.8,170.3 574.6,172.3 567.1,169.2 565.3,167.2" fill="#00f47a" stroke="#00f47a" stroke-width="0.4"/>
<polygon points="574.6,172.3 576.4,174.2 568.9,171.1 567.1,169.2" fill="#00ef8d" stroke="#00ef8d" stroke-width="0.4"/>
<polygon points="570.9,168.2 576.4,174.2 568.9,171.1 563.4,165.1" fill="none" stroke="#000"/>
<polygon points="558.1,158.7 559.9,161 552.5,157.9 550.7,155.7" fill="#00ff24" stroke="#00ff24" stroke-width="0.4"/>
<polygon points="559.9,161 561.7,163.1 554.3,160.1 552.5,157.9" fill="#00ff39" stroke="#00ff39" stroke-width="0.4"/>
<polygon points="561.7,163.1 563.4,165.1 556,162.1 554.3,160.1" fill="#00ff4f" stroke="#00ff4f" stroke-width="0.4"/>
<polygon points="558.1,158.7 563.4,165.1 556,162.1 550.7,155.7" fill="none" stroke="#000"/>
<polygon points="545.7,148.6 547.4,151.1 540,148.2 538.3,145.7" fill="#1aff00" stroke="#1aff00" stroke-width="0.4"/>
<polygon points="547.4,151.1 549,153.5 541.7,150.5 540,148.2" fill="#05ff00" stroke="#05ff00" stroke-width="0.4"/>
<polygon points="549,153.5 550.7,155.7 543.4,152.7 541.7,150.5" fill="#00ff10" stroke="#00ff10" stroke-width="0.4"/>
<polygon points="545.7,148.6 550.7,155.7 543.4,152.7 538.3,145.7" fill="none" stroke="#000"/>
<polygon points="533.6,138.1 535.2,140.7 527.9,137.8 526.3,135.2" fill="#7bff00" stroke="#7bff00" stroke-width="0.4"/>
<polygon points="535.2,140.7 536.7,143.3 529.5,140.4 527.9,137.8" fill="#57ff00" stroke="#57ff00" stroke-width="0.4"/>
<polygon points="536.7,143.3 538.3,145.7 531.1,142.8 529.5,140.4" fill="#34ff00" stroke="#34ff00" stroke-width="0.4"/>
<polygon points="533.6,138.1 538.3,145.7 531.1,142.8 526.3,135.2" fill="none" stroke="#000"/>
<polygon points="521.6,127.4 523.2,130.1 516,127.3 514.4,124.7" fill="#d9ff00" stroke="#d9ff00" stroke-width="0.4"/>
<polygon points="523.2,130.1 524.7,132.7 517.6,129.9 516,127.3" fill="#bfff00" stroke="#bfff00" stroke-width="0.4"/>
<polygon points="524.7,132.7 526.3,135.2 519.1,132.4 517.6,129.9" fill="#a0ff00" stroke="#a0ff00" stroke-width="0.4"/>
<polygon points="521.6,127.4 526.3,135.2 519.1,132.4 514.4,124.7" fill="none" stroke="#000"/>
<polygon points="509.6,116.7 511.2,119.4 504.1,116.7 502.5,114" fill="#ffd300" stroke="#ffd300" stroke-width="0.4"/>
<polygon points="511.2,119.4 512.8,122.1 505.7,119.3 504.1,116.7" fill="#ffef00" stroke="#ffef00" stroke-width="0.4"/>
<polygon points="512.8,122.1 514.4,124.7 507.3,121.9 505.7,119.3" fill="#f4ff00" stroke="#f4ff00" stroke-width="0.4"/>
<polygon points="509.6,116.7 514.4,124.7 507.3,121.9 502.5,114" fill="none" stroke="#000"/>
<polygon points="497.8,105.8 499.4,108.6 492.4,106 490.8,103.2" fill="#ff8400" stroke="#ff8400" stroke-width="0.4"/>
<polygon points="499.4,108.6 501,111.3 493.9,108.7 492.4,106" fill="#ff9c00" stroke="#ff9c00" stroke-width="0.4"/>
<polygon points="501,111.3 502.5,114 495.5,111.3 493.9,108.7" fill="#ffb600" stroke="#ffb600" stroke-width="0.4"/>
<polygon points="497.8,105.8 502.5,114 495.5,111.3 490.8,103.2" fill="none" stroke="#000"/>
<polygon points="486.1,94.9 487.6,97.7 480.7,95.2 479.1,92.4" fill="#ff4400" stroke="#ff4400" stroke-width="0.4"/>
<polygon points="487.6,97.7 489.2,100.5 482.3,97.9 480.7,95.2" fill="#ff5800" stroke="#ff5800" stroke-width="0.4"/>
<polygon points="489.2,100.5 490.8,103.2 483.9,100.7 482.3,97.9" fill="#ff6c00" stroke="#ff6c00" stroke-width="0.4"/>
<polygon points="486.1,94.9 490.8,103.2 483.9,100.7 479.1,92.4" fill="none" stroke="#000"/>
<polygon points="565.7,161.8 567.4,164 559.9,161 558.1,158.7" fill="#00ff25" stroke="#00ff25" stroke-width="0.4"/>
<polygon points="567.4,164 569.2,166.2 561.7,163.1 559.9,161" fill="#00ff39" stroke="#00ff39" stroke-width="0.4"/>
<polygon points="569.2,166.2 570.9,168.2 563.4,165.1 561.7,163.1" fill="#00ff50" stroke="#00ff50" stroke-width="0.4"/>
<polygon points="565.7,161.8 570.9,168.2 563.4,165.1 558.1,158.7" fill="none" stroke="#000"/>
<polygon points="553.1,151.6 554.8,154.1 547.4,151.1 545.7,148.6" fill="#1aff00" stroke="#1aff00" stroke-width="0.4"/>
<polygon points="554.8,154.1 556.5,156.5 549,153.5 547.4,151.1" fill="#05ff00" stroke="#05ff00" stroke-width="0.4"/>
<polygon points="556.5,156.5 558.1,158.7 550.7,155.7 549,153.5" fill="#00ff10" stroke="#00ff10" stroke-width="0.4"/>
<polygon points="553.1,151.6 558.1,158.7 550.7,155.7 545.7,148.6" fill="none" stroke="#000"/>
<polygon points="540.9,141 542.5,143.6 535.2,140.7 533.6,138.1" fill="#7bff00" stroke="#7bff00" stroke-width="0.4"/>
<polygon points="542.5,143.6 544.1,146.2 536.7,143.3 535.2,140.7" fill="#57ff00" stroke="#57ff00" stroke-width="0.4"/>
<polygon points="544.1,146.2 545.7,148.6 538.3,145.7 536.7,143.3" fill="#33ff00" stroke="#33ff00" stroke-width="0.4"/>
<polygon points="540.9,141 545.7,148.6 538.3,145.7 533.6,138.1" fill="none" stroke="#000"/>
<polygon points="528.9,130.3 530.4,132.9 523.2,130.1 521.6,127.4" fill="#d9ff00" stroke="#d9ff00" stroke-width="0.4"/>
<polygon points="530.4,132.9 532,135.5 524.7,132.7 523.2,130.1" fill="#bfff00" stroke="#bfff00" stroke-width="0.4"/>
<polygon points="532,135.5 533.6,138.1 526.3,135.2 524.7,132.7" fill="#a0ff00" stroke="#a0ff00" stroke-width="0.4"/>
<polygon points="528.9,130.3 533.6,138.1 526.3,135.2 521.6,127.4" fill="none" stroke="#000"/>
<polygon points="516.8,119.4 518.4,122.1 511.2,119.4 509.6,116.7" fill="#ffd300" stroke="#ffd300" stroke-width="0.4"/>
<polygon points="518.4,122.1 520,124.8 512.8,122.1 511.2,119.4" fill="#fff000" stroke="#fff000" stroke-width="0.4"/>
<polygon points="520,124.8 521.6,127.4 514.4,124.7 512.8,122.1" fill="#f4ff00" stroke="#f4ff00" stroke-width="0.4"/>
<polygon points="516.8,119.4 521.6,127.4 514.4,124.7 509.6,116.7" fill="none" stroke="#000"/>
<polygon points="504.9,108.5 506.5,111.3 499.4,108.6 497.8,105.8" fill="#ff8400" stroke="#ff8400" stroke-width="0.4"/>
<polygon points="506.5,111.3 508.1,114 501,111.3 499.4,108.6" fill="#ff9c00" stroke="#ff9c00" stroke-width="0.4"/>
<polygon points="508.1,114 509.6,116.7 502.5,114 501,111.3" fill="#ffb600" stroke="#ffb600" stroke-width="0.4"/>
<polygon points="504.9,108.5 509.6,116.7 502.5,114 497.8,105.8" fill="none" stroke="#000"/>
<polygon points="493.1,97.4 494.7,100.3 487.6,97.7 486.1,94.9" fill="#ff4400" stroke="#ff4400" stroke-width="0.4"/>
<polygon points="494.7,100.3 496.2,103.1 489.2,100.5 487.6,97.7" fill="#ff5800" stroke="#ff5800" stroke-width="0.4"/>
<polygon points="496.2,103.1 497.8,105.8 490.8,103.2 489.2,100.5" fill="#ff6c00" stroke="#ff6c00" stroke-width="0.4"/>
<polygon points="493.1,97.4 497.8,105.8 490.8,103.2 486.1,94.9" fill="none" stroke="#000"/>
<polygon points="560.7,154.6 562.4,157.2 554.8,154.1 553.1,151.6" fill="#1aff00" stroke="#1aff00" stroke-width="0.4"/>
<polygon points="562.4,157.2 564,159.5 556.5,156.5 554.8,154.1" fill="#04ff00" stroke="#04ff00" stroke-width="0.4"/>
<polygon points="564,159.5 565.7,161.8 558.1,158.7 556.5,156.5" fill="#00ff10" stroke="#00ff10" stroke-width="0.4"/>
<polygon points="560.7,154.6 565.7,161.8 558.1,158.7 553.1,151.6" fill="none" stroke="#000"/>
<polygon points="548.4,143.9 550,146.6 542.5,143.6 540.9,141" fill="#7bff00" stroke="#7bff00" stroke-width="0.4"/>
<polygon points="550,146.6 551.6,149.1 544.1,146.2 542.5,143.6" fill="#56ff00" stroke="#56ff00" stroke-width="0.4"/>
<polygon points="551.6,149.1 553.1,151.6 545.7,148.6 544.1,146.2" fill="#33ff00" stroke="#33ff00" stroke-width="0.4"/>
<polygon points="548.4,143.9 553.1,151.6 545.7,148.6 540.9,141" fill="none" stroke="#000"/>
<polygon points="536.3,133.1 537.8,135.8 530.4,132.9 528.9,130.3" fill="#d9ff00" stroke="#d9ff00" stroke-width="0.4"/>
<polygon points="537.8,135.8 539.4,138.4 532,135.5 530.4,132.9" fill="#bfff00" stroke="#bfff00" stroke-width="0.4"/>
<polygon points="539.4,138.4 540.9,141 533.6,138.1 532,135.5" fill="#9fff00" stroke="#9fff00" stroke-width="0.4"/>
<polygon points="536.3,133.1 540.9,141 533.6,138.1 528.9,130.3" fill="none" stroke="#000"/>
<polygon points="524.2,122.2 525.7,124.9 518.4,122.1 516.8,119.4" fill="#ffd300" stroke="#ffd300" stroke-width="0.4"/>
<polygon points="525.7,124.9 527.3,127.6 520,124.8 518.4,122.1" fill="#fff000" stroke="#fff000" stroke-width="0.4"/>
<polygon points="527.3,127.6 528.9,130.3 521.6,127.4 520,124.8" fill="#f4ff00" stroke="#f4ff00" stroke-width="0.4"/>
<polygon points="524.2,122.2 528.9,130.3 521.6,127.4 516.8,119.4" fill="none" stroke="#000"/>
<polygon points="512.2,111.2 513.7,114 506.5,111.3 504.9,108.5" fill="#ff8400" stroke="#ff8400" stroke-width="0.4"/>
<polygon points="513.7,114 515.3,116.7 508.1,114 506.5,111.3" fill="#ff9c00" stroke="#ff9c00" stroke-width="0.4"/>
<polygon points="515.3,116.7 516.8,119.4 509.6,116.7 508.1,114" fill="#ffb600" stroke="#ffb600" stroke-width="0.4"/>
<polygon points="512.2,111.2 516.8,119.4 509.6,116.7 504.9,108.5" fill="none" stroke="#000"/>
<polygon points="500.3,100 501.8,102.9 494.7,100.3 493.1,97.4" fill="#ff4400" stroke="#ff4400" stroke-width="0.4"/>
<polygon points="501.8,102.9 503.4,105.7 496.2,103.1 494.7,100.3" fill="#ff5800" stroke="#ff5800" stroke-width="0.4"/>
<polygon points="503.4,105.7 504.9,108.5 497.8,105.8 496.2,103.1" fill="#ff6c00" stroke="#ff6c00" stroke-width="0.4"/>
<polygon points="500.3,100 504.9,108.5 497.8,105.8 493.1,97.4" fill="none" stroke="#000"/>
<polygon points="556,146.9 557.6,149.6 550,146.6 548.4,143.9" fill="#7aff00" stroke="#7aff00" stroke-width="0.4"/>
<polygon points="557.6,149.6 559.1,152.2 551.6,149.1 550,146.6" fill="#56ff00" stroke="#56ff00" stroke-width="0.4"/>
<polygon points="559.1,152.2 560.7,154.6 553.1,151.6 551.6,149.1" fill="#33ff00" stroke="#33ff00" stroke-width="0.4"/>
<polygon points="556,146.9 560.7,154.6 553.1,151.6 548.4,143.9" fill="none" stroke="#000"/>
<polygon points="543.8,136 545.3,138.7 537.8,135.8 536.3,133.1" fill="#d9ff00" stroke="#d9ff00" stroke-width="0.4"/>
<polygon points="545.3,138.7 546.9,141.3 539.4,138.4 537.8,135.8" fill="#bfff00" stroke="#bfff00" stroke-width="0.4"/>
<polygon points="546.9,141.3 548.4,143.9 540.9,141 539.4,138.4" fill="#9fff00" stroke="#9fff00" stroke-width="0.4"/>
<polygon points="543.8,136 548.4,143.9 540.9,141 536.3,133.1" fill="none" stroke="#000"/>
<polygon points="531.6,125 533.1,127.8 525.7,124.9 524.2,122.2" fill="#ffd300" stroke="#ffd300" stroke-width="0.4"/>
<polygon points="533.1,127.8 534.7,130.5 527.3,127.6 525.7,124.9" fill="#fff000" stroke="#fff000" stroke-width="0.4"/>
<polygon points="534.7,130.5 536.3,133.1 528.9,130.3 527.3,127.6" fill="#f3ff00" stroke="#f3ff00" stroke-width="0.4"/>
<polygon points="531.6,125 536.3,133.1 528.9,130.3 524.2,122.2" fill="none" stroke="#000"/>
<polygon points="519.5,113.9 521.1,116.7 513.7,114 512.2,111.2" fill="#ff8400" stroke="#ff8400" stroke-width="0.4"/>
<polygon points="521.1,116.7 522.6,119.5 515.3,116.7 513.7,114" fill="#ff9c00" stroke="#ff9c00" stroke-width="0.4"/>
<polygon points="522.6,119.5 524.2,122.2 516.8,119.4 515.3,116.7" fill="#ffb600" stroke="#ffb600" stroke-width="0.4"/>
<polygon points="519.5,113.9 524.2,122.2 516.8,119.4 512.2,111.2" fill="none" stroke="#000"/>
<polygon points="507.5,102.7 509.1,105.5 501.8,102.9 500.3,100" fill="#ff4400" stroke="#ff4400" stroke-width="0.4"/>
<polygon points="509.1,105.5 510.6,108.4 503.4,105.7 501.8,102.9" fill="#ff5800" stroke="#ff5800" stroke-width="0.4"/>
<polygon points="510.6,108.4 512.2,111.2 504.9,108.5 503.4,105.7" fill="#ff6c00" stroke="#ff6c00" stroke-width="0.4"/>
<polygon points="507.5,102.7 512.2,111.2 504.9,108.5 500.3,100" fill="none" stroke="#000"/>
<polygon points="551.4,138.9 552.9,141.6 545.3,138.7 543.8,136" fill="#d9ff00" stroke="#d9ff00" stroke-width="0.4"/>
<polygon points="552.9,141.6 554.5,144.3 546.9,141.3 545.3,138.7" fill="#beff00" stroke="#beff00" stroke-width="0.4"/>
<polygon points="554.5,144.3 556,146.9 548.4,143.9 546.9,141.3" fill="#9fff00" stroke="#9fff00" stroke-width="0.4"/>
<polygon points="551.4,138.9 556,146.9 548.4,143.9 543.8,136" fill="none" stroke="#000"/>
<polygon points="539.1,127.8 540.7,130.6 533.1,127.8 531.6,125" fill="#ffd300" stroke="#ffd300" stroke-width="0.4"/>
<polygon points="540.7,130.6 542.2,133.3 534.7,130.5 533.1,127.8" fill="#fff000" stroke="#fff000" stroke-width="0.4"/>
<polygon points="542.2,133.3 543.8,136 536.3,133.1 534.7,130.5" fill="#f3ff00" stroke="#f3ff00" stroke-width="0.4"/>
<polygon points="539.1,127.8 543.8,136 536.3,133.1 531.6,125" fill="none" stroke="#000"/>
<polygon points="526.9,116.6 528.5,119.5 521.1,116.7 519.5,113.9" fill="#ff8400" stroke="#ff8400" stroke-width="0.4"/>
<polygon points="528.5,119.5 530,122.3 522.6,119.5 521.1,116.7" fill="#ff9c00" stroke="#ff9c00" stroke-width="0.4"/>
<polygon points="530,122.3 531.6,125 524.2,122.2 522.6,119.5" fill="#ffb600" stroke="#ffb600" stroke-width="0.4"/>
<polygon points="526.9,116.6 531.6,125 524.2,122.2 519.5,113.9" fill="none" stroke="#000"/>
<polygon points="514.9,105.3 516.4,108.2 509.1,105.5 507.5,102.7" fill="#ff4400" stroke="#ff4400" stroke-width="0.4"/>
<polygon points="516.4,108.2 518,111.1 510.6,108.4 509.1,105.5" fill="#ff5800" stroke="#ff5800" stroke-width="0.4"/>
<polygon points="518,111.1 519.5,113.9 512.2,111.2 510.6,108.4" fill="#ff6c00" stroke="#ff6c00" stroke-width="0.4"/>
<polygon points="514.9,105.3 519.5,113.9 512.2,111.2 507.5,102.7" fill="none" stroke="#000"/>
<polygon points="546.7,130.7 548.3,133.5 540.7,130.6 539.1,127.8" fill="#ffd300" stroke="#ffd300" stroke-width="0.4"/>
<polygon points="548.3,133.5 549.8,136.3 542.2,133.3 540.7,130.6" fill="#fff000" stroke="#fff000" stroke-width="0.4"/>
<polygon points="549.8,136.3 551.4,138.9 543.8,136 542.2,133.3" fill="#f3ff00" stroke="#f3ff00" stroke-width="0.4"/>
<polygon points="546.7,130.7 551.4,138.9 543.8,136 539.1,127.8" fill="none" stroke="#000"/>
<polygon points="534.5,119.4 536,122.3 528.5,119.5 526.9,116.6" fill="#ff8400" stroke="#ff8400" stroke-width="0.4"/>
<polygon points="536,122.3 537.6,125.1 530,122.3 528.5,119.5" fill="#ff9d00" stroke="#ff9d00" stroke-width="0.4"/>
<polygon points="537.6,125.1 539.1,127.8 531.6,125 530,122.3" fill="#ffb700" stroke="#ffb700" stroke-width="0.4"/>
<polygon points="534.5,119.4 539.1,127.8 531.6,125 526.9,116.6" fill="none" stroke="#000"/>
<polygon points="522.3,108 523.9,111 516.4,108.2 514.9,105.3" fill="#ff4400" stroke="#ff4400" stroke-width="0.4"/>
<polygon points="523.9,111 525.4,113.8 518,111.1 516.4,108.2" fill="#ff5800" stroke="#ff5800" stroke-width="0.4"/>
<polygon points="525.4,113.8 526.9,116.6 519.5,113.9 518,111.1" fill="#ff6c00" stroke="#ff6c00" stroke-width="0.4"/>
<polygon points="522.3,108 526.9,116.6 519.5,113.9 514.9,105.3" fill="none" stroke="#000"/>
<polygon points="542.2,122.3 543.7,125.2 536,122.3 534.5,119.4" fill="#ff8400" stroke="#ff8400" stroke-width="0.4"/>
<polygon points="543.7,125.2 545.2,128 537.6,125.1 536,122.3" fill="#ff9d00" stroke="#ff9d00" stroke-width="0.4"/>
<polygon points="545.2,128 546.7,130.7 539.1,127.8 537.6,125.1" fill="#ffb700" stroke="#ffb700" stroke-width="0.4"/>
<polygon points="542.2,122.3 546.7,130.7 539.1,127.8 534.5,119.4" fill="none" stroke="#000"/>
<polygon points="529.9,110.8 531.4,113.7 523.9,111 522.3,108" fill="#ff4400" stroke="#ff4400" stroke-width="0.4"/>
<polygon points="531.4,113.7 533,116.6 525.4,113.8 523.9,111" fill="#ff5800" stroke="#ff5800" stroke-width="0.4"/>
<polygon points="533,116.6 534.5,119.4 526.9,116.6 525.4,113.8" fill="#ff6c00" stroke="#ff6c00" stroke-width="0.4"/>
<polygon points="529.9,110.8 534.5,119.4 526.9,116.6 522.3,108" fill="none" stroke="#000"/>
<polygon points="537.6,113.6 539.1,116.5 531.4,113.7 529.9,110.8" fill="#ff4400" stroke="#ff4400" stroke-width="0.4"/>
<polygon points="539.1,116.5 540.6,119.4 533,116.6 531.4,113.7" fill="#ff5800" stroke="#ff5800" stroke-width="0.4"/>
<polygon points="540.6,119.4 542.2,122.3 534.5,119.4 533,116.6" fill="#ff6c00" stroke="#ff6c00" stroke-width="0.4"/>
<polygon points="537.6,113.6 542.2,122.3 534.5,119.4 529.9,110.8" fill="none" stroke="#000"/>
</g>
<circle cx="537.1" cy="112" r="3.2" fill="#f8cdb0" stroke="#a07860" stroke-width="0.6"/>
<circle cx="668.2" cy="165.5" r="3.0" fill="#b80a0a" stroke="#6a0000" stroke-width="0.7"/>
</g>
<g id="plotC">
<polygon points="197.6,589.9 344.3,536 492.4,589.9 344.7,659.3" fill="#656565" stroke="#111" stroke-width="1.3" stroke-linejoin="round"/>
<path d="M265.3 564.9 L269.4 564.3 L273.4 563.8 L277.5 563.2 L281.5 562.7 L285.6 562.2 L289.6 561.7 L293.7 561.3 L297.8 560.8 L301.9 560.4 L305.9 560 L310 559.6" fill="none" stroke="#1428e0" stroke-width="2.1" stroke-linecap="round" stroke-linejoin="round"/>
<path d="M238.2 574.6 L243.3 574.3 L248.4 574 L253.5 573.9 L258.6 573.7 L263.8 573.7 L268.9 573.6 L274 573.7 L279.1 573.7 L284.3 573.8 L289.4 573.9 L294.5 574 L299.7 574.1 L304.8 574.2 L309.9 574.3 L315.1 574.5 L320.2 574.6 L325.3 574.7 L330.5 574.8 L335.6 574.8 L340.8 574.9 L345.9 574.9 L351 574.8 L356.2 574.8 L361.3 574.6 L366.5 574.5 L371.6 574.2 L376.7 573.9 L381.9 573.6 L387 573.1 L392.1 572.6 L397.2 571.9 L401.9 570.6 L406.1 568.4 L409.6 565.1 L412.2 560.2" fill="none" stroke="#1428e0" stroke-width="2.1" stroke-linecap="round" stroke-linejoin="round"/>
<path d="M216.4 582.3 L220.7 582.8 L225.1 583.3 L229.5 583.7 L233.9 584.1 L238.3 584.4 L242.8 584.7 L247.2 584.9 L251.7 585.2 L256.2 585.4 L260.7 585.6 L265.3 585.8 L269.8 586.1 L274.3 586.3 L278.8 586.6 L283.4 586.9 L287.9 587.2 L292.4 587.6 L296.9 588 L301.4 588.5 L305.9 589 L310.4 589.7 L314.8 590.4 L319.3 591.1 L323.7 592 L328 593 L332.4 594 L336.7 595.2 L341 596.5 L345.2 598 L349.4 599.5 L353.5 601.2 L357.5 603.1 L361.5 605.1 L365.3 607.3 L369 609.7 L372.6 612.3 L376 615.1 L379.3 618 L382.5 621.2 L385.5 624.6 L388.2 628.3 L390.8 632.1 L393.2 636.3" fill="none" stroke="#1428e0" stroke-width="2.1" stroke-linecap="round" stroke-linejoin="round"/>
<path d="M197.9 589.9 L202.7 590.2 L207.5 590.4 L212.3 590.8 L217 591.2 L221.8 591.6 L226.6 592 L231.3 592.5 L236.1 593.1 L240.8 593.7 L245.6 594.3 L250.3 595 L255.1 595.7 L259.8 596.4 L264.5 597.2 L269.2 598 L274 598.9 L278.7 599.8 L283.4 600.7 L288.1 601.7 L292.8 602.7 L297.5 603.8 L302.1 604.9 L306.8 606.2 L311.4 607.5 L315.9 609 L320.4 610.6 L324.8 612.4 L329.2 614.4 L333.4 616.5 L337.6 618.8 L341.7 621.3 L345.6 623.9 L349.4 626.8 L353.1 629.8 L356.7 633 L360.1 636.4 L363.4 640 L366.5 643.8 L369.4 647.7" fill="none" stroke="#1428e0" stroke-width="2.1" stroke-linecap="round" stroke-linejoin="round"/>
<path d="M222.4 601.3 L226.5 601.7 L230.5 602.2 L234.5 602.8 L238.5 603.5 L242.5 604.3 L246.4 605.1 L250.4 606 L254.3 606.9 L258.3 607.9 L262.2 608.9 L266.1 610 L270 611 L273.9 612.2 L277.8 613.3 L281.7 614.5 L285.5 615.7 L289.4 617 L293.2 618.4 L297 619.8 L300.8 621.3 L304.5 622.9 L308.2 624.5 L311.8 626.4 L315.4 628.3 L318.8 630.3 L322.2 632.4 L325.6 634.7 L328.8 637.1 L332 639.6 L335 642.2 L338 645 L340.8 648 L343.5 651 L346.1 654.2 L348.6 657.6" fill="none" stroke="#1428e0" stroke-width="2.1" stroke-linecap="round" stroke-linejoin="round"/>
<path d="M424 620.5 L424 618.4 L423.8 616.2 L423.6 614 L423.2 611.8 L422.9 609.5 L422.5 607.1 L422.1 604.7 L421.8 602.4 L421.6 600 L421.4 597.6 L421.3 595.2 L421.4 592.9 L421.7 590.6 L422.1 588.3 L422.8 586.2 L423.6 584.2 L424.7 582.4 L426 580.8 L427.6 579.5 L429.4 578.4 L431.4 577.5 L433.5 576.9 L435.8 576.4 L438.2 576.1 L440.6 575.9 L443.1 575.8 L445.5 575.8 L447.9 575.8 L450.2 575.9 L452.4 575.9 L454.4 575.9" fill="none" stroke="#1428e0" stroke-width="2.1" stroke-linecap="round" stroke-linejoin="round"/>
<path d="M187.7 390.3 L344.2 354.6 L502.5 390.2" fill="none" stroke="#1a1a1a" stroke-width="1.0" stroke-linecap="round" stroke-linejoin="round"/>
<path d="M189.2 420.8 L344.2 382.3 L501 420.7" fill="none" stroke="#1a1a1a" stroke-width="1.0" stroke-linecap="round" stroke-linejoin="round"/>
<path d="M190.7 451.2 L344.2 410 L499.4 451.2" fill="none" stroke="#1a1a1a" stroke-width="1.0" stroke-linecap="round" stroke-linejoin="round"/>
<path d="M192.2 481.7 L344.2 437.7 L497.9 481.7" fill="none" stroke="#1a1a1a" stroke-width="1.0" stroke-linecap="round" stroke-linejoin="round"/>
<path d="M193.7 512.2 L344.3 465.4 L496.3 512.2" fill="none" stroke="#1a1a1a" stroke-width="1.0" stroke-linecap="round" stroke-linejoin="round"/>
<path d="M195.3 542.7 L344.3 493.1 L494.8 542.6" fill="none" stroke="#1a1a1a" stroke-width="1.0" stroke-linecap="round" stroke-linejoin="round"/>
<line x1="197.6" y1="589.9" x2="187.7" y2="390.3" stroke="#1a1a1a" stroke-width="1.0"/>
<line x1="225.1" y1="532.7" x2="219" y2="383.2" stroke="#1a1a1a" stroke-width="1.0"/>
<line x1="254.9" y1="522.8" x2="250.3" y2="376" stroke="#1a1a1a" stroke-width="1.0"/>
<line x1="284.7" y1="512.9" x2="281.6" y2="368.9" stroke="#1a1a1a" stroke-width="1.0"/>
<line x1="314.5" y1="503" x2="312.9" y2="361.7" stroke="#1a1a1a" stroke-width="1.0"/>
<line x1="344.3" y1="536" x2="344.2" y2="354.6" stroke="#1a1a1a" stroke-width="1.0"/>
<line x1="374.4" y1="503" x2="375.9" y2="361.7" stroke="#1a1a1a" stroke-width="1.0"/>
<line x1="404.5" y1="512.9" x2="407.5" y2="368.8" stroke="#1a1a1a" stroke-width="1.0"/>
<line x1="434.6" y1="522.8" x2="439.2" y2="376" stroke="#1a1a1a" stroke-width="1.0"/>
<line x1="464.7" y1="532.7" x2="470.8" y2="383.1" stroke="#1a1a1a" stroke-width="1.0"/>
<line x1="492.4" y1="589.9" x2="502.5" y2="390.2" stroke="#1a1a1a" stroke-width="1.0"/>
<circle cx="187.7" cy="390.3" r="1.6" fill="#000" stroke="none" stroke-width="0"/>
<circle cx="189.2" cy="420.8" r="1.6" fill="#000" stroke="none" stroke-width="0"/>
<circle cx="190.7" cy="451.2" r="1.6" fill="#000" stroke="none" stroke-width="0"/>
<circle cx="192.2" cy="481.7" r="1.6" fill="#000" stroke="none" stroke-width="0"/>
<circle cx="193.7" cy="512.2" r="1.6" fill="#000" stroke="none" stroke-width="0"/>
<circle cx="195.3" cy="542.7" r="1.6" fill="#000" stroke="none" stroke-width="0"/>
<circle cx="344.7" cy="659.3" r="1.6" fill="#000" stroke="none" stroke-width="0"/>
<circle cx="374.2" cy="645.4" r="1.6" fill="#000" stroke="none" stroke-width="0"/>
<circle cx="403.8" cy="631.5" r="1.6" fill="#000" stroke="none" stroke-width="0"/>
<circle cx="433.3" cy="617.7" r="1.6" fill="#000" stroke="none" stroke-width="0"/>
<circle cx="462.9" cy="603.8" r="1.6" fill="#000" stroke="none" stroke-width="0"/>
<circle cx="492.4" cy="589.9" r="1.6" fill="#000" stroke="none" stroke-width="0"/>
<circle cx="344.7" cy="659.3" r="1.6" fill="#000" stroke="none" stroke-width="0"/>
<circle cx="315.3" cy="645.4" r="1.6" fill="#000" stroke="none" stroke-width="0"/>
<circle cx="285.9" cy="631.5" r="1.6" fill="#000" stroke="none" stroke-width="0"/>
<circle cx="256.4" cy="617.7" r="1.6" fill="#000" stroke="none" stroke-width="0"/>
<circle cx="227" cy="603.8" r="1.6" fill="#000" stroke="none" stroke-width="0"/>
<circle cx="197.6" cy="589.9" r="1.6" fill="#000" stroke="none" stroke-width="0"/>
<circle cx="193.2" cy="512.8" r="3.2" fill="#f8cdb0" stroke="#a07860" stroke-width="0.6"/>
<circle cx="344.7" cy="574.9" r="3.2" fill="#f8cdb0" stroke="#a07860" stroke-width="0.6"/>
<g stroke-width="0.8" stroke-linejoin="round" stroke-opacity="0.6">
<polygon points="344.4,468.9 350.5,466.9 344.3,465 338.2,466.9" fill="#0000fc" stroke="#000"/>
<polygon points="338.2,470.9 344.4,468.9 338.2,466.9 332,468.9" fill="#0000fc" stroke="#000"/>
<polygon points="350.6,470.9 356.8,468.9 350.5,466.9 344.4,468.9" fill="#0000fc" stroke="#000"/>
<polygon points="331.9,472.9 338.2,470.9 332,468.9 325.7,470.9" fill="#0000fc" stroke="#000"/>
<polygon points="344.4,472.9 350.6,470.9 344.4,468.9 338.2,470.9" fill="#0000fc" stroke="#000"/>
<polygon points="356.9,472.9 363.1,470.9 356.8,468.9 350.6,470.9" fill="#0000fc" stroke="#000"/>
<polygon points="325.5,475 331.9,472.9 325.7,470.9 319.4,472.9" fill="#0000fc" stroke="#000"/>
<polygon points="338.1,475 344.4,472.9 338.2,470.9 331.9,472.9" fill="#0000fc" stroke="#000"/>
<polygon points="350.7,475 356.9,472.9 350.6,470.9 344.4,472.9" fill="#0000fc" stroke="#000"/>
<polygon points="363.3,475 369.4,472.9 363.1,470.9 356.9,472.9" fill="#0000fc" stroke="#000"/>
<polygon points="319.1,477 325.5,475 319.4,472.9 313,474.9" fill="#0000fc" stroke="#000"/>
<polygon points="331.8,477 338.1,475 331.9,472.9 325.5,475" fill="#0000fc" stroke="#000"/>
<polygon points="344.4,477 350.7,475 344.4,472.9 338.1,475" fill="#0000fc" stroke="#000"/>
<polygon points="357.1,477 363.3,475 356.9,472.9 350.7,475" fill="#0000fc" stroke="#000"/>
<polygon points="369.7,477 375.9,475 369.4,472.9 363.3,475" fill="#0000fc" stroke="#000"/>
<polygon points="312.7,479.1 319.1,477 313,474.9 306.5,477" fill="#0000fc" stroke="#000"/>
<polygon points="325.4,479.1 331.8,477 325.5,475 319.1,477" fill="#0000fc" stroke="#000"/>
<polygon points="338.1,479.1 344.4,477 338.1,475 331.8,477" fill="#0000fc" stroke="#000"/>
<polygon points="350.8,479.1 357.1,477 350.7,475 344.4,477" fill="#0000fc" stroke="#000"/>
<polygon points="363.5,479.1 369.7,477 363.3,475 357.1,477" fill="#0000fc" stroke="#000"/>
<polygon points="376.2,479.1 382.4,477 375.9,475 369.7,477" fill="#0000fc" stroke="#000"/>
<polygon points="306.1,481.2 312.7,479.1 306.5,477 300,479.1" fill="#0000fc" stroke="#000"/>
<polygon points="318.9,481.2 325.4,479.1 319.1,477 312.7,479.1" fill="#0000fc" stroke="#000"/>
<polygon points="331.7,481.2 338.1,479.1 331.8,477 325.4,479.1" fill="#0000fc" stroke="#000"/>
<polygon points="344.4,481.2 350.8,479.1 344.4,477 338.1,479.1" fill="#0000fc" stroke="#000"/>
<polygon points="357.2,481.2 363.5,479.1 357.1,477 350.8,479.1" fill="#0000fc" stroke="#000"/>
<polygon points="370,481.2 376.2,479.1 369.7,477 363.5,479.1" fill="#0000fc" stroke="#000"/>
<polygon points="382.8,481.2 388.9,479.1 382.4,477 376.2,479.1" fill="#0000fc" stroke="#000"/>
<polygon points="299.5,483.3 306.1,481.2 300,479.1 293.4,481.2" fill="#0000fc" stroke="#000"/>
<polygon points="312.4,483.3 318.9,481.2 312.7,479.1 306.1,481.2" fill="#0000fc" stroke="#000"/>
<polygon points="325.2,483.3 331.7,481.2 325.4,479.1 318.9,481.2" fill="#0000fc" stroke="#000"/>
<polygon points="338,483.3 344.4,481.2 338.1,479.1 331.7,481.2" fill="#0000fc" stroke="#000"/>
<polygon points="350.9,483.3 357.2,481.2 350.8,479.1 344.4,481.2" fill="#0000fc" stroke="#000"/>
<polygon points="363.7,483.3 370,481.2 363.5,479.1 357.2,481.2" fill="#0000fc" stroke="#000"/>
<polygon points="376.6,483.4 382.8,481.2 376.2,479.1 370,481.2" fill="#0000fc" stroke="#000"/>
<polygon points="389.4,483.4 395.6,481.2 388.9,479.1 382.8,481.2" fill="#0000fc" stroke="#000"/>
<polygon points="292.9,485.4 299.5,483.3 293.4,481.2 286.7,483.3" fill="#0000fc" stroke="#000"/>
<polygon points="305.8,485.4 312.4,483.3 306.1,481.2 299.5,483.3" fill="#0000fc" stroke="#000"/>
<polygon points="318.7,485.5 325.2,483.3 318.9,481.2 312.4,483.3" fill="#0000fc" stroke="#000"/>
<polygon points="331.6,485.5 338,483.3 331.7,481.2 325.2,483.3" fill="#0000fc" stroke="#000"/>
<polygon points="344.5,485.5 350.9,483.3 344.4,481.2 338,483.3" fill="#0000fc" stroke="#000"/>
<polygon points="357.4,485.5 363.7,483.3 357.2,481.2 350.9,483.3" fill="#0000fc" stroke="#000"/>
<polygon points="370.3,485.5 376.6,483.4 370,481.2 363.7,483.3" fill="#0000fc" stroke="#000"/>
<polygon points="383.2,485.5 389.4,483.4 382.8,481.2 376.6,483.4" fill="#0000fc" stroke="#000"/>
<polygon points="396.1,485.5 402.3,483.4 395.6,481.2 389.4,483.4" fill="#0000fc" stroke="#000"/>
<polygon points="286.2,487.6 292.9,485.4 286.7,483.3 280,485.4" fill="#0000fc" stroke="#000"/>
<polygon points="299.1,487.6 305.8,485.4 299.5,483.3 292.9,485.4" fill="#0000fc" stroke="#000"/>
<polygon points="312.1,487.6 318.7,485.5 312.4,483.3 305.8,485.4" fill="#0000fc" stroke="#000"/>
<polygon points="325,487.6 331.6,485.5 325.2,483.3 318.7,485.5" fill="#0000fc" stroke="#000"/>
<polygon points="338,487.6 344.5,485.5 338,483.3 331.6,485.5" fill="#0000fc" stroke="#000"/>
<polygon points="351,487.7 357.4,485.5 350.9,483.3 344.5,485.5" fill="#0000fc" stroke="#000"/>
<polygon points="363.9,487.7 370.3,485.5 363.7,483.3 357.4,485.5" fill="#0000fc" stroke="#000"/>
<polygon points="376.9,487.7 383.2,485.5 376.6,483.4 370.3,485.5" fill="#0000fc" stroke="#000"/>
<polygon points="389.9,487.7 396.1,485.5 389.4,483.4 383.2,485.5" fill="#0000fc" stroke="#000"/>
<polygon points="402.9,487.7 409,485.5 402.3,483.4 396.1,485.5" fill="#0000fc" stroke="#000"/>
<polygon points="279.4,489.8 286.2,487.6 280,485.4 273.2,487.6" fill="#0000fc" stroke="#000"/>
<polygon points="292.4,489.8 299.1,487.6 292.9,485.4 286.2,487.6" fill="#0000fc" stroke="#000"/>
<polygon points="305.4,489.8 312.1,487.6 305.8,485.4 299.1,487.6" fill="#0000fc" stroke="#000"/>
<polygon points="318.4,489.8 325,487.6 318.7,485.5 312.1,487.6" fill="#0000fc" stroke="#000"/>
<polygon points="331.5,489.8 338,487.6 331.6,485.5 325,487.6" fill="#0000fc" stroke="#000"/>
<polygon points="344.5,489.8 351,487.7 344.5,485.5 338,487.6" fill="#0000fc" stroke="#000"/>
<polygon points="357.5,489.9 363.9,487.7 357.4,485.5 351,487.7" fill="#0000fc" stroke="#000"/>
<polygon points="370.6,489.9 376.9,487.7 370.3,485.5 363.9,487.7" fill="#0000fc" stroke="#000"/>
<polygon points="383.6,489.9 389.9,487.7 383.2,485.5 376.9,487.7" fill="#0000fc" stroke="#000"/>
<polygon points="396.7,489.9 402.9,487.7 396.1,485.5 389.9,487.7" fill="#0000fc" stroke="#000"/>
<polygon points="409.7,489.9 415.9,487.7 409,485.5 402.9,487.7" fill="#0000fc" stroke="#000"/>
<polygon points="272.5,492 279.4,489.8 273.2,487.6 266.3,489.8" fill="#0000fc" stroke="#000"/>
<polygon points="285.6,492 292.4,489.8 286.2,487.6 279.4,489.8" fill="#0000fc" stroke="#000"/>
<polygon points="298.7,492 305.4,489.8 299.1,487.6 292.4,489.8" fill="#0000fc" stroke="#000"/>
<polygon points="311.8,492 318.4,489.8 312.1,487.6 305.4,489.8" fill="#0000fc" stroke="#000"/>
<polygon points="324.9,492 331.5,489.8 325,487.6 318.4,489.8" fill="#0000fc" stroke="#000"/>
<polygon points="338,492.1 344.5,489.8 338,487.6 331.5,489.8" fill="#0000fc" stroke="#000"/>
<polygon points="351.1,492.1 357.5,489.9 351,487.7 344.5,489.8" fill="#0000fc" stroke="#000"/>
<polygon points="364.2,492.1 370.6,489.9 363.9,487.7 357.5,489.9" fill="#0000fc" stroke="#000"/>
<polygon points="377.3,492.1 383.6,489.9 376.9,487.7 370.6,489.9" fill="#0000fc" stroke="#000"/>
<polygon points="390.4,492.1 396.7,489.9 389.9,487.7 383.6,489.9" fill="#0000fc" stroke="#000"/>
<polygon points="403.5,492.1 409.7,489.9 402.9,487.7 396.7,489.9" fill="#0000fc" stroke="#000"/>
<polygon points="416.7,492.1 422.8,489.9 415.9,487.7 409.7,489.9" fill="#0000fc" stroke="#000"/>
<polygon points="265.6,494.2 272.5,492 266.3,489.8 259.4,492" fill="#0000fc" stroke="#000"/>
<polygon points="278.7,494.2 285.6,492 279.4,489.8 272.5,492" fill="#0000fc" stroke="#000"/>
<polygon points="291.9,494.2 298.7,492 292.4,489.8 285.6,492" fill="#0000fc" stroke="#000"/>
<polygon points="305,494.3 311.8,492 305.4,489.8 298.7,492" fill="#0000fc" stroke="#000"/>
<polygon points="318.2,494.3 324.9,492 318.4,489.8 311.8,492" fill="#0000fc" stroke="#000"/>
<polygon points="331.3,494.3 338,492.1 331.5,489.8 324.9,492" fill="#0000fc" stroke="#000"/>
<polygon points="344.5,494.3 351.1,492.1 344.5,489.8 338,492.1" fill="#0000fc" stroke="#000"/>
<polygon points="357.7,494.3 364.2,492.1 357.5,489.9 351.1,492.1" fill="#0000fc" stroke="#000"/>
<polygon points="370.9,494.3 377.3,492.1 370.6,489.9 364.2,492.1" fill="#0000fc" stroke="#000"/>
<polygon points="384.1,494.3 390.4,492.1 383.6,489.9 377.3,492.1" fill="#0000fc" stroke="#000"/>
<polygon points="397.3,494.3 403.5,492.1 396.7,489.9 390.4,492.1" fill="#0000fc" stroke="#000"/>
<polygon points="410.4,494.3 416.7,492.1 409.7,489.9 403.5,492.1" fill="#0000fc" stroke="#000"/>
<polygon points="423.6,494.3 429.8,492.1 422.8,489.9 416.7,492.1" fill="#0000fc" stroke="#000"/>
<polygon points="258.5,496.5 265.6,494.2 259.4,492 252.4,494.2" fill="#0000fc" stroke="#000"/>
<polygon points="271.8,496.5 278.7,494.2 272.5,492 265.6,494.2" fill="#0000fc" stroke="#000"/>
<polygon points="285,496.5 291.9,494.2 285.6,492 278.7,494.2" fill="#0000fc" stroke="#000"/>
<polygon points="298.2,496.5 305,494.3 298.7,492 291.9,494.2" fill="#0000fc" stroke="#000"/>
<polygon points="311.4,496.5 318.2,494.3 311.8,492 305,494.3" fill="#0000fc" stroke="#000"/>
<polygon points="324.7,496.5 331.3,494.3 324.9,492 318.2,494.3" fill="#0000fc" stroke="#000"/>
<polygon points="337.9,496.6 344.5,494.3 338,492.1 331.3,494.3" fill="#0000fc" stroke="#000"/>
<polygon points="351.2,496.6 357.7,494.3 351.1,492.1 344.5,494.3" fill="#0000fc" stroke="#000"/>
<polygon points="364.4,496.6 370.9,494.3 364.2,492.1 357.7,494.3" fill="#0000fc" stroke="#000"/>
<polygon points="377.7,496.6 384.1,494.3 377.3,492.1 370.9,494.3" fill="#0000fc" stroke="#000"/>
<polygon points="390.9,496.6 397.3,494.3 390.4,492.1 384.1,494.3" fill="#0000fc" stroke="#000"/>
<polygon points="404.2,496.6 410.4,494.3 403.5,492.1 397.3,494.3" fill="#0000fc" stroke="#000"/>
<polygon points="417.4,496.6 423.6,494.3 416.7,492.1 410.4,494.3" fill="#0000fc" stroke="#000"/>
<polygon points="430.7,496.6 436.8,494.3 429.8,492.1 423.6,494.3" fill="#0000fc" stroke="#000"/>
<polygon points="251.5,498.7 258.5,496.5 252.4,494.2 245.3,496.4" fill="#0000fc" stroke="#000"/>
<polygon points="264.7,498.7 271.8,496.5 265.6,494.2 258.5,496.5" fill="#0000fc" stroke="#000"/>
<polygon points="278,498.8 285,496.5 278.7,494.2 271.8,496.5" fill="#0000fc" stroke="#000"/>
<polygon points="291.3,498.8 298.2,496.5 291.9,494.2 285,496.5" fill="#0000fc" stroke="#000"/>
<polygon points="304.6,498.8 311.4,496.5 305,494.3 298.2,496.5" fill="#0000fc" stroke="#000"/>
<polygon points="317.9,498.8 324.7,496.5 318.2,494.3 311.4,496.5" fill="#0000fc" stroke="#000"/>
<polygon points="331.2,498.8 337.9,496.6 331.3,494.3 324.7,496.5" fill="#0000fc" stroke="#000"/>
<polygon points="344.5,498.9 351.2,496.6 344.5,494.3 337.9,496.6" fill="#0000fc" stroke="#000"/>
<polygon points="357.9,498.9 364.4,496.6 357.7,494.3 351.2,496.6" fill="#0000fc" stroke="#000"/>
<polygon points="371.2,498.9 377.7,496.6 370.9,494.3 364.4,496.6" fill="#0000fc" stroke="#000"/>
<polygon points="384.5,498.9 390.9,496.6 384.1,494.3 377.7,496.6" fill="#0000fc" stroke="#000"/>
<polygon points="397.8,498.9 404.2,496.6 397.3,494.3 390.9,496.6" fill="#0000fc" stroke="#000"/>
<polygon points="411.2,498.9 417.4,496.6 410.4,494.3 404.2,496.6" fill="#0000fc" stroke="#000"/>
<polygon points="424.5,498.9 430.7,496.6 423.6,494.3 417.4,496.6" fill="#0000fc" stroke="#000"/>
<polygon points="437.9,498.9 444,496.6 436.8,494.3 430.7,496.6" fill="#0000fc" stroke="#000"/>
<polygon points="244.3,501 251.5,498.7 245.3,496.4 238.2,498.7" fill="#0000fc" stroke="#000"/>
<polygon points="257.7,501 264.7,498.7 258.5,496.5 251.5,498.7" fill="#0000fc" stroke="#000"/>
<polygon points="271,501.1 278,498.8 271.8,496.5 264.7,498.7" fill="#0000fc" stroke="#000"/>
<polygon points="284.4,501.1 291.3,498.8 285,496.5 278,498.8" fill="#0000fc" stroke="#000"/>
<polygon points="297.7,501.1 304.6,498.8 298.2,496.5 291.3,498.8" fill="#0000fc" stroke="#000"/>
<polygon points="311.1,501.1 317.9,498.8 311.4,496.5 304.6,498.8" fill="#0000fc" stroke="#000"/>
<polygon points="324.5,501.1 331.2,498.8 324.7,496.5 317.9,498.8" fill="#0000fc" stroke="#000"/>
<polygon points="337.9,501.2 344.5,498.9 337.9,496.6 331.2,498.8" fill="#0000fc" stroke="#000"/>
<polygon points="351.3,501.2 357.9,498.9 351.2,496.6 344.5,498.9" fill="#0000fc" stroke="#000"/>
<polygon points="364.6,501.2 371.2,498.9 364.4,496.6 357.9,498.9" fill="#0000fc" stroke="#000"/>
<polygon points="378,501.2 384.5,498.9 377.7,496.6 371.2,498.9" fill="#0000fc" stroke="#000"/>
<polygon points="391.4,501.2 397.8,498.9 390.9,496.6 384.5,498.9" fill="#0000fc" stroke="#000"/>
<polygon points="404.8,501.2 411.2,498.9 404.2,496.6 397.8,498.9" fill="#0000fc" stroke="#000"/>
<polygon points="418.2,501.2 424.5,498.9 417.4,496.6 411.2,498.9" fill="#0000fc" stroke="#000"/>
<polygon points="431.7,501.2 437.9,498.9 430.7,496.6 424.5,498.9" fill="#0000fc" stroke="#000"/>
<polygon points="445.1,501.2 451.2,498.9 444,496.6 437.9,498.9" fill="#0000fc" stroke="#000"/>
<polygon points="237.1,503.3 244.3,501 238.2,498.7 231,501" fill="#0000fc" stroke="#000"/>
<polygon points="250.5,503.4 257.7,501 251.5,498.7 244.3,501" fill="#0000fc" stroke="#000"/>
<polygon points="263.9,503.4 271,501.1 264.7,498.7 257.7,501" fill="#0000fc" stroke="#000"/>
<polygon points="277.4,503.4 284.4,501.1 278,498.8 271,501.1" fill="#0000fc" stroke="#000"/>
<polygon points="290.8,503.4 297.7,501.1 291.3,498.8 284.4,501.1" fill="#0000fc" stroke="#000"/>
<polygon points="304.2,503.5 311.1,501.1 304.6,498.8 297.7,501.1" fill="#0000fc" stroke="#000"/>
<polygon points="317.7,503.5 324.5,501.1 317.9,498.8 311.1,501.1" fill="#0000fc" stroke="#000"/>
<polygon points="331.1,503.5 337.9,501.2 331.2,498.8 324.5,501.1" fill="#0000fc" stroke="#000"/>
<polygon points="344.6,503.5 351.3,501.2 344.5,498.9 337.9,501.2" fill="#0000fc" stroke="#000"/>
<polygon points="358,503.5 364.6,501.2 357.9,498.9 351.3,501.2" fill="#0000fc" stroke="#000"/>
<polygon points="371.5,503.5 378,501.2 371.2,498.9 364.6,501.2" fill="#0000fc" stroke="#000"/>
<polygon points="385,503.5 391.4,501.2 384.5,498.9 378,501.2" fill="#0000fc" stroke="#000"/>
<polygon points="398.4,503.5 404.8,501.2 397.8,498.9 391.4,501.2" fill="#0000fc" stroke="#000"/>
<polygon points="411.9,503.5 418.2,501.2 411.2,498.9 404.8,501.2" fill="#0000fc" stroke="#000"/>
<polygon points="425.4,503.5 431.7,501.2 424.5,498.9 418.2,501.2" fill="#0000fc" stroke="#000"/>
<polygon points="438.9,503.5 445.1,501.2 437.9,498.9 431.7,501.2" fill="#0000fc" stroke="#000"/>
<polygon points="452.4,503.5 458.5,501.2 451.2,498.9 445.1,501.2" fill="#0000fc" stroke="#000"/>
<polygon points="229.8,505.7 237.1,503.3 231,501 223.7,503.3" fill="#0000fc" stroke="#000"/>
<polygon points="243.3,505.7 250.5,503.4 244.3,501 237.1,503.3" fill="#0000fc" stroke="#000"/>
<polygon points="256.7,505.7 263.9,503.4 257.7,501 250.5,503.4" fill="#0000fc" stroke="#000"/>
<polygon points="270.3,505.8 277.4,503.4 271,501.1 263.9,503.4" fill="#0000fc" stroke="#000"/>
<polygon points="283.8,505.8 290.8,503.4 284.4,501.1 277.4,503.4" fill="#0000fc" stroke="#000"/>
<polygon points="297.3,505.8 304.2,503.5 297.7,501.1 290.8,503.4" fill="#0000fc" stroke="#000"/>
<polygon points="310.8,505.8 317.7,503.5 311.1,501.1 304.2,503.5" fill="#0000fc" stroke="#000"/>
<polygon points="324.3,505.9 331.1,503.5 324.5,501.1 317.7,503.5" fill="#0000fc" stroke="#000"/>
<polygon points="337.8,505.9 344.6,503.5 337.9,501.2 331.1,503.5" fill="#0000fc" stroke="#000"/>
<polygon points="351.4,505.9 358,503.5 351.3,501.2 344.6,503.5" fill="#0000fc" stroke="#000"/>
<polygon points="364.9,505.9 371.5,503.5 364.6,501.2 358,503.5" fill="#0000fc" stroke="#000"/>
<polygon points="378.4,505.9 385,503.5 378,501.2 371.5,503.5" fill="#0000fc" stroke="#000"/>
<polygon points="392,505.9 398.4,503.5 391.4,501.2 385,503.5" fill="#0000fc" stroke="#000"/>
<polygon points="405.5,505.9 411.9,503.5 404.8,501.2 398.4,503.5" fill="#0000fc" stroke="#000"/>
<polygon points="419.1,505.9 425.4,503.5 418.2,501.2 411.9,503.5" fill="#0000fc" stroke="#000"/>
<polygon points="432.6,505.9 438.9,503.5 431.7,501.2 425.4,503.5" fill="#0000fc" stroke="#000"/>
<polygon points="446.2,505.9 452.4,503.5 445.1,501.2 438.9,503.5" fill="#0000fc" stroke="#000"/>
<polygon points="459.7,505.9 465.9,503.5 458.5,501.2 452.4,503.5" fill="#0000fc" stroke="#000"/>
<polygon points="222.4,508.1 229.8,505.7 223.7,503.3 216.3,505.7" fill="#0000fc" stroke="#000"/>
<polygon points="235.9,508.1 243.3,505.7 237.1,503.3 229.8,505.7" fill="#0000fc" stroke="#000"/>
<polygon points="249.5,508.1 256.7,505.7 250.5,503.4 243.3,505.7" fill="#0000fc" stroke="#000"/>
<polygon points="263.1,508.1 270.3,505.8 263.9,503.4 256.7,505.7" fill="#0000fc" stroke="#000"/>
<polygon points="276.7,508.2 283.8,505.8 277.4,503.4 270.3,505.8" fill="#0000fc" stroke="#000"/>
<polygon points="290.2,508.2 297.3,505.8 290.8,503.4 283.8,505.8" fill="#0000fc" stroke="#000"/>
<polygon points="303.8,508.2 310.8,505.8 304.2,503.5 297.3,505.8" fill="#0000fc" stroke="#000"/>
<polygon points="317.4,508.2 324.3,505.9 317.7,503.5 310.8,505.8" fill="#0000fc" stroke="#000"/>
<polygon points="331,508.2 337.8,505.9 331.1,503.5 324.3,505.9" fill="#0000fc" stroke="#000"/>
<polygon points="344.6,508.3 351.4,505.9 344.6,503.5 337.8,505.9" fill="#0000fc" stroke="#000"/>
<polygon points="358.2,508.3 364.9,505.9 358,503.5 351.4,505.9" fill="#0000fc" stroke="#000"/>
<polygon points="371.8,508.3 378.4,505.9 371.5,503.5 364.9,505.9" fill="#0000fc" stroke="#000"/>
<polygon points="385.4,508.3 392,505.9 385,503.5 378.4,505.9" fill="#0000fc" stroke="#000"/>
<polygon points="399,508.3 405.5,505.9 398.4,503.5 392,505.9" fill="#0000fc" stroke="#000"/>
<polygon points="412.7,508.3 419.1,505.9 411.9,503.5 405.5,505.9" fill="#0000fc" stroke="#000"/>
<polygon points="426.3,508.3 432.6,505.9 425.4,503.5 419.1,505.9" fill="#0000fc" stroke="#000"/>
<polygon points="439.9,508.3 446.2,505.9 438.9,503.5 432.6,505.9" fill="#0000fc" stroke="#000"/>
<polygon points="453.6,508.3 459.7,505.9 452.4,503.5 446.2,505.9" fill="#0000fc" stroke="#000"/>
<polygon points="467.2,508.3 473.3,505.9 465.9,503.5 459.7,505.9" fill="#0000fc" stroke="#000"/>
<polygon points="214.9,510.4 222.4,508.1 216.3,505.7 208.8,508" fill="#0000fc" stroke="#000"/>
<polygon points="228.5,510.5 235.9,508.1 229.8,505.7 222.4,508.1" fill="#0000fc" stroke="#000"/>
<polygon points="242.2,510.5 249.5,508.1 243.3,505.7 235.9,508.1" fill="#0000fc" stroke="#000"/>
<polygon points="255.8,510.5 263.1,508.1 256.7,505.7 249.5,508.1" fill="#0000fc" stroke="#000"/>
<polygon points="269.5,510.6 276.7,508.2 270.3,505.8 263.1,508.1" fill="#0000fc" stroke="#000"/>
<polygon points="283.1,510.6 290.2,508.2 283.8,505.8 276.7,508.2" fill="#0000fc" stroke="#000"/>
<polygon points="296.8,510.6 303.8,508.2 297.3,505.8 290.2,508.2" fill="#0000fc" stroke="#000"/>
<polygon points="310.4,510.6 317.4,508.2 310.8,505.8 303.8,508.2" fill="#0000fc" stroke="#000"/>
<polygon points="324.1,510.7 331,508.2 324.3,505.9 317.4,508.2" fill="#0000fc" stroke="#000"/>
<polygon points="337.8,510.7 344.6,508.3 337.8,505.9 331,508.2" fill="#0000fc" stroke="#000"/>
<polygon points="351.5,510.7 358.2,508.3 351.4,505.9 344.6,508.3" fill="#0000fc" stroke="#000"/>
<polygon points="365.1,510.7 371.8,508.3 364.9,505.9 358.2,508.3" fill="#0000fc" stroke="#000"/>
<polygon points="378.8,510.7 385.4,508.3 378.4,505.9 371.8,508.3" fill="#0000fc" stroke="#000"/>
<polygon points="392.5,510.7 399,508.3 392,505.9 385.4,508.3" fill="#0000fc" stroke="#000"/>
<polygon points="406.2,510.7 412.7,508.3 405.5,505.9 399,508.3" fill="#0000fc" stroke="#000"/>
<polygon points="419.9,510.7 426.3,508.3 419.1,505.9 412.7,508.3" fill="#0000fc" stroke="#000"/>
<polygon points="433.6,510.7 439.9,508.3 432.6,505.9 426.3,508.3" fill="#0000fc" stroke="#000"/>
<polygon points="447.3,510.7 453.6,508.3 446.2,505.9 439.9,508.3" fill="#0000fc" stroke="#000"/>
<polygon points="461,510.7 467.2,508.3 459.7,505.9 453.6,508.3" fill="#0000fc" stroke="#000"/>
<polygon points="474.7,510.7 480.9,508.3 473.3,505.9 467.2,508.3" fill="#0000fc" stroke="#000"/>
<polygon points="207.4,512.9 214.9,510.4 208.8,508 201.3,510.4" fill="#0000fc" stroke="#000"/>
<polygon points="221.1,512.9 228.5,510.5 222.4,508.1 214.9,510.4" fill="#0000fc" stroke="#000"/>
<polygon points="234.8,512.9 242.2,510.5 235.9,508.1 228.5,510.5" fill="#0000fc" stroke="#000"/>
<polygon points="248.5,513 255.8,510.5 249.5,508.1 242.2,510.5" fill="#0000fc" stroke="#000"/>
<polygon points="262.2,513 269.5,510.6 263.1,508.1 255.8,510.5" fill="#0000fc" stroke="#000"/>
<polygon points="275.9,513 283.1,510.6 276.7,508.2 269.5,510.6" fill="#0000fc" stroke="#000"/>
<polygon points="289.7,513 296.8,510.6 290.2,508.2 283.1,510.6" fill="#0000fc" stroke="#000"/>
<polygon points="303.4,513.1 310.4,510.6 303.8,508.2 296.8,510.6" fill="#0000fc" stroke="#000"/>
<polygon points="317.1,513.1 324.1,510.7 317.4,508.2 310.4,510.6" fill="#0000fc" stroke="#000"/>
<polygon points="330.9,513.1 337.8,510.7 331,508.2 324.1,510.7" fill="#0000fc" stroke="#000"/>
<polygon points="344.6,513.1 351.5,510.7 344.6,508.3 337.8,510.7" fill="#0000fc" stroke="#000"/>
<polygon points="358.4,513.1 365.1,510.7 358.2,508.3 351.5,510.7" fill="#0000fc" stroke="#000"/>
<polygon points="372.1,513.1 378.8,510.7 371.8,508.3 365.1,510.7" fill="#0000fc" stroke="#000"/>
<polygon points="385.9,513.2 392.5,510.7 385.4,508.3 378.8,510.7" fill="#0000fc" stroke="#000"/>
<polygon points="399.7,513.2 406.2,510.7 399,508.3 392.5,510.7" fill="#0000fc" stroke="#000"/>
<polygon points="413.4,513.2 419.9,510.7 412.7,508.3 406.2,510.7" fill="#0000fc" stroke="#000"/>
<polygon points="427.2,513.2 433.6,510.7 426.3,508.3 419.9,510.7" fill="#0000fc" stroke="#000"/>
<polygon points="441,513.2 447.3,510.7 439.9,508.3 433.6,510.7" fill="#0000fc" stroke="#000"/>
<polygon points="454.8,513.2 461,510.7 453.6,508.3 447.3,510.7" fill="#0000fc" stroke="#000"/>
<polygon points="468.6,513.2 474.7,510.7 467.2,508.3 461,510.7" fill="#0000fc" stroke="#000"/>
<polygon points="482.4,513.2 488.5,510.7 480.9,508.3 474.7,510.7" fill="#0000fc" stroke="#000"/>
<polygon points="199.7,515.3 207.4,512.9 201.3,510.4 193.7,512.8" fill="#0000fc" stroke="#000"/>
<polygon points="213.5,515.4 221.1,512.9 214.9,510.4 207.4,512.9" fill="#0000fc" stroke="#000"/>
<polygon points="227.3,515.4 234.8,512.9 228.5,510.5 221.1,512.9" fill="#0000fc" stroke="#000"/>
<polygon points="241.1,515.4 248.5,513 242.2,510.5 234.8,512.9" fill="#0000fc" stroke="#000"/>
<polygon points="254.9,515.5 262.2,513 255.8,510.5 248.5,513" fill="#0000fc" stroke="#000"/>
<polygon points="268.7,515.5 275.9,513 269.5,510.6 262.2,513" fill="#0000fc" stroke="#000"/>
<polygon points="282.5,515.5 289.7,513 283.1,510.6 275.9,513" fill="#0000fc" stroke="#000"/>
<polygon points="296.3,515.5 303.4,513.1 296.8,510.6 289.7,513" fill="#0000fc" stroke="#000"/>
<polygon points="310.1,515.6 317.1,513.1 310.4,510.6 303.4,513.1" fill="#0000fc" stroke="#000"/>
<polygon points="323.9,515.6 330.9,513.1 324.1,510.7 317.1,513.1" fill="#0000fc" stroke="#000"/>
<polygon points="337.7,515.6 344.6,513.1 337.8,510.7 330.9,513.1" fill="#0000fc" stroke="#000"/>
<polygon points="351.6,515.6 358.4,513.1 351.5,510.7 344.6,513.1" fill="#0000fc" stroke="#000"/>
<polygon points="365.4,515.6 372.1,513.1 365.1,510.7 358.4,513.1" fill="#0000fc" stroke="#000"/>
<polygon points="379.2,515.6 385.9,513.2 378.8,510.7 372.1,513.1" fill="#0000fc" stroke="#000"/>
<polygon points="393.1,515.6 399.7,513.2 392.5,510.7 385.9,513.2" fill="#0000fc" stroke="#000"/>
<polygon points="406.9,515.6 413.4,513.2 406.2,510.7 399.7,513.2" fill="#0000fc" stroke="#000"/>
<polygon points="420.8,515.6 427.2,513.2 419.9,510.7 413.4,513.2" fill="#0000fc" stroke="#000"/>
<polygon points="434.6,515.6 441,513.2 433.6,510.7 427.2,513.2" fill="#0000fc" stroke="#000"/>
<polygon points="448.5,515.6 454.8,513.2 447.3,510.7 441,513.2" fill="#0000fc" stroke="#000"/>
<polygon points="462.3,515.6 468.6,513.2 461,510.7 454.8,513.2" fill="#0000fc" stroke="#000"/>
<polygon points="476.2,515.6 482.4,513.2 474.7,510.7 468.6,513.2" fill="#0000fc" stroke="#000"/>
<polygon points="490.1,515.6 496.2,513.1 488.5,510.7 482.4,513.2" fill="#0000fc" stroke="#000"/>
<polygon points="205.9,517.8 213.5,515.4 207.4,512.9 199.7,515.3" fill="#0000fc" stroke="#000"/>
<polygon points="219.7,517.9 227.3,515.4 221.1,512.9 213.5,515.4" fill="#0000fc" stroke="#000"/>
<polygon points="233.6,517.9 241.1,515.4 234.8,512.9 227.3,515.4" fill="#0000fc" stroke="#000"/>
<polygon points="247.5,517.9 254.9,515.5 248.5,513 241.1,515.4" fill="#0000fc" stroke="#000"/>
<polygon points="261.3,518 268.7,515.5 262.2,513 254.9,515.5" fill="#0000fc" stroke="#000"/>
<polygon points="275.2,518 282.5,515.5 275.9,513 268.7,515.5" fill="#0000fc" stroke="#000"/>
<polygon points="289.1,518 296.3,515.5 289.7,513 282.5,515.5" fill="#0000fc" stroke="#000"/>
<polygon points="303,518 310.1,515.6 303.4,513.1 296.3,515.5" fill="#0000fc" stroke="#000"/>
<polygon points="316.9,518.1 323.9,515.6 317.1,513.1 310.1,515.6" fill="#0000fc" stroke="#000"/>
<polygon points="330.8,518.1 337.7,515.6 330.9,513.1 323.9,515.6" fill="#0000fc" stroke="#000"/>
<polygon points="344.7,518.1 351.6,515.6 344.6,513.1 337.7,515.6" fill="#0000fc" stroke="#000"/>
<polygon points="358.6,518.1 365.4,515.6 358.4,513.1 351.6,515.6" fill="#0000fc" stroke="#000"/>
<polygon points="372.5,518.1 379.2,515.6 372.1,513.1 365.4,515.6" fill="#0000fc" stroke="#000"/>
<polygon points="386.4,518.1 393.1,515.6 385.9,513.2 379.2,515.6" fill="#0000fc" stroke="#000"/>
<polygon points="400.3,518.1 406.9,515.6 399.7,513.2 393.1,515.6" fill="#0000fc" stroke="#000"/>
<polygon points="414.2,518.1 420.8,515.6 413.4,513.2 406.9,515.6" fill="#0000fc" stroke="#000"/>
<polygon points="428.2,518.1 434.6,515.6 427.2,513.2 420.8,515.6" fill="#0000fc" stroke="#000"/>
<polygon points="442.1,518.1 448.5,515.6 441,513.2 434.6,515.6" fill="#0000fc" stroke="#000"/>
<polygon points="456,518.1 462.3,515.6 454.8,513.2 448.5,515.6" fill="#0000fc" stroke="#000"/>
<polygon points="470,518.1 476.2,515.6 468.6,513.2 462.3,515.6" fill="#0000fc" stroke="#000"/>
<polygon points="483.9,518.1 490.1,515.6 482.4,513.2 476.2,515.6" fill="#0000fc" stroke="#000"/>
<polygon points="212.1,520.4 219.7,517.9 213.5,515.4 205.9,517.8" fill="#0000fc" stroke="#000"/>
<polygon points="226,520.4 233.6,517.9 227.3,515.4 219.7,517.9" fill="#0000fc" stroke="#000"/>
<polygon points="240,520.4 247.5,517.9 241.1,515.4 233.6,517.9" fill="#0000fc" stroke="#000"/>
<polygon points="253.9,520.5 261.3,518 254.9,515.5 247.5,517.9" fill="#0000fc" stroke="#000"/>
<polygon points="267.9,520.5 275.2,518 268.7,515.5 261.3,518" fill="#0000fc" stroke="#000"/>
<polygon points="281.8,520.5 289.1,518 282.5,515.5 275.2,518" fill="#0000fc" stroke="#000"/>
<polygon points="295.8,520.6 303,518 296.3,515.5 289.1,518" fill="#0000fc" stroke="#000"/>
<polygon points="309.7,520.6 316.9,518.1 310.1,515.6 303,518" fill="#0000fc" stroke="#000"/>
<polygon points="323.7,520.6 330.8,518.1 323.9,515.6 316.9,518.1" fill="#0000fc" stroke="#000"/>
<polygon points="337.7,520.6 344.7,518.1 337.7,515.6 330.8,518.1" fill="#0000fc" stroke="#000"/>
<polygon points="351.7,520.6 358.6,518.1 351.6,515.6 344.7,518.1" fill="#0000fc" stroke="#000"/>
<polygon points="365.6,520.6 372.5,518.1 365.4,515.6 358.6,518.1" fill="#0000fc" stroke="#000"/>
<polygon points="379.6,520.7 386.4,518.1 379.2,515.6 372.5,518.1" fill="#0000fc" stroke="#000"/>
<polygon points="393.6,520.7 400.3,518.1 393.1,515.6 386.4,518.1" fill="#0000fc" stroke="#000"/>
<polygon points="407.6,520.7 414.2,518.1 406.9,515.6 400.3,518.1" fill="#0000fc" stroke="#000"/>
<polygon points="421.6,520.7 428.2,518.1 420.8,515.6 414.2,518.1" fill="#0000fc" stroke="#000"/>
<polygon points="435.6,520.7 442.1,518.1 434.6,515.6 428.2,518.1" fill="#0000fc" stroke="#000"/>
<polygon points="449.7,520.7 456,518.1 448.5,515.6 442.1,518.1" fill="#0000fc" stroke="#000"/>
<polygon points="463.7,520.7 470,518.1 462.3,515.6 456,518.1" fill="#0000fc" stroke="#000"/>
<polygon points="477.7,520.7 483.9,518.1 476.2,515.6 470,518.1" fill="#0000fc" stroke="#000"/>
<polygon points="218.4,522.9 226,520.4 219.7,517.9 212.1,520.4" fill="#0000fc" stroke="#000"/>
<polygon points="232.4,523 240,520.4 233.6,517.9 226,520.4" fill="#0000fc" stroke="#000"/>
<polygon points="246.4,523 253.9,520.5 247.5,517.9 240,520.4" fill="#0000fc" stroke="#000"/>
<polygon points="260.4,523 267.9,520.5 261.3,518 253.9,520.5" fill="#0000fc" stroke="#000"/>
<polygon points="274.5,523.1 281.8,520.5 275.2,518 267.9,520.5" fill="#0000fc" stroke="#000"/>
<polygon points="288.5,523.1 295.8,520.6 289.1,518 281.8,520.5" fill="#0000fc" stroke="#000"/>
<polygon points="302.5,523.1 309.7,520.6 303,518 295.8,520.6" fill="#0000fc" stroke="#000"/>
<polygon points="316.6,523.1 323.7,520.6 316.9,518.1 309.7,520.6" fill="#0000fc" stroke="#000"/>
<polygon points="330.6,523.2 337.7,520.6 330.8,518.1 323.7,520.6" fill="#0000fc" stroke="#000"/>
<polygon points="344.7,523.2 351.7,520.6 344.7,518.1 337.7,520.6" fill="#0000fc" stroke="#000"/>
<polygon points="358.7,523.2 365.6,520.6 358.6,518.1 351.7,520.6" fill="#0000fc" stroke="#000"/>
<polygon points="372.8,523.2 379.6,520.7 372.5,518.1 365.6,520.6" fill="#0000fc" stroke="#000"/>
<polygon points="386.9,523.2 393.6,520.7 386.4,518.1 379.6,520.7" fill="#0000fc" stroke="#000"/>
<polygon points="401,523.2 407.6,520.7 400.3,518.1 393.6,520.7" fill="#0000fc" stroke="#000"/>
<polygon points="415,523.2 421.6,520.7 414.2,518.1 407.6,520.7" fill="#0000fc" stroke="#000"/>
<polygon points="429.1,523.2 435.6,520.7 428.2,518.1 421.6,520.7" fill="#0000fc" stroke="#000"/>
<polygon points="443.2,523.2 449.7,520.7 442.1,518.1 435.6,520.7" fill="#0000fc" stroke="#000"/>
<polygon points="457.3,523.2 463.7,520.7 456,518.1 449.7,520.7" fill="#0000fc" stroke="#000"/>
<polygon points="471.4,523.2 477.7,520.7 470,518.1 463.7,520.7" fill="#0000fc" stroke="#000"/>
<polygon points="224.7,525.5 232.4,523 226,520.4 218.4,522.9" fill="#0000fc" stroke="#000"/>
<polygon points="238.8,525.6 246.4,523 240,520.4 232.4,523" fill="#0000fc" stroke="#000"/>
<polygon points="252.9,525.6 260.4,523 253.9,520.5 246.4,523" fill="#0000fc" stroke="#000"/>
<polygon points="267,525.6 274.5,523.1 267.9,520.5 260.4,523" fill="#0000fc" stroke="#000"/>
<polygon points="281.1,525.7 288.5,523.1 281.8,520.5 274.5,523.1" fill="#0000fc" stroke="#000"/>
<polygon points="295.3,525.7 302.5,523.1 295.8,520.6 288.5,523.1" fill="#0000fc" stroke="#000"/>
<polygon points="309.4,525.7 316.6,523.1 309.7,520.6 302.5,523.1" fill="#0000fc" stroke="#000"/>
<polygon points="323.5,525.7 330.6,523.2 323.7,520.6 316.6,523.1" fill="#0000fc" stroke="#000"/>
<polygon points="337.6,525.8 344.7,523.2 337.7,520.6 330.6,523.2" fill="#0000fc" stroke="#000"/>
<polygon points="351.8,525.8 358.7,523.2 351.7,520.6 344.7,523.2" fill="#0000fc" stroke="#000"/>
<polygon points="365.9,525.8 372.8,523.2 365.6,520.6 358.7,523.2" fill="#0000fc" stroke="#000"/>
<polygon points="380.1,525.8 386.9,523.2 379.6,520.7 372.8,523.2" fill="#0000fc" stroke="#000"/>
<polygon points="394.2,525.8 401,523.2 393.6,520.7 386.9,523.2" fill="#0000fc" stroke="#000"/>
<polygon points="408.4,525.8 415,523.2 407.6,520.7 401,523.2" fill="#0000fc" stroke="#000"/>
<polygon points="422.5,525.8 429.1,523.2 421.6,520.7 415,523.2" fill="#0000fc" stroke="#000"/>
<polygon points="436.7,525.8 443.2,523.2 435.6,520.7 429.1,523.2" fill="#0000fc" stroke="#000"/>
<polygon points="450.9,525.8 457.3,523.2 449.7,520.7 443.2,523.2" fill="#0000fc" stroke="#000"/>
<polygon points="465,525.8 471.4,523.2 463.7,520.7 457.3,523.2" fill="#0000fc" stroke="#000"/>
<polygon points="231.2,528.2 238.8,525.6 232.4,523 224.7,525.5" fill="#0000fc" stroke="#000"/>
<polygon points="245.3,528.2 252.9,525.6 246.4,523 238.8,525.6" fill="#0000fc" stroke="#000"/>
<polygon points="259.5,528.2 267,525.6 260.4,523 252.9,525.6" fill="#0000fc" stroke="#000"/>
<polygon points="273.7,528.3 281.1,525.7 274.5,523.1 267,525.6" fill="#0000fc" stroke="#000"/>
<polygon points="287.9,528.3 295.3,525.7 288.5,523.1 281.1,525.7" fill="#0000fc" stroke="#000"/>
<polygon points="302.1,528.3 309.4,525.7 302.5,523.1 295.3,525.7" fill="#0000fc" stroke="#000"/>
<polygon points="316.3,528.3 323.5,525.7 316.6,523.1 309.4,525.7" fill="#0000fc" stroke="#000"/>
<polygon points="330.5,528.4 337.6,525.8 330.6,523.2 323.5,525.7" fill="#0000fc" stroke="#000"/>
<polygon points="344.7,528.4 351.8,525.8 344.7,523.2 337.6,525.8" fill="#0000fc" stroke="#000"/>
<polygon points="358.9,528.4 365.9,525.8 358.7,523.2 351.8,525.8" fill="#0000fc" stroke="#000"/>
<polygon points="373.2,528.4 380.1,525.8 372.8,523.2 365.9,525.8" fill="#0000fc" stroke="#000"/>
<polygon points="387.4,528.4 394.2,525.8 386.9,523.2 380.1,525.8" fill="#0000fc" stroke="#000"/>
<polygon points="401.6,528.4 408.4,525.8 401,523.2 394.2,525.8" fill="#0000fc" stroke="#000"/>
<polygon points="415.9,528.4 422.5,525.8 415,523.2 408.4,525.8" fill="#0000fc" stroke="#000"/>
<polygon points="430.1,528.4 436.7,525.8 429.1,523.2 422.5,525.8" fill="#0000fc" stroke="#000"/>
<polygon points="444.4,528.4 450.9,525.8 443.2,523.2 436.7,525.8" fill="#0000fc" stroke="#000"/>
<polygon points="458.6,528.4 465,525.8 457.3,523.2 450.9,525.8" fill="#0000fc" stroke="#000"/>
<polygon points="237.7,530.8 245.3,528.2 238.8,525.6 231.2,528.2" fill="#0000fc" stroke="#000"/>
<polygon points="251.9,530.9 259.5,528.2 252.9,525.6 245.3,528.2" fill="#0000fc" stroke="#000"/>
<polygon points="266.2,530.9 273.7,528.3 267,525.6 259.5,528.2" fill="#0000fc" stroke="#000"/>
<polygon points="280.5,530.9 287.9,528.3 281.1,525.7 273.7,528.3" fill="#0000fc" stroke="#000"/>
<polygon points="294.7,530.9 302.1,528.3 295.3,525.7 287.9,528.3" fill="#0000fc" stroke="#000"/>
<polygon points="309,531 316.3,528.3 309.4,525.7 302.1,528.3" fill="#0000fc" stroke="#000"/>
<polygon points="323.3,531 330.5,528.4 323.5,525.7 316.3,528.3" fill="#0000fc" stroke="#000"/>
<polygon points="337.6,531 344.7,528.4 337.6,525.8 330.5,528.4" fill="#0000fc" stroke="#000"/>
<polygon points="351.9,531 358.9,528.4 351.8,525.8 344.7,528.4" fill="#0000fc" stroke="#000"/>
<polygon points="366.2,531.1 373.2,528.4 365.9,525.8 358.9,528.4" fill="#0000fc" stroke="#000"/>
<polygon points="380.5,531.1 387.4,528.4 380.1,525.8 373.2,528.4" fill="#0000fc" stroke="#000"/>
<polygon points="394.8,531.1 401.6,528.4 394.2,525.8 387.4,528.4" fill="#0000fc" stroke="#000"/>
<polygon points="409.1,531.1 415.9,528.4 408.4,525.8 401.6,528.4" fill="#0000fc" stroke="#000"/>
<polygon points="423.4,531.1 430.1,528.4 422.5,525.8 415.9,528.4" fill="#0000fc" stroke="#000"/>
<polygon points="437.8,531.1 444.4,528.4 436.7,525.8 430.1,528.4" fill="#0000fc" stroke="#000"/>
<polygon points="452.1,531.1 458.6,528.4 450.9,525.8 444.4,528.4" fill="#0000fc" stroke="#000"/>
<polygon points="244.2,533.5 251.9,530.9 245.3,528.2 237.7,530.8" fill="#0000fc" stroke="#000"/>
<polygon points="258.6,533.5 266.2,530.9 259.5,528.2 251.9,530.9" fill="#0000fc" stroke="#000"/>
<polygon points="272.9,533.6 280.5,530.9 273.7,528.3 266.2,530.9" fill="#0000fc" stroke="#000"/>
<polygon points="287.3,533.6 294.7,530.9 287.9,528.3 280.5,530.9" fill="#0000fc" stroke="#000"/>
<polygon points="301.6,533.6 309,531 302.1,528.3 294.7,530.9" fill="#0000fc" stroke="#000"/>
<polygon points="316,533.7 323.3,531 316.3,528.3 309,531" fill="#0000fc" stroke="#000"/>
<polygon points="330.4,533.7 337.6,531 330.5,528.4 323.3,531" fill="#0000fc" stroke="#000"/>
<polygon points="344.8,533.7 351.9,531 344.7,528.4 337.6,531" fill="#0000fc" stroke="#000"/>
<polygon points="359.1,533.7 366.2,531.1 358.9,528.4 351.9,531" fill="#0000fc" stroke="#000"/>
<polygon points="373.5,533.7 380.5,531.1 373.2,528.4 366.2,531.1" fill="#0000fc" stroke="#000"/>
<polygon points="387.9,533.7 394.8,531.1 387.4,528.4 380.5,531.1" fill="#0000fc" stroke="#000"/>
<polygon points="402.3,533.8 409.1,531.1 401.6,528.4 394.8,531.1" fill="#0000fc" stroke="#000"/>
<polygon points="416.7,533.8 423.4,531.1 415.9,528.4 409.1,531.1" fill="#0000fc" stroke="#000"/>
<polygon points="431.1,533.8 437.8,531.1 430.1,528.4 423.4,531.1" fill="#0000fc" stroke="#000"/>
<polygon points="445.5,533.8 452.1,531.1 444.4,528.4 437.8,531.1" fill="#0000fc" stroke="#000"/>
<polygon points="250.9,536.2 258.6,533.5 251.9,530.9 244.2,533.5" fill="#0000fc" stroke="#000"/>
<polygon points="265.3,536.3 272.9,533.6 266.2,530.9 258.6,533.5" fill="#0000fc" stroke="#000"/>
<polygon points="279.7,536.3 287.3,533.6 280.5,530.9 272.9,533.6" fill="#0000fc" stroke="#000"/>
<polygon points="294.2,536.3 301.6,533.6 294.7,530.9 287.3,533.6" fill="#0000fc" stroke="#000"/>
<polygon points="308.6,536.4 316,533.7 309,531 301.6,533.6" fill="#0000fc" stroke="#000"/>
<polygon points="323.1,536.4 330.4,533.7 323.3,531 316,533.7" fill="#0000fc" stroke="#000"/>
<polygon points="337.5,536.4 344.8,533.7 337.6,531 330.4,533.7" fill="#0000fc" stroke="#000"/>
<polygon points="352,536.4 359.1,533.7 351.9,531 344.8,533.7" fill="#0000fc" stroke="#000"/>
<polygon points="366.5,536.4 373.5,533.7 366.2,531.1 359.1,533.7" fill="#0000fc" stroke="#000"/>
<polygon points="380.9,536.5 387.9,533.7 380.5,531.1 373.5,533.7" fill="#0000fc" stroke="#000"/>
<polygon points="395.4,536.5 402.3,533.8 394.8,531.1 387.9,533.7" fill="#0000fc" stroke="#000"/>
<polygon points="409.9,536.5 416.7,533.8 409.1,531.1 402.3,533.8" fill="#0000fc" stroke="#000"/>
<polygon points="424.4,536.5 431.1,533.8 423.4,531.1 416.7,533.8" fill="#0000fc" stroke="#000"/>
<polygon points="438.9,536.5 445.5,533.8 437.8,531.1 431.1,533.8" fill="#0000fc" stroke="#000"/>
<polygon points="257.6,539 265.3,536.3 258.6,533.5 250.9,536.2" fill="#0000fc" stroke="#000"/>
<polygon points="272.1,539 279.7,536.3 272.9,533.6 265.3,536.3" fill="#0000fc" stroke="#000"/>
<polygon points="286.6,539.1 294.2,536.3 287.3,533.6 279.7,536.3" fill="#0000fc" stroke="#000"/>
<polygon points="301.2,539.1 308.6,536.4 301.6,533.6 294.2,536.3" fill="#0000fc" stroke="#000"/>
<polygon points="315.7,539.1 323.1,536.4 316,533.7 308.6,536.4" fill="#0000fc" stroke="#000"/>
<polygon points="330.2,539.1 337.5,536.4 330.4,533.7 323.1,536.4" fill="#0000fc" stroke="#000"/>
<polygon points="344.8,539.2 352,536.4 344.8,533.7 337.5,536.4" fill="#0000fc" stroke="#000"/>
<polygon points="359.3,539.2 366.5,536.4 359.1,533.7 352,536.4" fill="#0000fc" stroke="#000"/>
<polygon points="373.9,539.2 380.9,536.5 373.5,533.7 366.5,536.4" fill="#0000fc" stroke="#000"/>
<polygon points="388.4,539.2 395.4,536.5 387.9,533.7 380.9,536.5" fill="#0000fc" stroke="#000"/>
<polygon points="403,539.2 409.9,536.5 402.3,533.8 395.4,536.5" fill="#0000fc" stroke="#000"/>
<polygon points="417.6,539.2 424.4,536.5 416.7,533.8 409.9,536.5" fill="#0000fc" stroke="#000"/>
<polygon points="432.1,539.2 438.9,536.5 431.1,533.8 424.4,536.5" fill="#0000fc" stroke="#000"/>
<polygon points="264.4,541.8 272.1,539 265.3,536.3 257.6,539" fill="#0000fc" stroke="#000"/>
<polygon points="279,541.8 286.6,539.1 279.7,536.3 272.1,539" fill="#0000fc" stroke="#000"/>
<polygon points="293.6,541.8 301.2,539.1 294.2,536.3 286.6,539.1" fill="#0000fc" stroke="#000"/>
<polygon points="308.2,541.9 315.7,539.1 308.6,536.4 301.2,539.1" fill="#0000fc" stroke="#000"/>
<polygon points="322.9,541.9 330.2,539.1 323.1,536.4 315.7,539.1" fill="#0000fc" stroke="#000"/>
<polygon points="337.5,541.9 344.8,539.2 337.5,536.4 330.2,539.1" fill="#0000fc" stroke="#000"/>
<polygon points="352.1,541.9 359.3,539.2 352,536.4 344.8,539.2" fill="#0000fc" stroke="#000"/>
<polygon points="366.7,542 373.9,539.2 366.5,536.4 359.3,539.2" fill="#0000fc" stroke="#000"/>
<polygon points="381.4,542 388.4,539.2 380.9,536.5 373.9,539.2" fill="#0000fc" stroke="#000"/>
<polygon points="396,542 403,539.2 395.4,536.5 388.4,539.2" fill="#0000fc" stroke="#000"/>
<polygon points="410.7,542 417.6,539.2 409.9,536.5 403,539.2" fill="#0000fc" stroke="#000"/>
<polygon points="425.3,542 432.1,539.2 424.4,536.5 417.6,539.2" fill="#0000fc" stroke="#000"/>
<polygon points="271.3,544.6 279,541.8 272.1,539 264.4,541.8" fill="#0000fc" stroke="#000"/>
<polygon points="286,544.6 293.6,541.8 286.6,539.1 279,541.8" fill="#0000fc" stroke="#000"/>
<polygon points="300.7,544.7 308.2,541.9 301.2,539.1 293.6,541.8" fill="#0000fc" stroke="#000"/>
<polygon points="315.4,544.7 322.9,541.9 315.7,539.1 308.2,541.9" fill="#0000fc" stroke="#000"/>
<polygon points="330.1,544.7 337.5,541.9 330.2,539.1 322.9,541.9" fill="#0000fc" stroke="#000"/>
<polygon points="344.8,544.7 352.1,541.9 344.8,539.2 337.5,541.9" fill="#0000fc" stroke="#000"/>
<polygon points="359.5,544.7 366.7,542 359.3,539.2 352.1,541.9" fill="#0000fc" stroke="#000"/>
<polygon points="374.3,544.8 381.4,542 373.9,539.2 366.7,542" fill="#0000fc" stroke="#000"/>
<polygon points="389,544.8 396,542 388.4,539.2 381.4,542" fill="#0000fc" stroke="#000"/>
<polygon points="403.7,544.8 410.7,542 403,539.2 396,542" fill="#0000fc" stroke="#000"/>
<polygon points="418.5,544.8 425.3,542 417.6,539.2 410.7,542" fill="#0000fc" stroke="#000"/>
<polygon points="278.3,547.4 286,544.6 279,541.8 271.3,544.6" fill="#0000fc" stroke="#000"/>
<polygon points="293.1,547.5 300.7,544.7 293.6,541.8 286,544.6" fill="#0000fc" stroke="#000"/>
<polygon points="307.8,547.5 315.4,544.7 308.2,541.9 300.7,544.7" fill="#0000fc" stroke="#000"/>
<polygon points="322.6,547.5 330.1,544.7 322.9,541.9 315.4,544.7" fill="#0000fc" stroke="#000"/>
<polygon points="337.4,547.6 344.8,544.7 337.5,541.9 330.1,544.7" fill="#0000fc" stroke="#000"/>
<polygon points="352.2,547.6 359.5,544.7 352.1,541.9 344.8,544.7" fill="#0000fc" stroke="#000"/>
<polygon points="367,547.6 374.3,544.8 366.7,542 359.5,544.7" fill="#0000fc" stroke="#000"/>
<polygon points="381.9,547.6 389,544.8 381.4,542 374.3,544.8" fill="#0000fc" stroke="#000"/>
<polygon points="396.7,547.6 403.7,544.8 396,542 389,544.8" fill="#0000fc" stroke="#000"/>
<polygon points="411.5,547.6 418.5,544.8 410.7,542 403.7,544.8" fill="#0000fc" stroke="#000"/>
<polygon points="285.3,550.3 293.1,547.5 286,544.6 278.3,547.4" fill="#0000fc" stroke="#000"/>
<polygon points="300.2,550.4 307.8,547.5 300.7,544.7 293.1,547.5" fill="#0000fc" stroke="#000"/>
<polygon points="315.1,550.4 322.6,547.5 315.4,544.7 307.8,547.5" fill="#0000fc" stroke="#000"/>
<polygon points="330,550.4 337.4,547.6 330.1,544.7 322.6,547.5" fill="#0000fc" stroke="#000"/>
<polygon points="344.9,550.4 352.2,547.6 344.8,544.7 337.4,547.6" fill="#0000fc" stroke="#000"/>
<polygon points="359.7,550.5 367,547.6 359.5,544.7 352.2,547.6" fill="#0000fc" stroke="#000"/>
<polygon points="374.6,550.5 381.9,547.6 374.3,544.8 367,547.6" fill="#0000fc" stroke="#000"/>
<polygon points="389.5,550.5 396.7,547.6 389,544.8 381.9,547.6" fill="#0000fc" stroke="#000"/>
<polygon points="404.4,550.5 411.5,547.6 403.7,544.8 396.7,547.6" fill="#0000fc" stroke="#000"/>
<polygon points="292.5,553.3 300.2,550.4 293.1,547.5 285.3,550.3" fill="#0000fc" stroke="#000"/>
<polygon points="307.4,553.3 315.1,550.4 307.8,547.5 300.2,550.4" fill="#0000fc" stroke="#000"/>
<polygon points="322.4,553.3 330,550.4 322.6,547.5 315.1,550.4" fill="#0000fc" stroke="#000"/>
<polygon points="337.4,553.3 344.9,550.4 337.4,547.6 330,550.4" fill="#0000fc" stroke="#000"/>
<polygon points="352.4,553.4 359.7,550.5 352.2,547.6 344.9,550.4" fill="#0000fc" stroke="#000"/>
<polygon points="367.3,553.4 374.6,550.5 367,547.6 359.7,550.5" fill="#0000fc" stroke="#000"/>
<polygon points="382.3,553.4 389.5,550.5 381.9,547.6 374.6,550.5" fill="#0000fc" stroke="#000"/>
<polygon points="397.3,553.4 404.4,550.5 396.7,547.6 389.5,550.5" fill="#0000fc" stroke="#000"/>
<polygon points="299.7,556.2 307.4,553.3 300.2,550.4 292.5,553.3" fill="#0000fc" stroke="#000"/>
<polygon points="314.8,556.2 322.4,553.3 315.1,550.4 307.4,553.3" fill="#0000fc" stroke="#000"/>
<polygon points="329.8,556.3 337.4,553.3 330,550.4 322.4,553.3" fill="#0000fc" stroke="#000"/>
<polygon points="344.9,556.3 352.4,553.4 344.9,550.4 337.4,553.3" fill="#0000fc" stroke="#000"/>
<polygon points="360,556.3 367.3,553.4 359.7,550.5 352.4,553.4" fill="#0000fc" stroke="#000"/>
<polygon points="375,556.3 382.3,553.4 374.6,550.5 367.3,553.4" fill="#0000fc" stroke="#000"/>
<polygon points="390.1,556.3 397.3,553.4 389.5,550.5 382.3,553.4" fill="#0000fc" stroke="#000"/>
<polygon points="307,559.2 314.8,556.2 307.4,553.3 299.7,556.2" fill="#0000fc" stroke="#000"/>
<polygon points="322.2,559.2 329.8,556.3 322.4,553.3 314.8,556.2" fill="#0000fc" stroke="#000"/>
<polygon points="337.3,559.3 344.9,556.3 337.4,553.3 329.8,556.3" fill="#0000fc" stroke="#000"/>
<polygon points="352.5,559.3 360,556.3 352.4,553.4 344.9,556.3" fill="#0000fc" stroke="#000"/>
<polygon points="367.6,559.3 375,556.3 367.3,553.4 360,556.3" fill="#0000fc" stroke="#000"/>
<polygon points="382.8,559.3 390.1,556.3 382.3,553.4 375,556.3" fill="#0000fc" stroke="#000"/>
<polygon points="314.4,562.2 322.2,559.2 314.8,556.2 307,559.2" fill="#0000fc" stroke="#000"/>
<polygon points="329.7,562.3 337.3,559.3 329.8,556.3 322.2,559.2" fill="#0000fc" stroke="#000"/>
<polygon points="344.9,562.3 352.5,559.3 344.9,556.3 337.3,559.3" fill="#0000fc" stroke="#000"/>
<polygon points="360.2,562.3 367.6,559.3 360,556.3 352.5,559.3" fill="#0000fc" stroke="#000"/>
<polygon points="375.4,562.3 382.8,559.3 375,556.3 367.6,559.3" fill="#0000fc" stroke="#000"/>
<polygon points="321.9,565.3 329.7,562.3 322.2,559.2 314.4,562.2" fill="#0000fc" stroke="#000"/>
<polygon points="337.3,565.3 344.9,562.3 337.3,559.3 329.7,562.3" fill="#0000fc" stroke="#000"/>
<polygon points="352.6,565.3 360.2,562.3 352.5,559.3 344.9,562.3" fill="#0000fc" stroke="#000"/>
<polygon points="368,565.4 375.4,562.3 367.6,559.3 360.2,562.3" fill="#0000fc" stroke="#000"/>
<polygon points="329.5,568.4 337.3,565.3 329.7,562.3 321.9,565.3" fill="#0000fc" stroke="#000"/>
<polygon points="345,568.4 352.6,565.3 344.9,562.3 337.3,565.3" fill="#0000fc" stroke="#000"/>
<polygon points="360.4,568.5 368,565.4 360.2,562.3 352.6,565.3" fill="#0000fc" stroke="#000"/>
<polygon points="337.2,571.5 345,568.4 337.3,565.3 329.5,568.4" fill="#0000fc" stroke="#000"/>
<polygon points="352.7,571.6 360.4,568.5 352.6,565.3 345,568.4" fill="#0000fc" stroke="#000"/>
<polygon points="345,574.7 352.7,571.6 345,568.4 337.2,571.5" fill="#0000fc" stroke="#000"/>
</g>
<circle cx="344.2" cy="465" r="3.0" fill="#b80a0a" stroke="#6a0000" stroke-width="0.7"/>
<circle cx="496.3" cy="513.1" r="3.0" fill="#b80a0a" stroke="#6a0000" stroke-width="0.7"/>
<circle cx="344.7" cy="512.6" r="3.0" fill="#b80a0a" stroke="#6a0000" stroke-width="0.7"/>
</g>
<g font-family='"Liberation Sans", Arial, sans-serif' font-size="10.5" text-anchor="middle" fill="#141414" stroke="#141414" stroke-width="0.2">
<text transform="translate(25.1,34.2) scale(0.8,1)">4</text>
<text transform="translate(26.4,63.8) scale(0.8,1)">3</text>
<text transform="translate(27.6,93.5) scale(0.8,1)">2</text>
<text transform="translate(29.8,123.8) scale(0.8,1)">1</text>
<text transform="translate(30.3,153.9) scale(0.8,1)">0</text>
<text transform="translate(30.5,184) scale(0.8,1)">-1</text>
<text transform="translate(32.6,243.7) scale(0.8,1)">15</text>
<text transform="translate(58.4,257.6) scale(0.8,1)">13</text>
<text transform="translate(84,271.6) scale(0.8,1)">11</text>
<text transform="translate(111.8,285.2) scale(0.8,1)">9</text>
<text transform="translate(137.4,298.8) scale(0.8,1)">7</text>
<text transform="translate(164.6,312.6) scale(0.8,1)">5</text>
<text transform="translate(184.4,312.6) scale(0.8,1)">200</text>
<text transform="translate(215.8,295.8) scale(0.8,1)">300</text>
<text transform="translate(247.9,278.7) scale(0.8,1)">400</text>
<text transform="translate(280.6,261.2) scale(0.8,1)">500</text>
<text transform="translate(313.3,243.8) scale(0.8,1)">600</text>
<text transform="translate(56.5,298.4) scale(0.825,1)">B: Time (min)</text>
<text transform="translate(286.2,298.4) scale(0.81,1)">A: Pressure (Mpa)</text>
<text transform="translate(9.1,137) rotate(-90) scale(0.851,1)">YMC (log CFU/g)</text>
<text transform="translate(394.5,38.8) scale(0.8,1)">4</text>
<text transform="translate(395.3,69.3) scale(0.8,1)">3</text>
<text transform="translate(396.5,100.2) scale(0.8,1)">2</text>
<text transform="translate(398.3,131.2) scale(0.8,1)">1</text>
<text transform="translate(399.5,161.9) scale(0.8,1)">0</text>
<text transform="translate(399.5,193) scale(0.8,1)">-1</text>
<text transform="translate(400.8,254.1) scale(0.8,1)">45</text>
<text transform="translate(425.9,269.1) scale(0.8,1)">40</text>
<text transform="translate(451.5,282.9) scale(0.8,1)">35</text>
<text transform="translate(476.9,296.8) scale(0.8,1)">30</text>
<text transform="translate(502,311.1) scale(0.8,1)">25</text>
<text transform="translate(527.6,324.4) scale(0.8,1)">20</text>
<text transform="translate(549.4,324.4) scale(0.8,1)">200</text>
<text transform="translate(580.1,307.2) scale(0.8,1)">300</text>
<text transform="translate(612.7,289.2) scale(0.8,1)">400</text>
<text transform="translate(644.2,271.6) scale(0.8,1)">500</text>
<text transform="translate(676.8,253.6) scale(0.8,1)">600</text>
<text transform="translate(424.2,310.1) scale(0.78,1)">C: Temp (C)</text>
<text transform="translate(649.9,310.1) scale(0.81,1)">A: Pressure (Mpa)</text>
<text transform="translate(380.4,144.3) rotate(-90) scale(0.851,1)">YMC (log CFU/g)</text>
<text transform="translate(178.4,387.6) scale(0.8,1)">4</text>
<text transform="translate(180.2,418.2) scale(0.8,1)">3</text>
<text transform="translate(181.4,447.9) scale(0.8,1)">2</text>
<text transform="translate(183.3,478.4) scale(0.8,1)">1</text>
<text transform="translate(184.2,508.6) scale(0.8,1)">0</text>
<text transform="translate(184.5,539.6) scale(0.8,1)">-1</text>
<text transform="translate(163.2,493.2) rotate(-90) scale(0.851,1)">YMC (log CFU/g)</text>
<text transform="translate(186,600.2) scale(0.86,1)" font-size="11.0">45</text>
<text transform="translate(215.6,614.5) scale(0.86,1)" font-size="11.0">40</text>
<text transform="translate(245,628.8) scale(0.86,1)" font-size="11.0">35</text>
<text transform="translate(274.7,642.6) scale(0.86,1)" font-size="11.0">30</text>
<text transform="translate(303.9,656.3) scale(0.86,1)" font-size="11.0">25</text>
<text transform="translate(333.9,669.7) scale(0.86,1)" font-size="11.0">20</text>
<text transform="translate(353.7,669.7) scale(0.86,1)" font-size="11.0">5</text>
<text transform="translate(383.4,655.6) scale(0.86,1)" font-size="11.0">7</text>
<text transform="translate(412.3,642.2) scale(0.86,1)" font-size="11.0">9</text>
<text transform="translate(444.6,628.5) scale(0.86,1)" font-size="11.0">11</text>
<text transform="translate(474,614.8) scale(0.86,1)" font-size="11.0">13</text>
<text transform="translate(503.4,600.4) scale(0.86,1)" font-size="11.0">15</text>
<text transform="translate(213.4,655.4) scale(0.849,1)" font-size="11.0">C: Temp (C)</text>
<text transform="translate(475.4,655.4) scale(0.898,1)" font-size="11.0">B: Time (min)</text>
</g>
<g font-family='"Liberation Serif", "Times New Roman", serif' font-size="14.6" font-weight="bold" text-anchor="middle" fill="#111">
<text x="13.3" y="15.7">(A)</text>
<text x="368.1" y="15.9">(B)</text>
<text x="159.8" y="369">(C)</text>
</g>
</svg>
</body></html>
